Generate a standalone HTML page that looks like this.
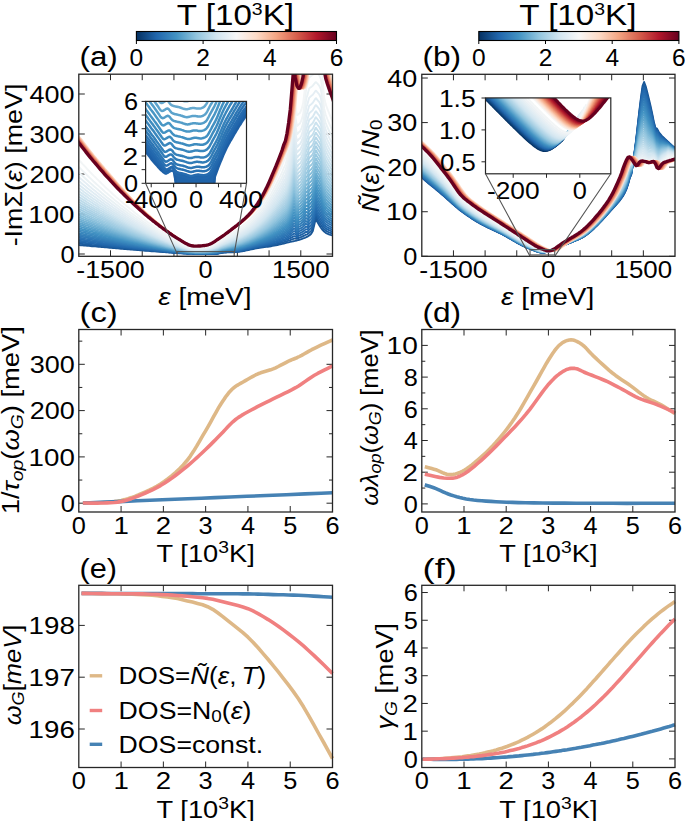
<!DOCTYPE html><html><head><meta charset="utf-8"><style>html,body{margin:0;padding:0;background:#fff;overflow:hidden;width:685px;height:821px;}svg{display:block;}</style></head><body><svg width="685" height="821" viewBox="0 0 685 821" font-family='"Liberation Sans", sans-serif'>
<rect width="685" height="821" fill="#fff"/>
<defs>
<linearGradient id="cb"><stop offset="0.00" stop-color="#053061"/><stop offset="0.05" stop-color="#134b86"/><stop offset="0.10" stop-color="#2166ac"/><stop offset="0.15" stop-color="#327cb8"/><stop offset="0.20" stop-color="#4393c3"/><stop offset="0.25" stop-color="#6aacd0"/><stop offset="0.30" stop-color="#92c5de"/><stop offset="0.35" stop-color="#b2d5e7"/><stop offset="0.40" stop-color="#d1e5f0"/><stop offset="0.45" stop-color="#e4eef4"/><stop offset="0.50" stop-color="#f7f7f7"/><stop offset="0.55" stop-color="#fae9df"/><stop offset="0.60" stop-color="#fddbc7"/><stop offset="0.65" stop-color="#f8c0a4"/><stop offset="0.70" stop-color="#f4a582"/><stop offset="0.75" stop-color="#e58268"/><stop offset="0.80" stop-color="#d6604d"/><stop offset="0.85" stop-color="#c43c3c"/><stop offset="0.90" stop-color="#b2182b"/><stop offset="0.95" stop-color="#8c0c25"/><stop offset="1.00" stop-color="#67001f"/></linearGradient>
<clipPath id="clipA"><rect x="78.8" y="74.2" width="253.7" height="182.1"/></clipPath>
<clipPath id="clipAi"><rect x="145.6" y="101.4" width="100.9" height="81.9"/></clipPath>
<clipPath id="clipB"><rect x="421.8" y="74.3" width="253.2" height="182"/></clipPath>
<clipPath id="clipBi"><rect x="485.5" y="97.9" width="125.3" height="75.9"/></clipPath>
</defs>
<rect x="136.40" y="31.5" width="200.10" height="9" fill="url(#cb)" stroke="#000" stroke-width="1.1"/>
<path d="M136.40,44.00v-3.20M203.10,44.00v-3.20M269.80,44.00v-3.20M336.50,44.00v-3.20" stroke="#000" stroke-width="1.00" fill="none"/>
<text id="t1" transform="translate(136.40,65.60)" font-size="24.50" text-anchor="middle" >0</text>
<text id="t2" transform="translate(203.10,65.60)" font-size="24.50" text-anchor="middle" >2</text>
<text id="t3" transform="translate(269.80,65.60)" font-size="24.50" text-anchor="middle" >4</text>
<text id="t4" transform="translate(336.50,65.60)" font-size="24.50" text-anchor="middle" >6</text>
<text id="t5" transform="translate(235.45,25.00) scale(1.1444,1)" font-size="29.00" text-anchor="middle" >T [10<tspan font-size="17" dy="-10">3</tspan><tspan dy="10">K]</tspan></text>
<rect x="478.80" y="31.5" width="200.10" height="9" fill="url(#cb)" stroke="#000" stroke-width="1.1"/>
<path d="M478.80,44.00v-3.20M545.50,44.00v-3.20M612.20,44.00v-3.20M678.90,44.00v-3.20" stroke="#000" stroke-width="1.00" fill="none"/>
<text id="t6" transform="translate(478.80,65.60)" font-size="24.50" text-anchor="middle" >0</text>
<text id="t7" transform="translate(545.50,65.60)" font-size="24.50" text-anchor="middle" >2</text>
<text id="t8" transform="translate(612.20,65.60)" font-size="24.50" text-anchor="middle" >4</text>
<text id="t9" transform="translate(678.90,65.60)" font-size="24.50" text-anchor="middle" >6</text>
<text id="t10" transform="translate(577.85,25.00) scale(1.1444,1)" font-size="29.00" text-anchor="middle" >T [10<tspan font-size="17" dy="-10">3</tspan><tspan dy="10">K]</tspan></text>
<text id="t11" transform="translate(79.50,66.30) scale(1.1194,1)" font-size="28.00" text-anchor="start" >(a)</text>
<text id="t12" transform="translate(422.50,66.30) scale(1.1290,1)" font-size="28.00" text-anchor="start" >(b)</text>
<text id="t13" transform="translate(79.50,321.70) scale(1.1724,1)" font-size="28.00" text-anchor="start" >(c)</text>
<text id="t14" transform="translate(422.50,321.70) scale(1.1290,1)" font-size="28.00" text-anchor="start" >(d)</text>
<text id="t15" transform="translate(79.50,577.50) scale(1.0968,1)" font-size="28.00" text-anchor="start" >(e)</text>
<text id="t16" transform="translate(422.50,577.50) scale(1.3043,1)" font-size="28.00" text-anchor="start" >(f)</text>
<path d="M110.51,256.30v-6.00M110.51,74.20v6.00M142.23,256.30v-6.00M142.23,74.20v6.00M173.94,256.30v-6.00M173.94,74.20v6.00M205.65,256.30v-6.00M205.65,74.20v6.00M237.36,256.30v-6.00M237.36,74.20v6.00M269.07,256.30v-6.00M269.07,74.20v6.00M300.79,256.30v-6.00M300.79,74.20v6.00" stroke="#262626" stroke-width="1.00" fill="none"/>
<path d="M78.80,254.00h6.00M332.50,254.00h-6.00M78.80,214.00h6.00M332.50,214.00h-6.00M78.80,174.00h6.00M332.50,174.00h-6.00M78.80,134.00h6.00M332.50,134.00h-6.00M78.80,94.00h6.00M332.50,94.00h-6.00" stroke="#262626" stroke-width="1.00" fill="none"/>
<text id="t17" transform="translate(110.51,277.65) scale(1.0918,1)" font-size="24.50" text-anchor="middle" >-1500</text>
<text id="t18" transform="translate(205.65,277.65) scale(1.0333,1)" font-size="24.50" text-anchor="middle" >0</text>
<text id="t19" transform="translate(300.79,277.65) scale(1.0577,1)" font-size="24.50" text-anchor="middle" >1500</text>
<text id="t20" transform="translate(74.50,262.70) scale(1.0333,1)" font-size="24.50" text-anchor="end" >0</text>
<text id="t21" transform="translate(74.50,222.70) scale(1.1316,1)" font-size="24.50" text-anchor="end" >100</text>
<text id="t22" transform="translate(74.50,182.70) scale(1.1026,1)" font-size="24.50" text-anchor="end" >200</text>
<text id="t23" transform="translate(74.50,142.70) scale(1.1026,1)" font-size="24.50" text-anchor="end" >300</text>
<text id="t24" transform="translate(74.50,102.70) scale(1.1026,1)" font-size="24.50" text-anchor="end" >400</text>
<text id="t25" transform="translate(21.90,165.00) rotate(-90) scale(1.1196,1)" font-size="24.00" text-anchor="middle" >-Im&#931;(<tspan font-style="italic">&#949;</tspan>) [meV]</text>
<text id="t26" transform="translate(204.90,304.70) scale(1.1667,1)" font-size="24.00" text-anchor="middle" ><tspan font-style="italic">&#949;</tspan> [meV]</text>
<path d="M453.45,256.30v-6.00M453.45,74.30v6.00M485.10,256.30v-6.00M485.10,74.30v6.00M516.75,256.30v-6.00M516.75,74.30v6.00M548.40,256.30v-6.00M548.40,74.30v6.00M580.05,256.30v-6.00M580.05,74.30v6.00M611.70,256.30v-6.00M611.70,74.30v6.00M643.35,256.30v-6.00M643.35,74.30v6.00" stroke="#262626" stroke-width="1.00" fill="none"/>
<path d="M421.80,256.30h6.00M675.00,256.30h-6.00M421.80,211.73h6.00M675.00,211.73h-6.00M421.80,167.16h6.00M675.00,167.16h-6.00M421.80,122.59h6.00M675.00,122.59h-6.00M421.80,78.02h6.00M675.00,78.02h-6.00" stroke="#262626" stroke-width="1.00" fill="none"/>
<text id="t27" transform="translate(453.45,277.65) scale(1.0918,1)" font-size="24.50" text-anchor="middle" >-1500</text>
<text id="t28" transform="translate(548.40,277.65) scale(1.0333,1)" font-size="24.50" text-anchor="middle" >0</text>
<text id="t29" transform="translate(643.35,277.65) scale(1.0577,1)" font-size="24.50" text-anchor="middle" >1500</text>
<text id="t30" transform="translate(417.30,265.00) scale(1.0333,1)" font-size="24.50" text-anchor="end" >0</text>
<text id="t31" transform="translate(417.30,220.43) scale(1.1458,1)" font-size="24.50" text-anchor="end" >10</text>
<text id="t32" transform="translate(417.30,175.86) scale(1.1000,1)" font-size="24.50" text-anchor="end" >20</text>
<text id="t33" transform="translate(417.30,131.29) scale(1.1000,1)" font-size="24.50" text-anchor="end" >30</text>
<text id="t34" transform="translate(417.30,86.72) scale(1.1000,1)" font-size="24.50" text-anchor="end" >40</text>
<text id="t35" transform="translate(378.80,166.00) rotate(-90) scale(1.1037,1)" font-size="24.00" text-anchor="middle" ><tspan font-style="italic">&#209;</tspan>(<tspan font-style="italic">&#949;</tspan>) /<tspan font-style="italic">N</tspan><tspan font-size="17" dy="3.5">0</tspan></text>
<text id="t36" transform="translate(547.70,304.70) scale(1.1667,1)" font-size="24.00" text-anchor="middle" ><tspan font-style="italic">&#949;</tspan> [meV]</text>
<path d="M121.08,512.00v-6.00M121.08,329.50v6.00M163.37,512.00v-6.00M163.37,329.50v6.00M205.65,512.00v-6.00M205.65,329.50v6.00M247.93,512.00v-6.00M247.93,329.50v6.00M290.22,512.00v-6.00M290.22,329.50v6.00" stroke="#262626" stroke-width="1.00" fill="none"/>
<text id="t37" transform="translate(78.80,533.95) scale(1.0333,1)" font-size="24.50" text-anchor="middle" >0</text>
<text id="t38" transform="translate(121.08,533.95) scale(1.1273,1)" font-size="24.50" text-anchor="middle" >1</text>
<text id="t39" transform="translate(163.37,533.95) scale(1.1273,1)" font-size="24.50" text-anchor="middle" >2</text>
<text id="t40" transform="translate(205.65,533.95) scale(1.0333,1)" font-size="24.50" text-anchor="middle" >3</text>
<text id="t41" transform="translate(247.93,533.95) scale(1.0333,1)" font-size="24.50" text-anchor="middle" >4</text>
<text id="t42" transform="translate(290.22,533.95) scale(1.0333,1)" font-size="24.50" text-anchor="middle" >5</text>
<text id="t43" transform="translate(332.50,533.95) scale(1.0333,1)" font-size="24.50" text-anchor="middle" >6</text>
<text id="t44" transform="translate(205.65,562.30) scale(1.1357,1)" font-size="24.00" text-anchor="middle" >T [10<tspan font-size="17" dy="-9">3</tspan><tspan dy="9">K]</tspan></text>
<path d="M464.00,512.00v-6.00M464.00,329.50v6.00M506.20,512.00v-6.00M506.20,329.50v6.00M548.40,512.00v-6.00M548.40,329.50v6.00M590.60,512.00v-6.00M590.60,329.50v6.00M632.80,512.00v-6.00M632.80,329.50v6.00" stroke="#262626" stroke-width="1.00" fill="none"/>
<text id="t45" transform="translate(421.80,533.95) scale(1.0333,1)" font-size="24.50" text-anchor="middle" >0</text>
<text id="t46" transform="translate(464.00,533.95) scale(1.1273,1)" font-size="24.50" text-anchor="middle" >1</text>
<text id="t47" transform="translate(506.20,533.95) scale(1.1273,1)" font-size="24.50" text-anchor="middle" >2</text>
<text id="t48" transform="translate(548.40,533.95) scale(1.0333,1)" font-size="24.50" text-anchor="middle" >3</text>
<text id="t49" transform="translate(590.60,533.95) scale(1.0333,1)" font-size="24.50" text-anchor="middle" >4</text>
<text id="t50" transform="translate(632.80,533.95) scale(1.0333,1)" font-size="24.50" text-anchor="middle" >5</text>
<text id="t51" transform="translate(675.00,533.95) scale(1.0333,1)" font-size="24.50" text-anchor="middle" >6</text>
<text id="t52" transform="translate(548.40,562.30) scale(1.1357,1)" font-size="24.00" text-anchor="middle" >T [10<tspan font-size="17" dy="-9">3</tspan><tspan dy="9">K]</tspan></text>
<path d="M121.08,767.50v-6.00M121.08,585.30v6.00M163.37,767.50v-6.00M163.37,585.30v6.00M205.65,767.50v-6.00M205.65,585.30v6.00M247.93,767.50v-6.00M247.93,585.30v6.00M290.22,767.50v-6.00M290.22,585.30v6.00" stroke="#262626" stroke-width="1.00" fill="none"/>
<text id="t53" transform="translate(78.80,789.45) scale(1.0333,1)" font-size="24.50" text-anchor="middle" >0</text>
<text id="t54" transform="translate(121.08,789.45) scale(1.1273,1)" font-size="24.50" text-anchor="middle" >1</text>
<text id="t55" transform="translate(163.37,789.45) scale(1.1273,1)" font-size="24.50" text-anchor="middle" >2</text>
<text id="t56" transform="translate(205.65,789.45) scale(1.0333,1)" font-size="24.50" text-anchor="middle" >3</text>
<text id="t57" transform="translate(247.93,789.45) scale(1.0333,1)" font-size="24.50" text-anchor="middle" >4</text>
<text id="t58" transform="translate(290.22,789.45) scale(1.0333,1)" font-size="24.50" text-anchor="middle" >5</text>
<text id="t59" transform="translate(332.50,789.45) scale(1.0333,1)" font-size="24.50" text-anchor="middle" >6</text>
<text id="t60" transform="translate(205.65,817.80) scale(1.1357,1)" font-size="24.00" text-anchor="middle" >T [10<tspan font-size="17" dy="-9">3</tspan><tspan dy="9">K]</tspan></text>
<path d="M464.00,767.50v-6.00M464.00,585.30v6.00M506.20,767.50v-6.00M506.20,585.30v6.00M548.40,767.50v-6.00M548.40,585.30v6.00M590.60,767.50v-6.00M590.60,585.30v6.00M632.80,767.50v-6.00M632.80,585.30v6.00" stroke="#262626" stroke-width="1.00" fill="none"/>
<text id="t61" transform="translate(421.80,789.45) scale(1.0333,1)" font-size="24.50" text-anchor="middle" >0</text>
<text id="t62" transform="translate(464.00,789.45) scale(1.1273,1)" font-size="24.50" text-anchor="middle" >1</text>
<text id="t63" transform="translate(506.20,789.45) scale(1.1273,1)" font-size="24.50" text-anchor="middle" >2</text>
<text id="t64" transform="translate(548.40,789.45) scale(1.0333,1)" font-size="24.50" text-anchor="middle" >3</text>
<text id="t65" transform="translate(590.60,789.45) scale(1.0333,1)" font-size="24.50" text-anchor="middle" >4</text>
<text id="t66" transform="translate(632.80,789.45) scale(1.0333,1)" font-size="24.50" text-anchor="middle" >5</text>
<text id="t67" transform="translate(675.00,789.45) scale(1.0333,1)" font-size="24.50" text-anchor="middle" >6</text>
<text id="t68" transform="translate(548.40,817.80) scale(1.1357,1)" font-size="24.00" text-anchor="middle" >T [10<tspan font-size="17" dy="-9">3</tspan><tspan dy="9">K]</tspan></text>
<path d="M78.80,503.20h6.00M332.50,503.20h-6.00M78.80,456.90h6.00M332.50,456.90h-6.00M78.80,410.60h6.00M332.50,410.60h-6.00M78.80,364.30h6.00M332.50,364.30h-6.00" stroke="#262626" stroke-width="1.00" fill="none"/>
<path d="M78.80,480.05h3.50M332.50,480.05h-3.50M78.80,433.75h3.50M332.50,433.75h-3.50M78.80,387.45h3.50M332.50,387.45h-3.50M78.80,341.15h3.50M332.50,341.15h-3.50" stroke="#262626" stroke-width="1.00" fill="none"/>
<text id="t69" transform="translate(74.80,511.90) scale(1.0333,1)" font-size="24.50" text-anchor="end" >0</text>
<text id="t70" transform="translate(74.80,465.60) scale(1.1316,1)" font-size="24.50" text-anchor="end" >100</text>
<text id="t71" transform="translate(74.80,419.30) scale(1.1026,1)" font-size="24.50" text-anchor="end" >200</text>
<text id="t72" transform="translate(74.80,373.00) scale(1.1026,1)" font-size="24.50" text-anchor="end" >300</text>
<text id="t73" transform="translate(19.00,420.20) rotate(-90) scale(1.1401,1)" font-size="24.00" text-anchor="middle" >1/<tspan font-style="italic">&#964;</tspan><tspan font-size="17" dy="3.5" font-style="italic">op</tspan><tspan dy="-3.5">(</tspan><tspan font-style="italic">&#969;</tspan><tspan font-size="17" dy="3.5" font-style="italic">G</tspan><tspan dy="-3.5">) [meV]</tspan></text>
<path d="M421.80,503.90h6.00M675.00,503.90h-6.00M421.80,472.20h6.00M675.00,472.20h-6.00M421.80,440.50h6.00M675.00,440.50h-6.00M421.80,408.80h6.00M675.00,408.80h-6.00M421.80,377.10h6.00M675.00,377.10h-6.00M421.80,345.40h6.00M675.00,345.40h-6.00" stroke="#262626" stroke-width="1.00" fill="none"/>
<path d="M421.80,488.05h3.50M675.00,488.05h-3.50M421.80,456.35h3.50M675.00,456.35h-3.50M421.80,424.65h3.50M675.00,424.65h-3.50M421.80,392.95h3.50M675.00,392.95h-3.50M421.80,361.25h3.50M675.00,361.25h-3.50M421.80,329.55h3.50M675.00,329.55h-3.50" stroke="#262626" stroke-width="1.00" fill="none"/>
<text id="t74" transform="translate(417.80,512.60) scale(1.0333,1)" font-size="24.50" text-anchor="end" >0</text>
<text id="t75" transform="translate(417.80,480.90) scale(1.1273,1)" font-size="24.50" text-anchor="end" >2</text>
<text id="t76" transform="translate(417.80,449.20) scale(1.0333,1)" font-size="24.50" text-anchor="end" >4</text>
<text id="t77" transform="translate(417.80,417.50) scale(1.0333,1)" font-size="24.50" text-anchor="end" >6</text>
<text id="t78" transform="translate(417.80,385.80) scale(1.0333,1)" font-size="24.50" text-anchor="end" >8</text>
<text id="t79" transform="translate(417.80,354.10) scale(1.1458,1)" font-size="24.50" text-anchor="end" >10</text>
<text id="t80" transform="translate(377.60,417.60) rotate(-90) scale(1.0585,1)" font-size="24.00" text-anchor="middle" ><tspan font-style="italic">&#969;&#955;</tspan><tspan font-size="17" dy="3.5" font-style="italic">op</tspan><tspan dy="-3.5">(</tspan><tspan font-style="italic">&#969;</tspan><tspan font-size="17" dy="3.5" font-style="italic">G</tspan><tspan dy="-3.5">) [meV]</tspan></text>
<path d="M78.80,729.00h6.00M332.50,729.00h-6.00M78.80,677.20h6.00M332.50,677.20h-6.00M78.80,625.40h6.00M332.50,625.40h-6.00" stroke="#262626" stroke-width="1.00" fill="none"/>
<text id="t81" transform="translate(74.80,737.70) scale(1.1316,1)" font-size="24.50" text-anchor="end" >196</text>
<text id="t82" transform="translate(74.80,685.90) scale(1.1316,1)" font-size="24.50" text-anchor="end" >197</text>
<text id="t83" transform="translate(74.80,634.10) scale(1.1316,1)" font-size="24.50" text-anchor="end" >198</text>
<text id="t84" transform="translate(20.60,675.00) rotate(-90) scale(1.0630,1)" font-size="24.00" text-anchor="middle" ><tspan font-style="italic">&#969;</tspan><tspan font-size="17" dy="3.5" font-style="italic">G</tspan><tspan dy="-3.5">[</tspan><tspan font-style="italic">meV</tspan>]</text>
<path d="M421.80,758.90h6.00M675.00,758.90h-6.00M421.80,731.17h6.00M675.00,731.17h-6.00M421.80,703.44h6.00M675.00,703.44h-6.00M421.80,675.71h6.00M675.00,675.71h-6.00M421.80,647.98h6.00M675.00,647.98h-6.00M421.80,620.25h6.00M675.00,620.25h-6.00M421.80,592.52h6.00M675.00,592.52h-6.00" stroke="#262626" stroke-width="1.00" fill="none"/>
<text id="t85" transform="translate(417.80,767.60) scale(1.0333,1)" font-size="24.50" text-anchor="end" >0</text>
<text id="t86" transform="translate(417.80,739.87) scale(1.1273,1)" font-size="24.50" text-anchor="end" >1</text>
<text id="t87" transform="translate(417.80,712.14) scale(1.1273,1)" font-size="24.50" text-anchor="end" >2</text>
<text id="t88" transform="translate(417.80,684.41) scale(1.0333,1)" font-size="24.50" text-anchor="end" >3</text>
<text id="t89" transform="translate(417.80,656.68) scale(1.0333,1)" font-size="24.50" text-anchor="end" >4</text>
<text id="t90" transform="translate(417.80,628.95) scale(1.0333,1)" font-size="24.50" text-anchor="end" >5</text>
<text id="t91" transform="translate(417.80,601.22) scale(1.0333,1)" font-size="24.50" text-anchor="end" >6</text>
<text id="t92" transform="translate(393.20,676.30) rotate(-90) scale(1.1272,1)" font-size="24.00" text-anchor="middle" ><tspan font-style="italic">&#947;</tspan><tspan font-size="17" dy="3.5" font-style="italic">G</tspan><tspan dy="-3.5"> [meV]</tspan></text>
<path d="M82.90,503.00 L84.78,502.99 L87.35,503.00 L90.41,503.01 L93.75,502.98 L97.18,502.90 L100.50,502.74 L103.77,502.53 L107.17,502.30 L110.66,502.02 L114.19,501.64 L117.72,501.13 L121.20,500.45 L124.62,499.62 L128.00,498.66 L131.39,497.57 L134.80,496.34 L138.26,494.98 L141.80,493.47 L145.44,491.86 L149.16,490.17 L152.93,488.34 L156.73,486.32 L160.53,484.06 L164.30,481.50 L168.09,478.66 L171.94,475.59 L175.78,472.28 L179.57,468.71 L183.26,464.89 L186.80,460.80 L190.19,456.30 L193.48,451.35 L196.67,446.15 L199.75,440.87 L202.73,435.69 L205.60,430.80 L208.36,426.07 L211.02,421.34 L213.57,416.71 L216.02,412.29 L218.36,408.19 L220.60,404.50 L222.69,401.26 L224.61,398.39 L226.43,395.82 L228.20,393.53 L229.97,391.44 L231.80,389.50 L233.63,387.82 L235.42,386.47 L237.21,385.32 L239.06,384.27 L241.00,383.20 L243.10,382.00 L245.39,380.64 L247.83,379.20 L250.37,377.74 L252.96,376.31 L255.56,374.98 L258.10,373.80 L260.60,372.82 L263.10,372.02 L265.60,371.31 L268.10,370.60 L270.60,369.83 L273.10,368.90 L275.64,367.77 L278.24,366.50 L280.83,365.15 L283.37,363.80 L285.81,362.53 L288.10,361.40 L290.15,360.47 L292.00,359.70 L293.75,358.99 L295.50,358.28 L297.35,357.48 L299.40,356.50 L301.65,355.33 L304.01,354.01 L306.47,352.61 L309.03,351.16 L311.68,349.71 L314.40,348.30 L317.45,346.83 L320.87,345.23 L324.39,343.64 L327.69,342.16 L330.49,340.90 L332.50,340.00" fill="none" stroke="#deb887" stroke-width="3.60" stroke-linejoin="round" stroke-linecap="butt"/>
<path d="M82.90,503.00 L90.05,502.71 L99.82,502.32 L111.45,501.86 L124.19,501.34 L137.29,500.82 L150.00,500.30 L162.33,499.80 L174.88,499.28 L187.79,498.74 L201.19,498.19 L215.22,497.61 L230.00,497.00 L246.97,496.30 L266.30,495.51 L286.25,494.69 L305.09,493.92 L321.09,493.27 L332.50,492.80" fill="none" stroke="#4682b4" stroke-width="3.60" stroke-linejoin="round" stroke-linecap="butt"/>
<path d="M82.90,503.00 L84.78,503.02 L87.35,503.06 L90.41,503.11 L93.75,503.14 L97.18,503.12 L100.50,503.04 L103.77,502.94 L107.17,502.86 L110.66,502.74 L114.19,502.51 L117.72,502.14 L121.20,501.56 L124.62,500.76 L128.00,499.79 L131.39,498.67 L134.80,497.42 L138.26,496.05 L141.80,494.57 L145.44,493.00 L149.16,491.34 L152.93,489.55 L156.73,487.62 L160.53,485.55 L164.30,483.30 L168.09,480.82 L171.94,478.12 L175.78,475.26 L179.57,472.32 L183.26,469.38 L186.80,466.50 L190.19,463.66 L193.48,460.77 L196.67,457.89 L199.75,455.03 L202.73,452.22 L205.60,449.50 L208.32,446.88 L210.88,444.35 L213.34,441.88 L215.74,439.43 L218.14,436.98 L220.60,434.50 L223.06,431.96 L225.46,429.36 L227.86,426.76 L230.32,424.22 L232.88,421.78 L235.60,419.50 L238.51,417.39 L241.59,415.42 L244.77,413.55 L248.00,411.76 L251.23,410.02 L254.40,408.30 L257.48,406.65 L260.50,405.10 L263.52,403.60 L266.59,402.10 L269.76,400.55 L273.10,398.90 L276.67,397.15 L280.46,395.34 L284.34,393.49 L288.23,391.59 L292.02,389.66 L295.60,387.70 L298.96,385.67 L302.17,383.54 L305.27,381.38 L308.32,379.25 L311.35,377.20 L314.40,375.30 L317.67,373.46 L321.16,371.63 L324.62,369.88 L327.83,368.30 L330.54,366.98 L332.50,366.00" fill="none" stroke="#f08080" stroke-width="3.60" stroke-linejoin="round" stroke-linecap="butt"/>
<path d="M424.80,466.80 L426.00,467.11 L427.63,467.51 L429.58,468.00 L431.71,468.56 L433.89,469.16 L436.00,469.80 L438.07,470.59 L440.22,471.56 L442.42,472.58 L444.66,473.51 L446.89,474.22 L449.10,474.57 L451.27,474.58 L453.43,474.35 L455.58,473.90 L457.76,473.23 L459.99,472.35 L462.30,471.27 L464.65,469.98 L467.03,468.48 L469.46,466.77 L471.96,464.86 L474.57,462.74 L477.30,460.42 L480.20,457.89 L483.26,455.14 L486.41,452.19 L489.62,449.05 L492.83,445.74 L496.00,442.28 L499.13,438.68 L502.26,434.92 L505.39,431.00 L508.53,426.89 L511.67,422.56 L514.80,418.00 L517.98,413.06 L521.21,407.72 L524.44,402.18 L527.61,396.60 L530.69,391.18 L533.60,386.10 L536.36,381.26 L539.02,376.50 L541.58,371.89 L544.02,367.52 L546.36,363.46 L548.60,359.80 L550.69,356.53 L552.61,353.59 L554.43,350.96 L556.20,348.63 L557.97,346.58 L559.80,344.80 L561.68,343.29 L563.56,342.06 L565.44,341.11 L567.33,340.43 L569.22,340.03 L571.10,339.90 L572.98,340.08 L574.87,340.57 L576.76,341.34 L578.64,342.33 L580.52,343.50 L582.40,344.80 L584.18,346.25 L585.86,347.89 L587.53,349.70 L589.31,351.68 L591.29,353.82 L593.60,356.10 L596.29,358.64 L599.31,361.46 L602.53,364.44 L605.86,367.44 L609.18,370.34 L612.40,373.00 L615.57,375.43 L618.78,377.72 L621.99,379.91 L625.14,382.01 L628.20,384.07 L631.10,386.10 L633.81,388.12 L636.37,390.11 L638.83,392.05 L641.24,393.91 L643.64,395.67 L646.10,397.30 L648.61,398.75 L651.14,400.03 L653.67,401.20 L656.18,402.34 L658.66,403.52 L661.10,404.80 L663.64,406.29 L666.33,407.96 L668.99,409.67 L671.44,411.27 L673.50,412.63 L675.00,413.60" fill="none" stroke="#deb887" stroke-width="3.60" stroke-linejoin="round" stroke-linecap="butt"/>
<path d="M424.80,484.80 L425.97,485.18 L427.56,485.69 L429.46,486.30 L431.57,487.00 L433.78,487.77 L436.00,488.60 L438.24,489.54 L440.58,490.61 L443.02,491.76 L445.58,492.91 L448.24,494.01 L451.00,495.00 L453.83,495.89 L456.71,496.73 L459.70,497.51 L462.84,498.24 L466.19,498.91 L469.80,499.50 L473.61,500.01 L477.56,500.44 L481.73,500.81 L486.15,501.13 L490.89,501.42 L496.00,501.70 L501.27,501.97 L506.62,502.20 L512.29,502.41 L518.51,502.60 L525.53,502.76 L533.60,502.90 L542.90,503.02 L553.28,503.11 L564.46,503.17 L576.16,503.23 L588.10,503.27 L600.00,503.30 L612.87,503.32 L627.14,503.33 L641.65,503.32 L655.24,503.31 L666.74,503.30 L675.00,503.30" fill="none" stroke="#4682b4" stroke-width="3.60" stroke-linejoin="round" stroke-linecap="butt"/>
<path d="M424.80,474.30 L427.33,474.82 L430.91,475.61 L435.11,476.52 L439.52,477.38 L443.72,478.03 L447.30,478.32 L450.19,478.32 L452.72,478.16 L455.04,477.80 L457.30,477.18 L459.67,476.25 L462.30,474.97 L465.16,473.29 L468.12,471.25 L471.18,468.91 L474.35,466.31 L477.62,463.50 L481.00,460.53 L484.53,457.34 L488.22,453.87 L492.01,450.19 L495.86,446.37 L499.71,442.48 L503.50,438.60 L507.25,434.74 L511.00,430.86 L514.74,426.90 L518.49,422.84 L522.24,418.62 L526.00,414.20 L529.85,409.33 L533.81,403.99 L537.77,398.49 L541.63,393.16 L545.27,388.29 L548.60,384.20 L551.58,380.92 L554.30,378.20 L556.81,375.94 L559.16,374.07 L561.41,372.49 L563.60,371.10 L565.69,369.96 L567.61,369.16 L569.43,368.64 L571.20,368.37 L572.97,368.31 L574.80,368.40 L576.59,368.71 L578.28,369.29 L579.97,370.06 L581.77,370.98 L583.78,371.98 L586.10,373.00 L588.84,374.08 L591.95,375.29 L595.27,376.57 L598.64,377.89 L601.90,379.22 L604.90,380.50 L607.58,381.72 L610.04,382.90 L612.41,384.09 L614.77,385.31 L617.23,386.60 L619.90,388.00 L622.80,389.57 L625.86,391.30 L629.01,393.10 L632.22,394.89 L635.43,396.58 L638.60,398.10 L641.74,399.40 L644.90,400.54 L648.07,401.58 L651.22,402.60 L654.33,403.65 L657.40,404.80 L660.61,406.15 L664.01,407.67 L667.38,409.22 L670.48,410.68 L673.10,411.91 L675.00,412.80" fill="none" stroke="#f08080" stroke-width="3.60" stroke-linejoin="round" stroke-linecap="butt"/>
<path d="M81.5 593.4l5 .1 5.1 0 5 .1 5.1 0 5 .1 5.1 0 5 .1 5.1 .1 5 .2 5.1 .2 5 .2 5 .2 5.1 .3 5 .3 5.1 .5 5 .6 5.1 .6 5 .7 5.1 .9 5 1.1 5 1.2 5.1 1.2 5 1.3 5.1 1.4 5 1.9 5.1 2.6 5 3.5 5.1 3.8 5 4 5.1 4 5 4 5 4.1 5.1 4.5 5 5 5.1 5.6 5 5.8 5.1 5.9 5 6.1 5.1 6.3 5 6.4 5.1 6.6 5 6.7 5 7.2 5.1 8 5 8.6 5.1 9 5 9.1 5.1 9 5 9.2 3.8 6.8" fill="none" stroke="#deb887" stroke-width="3.60" stroke-linejoin="round"/>
<path d="M81.5 593.4l5 0 5.1 0 5 0 5.1 0 5 .1 5.1 0 5 0 5.1 0 5 0 5.1 0 5 0 5 0 5.1 0 5 .1 5.1 0 5 0 5.1 0 5 0 5.1 0 5 0 5 0 5.1 0 5 .1 5.1 0 5 0 5.1 0 5 0 5.1 .1 5 0 5.1 0 5 0 5 .1 5.1 0 5 .1 5.1 .1 5 .2 5.1 .1 5 .2 5.1 .1 5 .1 5.1 .2 5 .1 5 .2 5.1 .2 5 .3 5.1 .3 5 .3 5.1 .3 5 .3 3.8 .2" fill="none" stroke="#4682b4" stroke-width="3.60" stroke-linejoin="round"/>
<path d="M81.5 593.4l5 0 5.1 .1 5 0 5.1 .1 5 0 5.1 .1 5 0 5.1 .1 5 0 5.1 0 5 .1 5 0 5.1 .1 5 .2 5.1 .2 5 .2 5.1 .2 5 .3 5.1 .4 5 .4 5 .4 5.1 .5 5 .5 5.1 .5 5 .6 5.1 .9 5 1.1 5.1 1.3 5 1.3 5.1 1.3 5 1.3 5 1.4 5.1 1.7 5 2.2 5.1 2.7 5 2.9 5.1 3.1 5 3.2 5.1 3.4 5 3.7 5.1 3.8 5 3.9 5 4 5.1 4.3 5 4.6 5.1 4.6 5 4.8 5.1 4.9 5 5 3.8 3.7" fill="none" stroke="#f08080" stroke-width="3.60" stroke-linejoin="round"/>
<path d="M422.5 759.2l2.8 0 2.9-.1 2.8-.1 2.8-.1 2.9-.1 2.8-.1 2.9-.2 2.8-.2 2.8-.2 2.9-.2 2.8-.3 2.8-.3 2.9-.3 2.8-.3 2.9-.4 2.8-.4 2.8-.4 2.9-.5 2.8-.5 2.8-.5 2.9-.6 2.8-.6 2.9-.7 2.8-.7 2.8-.7 2.9-.8 2.8-.9 2.8-.8 2.9-1 2.8-1 2.8-1.1 2.9-1.1 2.8-1.2 2.9-1.2 2.8-1.4 2.8-1.4 2.9-1.4 2.8-1.6 2.8-1.6 2.9-1.7 2.8-1.8 2.9-1.8 2.8-1.9 2.8-2.1 2.9-2.1 2.8-2.2 2.8-2.2 2.9-2.4 2.8-2.4 2.9-2.5 2.8-2.6 2.8-2.7 2.9-2.7 2.8-2.8 2.8-2.9 2.9-3 2.8-3 2.9-3 2.8-3.1 2.8-3.2 2.9-3.1 2.8-3.2 2.8-3.2 2.9-3.3 2.8-3.2 2.8-3.3 2.9-3.2 2.8-3.2 2.9-3.2 2.8-3.2 2.8-3.1 2.9-3.1 2.8-3 2.8-3 2.9-3 2.8-2.8 2.9-2.8 2.8-2.8 2.8-2.6 2.9-2.6 2.8-2.5 2.8-2.4 2.9-2.4 2.8-2.2 2.9-2.2 2.8-2.1 2.8-2 2.9-1.9 2.8-1.9" fill="none" stroke="#deb887" stroke-width="3.60" stroke-linejoin="round"/>
<path d="M422.5 759.1l2.8 .1 2.9 .1 2.8 0 2.8 .1 2.9 0 2.8 0 2.9 0 2.8 .1 2.8-.1 2.9 0 2.8 0 2.8 0 2.9-.1 2.8 0 2.9-.1 2.8-.1 2.8-.1 2.9-.1 2.8-.1 2.8-.1 2.9-.1 2.8-.2 2.9-.1 2.8-.2 2.8-.2 2.9-.2 2.8-.2 2.8-.2 2.9-.2 2.8-.2 2.8-.3 2.9-.2 2.8-.3 2.9-.2 2.8-.3 2.8-.3 2.9-.3 2.8-.3 2.8-.3 2.9-.4 2.8-.3 2.9-.4 2.8-.3 2.8-.4 2.9-.4 2.8-.4 2.8-.4 2.9-.4 2.8-.4 2.9-.5 2.8-.4 2.8-.5 2.9-.5 2.8-.4 2.8-.5 2.9-.5 2.8-.6 2.9-.5 2.8-.5 2.8-.6 2.9-.5 2.8-.6 2.8-.5 2.9-.6 2.8-.6 2.8-.6 2.9-.7 2.8-.6 2.9-.6 2.8-.7 2.8-.6 2.9-.7 2.8-.7 2.8-.7 2.9-.7 2.8-.7 2.9-.7 2.8-.8 2.8-.7 2.9-.8 2.8-.7 2.8-.8 2.9-.8 2.8-.8 2.9-.8 2.8-.8 2.8-.8 2.9-.9 2.8-.8" fill="none" stroke="#4682b4" stroke-width="3.60" stroke-linejoin="round"/>
<path d="M422.5 759.2l2.8 0 2.9-.1 2.8 0 2.8-.1 2.9-.1 2.8-.1 2.9-.1 2.8-.1 2.8-.1 2.9-.2 2.8-.2 2.8-.1 2.9-.2 2.8-.2 2.9-.3 2.8-.2 2.8-.3 2.9-.2 2.8-.3 2.8-.4 2.9-.3 2.8-.4 2.9-.4 2.8-.4 2.8-.4 2.9-.5 2.8-.5 2.8-.6 2.9-.5 2.8-.6 2.8-.7 2.9-.7 2.8-.7 2.9-.7 2.8-.9 2.8-.8 2.9-.9 2.8-1 2.8-1 2.9-1 2.8-1.2 2.9-1.1 2.8-1.3 2.8-1.3 2.9-1.4 2.8-1.4 2.8-1.5 2.9-1.6 2.8-1.7 2.9-1.7 2.8-1.8 2.8-1.9 2.9-1.9 2.8-2.1 2.8-2.1 2.9-2.2 2.8-2.3 2.9-2.4 2.8-2.4 2.8-2.5 2.9-2.6 2.8-2.7 2.8-2.7 2.9-2.8 2.8-2.9 2.8-2.9 2.9-3 2.8-3.1 2.9-3.1 2.8-3.1 2.8-3.2 2.9-3.2 2.8-3.2 2.8-3.2 2.9-3.3 2.8-3.2 2.9-3.3 2.8-3.2 2.8-3.3 2.9-3.2 2.8-3.2 2.8-3.1 2.9-3.1 2.8-3.1 2.9-3 2.8-2.9 2.8-2.9 2.9-2.9 2.8-2.7" fill="none" stroke="#f08080" stroke-width="3.60" stroke-linejoin="round"/>
<path d="M89.7,675.80H102.2" stroke="#deb887" stroke-width="3.4"/>
<path d="M89.7,710.50H102.2" stroke="#f08080" stroke-width="3.4"/>
<path d="M89.7,744.30H102.2" stroke="#4682b4" stroke-width="3.4"/>
<text id="t93" transform="translate(118.60,684.10) scale(1.0850,1)" font-size="24.00" text-anchor="start" >DOS=<tspan font-style="italic">&#209;</tspan>(<tspan font-style="italic">&#949;</tspan>,&#8201;<tspan font-style="italic">T</tspan>)</text>
<text id="t94" transform="translate(118.60,718.80) scale(1.1121,1)" font-size="24.00" text-anchor="start" >DOS=N<tspan font-size="17" dy="3.5">0</tspan><tspan dy="-3.5">(</tspan><tspan font-style="italic">&#949;</tspan>)</text>
<text id="t95" transform="translate(118.60,752.60) scale(1.1119,1)" font-size="24.00" text-anchor="start" >DOS=const.</text>
<g clip-path="url(#clipA)" fill="none" stroke-width="1.90" stroke-linejoin="round"><path d="M77.5 245l1.6 .1 1.7 .1 1.6 .2 1.6 .1 1.6 .1 1.6 .2 1.6 .1 1.6 .1 1.6 .2 1.6 .1 1.7 .1 1.6 .2 1.6 .1 1.6 .2 1.6 .1 1.6 .1 1.6 .2 1.6 .1 1.7 .1 1.6 .2 1.6 .1 1.6 .2 1.6 .1 1.6 .2 1.6 .1 1.6 .1 1.6 .2 1.7 .1 1.6 .2 1.6 .1 1.6 .1 1.6 .2 1.6 .1 1.6 .1 1.6 .2 1.6 .1 1.7 .1 1.6 .1 1.6 .2 1.6 .1 1.6 .1 1.6 .2 1.6 .1 1.6 .1 1.7 .1 1.6 .2 1.6 .1 1.6 .1 1.6 .1 1.6 .1 1.6 .2 1.6 .1 1.6 .1 1.7 .1 1.6 .1 1.6 .2 1.6 .1 1.6 .1 1.6 .1 1.6 .1 1.6 .1 1.6 .2 1.7 .1 1.6 .1 1.6 .1 1.6 .1 1.6 .1 1.6 .1 1.6 0 1.6-.1 1.7 0 1.6 .2 1.6 .2 1.6 0 1.6 0 1.6 0 1.6 0 1.6 0 1.6 0 1.7 0 1.6 0 1.6 0 1.6 0 1.6 0 1.6 0 1.6 0 1.6-.2 1.6-.4 1.7-.4 1.6-.2 1.6-.2 1.6-.1 1.6-.1 1.6-.1 1.6-.1 1.6 0 1.7-.1 1.6-.1 1.6-.1 1.6-.1 1.6-.3 1.6-.2 1.6-.3 1.6-.3 1.6-.4 1.7-.3 1.6-.4 1.6-.3 1.6-.3 1.6-.4 1.6-.3 1.6-.2 1.6-.3 1.6-.2 1.7-.3 1.6-.2 1.6-.2 1.6-.2 1.6-.2 1.6-.3 1.6-.3 1.6-.3 1.7-.3 1.6-.3 1.6-.4 1.6-.4 1.6-.3 1.6-.4 1.6-.4 1.6-.4 1.6-.4 1.7-.4 1.6-.3 1.6-.4 .6-.1 1-.2 .1-.1 1.5-.3 .3-.1 1.3-.3 .5-.1 .1-.1 1-.3 1.6-.5 1.6-.7 1.7-.6 .9-.4 .7-.3 1-.5 .6-.3 1.2-.8 .4-.2 1.6-1.5 1.6-2.7 1.6-6.8 1.2-5.5 .4-.3 1.7 4.1 1.6 2.6 1.6 2.5 1.6 2.2 1.6 1.7 1.6 1.2 1.6 .8 1.6 .7 1.6 .6 1.7 .5 1.6 .4" stroke="#195696"/><path d="M77.5 243.5l1.6 .2 1.7 .1 1.6 .2 1.6 .2 1.6 .1 1.6 .2 1.6 .1 1.6 .2 1.6 .2 1.6 .1 1.7 .2 1.6 .1 1.6 .2 1.6 .2 1.6 .1 1.6 .2 1.6 .1 1.6 .2 1.7 .2 1.6 .1 1.6 .2 1.6 .2 1.6 .1 1.6 .2 1.6 .2 1.6 .1 1.6 .2 1.7 .1 1.6 .2 1.6 .2 1.6 .1 1.6 .2 1.6 .1 1.6 .2 1.6 .1 1.6 .2 1.7 .1 1.6 .2 1.6 .1 1.6 .2 1.6 .1 1.6 .1 1.6 .2 1.6 .1 1.7 .2 1.6 .1 1.6 .2 1.6 .1 1.6 .1 1.6 .2 1.6 .1 1.6 .1 1.6 .2 1.7 .1 1.6 .1 1.6 .2 1.6 .1 1.6 .1 1.6 .2 1.6 .1 1.6 .1 1.6 .2 1.7 .1 1.6 .1 1.6 .1 1.6 .1 1.6 .1 1.6 .1 1.6 .1 1.6-.1 1.7 0 1.6 .2 1.6 .2 1.6 0 1.6 0 1.6 0 1.6 0 1.6 0 1.6 0 1.7 0 1.6 0 1.6 0 1.6 0 1.6 0 1.6-.1 1.6 0 1.6-.2 1.6-.4 1.7-.4 1.6-.2 1.6-.2 1.6-.1 1.6-.2 1.6-.1 1.6-.1 1.6-.1 1.7-.1 1.6-.1 1.6-.1 1.6-.1 1.6-.3 1.6-.2 1.6-.4 1.6-.3 1.6-.4 1.7-.3 1.6-.4 1.6-.3 1.6-.4 1.6-.3 1.6-.4 1.6-.3 1.6-.3 1.6-.2 1.7-.3 1.6-.2 1.6-.3 1.6-.3 1.6-.2 1.6-.3 1.6-.4 1.6-.3 1.7-.4 1.6-.4 1.6-.4 1.6-.4 1.6-.4 1.6-.5 1.6-.4 1.6-.5 1.6-.5 1.7-.6 1.6-.7 1.6-.6 .6-.2 1 0 .1-.1 1.5 .3 .3 .1 1.3-.8 .5-.2 .1-.1 1-.3 1.6-.6 1.6-.8 1.7-.8 .9-.6 .7-.1 1-.3 .6-.5 1.2-1.2 .4-.2 1.6-1.5 1.6-2.6 1.6-6.8 1.2-5.4 .4-.3 1.7 4.1 1.6 2.6 1.6 2.5 1.6 2.3 1.6 2 1.6 1.3 1.6 .9 1.6 .8 1.6 .6 1.7 .6 1.6 .5" stroke="#1c5c9e"/><path d="M77.5 242.1l1.6 .1 1.7 .2 1.6 .2 1.6 .2 1.6 .2 1.6 .2 1.6 .2 1.6 .1 1.6 .2 1.6 .2 1.7 .2 1.6 .2 1.6 .2 1.6 .2 1.6 .1 1.6 .2 1.6 .2 1.6 .2 1.7 .2 1.6 .2 1.6 .2 1.6 .1 1.6 .2 1.6 .2 1.6 .2 1.6 .2 1.6 .2 1.7 .2 1.6 .1 1.6 .2 1.6 .2 1.6 .2 1.6 .1 1.6 .2 1.6 .2 1.6 .1 1.7 .2 1.6 .2 1.6 .1 1.6 .2 1.6 .2 1.6 .1 1.6 .2 1.6 .2 1.7 .1 1.6 .2 1.6 .1 1.6 .2 1.6 .1 1.6 .2 1.6 .1 1.6 .2 1.6 .1 1.7 .2 1.6 .1 1.6 .2 1.6 .1 1.6 .2 1.6 .1 1.6 .2 1.6 .1 1.6 .1 1.7 .2 1.6 .1 1.6 .1 1.6 .2 1.6 .1 1.6 .1 1.6 0 1.6 0 1.7 0 1.6 .2 1.6 .2 1.6 0 1.6 0 1.6 0 1.6 0 1.6 0 1.6 0 1.7 0 1.6 0 1.6 0 1.6-.1 1.6 0 1.6 0 1.6-.1 1.6-.2 1.6-.4 1.7-.4 1.6-.3 1.6-.2 1.6-.1 1.6-.1 1.6-.2 1.6-.1 1.6-.1 1.7-.1 1.6-.2 1.6-.1 1.6-.1 1.6-.3 1.6-.3 1.6-.3 1.6-.4 1.6-.3 1.7-.4 1.6-.4 1.6-.4 1.6-.3 1.6-.4 1.6-.4 1.6-.3 1.6-.3 1.6-.3 1.7-.3 1.6-.3 1.6-.3 1.6-.3 1.6-.4 1.6-.3 1.6-.4 1.6-.4 1.7-.4 1.6-.5 1.6-.4 1.6-.5 1.6-.5 1.6-.5 1.6-.5 1.6-.6 1.6-.6 1.7-.8 1.6-.9 1.6-.9 .6-.2 1 0 .1 0 1.5 .9 .3 .2 1.3-1.2 .5-.4 .1 0 1-.4 1.6-.6 1.6-.9 1.7-1.1 .9-.7 .7 0 1 0 .6-.7 1.2-1.6 .4-.3 1.6-1.4 1.6-2.6 1.6-6.7 1.2-5.3 .4-.3 1.7 4 1.6 2.6 1.6 2.5 1.6 2.5 1.6 2.3 1.6 1.4 1.6 1 1.6 .8 1.6 .7 1.7 .7 1.6 .5" stroke="#1f63a7"/><path d="M77.5 240.6l1.6 .2 1.7 .2 1.6 .2 1.6 .2 1.6 .2 1.6 .2 1.6 .3 1.6 .2 1.6 .2 1.6 .2 1.7 .2 1.6 .2 1.6 .2 1.6 .2 1.6 .3 1.6 .2 1.6 .2 1.6 .2 1.7 .2 1.6 .2 1.6 .2 1.6 .2 1.6 .2 1.6 .2 1.6 .2 1.6 .2 1.6 .3 1.7 .2 1.6 .2 1.6 .2 1.6 .2 1.6 .2 1.6 .1 1.6 .2 1.6 .2 1.6 .2 1.7 .2 1.6 .2 1.6 .2 1.6 .2 1.6 .1 1.6 .2 1.6 .2 1.6 .2 1.7 .1 1.6 .2 1.6 .2 1.6 .2 1.6 .1 1.6 .2 1.6 .2 1.6 .1 1.6 .2 1.7 .2 1.6 .1 1.6 .2 1.6 .1 1.6 .2 1.6 .2 1.6 .1 1.6 .2 1.6 .1 1.7 .2 1.6 .1 1.6 .2 1.6 .1 1.6 .1 1.6 .2 1.6 0 1.6 0 1.7 0 1.6 .2 1.6 .2 1.6 0 1.6 0 1.6 0 1.6 0 1.6 0 1.6 0 1.7 0 1.6-.1 1.6 0 1.6 0 1.6-.1 1.6 0 1.6-.1 1.6-.2 1.6-.5 1.7-.3 1.6-.3 1.6-.2 1.6-.2 1.6-.1 1.6-.2 1.6-.1 1.6-.1 1.7-.2 1.6-.1 1.6-.1 1.6-.2 1.6-.3 1.6-.3 1.6-.4 1.6-.3 1.6-.4 1.7-.4 1.6-.4 1.6-.4 1.6-.4 1.6-.4 1.6-.4 1.6-.4 1.6-.3 1.6-.4 1.7-.3 1.6-.3 1.6-.4 1.6-.3 1.6-.4 1.6-.4 1.6-.4 1.6-.5 1.7-.5 1.6-.5 1.6-.5 1.6-.5 1.6-.5 1.6-.6 1.6-.5 1.6-.7 1.6-.9 1.7-.9 1.6-1.2 1.6-1.2 .6-.2 1 .2 .1 0 1.5 1.5 .3 .3 1.3-1.6 .5-.6 .1 0 1-.3 1.6-.8 1.6-.9 1.7-1.3 .9-.9 .7 .1 1 .3 .6-.9 1.2-2.1 .4-.2 1.6-1.5 1.6-2.6 1.6-6.5 1.2-5.3 .4-.3 1.7 4 1.6 2.6 1.6 2.5 1.6 2.7 1.6 2.6 1.6 1.5 1.6 1.1 1.6 .8 1.6 .8 1.7 .7 1.6 .5" stroke="#2369ad"/><path d="M77.5 239l1.6 .3 1.7 .2 1.6 .3 1.6 .2 1.6 .3 1.6 .2 1.6 .2 1.6 .3 1.6 .2 1.6 .3 1.7 .2 1.6 .2 1.6 .3 1.6 .2 1.6 .2 1.6 .3 1.6 .2 1.6 .2 1.7 .3 1.6 .2 1.6 .2 1.6 .3 1.6 .2 1.6 .2 1.6 .3 1.6 .2 1.6 .2 1.7 .2 1.6 .3 1.6 .2 1.6 .2 1.6 .2 1.6 .2 1.6 .3 1.6 .2 1.6 .2 1.7 .2 1.6 .2 1.6 .2 1.6 .2 1.6 .2 1.6 .2 1.6 .2 1.6 .2 1.7 .2 1.6 .2 1.6 .1 1.6 .2 1.6 .2 1.6 .2 1.6 .2 1.6 .2 1.6 .2 1.7 .1 1.6 .2 1.6 .2 1.6 .2 1.6 .1 1.6 .2 1.6 .2 1.6 .2 1.6 .1 1.7 .2 1.6 .1 1.6 .2 1.6 .1 1.6 .2 1.6 .1 1.6 .1 1.6 0 1.7 0 1.6 .2 1.6 .1 1.6 .1 1.6 0 1.6 0 1.6 0 1.6 0 1.6-.1 1.7 0 1.6 0 1.6 0 1.6-.1 1.6 0 1.6-.1 1.6-.1 1.6-.2 1.6-.5 1.7-.4 1.6-.3 1.6-.2 1.6-.2 1.6-.1 1.6-.2 1.6-.1 1.6-.2 1.7-.1 1.6-.2 1.6-.1 1.6-.2 1.6-.3 1.6-.3 1.6-.4 1.6-.4 1.6-.4 1.7-.4 1.6-.4 1.6-.5 1.6-.4 1.6-.4 1.6-.4 1.6-.4 1.6-.4 1.6-.4 1.7-.4 1.6-.3 1.6-.4 1.6-.4 1.6-.4 1.6-.5 1.6-.5 1.6-.5 1.7-.5 1.6-.6 1.6-.5 1.6-.6 1.6-.6 1.6-.7 1.6-.5 1.6-.8 1.6-1 1.7-1.2 1.6-1.4 1.6-1.5 .6-.3 1 .4 .1 0 1.5 2.1 .3 .4 1.3-2 .5-.7 .1 0 1-.4 1.6-.7 1.6-1.1 1.7-1.5 .9-1 .7 .1 1 .6 .6-1.1 1.2-2.5 .4-.3 1.6-1.4 1.6-2.6 1.6-6.4 1.2-5.2 .4-.3 1.7 4 1.6 2.5 1.6 2.6 1.6 2.8 1.6 3 1.6 1.5 1.6 1.2 1.6 .9 1.6 .8 1.7 .8 1.6 .6" stroke="#276eb0"/><path d="M77.5 237.5l1.6 .3 1.7 .2 1.6 .3 1.6 .3 1.6 .3 1.6 .2 1.6 .3 1.6 .3 1.6 .2 1.6 .3 1.7 .3 1.6 .2 1.6 .3 1.6 .2 1.6 .3 1.6 .3 1.6 .2 1.6 .3 1.7 .2 1.6 .3 1.6 .3 1.6 .2 1.6 .3 1.6 .2 1.6 .3 1.6 .2 1.6 .3 1.7 .2 1.6 .3 1.6 .2 1.6 .3 1.6 .2 1.6 .2 1.6 .3 1.6 .2 1.6 .2 1.7 .2 1.6 .3 1.6 .2 1.6 .2 1.6 .2 1.6 .2 1.6 .3 1.6 .2 1.7 .2 1.6 .2 1.6 .2 1.6 .2 1.6 .2 1.6 .2 1.6 .2 1.6 .2 1.6 .2 1.7 .2 1.6 .2 1.6 .2 1.6 .2 1.6 .2 1.6 .2 1.6 .1 1.6 .2 1.6 .2 1.7 .2 1.6 .2 1.6 .1 1.6 .2 1.6 .1 1.6 .2 1.6 .1 1.6-.1 1.7 .1 1.6 .1 1.6 .2 1.6 0 1.6 0 1.6 0 1.6 0 1.6 0 1.6 0 1.7 0 1.6 0 1.6-.1 1.6 0 1.6-.1 1.6-.1 1.6-.1 1.6-.2 1.6-.5 1.7-.4 1.6-.3 1.6-.2 1.6-.2 1.6-.2 1.6-.2 1.6-.1 1.6-.2 1.7-.2 1.6-.2 1.6-.1 1.6-.2 1.6-.3 1.6-.4 1.6-.4 1.6-.4 1.6-.4 1.7-.4 1.6-.5 1.6-.4 1.6-.5 1.6-.4 1.6-.5 1.6-.4 1.6-.4 1.6-.4 1.7-.4 1.6-.5 1.6-.4 1.6-.4 1.6-.5 1.6-.5 1.6-.5 1.6-.6 1.7-.6 1.6-.6 1.6-.6 1.6-.6 1.6-.7 1.6-.7 1.6-.7 1.6-.9 1.6-1.1 1.7-1.3 1.6-1.8 1.6-1.8 .6-.3 1 .5 .1 0 1.5 2.8 .3 .5 1.3-2.4 .5-.8 .1-.1 1-.3 1.6-.8 1.6-1.2 1.7-1.8 .9-1.2 .7 .3 1 .9 .6-1.3 1.2-3 .4-.2 1.6-1.5 1.6-2.5 1.6-6.3 1.2-5.1 .4-.4 1.7 4 1.6 2.5 1.6 2.6 1.6 3 1.6 3.3 1.6 1.6 1.6 1.2 1.6 1 1.6 .9 1.7 .8 1.6 .7" stroke="#2b73b3"/><path d="M77.5 235.9l1.6 .3 1.7 .3 1.6 .3 1.6 .3 1.6 .3 1.6 .3 1.6 .3 1.6 .3 1.6 .3 1.6 .3 1.7 .3 1.6 .3 1.6 .3 1.6 .3 1.6 .3 1.6 .2 1.6 .3 1.6 .3 1.7 .3 1.6 .3 1.6 .3 1.6 .2 1.6 .3 1.6 .3 1.6 .3 1.6 .2 1.6 .3 1.7 .3 1.6 .3 1.6 .2 1.6 .3 1.6 .2 1.6 .3 1.6 .3 1.6 .2 1.6 .3 1.7 .2 1.6 .2 1.6 .3 1.6 .2 1.6 .3 1.6 .2 1.6 .2 1.6 .3 1.7 .2 1.6 .2 1.6 .2 1.6 .3 1.6 .2 1.6 .2 1.6 .2 1.6 .2 1.6 .3 1.7 .2 1.6 .2 1.6 .2 1.6 .2 1.6 .2 1.6 .2 1.6 .2 1.6 .2 1.6 .2 1.7 .2 1.6 .2 1.6 .1 1.6 .2 1.6 .2 1.6 .1 1.6 .1 1.6 0 1.7 .1 1.6 .1 1.6 .2 1.6 0 1.6 0 1.6 0 1.6 0 1.6 0 1.6 0 1.7 0 1.6-.1 1.6 0 1.6-.1 1.6-.1 1.6-.1 1.6-.1 1.6-.2 1.6-.5 1.7-.5 1.6-.3 1.6-.2 1.6-.2 1.6-.2 1.6-.2 1.6-.2 1.6-.2 1.7-.2 1.6-.2 1.6-.1 1.6-.3 1.6-.3 1.6-.3 1.6-.4 1.6-.5 1.6-.4 1.7-.5 1.6-.4 1.6-.5 1.6-.5 1.6-.4 1.6-.5 1.6-.5 1.6-.4 1.6-.5 1.7-.4 1.6-.5 1.6-.5 1.6-.5 1.6-.5 1.6-.5 1.6-.6 1.6-.6 1.7-.7 1.6-.6 1.6-.7 1.6-.7 1.6-.7 1.6-.8 1.6-.7 1.6-1 1.6-1.3 1.7-1.5 1.6-2.1 1.6-2.1 .6-.3 1 .6 .1 .1 1.5 3.4 .3 .6 1.3-2.8 .5-1 .1-.1 1-.3 1.6-.9 1.6-1.2 1.7-2.1 .9-1.3 .7 .4 1 1.1 .6-1.5 1.2-3.4 .4-.2 1.6-1.5 1.6-2.5 1.6-6.2 1.2-5 .4-.3 1.7 3.8 1.6 2.5 1.6 2.6 1.6 3.2 1.6 3.6 1.6 1.8 1.6 1.3 1.6 1 1.6 1 1.7 .8 1.6 .8" stroke="#2f79b6"/><path d="M77.5 234.3l1.6 .4 1.7 .3 1.6 .3 1.6 .4 1.6 .3 1.6 .3 1.6 .3 1.6 .4 1.6 .3 1.6 .3 1.7 .3 1.6 .4 1.6 .3 1.6 .3 1.6 .3 1.6 .3 1.6 .3 1.6 .3 1.7 .3 1.6 .3 1.6 .3 1.6 .4 1.6 .3 1.6 .3 1.6 .3 1.6 .3 1.6 .2 1.7 .3 1.6 .3 1.6 .3 1.6 .3 1.6 .3 1.6 .3 1.6 .2 1.6 .3 1.6 .3 1.7 .2 1.6 .3 1.6 .3 1.6 .2 1.6 .3 1.6 .2 1.6 .3 1.6 .2 1.7 .3 1.6 .2 1.6 .3 1.6 .2 1.6 .3 1.6 .2 1.6 .2 1.6 .3 1.6 .2 1.7 .2 1.6 .2 1.6 .3 1.6 .2 1.6 .2 1.6 .2 1.6 .2 1.6 .2 1.6 .3 1.7 .2 1.6 .2 1.6 .2 1.6 .1 1.6 .2 1.6 .2 1.6 .1 1.6 0 1.7 0 1.6 .2 1.6 .2 1.6 0 1.6 0 1.6 0 1.6 0 1.6 0 1.6 0 1.7-.1 1.6 0 1.6-.1 1.6 0 1.6-.1 1.6-.2 1.6-.1 1.6-.3 1.6-.5 1.7-.4 1.6-.3 1.6-.3 1.6-.2 1.6-.2 1.6-.2 1.6-.2 1.6-.2 1.7-.2 1.6-.3 1.6-.1 1.6-.3 1.6-.3 1.6-.4 1.6-.4 1.6-.5 1.6-.4 1.7-.5 1.6-.5 1.6-.5 1.6-.5 1.6-.5 1.6-.5 1.6-.5 1.6-.5 1.6-.4 1.7-.5 1.6-.5 1.6-.6 1.6-.5 1.6-.6 1.6-.6 1.6-.6 1.6-.7 1.7-.7 1.6-.7 1.6-.7 1.6-.8 1.6-.8 1.6-.8 1.6-.8 1.6-1.1 1.6-1.4 1.7-1.8 1.6-2.3 1.6-2.4 .6-.4 1 .8 .1 .1 1.5 3.5 .3 .6 1.3-2.8 .5-1 .1 0 1-.3 1.6-1 1.6-1.3 1.7-2.3 .9-1.5 .7 .2 1 1.1 .6-1.5 1.2-3.5 .4-.2 1.6-1.4 1.6-2.5 1.6-6.2 1.2-4.9 .4-.3 1.7 3.8 1.6 2.5 1.6 2.7 1.6 3.3 1.6 4 1.6 1.8 1.6 1.4 1.6 1.1 1.6 1 1.7 .9 1.6 .8" stroke="#337eb8"/><path d="M77.5 232.7l1.6 .4 1.7 .3 1.6 .4 1.6 .4 1.6 .3 1.6 .4 1.6 .3 1.6 .4 1.6 .3 1.6 .4 1.7 .3 1.6 .4 1.6 .3 1.6 .4 1.6 .3 1.6 .3 1.6 .4 1.6 .3 1.7 .3 1.6 .4 1.6 .3 1.6 .3 1.6 .4 1.6 .3 1.6 .3 1.6 .3 1.6 .4 1.7 .3 1.6 .3 1.6 .3 1.6 .3 1.6 .3 1.6 .3 1.6 .3 1.6 .3 1.6 .3 1.7 .3 1.6 .3 1.6 .2 1.6 .3 1.6 .3 1.6 .3 1.6 .2 1.6 .3 1.7 .3 1.6 .2 1.6 .3 1.6 .3 1.6 .2 1.6 .3 1.6 .2 1.6 .3 1.6 .2 1.7 .3 1.6 .2 1.6 .2 1.6 .3 1.6 .2 1.6 .2 1.6 .3 1.6 .2 1.6 .2 1.7 .2 1.6 .3 1.6 .2 1.6 .2 1.6 .2 1.6 .1 1.6 .1 1.6 .1 1.7 0 1.6 .2 1.6 .2 1.6 0 1.6 0 1.6 0 1.6 0 1.6 0 1.6-.1 1.7 0 1.6-.1 1.6 0 1.6-.1 1.6-.1 1.6-.2 1.6-.1 1.6-.3 1.6-.5 1.7-.4 1.6-.4 1.6-.3 1.6-.2 1.6-.2 1.6-.2 1.6-.3 1.6-.2 1.7-.2 1.6-.3 1.6-.2 1.6-.2 1.6-.4 1.6-.4 1.6-.4 1.6-.5 1.6-.4 1.7-.5 1.6-.5 1.6-.6 1.6-.5 1.6-.5 1.6-.5 1.6-.6 1.6-.5 1.6-.5 1.7-.6 1.6-.5 1.6-.6 1.6-.6 1.6-.6 1.6-.6 1.6-.7 1.6-.8 1.7-.7 1.6-.8 1.6-.8 1.6-.8 1.6-.8 1.6-1 1.6-.8 1.6-1.2 1.6-1.6 1.7-1.9 1.6-2.7 1.6-2.7 .6-.4 1 1 .1 0 1.5 3.7 .3 .6 1.3-2.7 .5-1 .1-.1 1-.3 1.6-1 1.6-1.4 1.7-2.6 .9-1.7 .7 .2 1 .9 .6-1.5 1.2-3.5 .4-.2 1.6-1.5 1.6-2.4 1.6-6 1.2-4.9 .4-.3 1.7 3.8 1.6 2.5 1.6 2.6 1.6 3.6 1.6 4.2 1.6 2 1.6 1.4 1.6 1.2 1.6 1.1 1.7 1 1.6 .8" stroke="#3784bb"/><path d="M77.5 231.1l1.6 .4 1.7 .4 1.6 .4 1.6 .3 1.6 .4 1.6 .4 1.6 .4 1.6 .4 1.6 .4 1.6 .3 1.7 .4 1.6 .4 1.6 .4 1.6 .3 1.6 .4 1.6 .4 1.6 .3 1.6 .4 1.7 .3 1.6 .4 1.6 .4 1.6 .3 1.6 .4 1.6 .3 1.6 .4 1.6 .3 1.6 .4 1.7 .3 1.6 .3 1.6 .4 1.6 .3 1.6 .3 1.6 .3 1.6 .4 1.6 .3 1.6 .3 1.7 .3 1.6 .3 1.6 .3 1.6 .3 1.6 .3 1.6 .3 1.6 .3 1.6 .3 1.7 .3 1.6 .2 1.6 .3 1.6 .3 1.6 .3 1.6 .3 1.6 .2 1.6 .3 1.6 .3 1.7 .2 1.6 .3 1.6 .2 1.6 .3 1.6 .2 1.6 .3 1.6 .2 1.6 .3 1.6 .2 1.7 .2 1.6 .3 1.6 .2 1.6 .2 1.6 .2 1.6 .2 1.6 .1 1.6 0 1.7 .1 1.6 .2 1.6 .1 1.6 0 1.6 0 1.6 0 1.6 0 1.6 0 1.6 0 1.7 0 1.6-.1 1.6-.1 1.6-.1 1.6-.1 1.6-.2 1.6-.1 1.6-.3 1.6-.5 1.7-.5 1.6-.4 1.6-.2 1.6-.3 1.6-.2 1.6-.3 1.6-.2 1.6-.3 1.7-.2 1.6-.3 1.6-.2 1.6-.3 1.6-.3 1.6-.4 1.6-.5 1.6-.5 1.6-.5 1.7-.5 1.6-.5 1.6-.6 1.6-.5 1.6-.6 1.6-.5 1.6-.6 1.6-.6 1.6-.5 1.7-.6 1.6-.6 1.6-.6 1.6-.6 1.6-.7 1.6-.7 1.6-.8 1.6-.8 1.7-.8 1.6-.8 1.6-.8 1.6-.9 1.6-.9 1.6-1.1 1.6-.8 1.6-1.3 1.6-1.8 1.7-2.1 1.6-3 1.6-3 .6-.5 1 1.1 .1 .1 1.5 3.8 .3 .6 1.3-2.6 .5-1 .1-.1 1-.3 1.6-1.1 1.6-1.5 1.7-2.8 .9-1.9 .7 0 1 .9 .6-1.6 1.2-3.5 .4-.2 1.6-1.5 1.6-2.4 1.6-5.9 1.2-4.7 .4-.3 1.7 3.7 1.6 2.5 1.6 2.6 1.6 3.8 1.6 4.6 1.6 2.1 1.6 1.4 1.6 1.3 1.6 1.1 1.7 1.1 1.6 .9" stroke="#3b89be"/><path d="M77.5 229.4l1.6 .4 1.7 .4 1.6 .5 1.6 .4 1.6 .4 1.6 .4 1.6 .4 1.6 .5 1.6 .4 1.6 .4 1.7 .4 1.6 .4 1.6 .4 1.6 .4 1.6 .4 1.6 .4 1.6 .3 1.6 .4 1.7 .4 1.6 .4 1.6 .4 1.6 .4 1.6 .4 1.6 .3 1.6 .4 1.6 .4 1.6 .3 1.7 .4 1.6 .4 1.6 .3 1.6 .4 1.6 .3 1.6 .4 1.6 .3 1.6 .3 1.6 .4 1.7 .3 1.6 .3 1.6 .4 1.6 .3 1.6 .3 1.6 .3 1.6 .3 1.6 .3 1.7 .3 1.6 .3 1.6 .3 1.6 .3 1.6 .3 1.6 .3 1.6 .3 1.6 .3 1.6 .3 1.7 .2 1.6 .3 1.6 .3 1.6 .3 1.6 .2 1.6 .3 1.6 .2 1.6 .3 1.6 .3 1.7 .2 1.6 .3 1.6 .2 1.6 .2 1.6 .2 1.6 .2 1.6 .2 1.6 0 1.7 .1 1.6 .1 1.6 .2 1.6 0 1.6 0 1.6 0 1.6 0 1.6 0 1.6 0 1.7-.1 1.6 0 1.6-.1 1.6-.1 1.6-.2 1.6-.2 1.6-.1 1.6-.3 1.6-.6 1.7-.5 1.6-.3 1.6-.3 1.6-.3 1.6-.3 1.6-.2 1.6-.3 1.6-.2 1.7-.3 1.6-.3 1.6-.2 1.6-.3 1.6-.4 1.6-.4 1.6-.5 1.6-.5 1.6-.5 1.7-.5 1.6-.6 1.6-.6 1.6-.5 1.6-.6 1.6-.6 1.6-.6 1.6-.6 1.6-.6 1.7-.6 1.6-.7 1.6-.6 1.6-.7 1.6-.8 1.6-.7 1.6-.8 1.6-.9 1.7-.8 1.6-.9 1.6-.9 1.6-1 1.6-1 1.6-1.1 1.6-.9 1.6-1.4 1.6-1.9 1.7-2.4 1.6-3.3 1.6-3.3 .6-.5 1 1.3 .1 .1 1.5 3.9 .3 .6 1.3-2.6 .5-1 .1 0 1-.4 1.6-1.1 1.6-1.6 1.7-3.1 .9-2.1 .7-.1 1 .8 .6-1.6 1.2-3.5 .4-.3 1.6-1.4 1.6-2.4 1.6-5.8 1.2-4.6 .4-.3 1.7 3.6 1.6 2.5 1.6 2.7 1.6 3.9 1.6 5 1.6 2.2 1.6 1.5 1.6 1.3 1.6 1.2 1.7 1.1 1.6 1.1" stroke="#3f8ec1"/><path d="M77.5 227.7l1.6 .4 1.7 .5 1.6 .5 1.6 .4 1.6 .5 1.6 .4 1.6 .5 1.6 .4 1.6 .4 1.6 .5 1.7 .4 1.6 .4 1.6 .5 1.6 .4 1.6 .4 1.6 .4 1.6 .4 1.6 .5 1.7 .4 1.6 .4 1.6 .4 1.6 .4 1.6 .4 1.6 .4 1.6 .4 1.6 .4 1.6 .4 1.7 .4 1.6 .4 1.6 .3 1.6 .4 1.6 .4 1.6 .4 1.6 .3 1.6 .4 1.6 .3 1.7 .4 1.6 .3 1.6 .4 1.6 .3 1.6 .4 1.6 .3 1.6 .3 1.6 .4 1.7 .3 1.6 .3 1.6 .3 1.6 .4 1.6 .3 1.6 .3 1.6 .3 1.6 .3 1.6 .3 1.7 .3 1.6 .3 1.6 .3 1.6 .2 1.6 .3 1.6 .3 1.6 .3 1.6 .2 1.6 .3 1.7 .3 1.6 .2 1.6 .3 1.6 .2 1.6 .3 1.6 .2 1.6 .1 1.6 .1 1.7 0 1.6 .2 1.6 .2 1.6 0 1.6 0 1.6 0 1.6 0 1.6 0 1.6-.1 1.7 0 1.6-.1 1.6-.1 1.6-.1 1.6-.2 1.6-.2 1.6-.2 1.6-.3 1.6-.5 1.7-.5 1.6-.4 1.6-.3 1.6-.3 1.6-.3 1.6-.3 1.6-.2 1.6-.3 1.7-.3 1.6-.3 1.6-.3 1.6-.3 1.6-.4 1.6-.4 1.6-.5 1.6-.5 1.6-.6 1.7-.5 1.6-.6 1.6-.6 1.6-.6 1.6-.6 1.6-.6 1.6-.7 1.6-.6 1.6-.7 1.7-.6 1.6-.7 1.6-.7 1.6-.8 1.6-.7 1.6-.9 1.6-.8 1.6-.9 1.7-.9 1.6-1 1.6-1 1.6-1 1.6-1 1.6-1.2 1.6-.9 1.6-1.6 1.6-2.1 1.7-2.6 1.6-3.6 1.6-3.6 .6-.6 1 1.5 .1 .1 1.5 4 .3 .7 1.3-2.6 .5-1 .1 0 1-.4 1.6-1.2 1.6-1.7 1.7-3.4 .9-2.2 .7-.2 1 .6 .6-1.6 1.2-3.5 .4-.3 1.6-1.4 1.6-2.3 1.6-5.8 1.2-4.5 .4-.3 1.7 3.6 1.6 2.4 1.6 2.8 1.6 4.1 1.6 5.3 1.6 2.3 1.6 1.6 1.6 1.4 1.6 1.3 1.7 1.2 1.6 1.1" stroke="#4494c3"/><path d="M77.5 225.9l1.6 .5 1.7 .5 1.6 .5 1.6 .5 1.6 .5 1.6 .5 1.6 .4 1.6 .5 1.6 .5 1.6 .4 1.7 .5 1.6 .5 1.6 .4 1.6 .5 1.6 .4 1.6 .5 1.6 .4 1.6 .5 1.7 .4 1.6 .4 1.6 .5 1.6 .4 1.6 .5 1.6 .4 1.6 .4 1.6 .4 1.6 .4 1.7 .5 1.6 .4 1.6 .4 1.6 .4 1.6 .4 1.6 .4 1.6 .3 1.6 .4 1.6 .4 1.7 .4 1.6 .4 1.6 .3 1.6 .4 1.6 .3 1.6 .4 1.6 .4 1.6 .3 1.7 .3 1.6 .4 1.6 .3 1.6 .4 1.6 .3 1.6 .3 1.6 .3 1.6 .4 1.6 .3 1.7 .3 1.6 .3 1.6 .3 1.6 .3 1.6 .3 1.6 .3 1.6 .3 1.6 .3 1.6 .3 1.7 .3 1.6 .2 1.6 .3 1.6 .2 1.6 .3 1.6 .2 1.6 .2 1.6 0 1.7 .1 1.6 .2 1.6 .1 1.6 .1 1.6 0 1.6-.1 1.6 0 1.6 0 1.6 0 1.7-.1 1.6-.1 1.6-.1 1.6-.1 1.6-.2 1.6-.2 1.6-.2 1.6-.3 1.6-.6 1.7-.5 1.6-.4 1.6-.3 1.6-.3 1.6-.3 1.6-.3 1.6-.3 1.6-.3 1.7-.3 1.6-.3 1.6-.3 1.6-.4 1.6-.4 1.6-.4 1.6-.5 1.6-.6 1.6-.5 1.7-.6 1.6-.6 1.6-.6 1.6-.7 1.6-.6 1.6-.7 1.6-.6 1.6-.7 1.6-.7 1.7-.7 1.6-.7 1.6-.8 1.6-.8 1.6-.8 1.6-.9 1.6-.9 1.6-1 1.7-1 1.6-1 1.6-1 1.6-1.1 1.6-1.1 1.6-1.2 1.6-1.1 1.6-1.7 1.6-2.2 1.7-2.8 1.6-3.9 1.6-4 .6-.6 1 1.6 .1 .1 1.5 4.2 .3 .7 1.3-2.6 .5-.9 .1-.1 1-.3 1.6-1.3 1.6-1.8 1.7-3.7 .9-2.4 .7-.4 1 .6 .6-1.7 1.2-3.5 .4-.3 1.6-1.4 1.6-2.3 1.6-5.6 1.2-4.5 .4-.2 1.7 3.5 1.6 2.4 1.6 2.8 1.6 4.3 1.6 5.7 1.6 2.4 1.6 1.7 1.6 1.5 1.6 1.3 1.7 1.2 1.6 1.2" stroke="#4e9ac7"/><path d="M77.5 224.2l1.6 .5 1.7 .5 1.6 .5 1.6 .5 1.6 .6 1.6 .5 1.6 .5 1.6 .5 1.6 .5 1.6 .5 1.7 .5 1.6 .5 1.6 .5 1.6 .4 1.6 .5 1.6 .5 1.6 .5 1.6 .4 1.7 .5 1.6 .5 1.6 .4 1.6 .5 1.6 .5 1.6 .4 1.6 .5 1.6 .4 1.6 .5 1.7 .4 1.6 .4 1.6 .5 1.6 .4 1.6 .4 1.6 .4 1.6 .4 1.6 .4 1.6 .4 1.7 .4 1.6 .4 1.6 .4 1.6 .4 1.6 .4 1.6 .4 1.6 .4 1.6 .3 1.7 .4 1.6 .4 1.6 .3 1.6 .4 1.6 .3 1.6 .4 1.6 .3 1.6 .3 1.6 .4 1.7 .3 1.6 .3 1.6 .4 1.6 .3 1.6 .3 1.6 .3 1.6 .3 1.6 .3 1.6 .3 1.7 .3 1.6 .3 1.6 .3 1.6 .2 1.6 .3 1.6 .3 1.6 .1 1.6 .1 1.7 .1 1.6 .1 1.6 .2 1.6 0 1.6 0 1.6 0 1.6 0 1.6 0 1.6-.1 1.7 0 1.6-.1 1.6-.1 1.6-.2 1.6-.2 1.6-.2 1.6-.2 1.6-.4 1.6-.5 1.7-.6 1.6-.4 1.6-.3 1.6-.3 1.6-.4 1.6-.3 1.6-.3 1.6-.3 1.7-.3 1.6-.4 1.6-.3 1.6-.3 1.6-.5 1.6-.5 1.6-.5 1.6-.5 1.6-.6 1.7-.6 1.6-.6 1.6-.7 1.6-.6 1.6-.7 1.6-.7 1.6-.7 1.6-.7 1.6-.8 1.7-.7 1.6-.8 1.6-.8 1.6-.8 1.6-.9 1.6-1 1.6-1 1.6-1 1.7-1 1.6-1.1 1.6-1.1 1.6-1.1 1.6-1.2 1.6-1.3 1.6-1.1 1.6-1.8 1.6-2.4 1.7-3.1 1.6-4.2 1.6-4.4 .6-.6 1 1.8 .1 .1 1.5 4.3 .3 .7 1.3-2.5 .5-1 .1 0 1-.3 1.6-1.4 1.6-1.9 1.7-3.9 .9-2.6 .7-.6 1 .5 .6-1.7 1.2-3.6 .4-.2 1.6-1.4 1.6-2.3 1.6-5.5 1.2-4.4 .4-.2 1.7 3.5 1.6 2.4 1.6 2.8 1.6 4.5 1.6 6 1.6 2.6 1.6 1.7 1.6 1.5 1.6 1.4 1.7 1.4 1.6 1.2" stroke="#57a0ca"/><path d="M77.5 222.3l1.6 .6 1.7 .5 1.6 .6 1.6 .6 1.6 .5 1.6 .5 1.6 .6 1.6 .5 1.6 .6 1.6 .5 1.7 .5 1.6 .5 1.6 .6 1.6 .5 1.6 .5 1.6 .5 1.6 .5 1.6 .5 1.7 .5 1.6 .5 1.6 .5 1.6 .5 1.6 .5 1.6 .4 1.6 .5 1.6 .5 1.6 .5 1.7 .4 1.6 .5 1.6 .4 1.6 .5 1.6 .4 1.6 .5 1.6 .4 1.6 .4 1.6 .5 1.7 .4 1.6 .4 1.6 .4 1.6 .4 1.6 .4 1.6 .4 1.6 .4 1.6 .4 1.7 .4 1.6 .4 1.6 .4 1.6 .4 1.6 .3 1.6 .4 1.6 .4 1.6 .3 1.6 .4 1.7 .3 1.6 .4 1.6 .3 1.6 .3 1.6 .4 1.6 .3 1.6 .3 1.6 .3 1.6 .4 1.7 .3 1.6 .3 1.6 .3 1.6 .3 1.6 .2 1.6 .3 1.6 .2 1.6 0 1.7 .1 1.6 .2 1.6 .2 1.6 0 1.6 0 1.6 0 1.6-.1 1.6 0 1.6 0 1.7-.1 1.6-.1 1.6-.1 1.6-.2 1.6-.2 1.6-.2 1.6-.3 1.6-.3 1.6-.6 1.7-.5 1.6-.5 1.6-.3 1.6-.4 1.6-.3 1.6-.3 1.6-.4 1.6-.3 1.7-.4 1.6-.3 1.6-.3 1.6-.4 1.6-.5 1.6-.5 1.6-.5 1.6-.6 1.6-.6 1.7-.6 1.6-.7 1.6-.6 1.6-.7 1.6-.7 1.6-.8 1.6-.7 1.6-.8 1.6-.7 1.7-.8 1.6-.9 1.6-.8 1.6-.9 1.6-1 1.6-1 1.6-1 1.6-1.1 1.7-1.1 1.6-1.2 1.6-1.1 1.6-1.2 1.6-1.3 1.6-1.4 1.6-1.1 1.6-2 1.6-2.5 1.7-3.3 1.6-4.6 1.6-4.7 .6-.7 1 2 .1 .1 1.5 4.5 .3 .7 1.3-2.4 .5-1 .1 0 1-.4 1.6-1.4 1.6-2.1 1.7-4.2 .9-2.8 .7-.6 1 .3 .6-1.7 1.2-3.6 .4-.3 1.6-1.4 1.6-2.2 1.6-5.4 1.2-4.2 .4-.3 1.7 3.5 1.6 2.3 1.6 2.8 1.6 4.8 1.6 6.4 1.6 2.7 1.6 1.8 1.6 1.6 1.6 1.4 1.7 1.4 1.6 1.4" stroke="#60a6cd"/><path d="M77.5 220.5l1.6 .6 1.7 .6 1.6 .5 1.6 .6 1.6 .6 1.6 .6 1.6 .6 1.6 .5 1.6 .6 1.6 .6 1.7 .5 1.6 .6 1.6 .5 1.6 .6 1.6 .5 1.6 .6 1.6 .5 1.6 .5 1.7 .6 1.6 .5 1.6 .5 1.6 .5 1.6 .5 1.6 .5 1.6 .5 1.6 .5 1.6 .5 1.7 .5 1.6 .5 1.6 .5 1.6 .5 1.6 .4 1.6 .5 1.6 .5 1.6 .4 1.6 .5 1.7 .4 1.6 .5 1.6 .4 1.6 .4 1.6 .5 1.6 .4 1.6 .4 1.6 .4 1.7 .4 1.6 .4 1.6 .4 1.6 .4 1.6 .4 1.6 .4 1.6 .4 1.6 .4 1.6 .3 1.7 .4 1.6 .4 1.6 .3 1.6 .4 1.6 .3 1.6 .4 1.6 .3 1.6 .4 1.6 .3 1.7 .3 1.6 .3 1.6 .4 1.6 .3 1.6 .2 1.6 .3 1.6 .2 1.6 .1 1.7 .1 1.6 .2 1.6 .1 1.6 0 1.6 0 1.6 0 1.6 0 1.6 0 1.6-.1 1.7 0 1.6-.1 1.6-.2 1.6-.2 1.6-.2 1.6-.2 1.6-.3 1.6-.4 1.6-.6 1.7-.5 1.6-.5 1.6-.3 1.6-.4 1.6-.4 1.6-.3 1.6-.4 1.6-.3 1.7-.4 1.6-.4 1.6-.3 1.6-.4 1.6-.5 1.6-.5 1.6-.6 1.6-.6 1.6-.6 1.7-.6 1.6-.7 1.6-.7 1.6-.7 1.6-.8 1.6-.7 1.6-.8 1.6-.8 1.6-.8 1.7-.9 1.6-.9 1.6-.9 1.6-.9 1.6-1 1.6-1.1 1.6-1.1 1.6-1.2 1.7-1.1 1.6-1.2 1.6-1.3 1.6-1.2 1.6-1.4 1.6-1.5 1.6-1.2 1.6-2 1.6-2.8 1.7-3.5 1.6-4.9 1.6-5.1 .6-.7 1 2.1 .1 .2 1.5 4.6 .3 .7 1.3-2.4 .5-.9 .1-.1 1-.3 1.6-1.5 1.6-2.2 1.7-4.5 .9-3 .7-.8 1 .2 .6-1.7 1.2-3.6 .4-.3 1.6-1.4 1.6-2.2 1.6-5.2 1.2-4.2 .4-.2 1.7 3.4 1.6 2.3 1.6 2.9 1.6 4.9 1.6 6.8 1.6 2.8 1.6 1.9 1.6 1.7 1.6 1.5 1.7 1.5 1.6 1.3" stroke="#6aacd0"/><path d="M77.5 218.6l1.6 .6 1.7 .6 1.6 .6 1.6 .7 1.6 .6 1.6 .6 1.6 .6 1.6 .6 1.6 .6 1.6 .6 1.7 .6 1.6 .6 1.6 .6 1.6 .5 1.6 .6 1.6 .6 1.6 .6 1.6 .5 1.7 .6 1.6 .5 1.6 .6 1.6 .5 1.6 .6 1.6 .5 1.6 .5 1.6 .6 1.6 .5 1.7 .5 1.6 .5 1.6 .5 1.6 .5 1.6 .5 1.6 .5 1.6 .5 1.6 .5 1.6 .5 1.7 .4 1.6 .5 1.6 .5 1.6 .4 1.6 .5 1.6 .4 1.6 .5 1.6 .4 1.7 .4 1.6 .5 1.6 .4 1.6 .4 1.6 .4 1.6 .4 1.6 .4 1.6 .4 1.6 .4 1.7 .4 1.6 .4 1.6 .4 1.6 .3 1.6 .4 1.6 .4 1.6 .3 1.6 .4 1.6 .3 1.7 .4 1.6 .3 1.6 .3 1.6 .3 1.6 .4 1.6 .2 1.6 .2 1.6 .1 1.7 .1 1.6 .2 1.6 .2 1.6 0 1.6 0 1.6 0 1.6 0 1.6-.1 1.6 0 1.7-.1 1.6-.1 1.6-.2 1.6-.1 1.6-.3 1.6-.3 1.6-.3 1.6-.4 1.6-.6 1.7-.5 1.6-.5 1.6-.4 1.6-.3 1.6-.4 1.6-.4 1.6-.4 1.6-.4 1.7-.4 1.6-.3 1.6-.4 1.6-.4 1.6-.5 1.6-.6 1.6-.6 1.6-.6 1.6-.6 1.7-.7 1.6-.7 1.6-.7 1.6-.8 1.6-.7 1.6-.8 1.6-.8 1.6-.9 1.6-.8 1.7-.9 1.6-1 1.6-.9 1.6-1.1 1.6-1 1.6-1.2 1.6-1.1 1.6-1.2 1.7-1.3 1.6-1.3 1.6-1.3 1.6-1.3 1.6-1.4 1.6-1.6 1.6-1.2 1.6-2.2 1.6-3 1.7-3.8 1.6-5.2 1.6-5.5 .6-.7 1 2.3 .1 .2 1.5 4.7 .3 .8 1.3-2.4 .5-.9 .1-.1 1-.3 1.6-1.5 1.6-2.4 1.7-4.8 .9-3.2 .7-.9 1 .1 .6-1.8 1.2-3.6 .4-.3 1.6-1.4 1.6-2.1 1.6-5.2 1.2-4 .4-.2 1.7 3.3 1.6 2.3 1.6 2.9 1.6 5.1 1.6 7.2 1.6 3 1.6 1.9 1.6 1.8 1.6 1.6 1.7 1.5 1.6 1.5" stroke="#73b2d4"/><path d="M77.5 216.6l1.6 .7 1.7 .6 1.6 .7 1.6 .7 1.6 .6 1.6 .7 1.6 .6 1.6 .6 1.6 .7 1.6 .6 1.7 .6 1.6 .6 1.6 .7 1.6 .6 1.6 .6 1.6 .6 1.6 .6 1.6 .6 1.7 .6 1.6 .5 1.6 .6 1.6 .6 1.6 .6 1.6 .5 1.6 .6 1.6 .6 1.6 .5 1.7 .6 1.6 .5 1.6 .5 1.6 .6 1.6 .5 1.6 .5 1.6 .5 1.6 .5 1.6 .5 1.7 .5 1.6 .5 1.6 .5 1.6 .5 1.6 .5 1.6 .4 1.6 .5 1.6 .5 1.7 .4 1.6 .5 1.6 .4 1.6 .4 1.6 .5 1.6 .4 1.6 .4 1.6 .5 1.6 .4 1.7 .4 1.6 .4 1.6 .4 1.6 .4 1.6 .4 1.6 .3 1.6 .4 1.6 .4 1.6 .4 1.7 .3 1.6 .4 1.6 .3 1.6 .3 1.6 .4 1.6 .3 1.6 .2 1.6 .1 1.7 .1 1.6 .2 1.6 .1 1.6 0 1.6 0 1.6 0 1.6 0 1.6 0 1.6-.1 1.7-.1 1.6-.1 1.6-.1 1.6-.2 1.6-.3 1.6-.3 1.6-.3 1.6-.4 1.6-.6 1.7-.6 1.6-.5 1.6-.4 1.6-.4 1.6-.4 1.6-.4 1.6-.4 1.6-.4 1.7-.4 1.6-.4 1.6-.4 1.6-.5 1.6-.5 1.6-.5 1.6-.6 1.6-.7 1.6-.6 1.7-.7 1.6-.8 1.6-.7 1.6-.8 1.6-.8 1.6-.8 1.6-.9 1.6-.9 1.6-.9 1.7-.9 1.6-1 1.6-1 1.6-1.1 1.6-1.2 1.6-1.1 1.6-1.3 1.6-1.3 1.7-1.3 1.6-1.3 1.6-1.4 1.6-1.4 1.6-1.5 1.6-1.6 1.6-1.4 1.6-2.3 1.6-3.2 1.7-4 1.6-5.6 1.6-5.8 .6-.8 1 2.5 .1 .2 1.5 4.9 .3 .8 1.3-2.3 .5-1 .1 0 1-.4 1.6-1.6 1.6-2.4 1.7-5.1 .9-3.4 .7-1.2 1 0 .6-1.7 1.2-3.7 .4-.3 1.6-1.4 1.6-2.1 1.6-5 1.2-3.9 .4-.3 1.7 3.3 1.6 2.3 1.6 2.9 1.6 5.4 1.6 7.6 1.6 3 1.6 2.1 1.6 1.8 1.6 1.7 1.7 1.6 1.6 1.6" stroke="#7db8d7"/><path d="M77.5 214.6l1.6 .7 1.7 .7 1.6 .7 1.6 .7 1.6 .7 1.6 .7 1.6 .6 1.6 .7 1.6 .7 1.6 .7 1.7 .6 1.6 .7 1.6 .6 1.6 .7 1.6 .6 1.6 .6 1.6 .7 1.6 .6 1.7 .6 1.6 .6 1.6 .6 1.6 .7 1.6 .6 1.6 .6 1.6 .6 1.6 .5 1.6 .6 1.7 .6 1.6 .6 1.6 .5 1.6 .6 1.6 .5 1.6 .6 1.6 .5 1.6 .6 1.6 .5 1.7 .5 1.6 .5 1.6 .5 1.6 .5 1.6 .5 1.6 .5 1.6 .5 1.6 .5 1.7 .5 1.6 .5 1.6 .4 1.6 .5 1.6 .4 1.6 .5 1.6 .4 1.6 .5 1.6 .4 1.7 .4 1.6 .5 1.6 .4 1.6 .4 1.6 .4 1.6 .4 1.6 .4 1.6 .4 1.6 .4 1.7 .3 1.6 .4 1.6 .4 1.6 .3 1.6 .4 1.6 .3 1.6 .2 1.6 .1 1.7 .1 1.6 .2 1.6 .2 1.6 0 1.6 0 1.6 0 1.6-.1 1.6 0 1.6-.1 1.7 0 1.6-.2 1.6-.1 1.6-.2 1.6-.3 1.6-.3 1.6-.4 1.6-.4 1.6-.6 1.7-.6 1.6-.5 1.6-.4 1.6-.5 1.6-.4 1.6-.4 1.6-.4 1.6-.4 1.7-.5 1.6-.4 1.6-.4 1.6-.5 1.6-.5 1.6-.6 1.6-.6 1.6-.7 1.6-.7 1.7-.7 1.6-.8 1.6-.7 1.6-.9 1.6-.8 1.6-.9 1.6-.9 1.6-.9 1.6-1 1.7-1 1.6-1 1.6-1.1 1.6-1.1 1.6-1.2 1.6-1.3 1.6-1.3 1.6-1.3 1.7-1.4 1.6-1.4 1.6-1.5 1.6-1.4 1.6-1.6 1.6-1.8 1.6-1.4 1.6-2.4 1.6-3.4 1.7-4.2 1.6-6 1.6-6.2 .6-.9 1 2.7 .1 .2 1.5 5.1 .3 .8 1.3-2.3 .5-.9 .1 0 1-.4 1.6-1.7 1.6-2.6 1.7-5.4 .9-3.6 .7-1.3 1-.1 .6-1.8 1.2-3.7 .4-.3 1.6-1.4 1.6-2.1 1.6-4.8 1.2-3.9 .4-.2 1.7 3.2 1.6 2.3 1.6 2.9 1.6 5.6 1.6 8.1 1.6 3.1 1.6 2.2 1.6 1.9 1.6 1.7 1.7 1.8 1.6 1.6" stroke="#86beda"/><path d="M77.5 212.5l1.6 .8 1.7 .7 1.6 .7 1.6 .8 1.6 .7 1.6 .7 1.6 .7 1.6 .8 1.6 .7 1.6 .7 1.7 .7 1.6 .7 1.6 .6 1.6 .7 1.6 .7 1.6 .7 1.6 .6 1.6 .7 1.7 .6 1.6 .7 1.6 .6 1.6 .7 1.6 .6 1.6 .6 1.6 .7 1.6 .6 1.6 .6 1.7 .6 1.6 .6 1.6 .6 1.6 .6 1.6 .6 1.6 .5 1.6 .6 1.6 .6 1.6 .5 1.7 .6 1.6 .5 1.6 .5 1.6 .6 1.6 .5 1.6 .5 1.6 .5 1.6 .5 1.7 .5 1.6 .5 1.6 .5 1.6 .5 1.6 .5 1.6 .5 1.6 .4 1.6 .5 1.6 .4 1.7 .5 1.6 .4 1.6 .5 1.6 .4 1.6 .4 1.6 .5 1.6 .4 1.6 .4 1.6 .4 1.7 .4 1.6 .4 1.6 .3 1.6 .4 1.6 .4 1.6 .3 1.6 .2 1.6 .2 1.7 .1 1.6 .2 1.6 .1 1.6 0 1.6 0 1.6 0 1.6 0 1.6-.1 1.6 0 1.7-.1 1.6-.2 1.6-.1 1.6-.3 1.6-.2 1.6-.4 1.6-.3 1.6-.5 1.6-.6 1.7-.6 1.6-.5 1.6-.5 1.6-.4 1.6-.5 1.6-.4 1.6-.5 1.6-.4 1.7-.5 1.6-.4 1.6-.5 1.6-.5 1.6-.5 1.6-.6 1.6-.7 1.6-.6 1.6-.8 1.7-.7 1.6-.8 1.6-.8 1.6-.8 1.6-.9 1.6-.9 1.6-1 1.6-.9 1.6-1.1 1.7-1 1.6-1.1 1.6-1.1 1.6-1.2 1.6-1.3 1.6-1.3 1.6-1.4 1.6-1.4 1.7-1.5 1.6-1.5 1.6-1.5 1.6-1.5 1.6-1.7 1.6-1.8 1.6-1.5 1.6-2.6 1.6-3.5 1.7-4.6 1.6-6.4 1.6-6.6 .6-.8 1 2.8 .1 .3 1.5 5.2 .3 .8 1.3-2.2 .5-.9 .1-.1 1-.3 1.6-1.8 1.6-2.7 1.7-5.7 .9-3.9 .7-1.4 1-.3 .6-1.8 1.2-3.7 .4-.3 1.6-1.4 1.6-2 1.6-4.8 1.2-3.7 .4-.2 1.7 3.1 1.6 2.3 1.6 3 1.6 5.8 1.6 8.5 1.6 3.3 1.6 2.2 1.6 2 1.6 1.8 1.7 1.8 1.6 1.7" stroke="#90c3dd"/><path d="M77.5 210.4l1.6 .8 1.7 .8 1.6 .7 1.6 .8 1.6 .8 1.6 .7 1.6 .8 1.6 .7 1.6 .8 1.6 .7 1.7 .8 1.6 .7 1.6 .7 1.6 .7 1.6 .7 1.6 .7 1.6 .7 1.6 .7 1.7 .7 1.6 .7 1.6 .7 1.6 .6 1.6 .7 1.6 .7 1.6 .6 1.6 .7 1.6 .6 1.7 .7 1.6 .6 1.6 .6 1.6 .6 1.6 .6 1.6 .6 1.6 .6 1.6 .6 1.6 .6 1.7 .6 1.6 .5 1.6 .6 1.6 .6 1.6 .5 1.6 .6 1.6 .5 1.6 .5 1.7 .6 1.6 .5 1.6 .5 1.6 .5 1.6 .5 1.6 .5 1.6 .5 1.6 .5 1.6 .5 1.7 .4 1.6 .5 1.6 .5 1.6 .4 1.6 .5 1.6 .4 1.6 .4 1.6 .5 1.6 .4 1.7 .4 1.6 .4 1.6 .4 1.6 .4 1.6 .3 1.6 .4 1.6 .2 1.6 .2 1.7 .1 1.6 .2 1.6 .2 1.6 0 1.6 0 1.6-.1 1.6 0 1.6 0 1.6-.1 1.7-.1 1.6-.1 1.6-.2 1.6-.3 1.6-.3 1.6-.3 1.6-.4 1.6-.5 1.6-.7 1.7-.6 1.6-.5 1.6-.5 1.6-.4 1.6-.5 1.6-.4 1.6-.5 1.6-.5 1.7-.5 1.6-.5 1.6-.4 1.6-.5 1.6-.6 1.6-.6 1.6-.7 1.6-.7 1.6-.7 1.7-.8 1.6-.8 1.6-.9 1.6-.8 1.6-1 1.6-.9 1.6-1 1.6-1 1.6-1.1 1.7-1.1 1.6-1.1 1.6-1.2 1.6-1.3 1.6-1.3 1.6-1.4 1.6-1.5 1.6-1.5 1.7-1.5 1.6-1.6 1.6-1.6 1.6-1.6 1.6-1.7 1.6-2 1.6-1.5 1.6-2.8 1.6-3.7 1.7-4.8 1.6-6.8 1.6-7 .6-.9 1 3.1 .1 .2 1.5 5.4 .3 .9 1.3-2.2 .5-1 .1 0 1-.4 1.6-1.8 1.6-2.8 1.7-6.1 .9-4.1 .7-1.6 1-.3 .6-1.9 1.2-3.8 .4-.3 1.6-1.3 1.6-2 1.6-4.6 1.2-3.6 .4-.2 1.7 3 1.6 2.3 1.6 3 1.6 6.1 1.6 8.8 1.6 3.5 1.6 2.3 1.6 2.1 1.6 1.9 1.7 1.9 1.6 1.8" stroke="#98c8e0"/><path d="M77.5 208.2l1.6 .8 1.7 .8 1.6 .9 1.6 .8 1.6 .8 1.6 .8 1.6 .8 1.6 .8 1.6 .8 1.6 .7 1.7 .8 1.6 .8 1.6 .7 1.6 .8 1.6 .7 1.6 .8 1.6 .7 1.6 .7 1.7 .7 1.6 .8 1.6 .7 1.6 .7 1.6 .7 1.6 .7 1.6 .7 1.6 .6 1.6 .7 1.7 .7 1.6 .6 1.6 .7 1.6 .6 1.6 .7 1.6 .6 1.6 .6 1.6 .7 1.6 .6 1.7 .6 1.6 .6 1.6 .6 1.6 .6 1.6 .5 1.6 .6 1.6 .6 1.6 .5 1.7 .6 1.6 .5 1.6 .6 1.6 .5 1.6 .5 1.6 .5 1.6 .6 1.6 .5 1.6 .5 1.7 .5 1.6 .4 1.6 .5 1.6 .5 1.6 .5 1.6 .4 1.6 .5 1.6 .4 1.6 .5 1.7 .4 1.6 .4 1.6 .4 1.6 .4 1.6 .4 1.6 .4 1.6 .3 1.6 .1 1.7 .2 1.6 .1 1.6 .2 1.6 0 1.6 0 1.6 0 1.6-.1 1.6 0 1.6-.1 1.7-.1 1.6-.1 1.6-.2 1.6-.3 1.6-.3 1.6-.4 1.6-.4 1.6-.5 1.6-.7 1.7-.6 1.6-.5 1.6-.5 1.6-.5 1.6-.5 1.6-.5 1.6-.5 1.6-.5 1.7-.5 1.6-.5 1.6-.5 1.6-.5 1.6-.6 1.6-.7 1.6-.7 1.6-.7 1.6-.8 1.7-.8 1.6-.8 1.6-.9 1.6-.9 1.6-.9 1.6-1 1.6-1.1 1.6-1 1.6-1.1 1.7-1.2 1.6-1.2 1.6-1.3 1.6-1.3 1.6-1.4 1.6-1.5 1.6-1.5 1.6-1.6 1.7-1.6 1.6-1.6 1.6-1.7 1.6-1.7 1.6-1.8 1.6-2.1 1.6-1.6 1.6-2.9 1.6-3.9 1.7-5.1 1.6-7.2 1.6-7.4 .6-1 1 3.3 .1 .2 1.5 5.6 .3 .9 1.3-2.1 .5-1 .1 0 1-.4 1.6-1.9 1.6-3 1.7-6.4 .9-4.3 .7-1.8 1-.5 .6-1.9 1.2-3.8 .4-.3 1.6-1.3 1.6-2 1.6-4.4 1.2-3.5 .4-.2 1.7 3 1.6 2.2 1.6 3.1 1.6 6.3 1.6 9.3 1.6 3.6 1.6 2.5 1.6 2.1 1.6 2 1.7 2 1.6 1.8" stroke="#9fcce2"/><path d="M77.5 205.9l1.6 .9 1.7 .9 1.6 .8 1.6 .9 1.6 .8 1.6 .9 1.6 .8 1.6 .8 1.6 .9 1.6 .8 1.7 .8 1.6 .8 1.6 .8 1.6 .8 1.6 .8 1.6 .7 1.6 .8 1.6 .8 1.7 .7 1.6 .8 1.6 .7 1.6 .8 1.6 .7 1.6 .7 1.6 .7 1.6 .8 1.6 .7 1.7 .7 1.6 .7 1.6 .6 1.6 .7 1.6 .7 1.6 .7 1.6 .6 1.6 .7 1.6 .6 1.7 .6 1.6 .7 1.6 .6 1.6 .6 1.6 .6 1.6 .6 1.6 .6 1.6 .6 1.7 .6 1.6 .5 1.6 .6 1.6 .6 1.6 .5 1.6 .6 1.6 .5 1.6 .5 1.6 .5 1.7 .6 1.6 .5 1.6 .5 1.6 .5 1.6 .5 1.6 .4 1.6 .5 1.6 .5 1.6 .4 1.7 .5 1.6 .4 1.6 .5 1.6 .4 1.6 .4 1.6 .4 1.6 .3 1.6 .1 1.7 .2 1.6 .2 1.6 .1 1.6 0 1.6 0 1.6 0 1.6 0 1.6-.1 1.6-.1 1.7-.1 1.6-.1 1.6-.3 1.6-.2 1.6-.4 1.6-.4 1.6-.4 1.6-.5 1.6-.7 1.7-.6 1.6-.6 1.6-.5 1.6-.5 1.6-.5 1.6-.5 1.6-.6 1.6-.5 1.7-.5 1.6-.6 1.6-.5 1.6-.5 1.6-.7 1.6-.6 1.6-.7 1.6-.8 1.6-.8 1.7-.8 1.6-.9 1.6-.9 1.6-.9 1.6-1 1.6-1.1 1.6-1 1.6-1.2 1.6-1.1 1.7-1.2 1.6-1.3 1.6-1.4 1.6-1.4 1.6-1.4 1.6-1.6 1.6-1.6 1.6-1.6 1.7-1.7 1.6-1.7 1.6-1.8 1.6-1.8 1.6-1.9 1.6-2.1 1.6-1.7 1.6-3.1 1.6-4.1 1.7-5.4 1.6-7.6 1.6-7.9 .6-1 1 3.5 .1 .3 1.5 5.7 .3 .9 1.3-2 .5-1 .1 0 1-.4 1.6-2 1.6-3.1 1.7-6.8 .9-4.5 .7-2 1-.6 .6-2 1.2-3.8 .4-.3 1.6-1.3 1.6-1.9 1.6-4.3 1.2-3.4 .4-.2 1.7 2.9 1.6 2.2 1.6 3.1 1.6 6.6 1.6 9.8 1.6 3.8 1.6 2.5 1.6 2.2 1.6 2.1 1.7 2 1.6 2" stroke="#a7cfe4"/><path d="M77.5 203.6l1.6 .9 1.7 .9 1.6 .9 1.6 .9 1.6 .9 1.6 .9 1.6 .9 1.6 .8 1.6 .9 1.6 .8 1.7 .9 1.6 .8 1.6 .9 1.6 .8 1.6 .8 1.6 .8 1.6 .9 1.6 .8 1.7 .8 1.6 .7 1.6 .8 1.6 .8 1.6 .8 1.6 .7 1.6 .8 1.6 .7 1.6 .8 1.7 .7 1.6 .7 1.6 .8 1.6 .7 1.6 .7 1.6 .7 1.6 .7 1.6 .6 1.6 .7 1.7 .7 1.6 .6 1.6 .7 1.6 .6 1.6 .7 1.6 .6 1.6 .6 1.6 .6 1.7 .6 1.6 .6 1.6 .6 1.6 .6 1.6 .6 1.6 .5 1.6 .6 1.6 .6 1.6 .5 1.7 .6 1.6 .5 1.6 .5 1.6 .5 1.6 .5 1.6 .5 1.6 .5 1.6 .5 1.6 .5 1.7 .5 1.6 .5 1.6 .4 1.6 .4 1.6 .5 1.6 .4 1.6 .3 1.6 .2 1.7 .1 1.6 .2 1.6 .1 1.6 0 1.6 0 1.6 0 1.6 0 1.6-.1 1.6-.1 1.7-.1 1.6-.1 1.6-.3 1.6-.3 1.6-.3 1.6-.4 1.6-.5 1.6-.5 1.6-.7 1.7-.7 1.6-.6 1.6-.5 1.6-.5 1.6-.6 1.6-.5 1.6-.6 1.6-.5 1.7-.6 1.6-.5 1.6-.6 1.6-.6 1.6-.6 1.6-.7 1.6-.8 1.6-.7 1.6-.8 1.7-.9 1.6-.9 1.6-.9 1.6-1 1.6-1.1 1.6-1 1.6-1.2 1.6-1.1 1.6-1.3 1.7-1.2 1.6-1.4 1.6-1.4 1.6-1.4 1.6-1.6 1.6-1.6 1.6-1.7 1.6-1.7 1.7-1.8 1.6-1.8 1.6-1.8 1.6-1.9 1.6-2 1.6-2.3 1.6-1.7 1.6-3.3 1.6-4.4 1.7-5.6 1.6-8.1 1.6-8.3 .6-1.1 1 3.8 .1 .2 1.5 6 .3 .9 1.3-2 .5-.9 .1 0 1-.4 1.6-2.1 1.6-3.3 1.7-7.1 .9-4.8 .7-2.2 1-.7 .6-2 1.2-3.9 .4-.3 1.6-1.3 1.6-1.9 1.6-4.1 1.2-3.3 .4-.1 1.7 2.8 1.6 2.2 1.6 3.1 1.6 6.8 1.6 10.4 1.6 3.9 1.6 2.6 1.6 2.3 1.6 2.2 1.7 2.1 1.6 2.1" stroke="#aed3e6"/><path d="M77.5 201.1l1.6 1 1.7 .9 1.6 1 1.6 .9 1.6 1 1.6 .9 1.6 .9 1.6 .9 1.6 .9 1.6 .9 1.7 .9 1.6 .9 1.6 .9 1.6 .9 1.6 .8 1.6 .9 1.6 .8 1.6 .9 1.7 .8 1.6 .8 1.6 .9 1.6 .8 1.6 .8 1.6 .8 1.6 .8 1.6 .8 1.6 .7 1.7 .8 1.6 .8 1.6 .7 1.6 .8 1.6 .7 1.6 .7 1.6 .8 1.6 .7 1.6 .7 1.7 .7 1.6 .7 1.6 .6 1.6 .7 1.6 .7 1.6 .6 1.6 .7 1.6 .6 1.7 .7 1.6 .6 1.6 .6 1.6 .6 1.6 .6 1.6 .6 1.6 .6 1.6 .6 1.6 .6 1.7 .5 1.6 .6 1.6 .5 1.6 .6 1.6 .5 1.6 .5 1.6 .6 1.6 .5 1.6 .5 1.7 .5 1.6 .5 1.6 .4 1.6 .5 1.6 .4 1.6 .4 1.6 .4 1.6 .2 1.7 .1 1.6 .2 1.6 .1 1.6 .1 1.6-.1 1.6 0 1.6 0 1.6-.1 1.6-.1 1.7-.1 1.6-.2 1.6-.2 1.6-.3 1.6-.4 1.6-.4 1.6-.5 1.6-.6 1.6-.7 1.7-.7 1.6-.6 1.6-.5 1.6-.6 1.6-.5 1.6-.6 1.6-.6 1.6-.6 1.7-.5 1.6-.6 1.6-.6 1.6-.6 1.6-.7 1.6-.7 1.6-.8 1.6-.8 1.6-.8 1.7-.9 1.6-1 1.6-.9 1.6-1.1 1.6-1 1.6-1.2 1.6-1.1 1.6-1.3 1.6-1.2 1.7-1.4 1.6-1.4 1.6-1.5 1.6-1.5 1.6-1.6 1.6-1.7 1.6-1.8 1.6-1.8 1.7-1.8 1.6-1.9 1.6-2 1.6-1.9 1.6-2.1 1.6-2.4 1.6-1.8 1.6-3.4 1.6-4.7 1.7-6 1.6-8.5 1.6-8.7 .6-1.2 1 4 .1 .3 1.5 6.1 .3 1 1.3-2 .5-.9 .1 0 1-.4 1.6-2.2 1.6-3.4 1.7-7.5 .9-5.1 .7-2.3 1-.9 .6-2 1.2-4 .4-.3 1.6-1.3 1.6-1.8 1.6-4 1.2-3.1 .4-.1 1.7 2.7 1.6 2.2 1.6 3.1 1.6 7.1 1.6 10.9 1.6 4 1.6 2.8 1.6 2.4 1.6 2.2 1.7 2.3 1.6 2.1" stroke="#b6d7e8"/><path d="M77.5 198.6l1.6 1 1.7 1 1.6 1 1.6 1 1.6 1 1.6 .9 1.6 1 1.6 1 1.6 .9 1.6 1 1.7 .9 1.6 .9 1.6 .9 1.6 1 1.6 .9 1.6 .9 1.6 .9 1.6 .8 1.7 .9 1.6 .9 1.6 .8 1.6 .9 1.6 .8 1.6 .9 1.6 .8 1.6 .8 1.6 .8 1.7 .8 1.6 .8 1.6 .8 1.6 .8 1.6 .8 1.6 .7 1.6 .8 1.6 .7 1.6 .8 1.7 .7 1.6 .7 1.6 .7 1.6 .8 1.6 .6 1.6 .7 1.6 .7 1.6 .7 1.7 .7 1.6 .6 1.6 .7 1.6 .6 1.6 .6 1.6 .7 1.6 .6 1.6 .6 1.6 .6 1.7 .6 1.6 .6 1.6 .5 1.6 .6 1.6 .6 1.6 .5 1.6 .5 1.6 .6 1.6 .5 1.7 .5 1.6 .5 1.6 .5 1.6 .5 1.6 .5 1.6 .4 1.6 .3 1.6 .3 1.7 .1 1.6 .2 1.6 .1 1.6 .1 1.6-.1 1.6 0 1.6 0 1.6-.1 1.6-.1 1.7-.1 1.6-.2 1.6-.2 1.6-.4 1.6-.4 1.6-.4 1.6-.6 1.6-.5 1.6-.8 1.7-.7 1.6-.6 1.6-.6 1.6-.5 1.6-.6 1.6-.6 1.6-.6 1.6-.6 1.7-.6 1.6-.7 1.6-.6 1.6-.6 1.6-.7 1.6-.8 1.6-.8 1.6-.8 1.6-.9 1.7-.9 1.6-.9 1.6-1.1 1.6-1 1.6-1.2 1.6-1.1 1.6-1.3 1.6-1.2 1.6-1.4 1.7-1.4 1.6-1.4 1.6-1.6 1.6-1.6 1.6-1.7 1.6-1.8 1.6-1.8 1.6-1.9 1.7-2 1.6-2 1.6-2 1.6-2 1.6-2.2 1.6-2.5 1.6-2 1.6-3.5 1.6-4.9 1.7-6.3 1.6-9 1.6-9.3 .6-1.2 1 4.3 .1 .3 1.5 6.3 .3 1 1.3-1.9 .5-.9 .1 0 1-.4 1.6-2.3 1.6-3.6 1.7-7.9 .9-5.3 .7-2.6 1-1.1 .6-2 1.2-3.9 .4-.3 1.6-1.4 1.6-1.7 1.6-3.8 1.2-3 .4-.1 1.7 2.6 1.6 2.1 1.6 3.2 1.6 7.4 1.6 11.4 1.6 4.2 1.6 2.9 1.6 2.5 1.6 2.3 1.7 2.4 1.6 2.2" stroke="#bddbea"/><path d="M77.5 195.9l1.6 1.1 1.7 1 1.6 1.1 1.6 1 1.6 1 1.6 1.1 1.6 1 1.6 1 1.6 1 1.6 1 1.7 1 1.6 .9 1.6 1 1.6 1 1.6 .9 1.6 .9 1.6 1 1.6 .9 1.7 .9 1.6 .9 1.6 .9 1.6 .9 1.6 .9 1.6 .9 1.6 .9 1.6 .8 1.6 .9 1.7 .8 1.6 .9 1.6 .8 1.6 .8 1.6 .8 1.6 .8 1.6 .8 1.6 .8 1.6 .8 1.7 .7 1.6 .8 1.6 .7 1.6 .8 1.6 .7 1.6 .7 1.6 .7 1.6 .7 1.7 .7 1.6 .7 1.6 .7 1.6 .7 1.6 .6 1.6 .7 1.6 .6 1.6 .6 1.6 .7 1.7 .6 1.6 .6 1.6 .6 1.6 .6 1.6 .6 1.6 .6 1.6 .5 1.6 .6 1.6 .5 1.7 .6 1.6 .5 1.6 .5 1.6 .5 1.6 .5 1.6 .5 1.6 .3 1.6 .2 1.7 .2 1.6 .2 1.6 .1 1.6 .1 1.6-.1 1.6 0 1.6 0 1.6-.1 1.6-.1 1.7-.1 1.6-.2 1.6-.3 1.6-.3 1.6-.5 1.6-.5 1.6-.5 1.6-.6 1.6-.8 1.7-.7 1.6-.6 1.6-.6 1.6-.6 1.6-.6 1.6-.7 1.6-.6 1.6-.6 1.7-.7 1.6-.6 1.6-.6 1.6-.7 1.6-.8 1.6-.7 1.6-.9 1.6-.8 1.6-.9 1.7-1 1.6-1 1.6-1 1.6-1.1 1.6-1.2 1.6-1.2 1.6-1.3 1.6-1.4 1.6-1.4 1.7-1.4 1.6-1.6 1.6-1.6 1.6-1.7 1.6-1.8 1.6-1.8 1.6-2 1.6-2 1.7-2 1.6-2.1 1.6-2.1 1.6-2.2 1.6-2.2 1.6-2.7 1.6-2 1.6-3.7 1.6-5.2 1.7-6.6 1.6-9.5 1.6-9.8 .6-1.3 1 4.5 .1 .4 1.5 6.5 .3 1 1.3-1.8 .5-.9 .1 0 1-.5 1.6-2.3 1.6-3.8 1.7-8.3 .9-5.6 .7-2.8 1-1.2 .6-2.1 1.2-4 .4-.3 1.6-1.3 1.6-1.7 1.6-3.6 1.2-2.9 .4-.1 1.7 2.6 1.6 2.1 1.6 3.2 1.6 7.7 1.6 11.9 1.6 4.5 1.6 2.9 1.6 2.6 1.6 2.5 1.7 2.4 1.6 2.4" stroke="#c5dfec"/><path d="M77.5 193.1l1.6 1.1 1.7 1.1 1.6 1.1 1.6 1.1 1.6 1.1 1.6 1.1 1.6 1 1.6 1.1 1.6 1 1.6 1.1 1.7 1 1.6 1 1.6 1 1.6 1.1 1.6 .9 1.6 1 1.6 1 1.6 1 1.7 .9 1.6 1 1.6 .9 1.6 1 1.6 .9 1.6 .9 1.6 .9 1.6 .9 1.6 .9 1.7 .9 1.6 .9 1.6 .9 1.6 .8 1.6 .9 1.6 .8 1.6 .8 1.6 .9 1.6 .8 1.7 .8 1.6 .8 1.6 .7 1.6 .8 1.6 .8 1.6 .7 1.6 .8 1.6 .7 1.7 .7 1.6 .8 1.6 .7 1.6 .7 1.6 .7 1.6 .6 1.6 .7 1.6 .7 1.6 .6 1.7 .7 1.6 .6 1.6 .7 1.6 .6 1.6 .6 1.6 .6 1.6 .6 1.6 .6 1.6 .5 1.7 .6 1.6 .6 1.6 .5 1.6 .5 1.6 .5 1.6 .5 1.6 .4 1.6 .2 1.7 .2 1.6 .2 1.6 .1 1.6 0 1.6 0 1.6 0 1.6 0 1.6-.1 1.6-.1 1.7-.2 1.6-.2 1.6-.3 1.6-.3 1.6-.5 1.6-.5 1.6-.6 1.6-.6 1.6-.8 1.7-.7 1.6-.7 1.6-.6 1.6-.6 1.6-.7 1.6-.6 1.6-.7 1.6-.7 1.7-.6 1.6-.7 1.6-.7 1.6-.7 1.6-.7 1.6-.8 1.6-.9 1.6-.9 1.6-.9 1.7-1 1.6-1.1 1.6-1.1 1.6-1.1 1.6-1.2 1.6-1.3 1.6-1.3 1.6-1.4 1.6-1.5 1.7-1.5 1.6-1.7 1.6-1.7 1.6-1.8 1.6-1.8 1.6-2 1.6-2 1.6-2.1 1.7-2.2 1.6-2.1 1.6-2.2 1.6-2.3 1.6-2.4 1.6-2.7 1.6-2.2 1.6-3.9 1.6-5.4 1.7-7 1.6-10 1.6-10.3 .6-1.4 1 4.8 .1 .3 1.5 6.8 .3 1 1.3-1.7 .5-.9 .1 0 1-.5 1.6-2.4 1.6-3.9 1.7-8.8 .9-5.9 .7-3 1-1.4 .6-2.1 1.2-4 .4-.4 1.6-1.3 1.6-1.6 1.6-3.5 1.2-2.6 .4-.2 1.7 2.5 1.6 2.1 1.6 3.3 1.6 8 1.6 12.5 1.6 4.6 1.6 3 1.6 2.8 1.6 2.5 1.7 2.6 1.6 2.5" stroke="#cce3ef"/><path d="M77.5 190.1l1.6 1.2 1.7 1.2 1.6 1.1 1.6 1.2 1.6 1.1 1.6 1.1 1.6 1.2 1.6 1.1 1.6 1.1 1.6 1.1 1.7 1 1.6 1.1 1.6 1.1 1.6 1 1.6 1.1 1.6 1 1.6 1 1.6 1.1 1.7 1 1.6 1 1.6 1 1.6 .9 1.6 1 1.6 1 1.6 .9 1.6 1 1.6 .9 1.7 .9 1.6 1 1.6 .9 1.6 .9 1.6 .8 1.6 .9 1.6 .9 1.6 .9 1.6 .8 1.7 .8 1.6 .9 1.6 .8 1.6 .8 1.6 .8 1.6 .8 1.6 .8 1.6 .7 1.7 .8 1.6 .8 1.6 .7 1.6 .7 1.6 .8 1.6 .7 1.6 .7 1.6 .7 1.6 .7 1.7 .6 1.6 .7 1.6 .7 1.6 .6 1.6 .7 1.6 .6 1.6 .6 1.6 .6 1.6 .6 1.7 .6 1.6 .6 1.6 .6 1.6 .5 1.6 .5 1.6 .5 1.6 .4 1.6 .3 1.7 .2 1.6 .2 1.6 .1 1.6 0 1.6 0 1.6 0 1.6-.1 1.6-.1 1.6-.1 1.7-.1 1.6-.2 1.6-.3 1.6-.4 1.6-.5 1.6-.5 1.6-.6 1.6-.7 1.6-.8 1.7-.8 1.6-.7 1.6-.6 1.6-.7 1.6-.6 1.6-.7 1.6-.7 1.6-.7 1.7-.7 1.6-.7 1.6-.7 1.6-.8 1.6-.8 1.6-.8 1.6-.9 1.6-.9 1.6-1 1.7-1 1.6-1.1 1.6-1.1 1.6-1.2 1.6-1.3 1.6-1.3 1.6-1.4 1.6-1.5 1.6-1.5 1.7-1.7 1.6-1.6 1.6-1.8 1.6-1.9 1.6-2 1.6-2 1.6-2.2 1.6-2.2 1.7-2.2 1.6-2.3 1.6-2.3 1.6-2.4 1.6-2.5 1.6-2.9 1.6-2.2 1.6-4.1 1.6-5.7 1.7-7.4 1.6-10.6 1.6-10.8 .6-1.4 1 5 .1 .3 1.5 7 .3 1.1 1.3-1.6 .5-1 .1 0 1-.4 1.6-2.5 1.6-4.2 1.7-9.2 .9-6.2 .7-3.3 1-1.5 .6-2.2 1.2-4.1 .4-.3 1.6-1.3 1.6-1.6 1.6-3.2 1.2-2.5 .4-.1 1.7 2.3 1.6 2.1 1.6 3.3 1.6 8.4 1.6 13.1 1.6 4.8 1.6 3.2 1.6 2.8 1.6 2.7 1.7 2.6 1.6 2.7" stroke="#d3e6f0"/><path d="M77.5 187l1.6 1.2 1.7 1.2 1.6 1.2 1.6 1.3 1.6 1.2 1.6 1.1 1.6 1.2 1.6 1.2 1.6 1.1 1.6 1.2 1.7 1.1 1.6 1.1 1.6 1.2 1.6 1.1 1.6 1.1 1.6 1 1.6 1.1 1.6 1.1 1.7 1.1 1.6 1 1.6 1 1.6 1.1 1.6 1 1.6 1 1.6 1 1.6 1 1.6 1 1.7 1 1.6 .9 1.6 1 1.6 .9 1.6 .9 1.6 1 1.6 .9 1.6 .9 1.6 .9 1.7 .8 1.6 .9 1.6 .9 1.6 .8 1.6 .9 1.6 .8 1.6 .8 1.6 .8 1.7 .8 1.6 .8 1.6 .8 1.6 .7 1.6 .8 1.6 .8 1.6 .7 1.6 .7 1.6 .7 1.7 .8 1.6 .7 1.6 .6 1.6 .7 1.6 .7 1.6 .7 1.6 .6 1.6 .6 1.6 .7 1.7 .6 1.6 .6 1.6 .6 1.6 .6 1.6 .5 1.6 .5 1.6 .5 1.6 .2 1.7 .3 1.6 .1 1.6 .2 1.6 0 1.6 0 1.6-.1 1.6 0 1.6-.1 1.6-.1 1.7-.2 1.6-.2 1.6-.3 1.6-.4 1.6-.5 1.6-.6 1.6-.7 1.6-.7 1.6-.8 1.7-.7 1.6-.8 1.6-.7 1.6-.6 1.6-.7 1.6-.8 1.6-.7 1.6-.7 1.7-.8 1.6-.7 1.6-.7 1.6-.8 1.6-.8 1.6-.9 1.6-.9 1.6-1 1.6-1 1.7-1.1 1.6-1.1 1.6-1.2 1.6-1.2 1.6-1.4 1.6-1.3 1.6-1.5 1.6-1.5 1.6-1.7 1.7-1.7 1.6-1.7 1.6-1.9 1.6-2 1.6-2.1 1.6-2.1 1.6-2.3 1.6-2.3 1.7-2.3 1.6-2.4 1.6-2.4 1.6-2.5 1.6-2.7 1.6-3 1.6-2.3 1.6-4.4 1.6-6 1.7-7.8 1.6-11.1 1.6-11.5 .6-1.5 1 5.4 .1 .4 1.5 7.2 .3 1.1 1.3-1.6 .5-.9 .1 0 1-.4 1.6-2.7 1.6-4.3 1.7-9.7 .9-6.6 .7-3.5 1-1.7 .6-2.2 1.2-4.2 .4-.3 1.6-1.3 1.6-1.5 1.6-3.1 1.2-2.3 .4-.1 1.7 2.3 1.6 2 1.6 3.4 1.6 8.7 1.6 13.8 1.6 5 1.6 3.3 1.6 2.9 1.6 2.8 1.7 2.8 1.6 2.8" stroke="#d7e8f1"/><path d="M77.5 183.6l1.6 1.3 1.7 1.3 1.6 1.2 1.6 1.3 1.6 1.3 1.6 1.2 1.6 1.3 1.6 1.2 1.6 1.2 1.6 1.2 1.7 1.2 1.6 1.2 1.6 1.2 1.6 1.1 1.6 1.2 1.6 1.1 1.6 1.1 1.6 1.2 1.7 1.1 1.6 1.1 1.6 1.1 1.6 1.1 1.6 1 1.6 1.1 1.6 1 1.6 1.1 1.6 1 1.7 1 1.6 1.1 1.6 1 1.6 .9 1.6 1 1.6 1 1.6 .9 1.6 1 1.6 .9 1.7 .9 1.6 1 1.6 .9 1.6 .8 1.6 .9 1.6 .9 1.6 .9 1.6 .8 1.7 .8 1.6 .9 1.6 .8 1.6 .8 1.6 .8 1.6 .8 1.6 .8 1.6 .7 1.6 .8 1.7 .7 1.6 .8 1.6 .7 1.6 .7 1.6 .7 1.6 .7 1.6 .7 1.6 .6 1.6 .7 1.7 .6 1.6 .7 1.6 .6 1.6 .6 1.6 .6 1.6 .5 1.6 .5 1.6 .3 1.7 .2 1.6 .2 1.6 .1 1.6 0 1.6 0 1.6 0 1.6-.1 1.6-.1 1.6-.1 1.7-.2 1.6-.2 1.6-.4 1.6-.4 1.6-.5 1.6-.6 1.6-.7 1.6-.7 1.6-.9 1.7-.8 1.6-.7 1.6-.7 1.6-.8 1.6-.7 1.6-.7 1.6-.8 1.6-.8 1.7-.8 1.6-.7 1.6-.8 1.6-.8 1.6-.9 1.6-.9 1.6-1 1.6-.9 1.6-1.1 1.7-1.1 1.6-1.2 1.6-1.2 1.6-1.3 1.6-1.4 1.6-1.5 1.6-1.5 1.6-1.6 1.6-1.7 1.7-1.8 1.6-1.8 1.6-2 1.6-2.1 1.6-2.2 1.6-2.2 1.6-2.4 1.6-2.4 1.7-2.5 1.6-2.5 1.6-2.5 1.6-2.7 1.6-2.7 1.6-3.2 1.6-2.4 1.6-4.6 1.6-6.4 1.7-8.2 1.6-11.8 1.6-12.1 .6-1.6 1 5.7 .1 .4 1.5 7.5 .3 1.1 1.3-1.4 .5-.9 .1 0 1-.5 1.6-2.8 1.6-4.5 1.7-10.3 .9-6.9 .7-3.7 1-2 .6-2.3 1.2-4.1 .4-.3 1.6-1.3 1.6-1.5 1.6-2.8 1.2-2.2 .4 0 1.7 2.1 1.6 2 1.6 3.4 1.6 9.1 1.6 14.5 1.6 5.2 1.6 3.5 1.6 3.1 1.6 2.9 1.7 2.9 1.6 2.9" stroke="#dceaf2"/><path d="M77.5 179.9l1.6 1.4 1.7 1.3 1.6 1.4 1.6 1.3 1.6 1.3 1.6 1.3 1.6 1.3 1.6 1.3 1.6 1.3 1.6 1.3 1.7 1.2 1.6 1.3 1.6 1.2 1.6 1.2 1.6 1.3 1.6 1.2 1.6 1.2 1.6 1.1 1.7 1.2 1.6 1.2 1.6 1.1 1.6 1.2 1.6 1.1 1.6 1.1 1.6 1.1 1.6 1.1 1.6 1.1 1.7 1.1 1.6 1 1.6 1.1 1.6 1 1.6 1.1 1.6 1 1.6 1 1.6 1 1.6 1 1.7 .9 1.6 1 1.6 .9 1.6 1 1.6 .9 1.6 .9 1.6 .9 1.6 .9 1.7 .9 1.6 .9 1.6 .8 1.6 .9 1.6 .8 1.6 .8 1.6 .8 1.6 .8 1.6 .8 1.7 .8 1.6 .8 1.6 .8 1.6 .7 1.6 .7 1.6 .8 1.6 .7 1.6 .7 1.6 .7 1.7 .7 1.6 .6 1.6 .7 1.6 .6 1.6 .6 1.6 .6 1.6 .5 1.6 .3 1.7 .2 1.6 .2 1.6 .1 1.6 0 1.6 0 1.6 0 1.6-.1 1.6-.1 1.6-.1 1.7-.2 1.6-.3 1.6-.3 1.6-.5 1.6-.5 1.6-.7 1.6-.7 1.6-.7 1.6-.9 1.7-.8 1.6-.8 1.6-.8 1.6-.7 1.6-.8 1.6-.8 1.6-.8 1.6-.8 1.7-.8 1.6-.9 1.6-.8 1.6-.8 1.6-.9 1.6-1 1.6-1 1.6-1 1.6-1.1 1.7-1.1 1.6-1.3 1.6-1.3 1.6-1.3 1.6-1.5 1.6-1.5 1.6-1.6 1.6-1.7 1.6-1.8 1.7-1.8 1.6-2 1.6-2.1 1.6-2.2 1.6-2.3 1.6-2.4 1.6-2.5 1.6-2.5 1.7-2.6 1.6-2.6 1.6-2.7 1.6-2.8 1.6-2.9 1.6-3.3 1.6-2.6 1.6-4.8 1.6-6.7 1.7-8.7 1.6-12.5 1.6-12.8 .6-1.7 1 6.1 .1 .4 1.5 7.8 .3 1.2 1.3-1.4 .5-.9 .1 0 1-.5 1.6-2.9 1.6-4.8 1.7-10.8 .9-7.3 .7-4.1 1-2.1 .6-2.4 1.2-4.2 .4-.3 1.6-1.3 1.6-1.4 1.6-2.6 1.2-1.9 .4-.1 1.7 2.1 1.6 1.9 1.6 3.5 1.6 9.5 1.6 15.3 1.6 5.4 1.6 3.7 1.6 3.2 1.6 3 1.7 3.1 1.6 3.1" stroke="#e0ecf3"/><path d="M77.5 175.8l1.6 1.5 1.7 1.4 1.6 1.4 1.6 1.4 1.6 1.4 1.6 1.4 1.6 1.4 1.6 1.4 1.6 1.3 1.6 1.3 1.7 1.4 1.6 1.3 1.6 1.3 1.6 1.3 1.6 1.3 1.6 1.2 1.6 1.3 1.6 1.2 1.7 1.3 1.6 1.2 1.6 1.2 1.6 1.2 1.6 1.2 1.6 1.2 1.6 1.2 1.6 1.1 1.6 1.2 1.7 1.1 1.6 1.1 1.6 1.1 1.6 1.1 1.6 1.1 1.6 1.1 1.6 1 1.6 1.1 1.6 1 1.7 1 1.6 1.1 1.6 1 1.6 .9 1.6 1 1.6 1 1.6 .9 1.6 1 1.7 .9 1.6 .9 1.6 .9 1.6 .9 1.6 .9 1.6 .9 1.6 .8 1.6 .9 1.6 .8 1.7 .8 1.6 .8 1.6 .8 1.6 .8 1.6 .8 1.6 .8 1.6 .7 1.6 .8 1.6 .7 1.7 .7 1.6 .7 1.6 .7 1.6 .7 1.6 .6 1.6 .6 1.6 .5 1.6 .4 1.7 .2 1.6 .2 1.6 .1 1.6 0 1.6 0 1.6 0 1.6-.1 1.6-.1 1.6-.1 1.7-.2 1.6-.3 1.6-.4 1.6-.5 1.6-.6 1.6-.7 1.6-.7 1.6-.8 1.6-.9 1.7-.8 1.6-.9 1.6-.8 1.6-.8 1.6-.8 1.6-.8 1.6-.9 1.6-.8 1.7-.9 1.6-.9 1.6-.8 1.6-.9 1.6-1 1.6-1 1.6-1 1.6-1.1 1.6-1.1 1.7-1.2 1.6-1.3 1.6-1.3 1.6-1.5 1.6-1.5 1.6-1.6 1.6-1.7 1.6-1.8 1.6-1.8 1.7-2 1.6-2.1 1.6-2.2 1.6-2.3 1.6-2.4 1.6-2.6 1.6-2.6 1.6-2.7 1.7-2.7 1.6-2.8 1.6-2.8 1.6-2.9 1.6-3.1 1.6-3.5 1.6-2.7 1.6-5.1 1.6-7.1 1.7-9.3 1.6-13.1 1.6-13.7 .6-1.7 1 6.4 .1 .5 1.5 8 .3 1.3 1.3-1.3 .5-.9 .1 0 1-.4 1.6-3.1 1.6-5.1 1.7-11.4 .9-7.8 .7-4.4 1-2.4 .6-2.3 1.2-4.3 .4-.3 1.6-1.3 1.6-1.3 1.6-2.3 1.2-1.8 .4 0 1.7 1.9 1.6 1.9 1.6 3.6 1.6 10 1.6 16 1.6 5.8 1.6 3.8 1.6 3.3 1.6 3.3 1.7 3.2 1.6 3.2" stroke="#e5eef4"/><path d="M77.5 171.2l1.6 1.5 1.7 1.5 1.6 1.5 1.6 1.5 1.6 1.5 1.6 1.5 1.6 1.5 1.6 1.4 1.6 1.4 1.6 1.5 1.7 1.4 1.6 1.4 1.6 1.3 1.6 1.4 1.6 1.4 1.6 1.3 1.6 1.4 1.6 1.3 1.7 1.3 1.6 1.3 1.6 1.3 1.6 1.2 1.6 1.3 1.6 1.3 1.6 1.2 1.6 1.2 1.6 1.2 1.7 1.2 1.6 1.2 1.6 1.2 1.6 1.1 1.6 1.2 1.6 1.1 1.6 1.1 1.6 1.2 1.6 1 1.7 1.1 1.6 1.1 1.6 1.1 1.6 1 1.6 1 1.6 1.1 1.6 1 1.6 1 1.7 .9 1.6 1 1.6 1 1.6 .9 1.6 1 1.6 .9 1.6 .9 1.6 .9 1.6 .9 1.7 .8 1.6 .9 1.6 .8 1.6 .9 1.6 .8 1.6 .8 1.6 .8 1.6 .8 1.6 .7 1.7 .8 1.6 .7 1.6 .8 1.6 .7 1.6 .7 1.6 .6 1.6 .5 1.6 .4 1.7 .3 1.6 .1 1.6 .2 1.6 0 1.6-.1 1.6 0 1.6-.1 1.6-.1 1.6-.1 1.7-.2 1.6-.3 1.6-.4 1.6-.5 1.6-.7 1.6-.7 1.6-.8 1.6-.9 1.6-.9 1.7-.9 1.6-.8 1.6-.8 1.6-.9 1.6-.9 1.6-.8 1.6-.9 1.6-1 1.7-.9 1.6-.9 1.6-.9 1.6-1 1.6-1 1.6-1 1.6-1.1 1.6-1.1 1.6-1.2 1.7-1.3 1.6-1.3 1.6-1.4 1.6-1.5 1.6-1.6 1.6-1.7 1.6-1.8 1.6-1.9 1.6-2 1.7-2.1 1.6-2.2 1.6-2.3 1.6-2.5 1.6-2.5 1.6-2.7 1.6-2.8 1.6-2.8 1.7-2.9 1.6-3 1.6-3 1.6-3 1.6-3.3 1.6-3.7 1.6-2.9 1.6-5.4 1.6-7.6 1.7-9.8 1.6-14 1.6-14.5 .6-1.9 1 6.9 .1 .5 1.5 8.4 .3 1.3 1.3-1.2 .5-.8 .1-.1 1-.4 1.6-3.3 1.6-5.3 1.7-12.2 .9-8.3 .7-4.7 1-2.7 .6-2.4 1.2-4.3 .4-.4 1.6-1.2 1.6-1.2 1.6-2.1 1.2-1.4 .4 0 1.7 1.7 1.6 1.9 1.6 3.6 1.6 10.5 1.6 17 1.6 6.1 1.6 4 1.6 3.5 1.6 3.4 1.7 3.4 1.6 3.4" stroke="#e9f1f4"/><path d="M77.5 165.7l1.6 1.6 1.7 1.6 1.6 1.7 1.6 1.6 1.6 1.5 1.6 1.6 1.6 1.6 1.6 1.5 1.6 1.5 1.6 1.6 1.7 1.5 1.6 1.5 1.6 1.4 1.6 1.5 1.6 1.4 1.6 1.5 1.6 1.4 1.6 1.4 1.7 1.4 1.6 1.4 1.6 1.4 1.6 1.3 1.6 1.4 1.6 1.3 1.6 1.3 1.6 1.3 1.6 1.3 1.7 1.3 1.6 1.3 1.6 1.2 1.6 1.2 1.6 1.3 1.6 1.2 1.6 1.2 1.6 1.1 1.6 1.2 1.7 1.2 1.6 1.1 1.6 1.1 1.6 1.2 1.6 1.1 1.6 1 1.6 1.1 1.6 1.1 1.7 1 1.6 1.1 1.6 1 1.6 1 1.6 1 1.6 1 1.6 .9 1.6 1 1.6 .9 1.7 .9 1.6 1 1.6 .9 1.6 .8 1.6 .9 1.6 .9 1.6 .8 1.6 .8 1.6 .9 1.7 .8 1.6 .8 1.6 .7 1.6 .8 1.6 .7 1.6 .7 1.6 .5 1.6 .5 1.7 .2 1.6 .2 1.6 .1 1.6 0 1.6 0 1.6 0 1.6-.1 1.6-.1 1.6-.2 1.7-.2 1.6-.3 1.6-.5 1.6-.5 1.6-.7 1.6-.8 1.6-.8 1.6-.9 1.6-1 1.7-.9 1.6-.9 1.6-.9 1.6-.9 1.6-.9 1.6-.9 1.6-1 1.6-1 1.7-1 1.6-1 1.6-.9 1.6-1 1.6-1.1 1.6-1.1 1.6-1.1 1.6-1.2 1.6-1.3 1.7-1.3 1.6-1.4 1.6-1.5 1.6-1.6 1.6-1.7 1.6-1.8 1.6-1.9 1.6-2 1.6-2.1 1.7-2.2 1.6-2.4 1.6-2.5 1.6-2.6 1.6-2.8 1.6-2.8 1.6-3 1.6-3 1.7-3.1 1.6-3.2 1.6-3.1 1.6-3.3 1.6-3.5 1.6-4 1.6-3 1.6-5.8 1.6-8.1 1.7-10.5 1.6-15.1 1.6-15.5 .6-2 1 7.3 .1 .6 1.5 8.8 .3 1.4 1.3-1 .5-.9 .1 0 1-.5 1.6-3.4 1.6-5.7 1.7-13 .9-8.9 .7-5.1 1-3.1 .6-2.5 1.2-4.4 .4-.3 1.6-1.3 1.6-1.1 1.6-1.6 1.2-1.2 .4 0 1.7 1.6 1.6 1.8 1.6 3.7 1.6 11.1 1.6 18.2 1.6 6.4 1.6 4.2 1.6 3.8 1.6 3.6 1.7 3.6 1.6 3.6" stroke="#eef3f5"/><path d="M77.5 158.5l1.6 1.8 1.7 1.7 1.6 1.8 1.6 1.7 1.6 1.7 1.6 1.8 1.6 1.6 1.6 1.7 1.6 1.7 1.6 1.6 1.7 1.6 1.6 1.6 1.6 1.6 1.6 1.6 1.6 1.6 1.6 1.5 1.6 1.6 1.6 1.5 1.7 1.5 1.6 1.5 1.6 1.5 1.6 1.5 1.6 1.4 1.6 1.5 1.6 1.4 1.6 1.4 1.6 1.4 1.7 1.4 1.6 1.3 1.6 1.4 1.6 1.3 1.6 1.3 1.6 1.3 1.6 1.3 1.6 1.3 1.6 1.3 1.7 1.2 1.6 1.3 1.6 1.2 1.6 1.2 1.6 1.2 1.6 1.1 1.6 1.2 1.6 1.1 1.7 1.2 1.6 1.1 1.6 1.1 1.6 1.1 1.6 1 1.6 1.1 1.6 1.1 1.6 1 1.6 1 1.7 1 1.6 1 1.6 .9 1.6 1 1.6 .9 1.6 1 1.6 .9 1.6 .9 1.6 .9 1.7 .8 1.6 .9 1.6 .8 1.6 .8 1.6 .8 1.6 .7 1.6 .6 1.6 .5 1.7 .3 1.6 .2 1.6 .1 1.6 0 1.6 0 1.6-.1 1.6-.1 1.6-.1 1.6-.2 1.7-.2 1.6-.4 1.6-.4 1.6-.6 1.6-.8 1.6-.8 1.6-1 1.6-.9 1.6-1 1.7-1 1.6-.9 1.6-1 1.6-1 1.6-1 1.6-1 1.6-1 1.6-1.1 1.7-1.1 1.6-1 1.6-1.1 1.6-1.1 1.6-1.1 1.6-1.2 1.6-1.2 1.6-1.2 1.6-1.4 1.7-1.4 1.6-1.5 1.6-1.6 1.6-1.7 1.6-1.8 1.6-2 1.6-2 1.6-2.2 1.6-2.3 1.7-2.4 1.6-2.5 1.6-2.7 1.6-2.9 1.6-2.9 1.6-3.1 1.6-3.2 1.6-3.3 1.7-3.4 1.6-3.4 1.6-3.4 1.6-3.5 1.6-3.8 1.6-4.3 1.6-3.3 1.6-6.3 1.6-8.7 1.7-11.5 1.6-16.4 1.6-16.9 .6-2.2 1 8.1 .1 .6 1.5 9.4 .3 1.4 1.3-.8 .5-.8 .1 0 1-.5 1.6-3.7 1.6-6.2 1.7-14.2 .9-9.6 .7-5.7 1-3.4 .6-2.6 1.2-4.6 .4-.3 1.6-1.2 1.6-1 1.6-1.2 1.2-.8 .4 .1 1.7 1.3 1.6 1.8 1.6 3.8 1.6 11.9 1.6 19.7 1.6 6.8 1.6 4.6 1.6 4 1.6 3.9 1.7 3.9 1.6 3.9" stroke="#f2f5f6"/><path d="M77.5 141.2l1.6 2.1 1.7 2.1 1.6 2.1 1.6 2 1.6 2.1 1.6 2 1.6 2 1.6 2 1.6 1.9 1.6 2 1.7 1.9 1.6 1.9 1.6 1.9 1.6 1.9 1.6 1.8 1.6 1.8 1.6 1.9 1.6 1.8 1.7 1.8 1.6 1.7 1.6 1.8 1.6 1.7 1.6 1.7 1.6 1.7 1.6 1.7 1.6 1.7 1.6 1.6 1.7 1.6 1.6 1.6 1.6 1.6 1.6 1.6 1.6 1.6 1.6 1.5 1.6 1.5 1.6 1.5 1.6 1.5 1.7 1.5 1.6 1.5 1.6 1.4 1.6 1.4 1.6 1.4 1.6 1.4 1.6 1.4 1.6 1.3 1.7 1.3 1.6 1.4 1.6 1.3 1.6 1.2 1.6 1.3 1.6 1.2 1.6 1.3 1.6 1.2 1.6 1.2 1.7 1.1 1.6 1.2 1.6 1.1 1.6 1.2 1.6 1.1 1.6 1.1 1.6 1 1.6 1.1 1.6 1 1.7 1 1.6 1 1.6 1 1.6 1 1.6 .9 1.6 .8 1.6 .8 1.6 .5 1.7 .4 1.6 .2 1.6 .1 1.6 0 1.6-.1 1.6 0 1.6-.1 1.6-.2 1.6-.2 1.7-.3 1.6-.4 1.6-.6 1.6-.7 1.6-.9 1.6-1 1.6-1.1 1.6-1.1 1.6-1.1 1.7-1.1 1.6-1.1 1.6-1.1 1.6-1.2 1.6-1.2 1.6-1.2 1.6-1.2 1.6-1.3 1.7-1.2 1.6-1.3 1.6-1.2 1.6-1.3 1.6-1.3 1.6-1.4 1.6-1.4 1.6-1.4 1.6-1.6 1.7-1.6 1.6-1.7 1.6-1.9 1.6-2 1.6-2.1 1.6-2.2 1.6-2.4 1.6-2.6 1.6-2.7 1.7-2.8 1.6-3.1 1.6-3.1 1.6-3.4 1.6-3.5 1.6-3.7 1.6-3.8 1.6-3.9 1.7-3.9 1.6-4 1.6-4.1 1.6-4.1 1.6-4.5 1.6-5.1 1.6-3.8 1.6-7.5 1.6-10.5 1.7-13.6 1.6-19.6 1.6-20.3 .6-2.5 1 9.7 .1 .7 1.5 10.8 .3 1.6 1.3-.4 .5-.8 .1 0 1-.5 1.6-4.3 1.6-7.3 1.7-16.9 .9-11.4 .7-7.1 1-4.5 .6-2.8 1.2-4.8 .4-.4 1.6-1.2 1.6-.6 1.6-.1 1.2 .2 .4 .1 1.7 .8 1.6 1.6 1.6 4.1 1.6 13.9 1.6 23.2 1.6 8 1.6 5.3 1.6 4.7 1.6 4.5 1.7 4.6 1.6 4.6" stroke="#f7f7f7"/><path d="M77.5 134.7l1.6 1.9 1.7 2 1.6 2.1 1.6 2.1 1.6 2.1 1.6 2 1.6 2.1 1.6 2 1.6 2 1.6 2 1.7 2 1.6 2 1.6 1.9 1.6 2 1.6 1.9 1.6 1.9 1.6 1.9 1.6 1.8 1.7 1.9 1.6 1.8 1.6 1.9 1.6 1.9 1.6 1.9 1.6 1.8 1.6 1.9 1.6 1.8 1.6 1.8 1.7 1.8 1.6 1.8 1.6 1.7 1.6 1.8 1.6 1.7 1.6 1.7 1.6 1.7 1.6 1.6 1.6 1.6 1.7 1.7 1.6 1.5 1.6 1.6 1.6 1.6 1.6 1.5 1.6 1.5 1.6 1.5 1.6 1.5 1.7 1.4 1.6 1.5 1.6 1.4 1.6 1.4 1.6 1.4 1.6 1.3 1.6 1.3 1.6 1.4 1.6 1.3 1.7 1.2 1.6 1.3 1.6 1.2 1.6 1.2 1.6 1.2 1.6 1.2 1.6 1.2 1.6 1.1 1.6 1.1 1.7 1.1 1.6 1.1 1.6 1 1.6 1.1 1.6 .9 1.6 .9 1.6 .8 1.6 .5 1.7 .4 1.6 .2 1.6 .1 1.6 0 1.6-.1 1.6 0 1.6-.1 1.6-.2 1.6-.2 1.7-.3 1.6-.4 1.6-.6 1.6-.7 1.6-.9 1.6-1 1.6-1.1 1.6-1.1 1.6-1.1 1.7-1.1 1.6-1.1 1.6-1.1 1.6-1.1 1.6-1.1 1.6-1.1 1.6-1.2 1.6-1.2 1.7-1.1 1.6-1.2 1.6-1.2 1.6-1.1 1.6-1.2 1.6-1.3 1.6-1.2 1.6-1.3 1.6-1.4 1.7-1.4 1.6-1.5 1.6-1.6 1.6-1.8 1.6-1.8 1.6-1.9 1.6-2 1.6-2.2 1.6-2.3 1.7-2.4 1.6-2.6 1.6-2.7 1.6-2.8 1.6-3 1.6-3.1 1.6-3.3 1.6-3.4 1.7-3.5 1.6-3.6 1.6-3.7 1.6-3.7 1.6-3.7 1.6-3.8 1.6-3.8 1.6-3.7 1.6-4.1 1.7-5.3 1.6-7.3 1.6-10 .6-4.8 1-7.9 .1-1 1.5-16.8 .3-3.8 1.3-16.3 .5-3.5 .1-.6 1 6.1 1.6 9.3 1.6 4.9 1.7 .4 .9-1.3 .7-2 1-3.9 .6-2.4 1.2-9.6 .4-5 1.6-19.8 1.6-11.9 1.6-3.5 1.2-1.2 .4-.2 1.7-.7 1.6-.3 1.6 .2 1.6 .7 1.6 1.2 1.6 3 1.6 10 1.6 20.7 1.6 14.5 1.7 5.5 1.6 4.8" stroke="#fce1d2"/><path d="M77.5 134.9l1.6 2.1 1.7 2.1 1.6 2.1 1.6 2.1 1.6 2.1 1.6 2.1 1.6 2 1.6 2.1 1.6 2 1.6 2 1.7 2 1.6 1.9 1.6 2 1.6 1.9 1.6 1.9 1.6 1.9 1.6 1.9 1.6 1.8 1.7 1.9 1.6 1.8 1.6 1.9 1.6 1.8 1.6 1.9 1.6 1.9 1.6 1.8 1.6 1.8 1.6 1.8 1.7 1.8 1.6 1.8 1.6 1.7 1.6 1.7 1.6 1.7 1.6 1.7 1.6 1.7 1.6 1.6 1.6 1.6 1.7 1.6 1.6 1.6 1.6 1.6 1.6 1.5 1.6 1.5 1.6 1.5 1.6 1.5 1.6 1.5 1.7 1.4 1.6 1.4 1.6 1.4 1.6 1.4 1.6 1.4 1.6 1.3 1.6 1.4 1.6 1.3 1.6 1.3 1.7 1.2 1.6 1.3 1.6 1.2 1.6 1.2 1.6 1.2 1.6 1.2 1.6 1.1 1.6 1.1 1.6 1.1 1.7 1.1 1.6 1.1 1.6 1.1 1.6 1 1.6 .9 1.6 .9 1.6 .8 1.6 .5 1.7 .4 1.6 .2 1.6 .1 1.6 0 1.6-.1 1.6 0 1.6-.1 1.6-.2 1.6-.2 1.7-.3 1.6-.4 1.6-.6 1.6-.7 1.6-.9 1.6-1 1.6-1.1 1.6-1.1 1.6-1.1 1.7-1.1 1.6-1.1 1.6-1.1 1.6-1.1 1.6-1.1 1.6-1.2 1.6-1.1 1.6-1.2 1.7-1.2 1.6-1.1 1.6-1.2 1.6-1.2 1.6-1.2 1.6-1.2 1.6-1.3 1.6-1.3 1.6-1.4 1.7-1.5 1.6-1.5 1.6-1.6 1.6-1.8 1.6-1.8 1.6-1.9 1.6-2.1 1.6-2.2 1.6-2.3 1.7-2.5 1.6-2.6 1.6-2.7 1.6-2.9 1.6-3 1.6-3.2 1.6-3.3 1.6-3.5 1.7-3.5 1.6-3.7 1.6-3.6 1.6-3.8 1.6-3.8 1.6-3.8 1.6-3.8 1.6-3.7 1.6-4.3 1.7-5.9 1.6-7.9 1.6-10.8 .6-5.1 1-8.5 .1-1.1 1.5-18.8 .3-3.9 1.3-13.6 .5-1.4 .1 .1 1 10 1.6 8.1 1.6 3.3 1.7-.4 .9-2.1 .7-2.3 1-4.3 .6-2.9 1.2-13 .4-3.9 1.6-20 1.6-8.4 1.6-2.6 1.2-.9 .4-.3 1.7-.6 1.6-.1 1.6 .3 1.6 .8 1.6 1.6 1.6 4.1 1.6 13.9 1.6 23.2 1.6 8 1.7 5.3 1.6 4.7" stroke="#fdd9c4"/><path d="M77.5 135.5l1.6 2.1 1.7 2.1 1.6 2.1 1.6 2.1 1.6 2.1 1.6 2.1 1.6 2 1.6 2 1.6 2 1.6 2 1.7 2 1.6 2 1.6 1.9 1.6 1.9 1.6 1.9 1.6 1.9 1.6 1.9 1.6 1.8 1.7 1.9 1.6 1.8 1.6 1.9 1.6 1.8 1.6 1.9 1.6 1.8 1.6 1.8 1.6 1.8 1.6 1.8 1.7 1.8 1.6 1.7 1.6 1.7 1.6 1.8 1.6 1.6 1.6 1.7 1.6 1.7 1.6 1.6 1.6 1.6 1.7 1.6 1.6 1.6 1.6 1.5 1.6 1.5 1.6 1.5 1.6 1.5 1.6 1.5 1.6 1.5 1.7 1.4 1.6 1.4 1.6 1.4 1.6 1.4 1.6 1.3 1.6 1.4 1.6 1.3 1.6 1.3 1.6 1.3 1.7 1.2 1.6 1.3 1.6 1.2 1.6 1.2 1.6 1.2 1.6 1.1 1.6 1.2 1.6 1.1 1.6 1.1 1.7 1.1 1.6 1 1.6 1.1 1.6 1 1.6 .9 1.6 .9 1.6 .8 1.6 .5 1.7 .4 1.6 .2 1.6 .1 1.6 0 1.6-.1 1.6 0 1.6-.1 1.6-.2 1.6-.2 1.7-.3 1.6-.4 1.6-.6 1.6-.7 1.6-.9 1.6-1 1.6-1.1 1.6-1.1 1.6-1.1 1.7-1.1 1.6-1.1 1.6-1.1 1.6-1.1 1.6-1.1 1.6-1.2 1.6-1.1 1.6-1.2 1.7-1.2 1.6-1.2 1.6-1.2 1.6-1.2 1.6-1.2 1.6-1.2 1.6-1.3 1.6-1.3 1.6-1.4 1.7-1.5 1.6-1.5 1.6-1.7 1.6-1.7 1.6-1.9 1.6-2 1.6-2.1 1.6-2.2 1.6-2.4 1.7-2.4 1.6-2.7 1.6-2.8 1.6-2.9 1.6-3 1.6-3.3 1.6-3.3 1.6-3.5 1.7-3.6 1.6-3.7 1.6-3.7 1.6-3.8 1.6-3.8 1.6-3.9 1.6-3.7 1.6-3.9 1.6-4.6 1.7-6.3 1.6-8.7 1.6-11.6 .6-5.5 1-9.4 .1-1.3 1.5-20.1 .3-3.4 1.3-9.4 .5 3.6 .1 2 1 7 1.6 7.1 1.6 1.9 1.7-1.3 .9-2.7 .7-2.5 1-5 .6-3.8 1.2-14.4 .4-4 1.6-18.7 1.6-6 1.6-2 1.2-.8 .4-.2 1.7-.4 1.6 0 1.6 .4 1.6 .9 1.6 1.9 1.6 5.8 1.6 18.1 1.6 19.8 1.6 6.4 1.7 5.1 1.6 4.6" stroke="#facab2"/><path d="M77.5 136.1l1.6 2.1 1.7 2.1 1.6 2.1 1.6 2.1 1.6 2 1.6 2.1 1.6 2.1 1.6 2 1.6 2 1.6 2 1.7 1.9 1.6 2 1.6 1.9 1.6 1.9 1.6 1.9 1.6 1.9 1.6 1.9 1.6 1.8 1.7 1.9 1.6 1.8 1.6 1.8 1.6 1.9 1.6 1.8 1.6 1.8 1.6 1.8 1.6 1.8 1.6 1.8 1.7 1.8 1.6 1.7 1.6 1.7 1.6 1.7 1.6 1.7 1.6 1.6 1.6 1.7 1.6 1.6 1.6 1.6 1.7 1.5 1.6 1.6 1.6 1.5 1.6 1.6 1.6 1.5 1.6 1.4 1.6 1.5 1.6 1.4 1.7 1.5 1.6 1.4 1.6 1.4 1.6 1.3 1.6 1.4 1.6 1.3 1.6 1.3 1.6 1.3 1.6 1.3 1.7 1.2 1.6 1.2 1.6 1.2 1.6 1.2 1.6 1.2 1.6 1.2 1.6 1.1 1.6 1.1 1.6 1.1 1.7 1.1 1.6 1.1 1.6 1 1.6 1 1.6 1 1.6 .8 1.6 .8 1.6 .5 1.7 .4 1.6 .2 1.6 .1 1.6 0 1.6-.1 1.6 0 1.6-.1 1.6-.2 1.6-.2 1.7-.3 1.6-.4 1.6-.6 1.6-.7 1.6-.9 1.6-1 1.6-1.1 1.6-1.1 1.6-1.1 1.7-1.1 1.6-1.1 1.6-1.1 1.6-1.1 1.6-1.1 1.6-1.2 1.6-1.2 1.6-1.2 1.7-1.1 1.6-1.2 1.6-1.2 1.6-1.2 1.6-1.3 1.6-1.2 1.6-1.3 1.6-1.3 1.6-1.5 1.7-1.4 1.6-1.6 1.6-1.7 1.6-1.7 1.6-1.9 1.6-2 1.6-2.1 1.6-2.3 1.6-2.4 1.7-2.5 1.6-2.7 1.6-2.8 1.6-3 1.6-3.1 1.6-3.3 1.6-3.4 1.6-3.5 1.7-3.6 1.6-3.7 1.6-3.8 1.6-3.8 1.6-3.9 1.6-3.9 1.6-3.7 1.6-4 1.6-4.9 1.7-6.9 1.6-9.5 1.6-12.4 .6-5.8 1-10.8 .1-1.5 1.5-19.9 .3-2.8 1.3-1.1 .5 4.8 .1 .8 1 5.7 1.6 5.7 1.6 .9 1.7-2.5 .9-3 .7-2.8 1-6.2 .6-5.9 1.2-14.2 .4-5.4 1.6-14.8 1.6-4.3 1.6-1.6 1.2-.7 .4-.1 1.7-.4 1.6 .1 1.6 .6 1.6 1.1 1.6 2.5 1.6 8 1.6 19.9 1.6 16.9 1.6 5.8 1.7 4.9 1.6 4.6" stroke="#f8bc9f"/><path d="M77.5 136.6l1.6 2.1 1.7 2.2 1.6 2 1.6 2.1 1.6 2.1 1.6 2.1 1.6 2 1.6 2 1.6 2 1.6 2 1.7 2 1.6 1.9 1.6 1.9 1.6 2 1.6 1.8 1.6 1.9 1.6 1.9 1.6 1.8 1.7 1.9 1.6 1.8 1.6 1.8 1.6 1.8 1.6 1.9 1.6 1.8 1.6 1.8 1.6 1.7 1.6 1.8 1.7 1.7 1.6 1.8 1.6 1.7 1.6 1.6 1.6 1.7 1.6 1.6 1.6 1.7 1.6 1.6 1.6 1.5 1.7 1.6 1.6 1.6 1.6 1.5 1.6 1.5 1.6 1.5 1.6 1.5 1.6 1.4 1.6 1.4 1.7 1.4 1.6 1.4 1.6 1.4 1.6 1.4 1.6 1.3 1.6 1.3 1.6 1.3 1.6 1.3 1.6 1.3 1.7 1.2 1.6 1.2 1.6 1.2 1.6 1.2 1.6 1.2 1.6 1.1 1.6 1.1 1.6 1.2 1.6 1 1.7 1.1 1.6 1.1 1.6 1 1.6 1 1.6 1 1.6 .8 1.6 .8 1.6 .5 1.7 .4 1.6 .2 1.6 .1 1.6 0 1.6-.1 1.6 0 1.6-.1 1.6-.2 1.6-.2 1.7-.3 1.6-.4 1.6-.6 1.6-.7 1.6-.9 1.6-1 1.6-1.1 1.6-1.1 1.6-1.1 1.7-1.1 1.6-1.1 1.6-1.1 1.6-1.1 1.6-1.2 1.6-1.1 1.6-1.2 1.6-1.2 1.7-1.2 1.6-1.2 1.6-1.2 1.6-1.2 1.6-1.2 1.6-1.3 1.6-1.3 1.6-1.4 1.6-1.4 1.7-1.5 1.6-1.6 1.6-1.6 1.6-1.8 1.6-2 1.6-2 1.6-2.1 1.6-2.3 1.6-2.4 1.7-2.6 1.6-2.7 1.6-2.9 1.6-3 1.6-3.1 1.6-3.4 1.6-3.4 1.6-3.6 1.7-3.6 1.6-3.8 1.6-3.8 1.6-3.8 1.6-3.9 1.6-4 1.6-3.7 1.6-4.1 1.6-5.4 1.7-7.5 1.6-10.3 1.6-13.1 .6-6.5 1-12.3 .1-1.6 1.5-18.2 .3-2 1.3 7.2 .5 2.6 .1 .7 1 5.2 1.6 4.2 1.6 .1 1.7-3.6 .9-3.4 .7-3.3 1-8.6 .6-6.9 1.2-15 .4-4.9 1.6-10.7 1.6-3.1 1.6-1.3 1.2-.5 .4-.2 1.7-.2 1.6 .2 1.6 .7 1.6 1.4 1.6 3.3 1.6 11.1 1.6 22.4 1.6 11.8 1.6 5.4 1.7 4.7 1.6 4.6" stroke="#f5ad8d"/><path d="M77.5 137.2l1.6 2.1 1.7 2.1 1.6 2.1 1.6 2.1 1.6 2.1 1.6 2 1.6 2.1 1.6 2 1.6 2 1.6 1.9 1.7 2 1.6 1.9 1.6 2 1.6 1.9 1.6 1.9 1.6 1.8 1.6 1.9 1.6 1.8 1.7 1.8 1.6 1.9 1.6 1.8 1.6 1.8 1.6 1.8 1.6 1.8 1.6 1.8 1.6 1.7 1.6 1.8 1.7 1.7 1.6 1.7 1.6 1.7 1.6 1.7 1.6 1.6 1.6 1.6 1.6 1.7 1.6 1.5 1.6 1.6 1.7 1.6 1.6 1.5 1.6 1.5 1.6 1.5 1.6 1.5 1.6 1.5 1.6 1.4 1.6 1.4 1.7 1.4 1.6 1.4 1.6 1.4 1.6 1.3 1.6 1.3 1.6 1.4 1.6 1.2 1.6 1.3 1.6 1.3 1.7 1.2 1.6 1.2 1.6 1.2 1.6 1.2 1.6 1.1 1.6 1.2 1.6 1.1 1.6 1.1 1.6 1.1 1.7 1 1.6 1.1 1.6 1 1.6 1 1.6 1 1.6 .8 1.6 .8 1.6 .5 1.7 .4 1.6 .2 1.6 .1 1.6 0 1.6-.1 1.6 0 1.6-.1 1.6-.2 1.6-.2 1.7-.3 1.6-.4 1.6-.6 1.6-.7 1.6-.9 1.6-1 1.6-1.1 1.6-1.1 1.6-1.1 1.7-1.1 1.6-1.1 1.6-1.1 1.6-1.1 1.6-1.2 1.6-1.1 1.6-1.2 1.6-1.2 1.7-1.2 1.6-1.2 1.6-1.2 1.6-1.3 1.6-1.2 1.6-1.3 1.6-1.3 1.6-1.4 1.6-1.4 1.7-1.5 1.6-1.6 1.6-1.7 1.6-1.9 1.6-1.9 1.6-2 1.6-2.2 1.6-2.3 1.6-2.5 1.7-2.6 1.6-2.7 1.6-2.9 1.6-3.1 1.6-3.2 1.6-3.3 1.6-3.5 1.6-3.7 1.7-3.7 1.6-3.7 1.6-3.9 1.6-3.8 1.6-4 1.6-4 1.6-3.7 1.6-4.3 1.6-5.9 1.7-8.2 1.6-11.1 1.6-14 .6-7.5 1-13.3 .1-1.7 1.5-14.9 .3-.6 1.3 11.2 .5 2.4 .1 .7 1 4.6 1.6 2.6 1.6-.7 1.7-4.6 .9-3.8 .7-3.8 1-11.8 .6-5.6 1.2-16.2 .4-3.6 1.6-7.5 1.6-2.4 1.6-1.2 1.2-.4 .4-.1 1.7-.1 1.6 .4 1.6 .8 1.6 1.7 1.6 4.5 1.6 15.5 1.6 22.3 1.6 7.2 1.6 5.2 1.7 4.7 1.6 4.6" stroke="#f19d7c"/><path d="M77.5 137.8l1.6 2.1 1.7 2.1 1.6 2.1 1.6 2.1 1.6 2 1.6 2.1 1.6 2 1.6 2 1.6 2 1.6 2 1.7 1.9 1.6 2 1.6 1.9 1.6 1.9 1.6 1.9 1.6 1.8 1.6 1.9 1.6 1.8 1.7 1.8 1.6 1.8 1.6 1.9 1.6 1.8 1.6 1.8 1.6 1.7 1.6 1.8 1.6 1.8 1.6 1.7 1.7 1.7 1.6 1.7 1.6 1.7 1.6 1.6 1.6 1.6 1.6 1.7 1.6 1.6 1.6 1.5 1.6 1.6 1.7 1.5 1.6 1.6 1.6 1.5 1.6 1.4 1.6 1.5 1.6 1.5 1.6 1.4 1.6 1.4 1.7 1.4 1.6 1.4 1.6 1.3 1.6 1.4 1.6 1.3 1.6 1.3 1.6 1.3 1.6 1.2 1.6 1.3 1.7 1.2 1.6 1.2 1.6 1.2 1.6 1.1 1.6 1.2 1.6 1.1 1.6 1.1 1.6 1.1 1.6 1.1 1.7 1.1 1.6 1 1.6 1 1.6 1 1.6 1 1.6 .8 1.6 .8 1.6 .5 1.7 .4 1.6 .2 1.6 .1 1.6 0 1.6-.1 1.6 0 1.6-.1 1.6-.2 1.6-.2 1.7-.3 1.6-.4 1.6-.6 1.6-.7 1.6-.9 1.6-1 1.6-1.1 1.6-1.1 1.6-1.1 1.7-1.1 1.6-1.1 1.6-1.1 1.6-1.1 1.6-1.2 1.6-1.2 1.6-1.2 1.6-1.2 1.7-1.2 1.6-1.2 1.6-1.2 1.6-1.2 1.6-1.3 1.6-1.3 1.6-1.3 1.6-1.4 1.6-1.4 1.7-1.5 1.6-1.7 1.6-1.7 1.6-1.9 1.6-1.9 1.6-2.1 1.6-2.2 1.6-2.3 1.6-2.5 1.7-2.7 1.6-2.8 1.6-2.9 1.6-3.1 1.6-3.2 1.6-3.4 1.6-3.6 1.6-3.6 1.7-3.8 1.6-3.8 1.6-3.8 1.6-3.9 1.6-4 1.6-4.2 1.6-3.6 1.6-4.6 1.6-6.4 1.7-8.9 1.6-11.9 1.6-15.4 .6-8.5 1-13.5 .1-1.5 1.5-9.7 .3 3.3 1.3 10.1 .5 2.3 .1 .6 1 3.7 1.6 1.4 1.6-1.7 1.7-5.4 .9-4.3 .7-5.4 1-12.7 .6-6.1 1.2-15.1 .4-2.5 1.6-5.5 1.6-1.8 1.6-.9 1.2-.4 .4 0 1.7 0 1.6 .4 1.6 1.1 1.6 2 1.6 6.3 1.6 19.2 1.6 18.6 1.6 6.2 1.6 5 1.7 4.7 1.6 4.5" stroke="#e88a6e"/><path d="M77.5 138.4l1.6 2.1 1.7 2.1 1.6 2.1 1.6 2 1.6 2.1 1.6 2 1.6 2.1 1.6 2 1.6 1.9 1.6 2 1.7 2 1.6 1.9 1.6 1.9 1.6 1.9 1.6 1.9 1.6 1.8 1.6 1.9 1.6 1.8 1.7 1.8 1.6 1.8 1.6 1.8 1.6 1.8 1.6 1.8 1.6 1.8 1.6 1.7 1.6 1.8 1.6 1.7 1.7 1.7 1.6 1.6 1.6 1.7 1.6 1.6 1.6 1.7 1.6 1.6 1.6 1.6 1.6 1.5 1.6 1.6 1.7 1.5 1.6 1.5 1.6 1.5 1.6 1.5 1.6 1.4 1.6 1.5 1.6 1.4 1.6 1.4 1.7 1.4 1.6 1.3 1.6 1.4 1.6 1.3 1.6 1.3 1.6 1.3 1.6 1.3 1.6 1.2 1.6 1.3 1.7 1.2 1.6 1.2 1.6 1.2 1.6 1.1 1.6 1.2 1.6 1.1 1.6 1.1 1.6 1.1 1.6 1 1.7 1.1 1.6 1 1.6 1.1 1.6 .9 1.6 1 1.6 .8 1.6 .8 1.6 .5 1.7 .4 1.6 .2 1.6 .1 1.6 0 1.6-.1 1.6 0 1.6-.1 1.6-.2 1.6-.2 1.7-.3 1.6-.4 1.6-.6 1.6-.7 1.6-.9 1.6-1 1.6-1.1 1.6-1.1 1.6-1.1 1.7-1.1 1.6-1.1 1.6-1.1 1.6-1.1 1.6-1.2 1.6-1.2 1.6-1.2 1.6-1.2 1.7-1.2 1.6-1.2 1.6-1.2 1.6-1.3 1.6-1.3 1.6-1.2 1.6-1.4 1.6-1.4 1.6-1.4 1.7-1.6 1.6-1.6 1.6-1.8 1.6-1.9 1.6-1.9 1.6-2.1 1.6-2.3 1.6-2.4 1.6-2.5 1.7-2.7 1.6-2.8 1.6-2.9 1.6-3.2 1.6-3.3 1.6-3.4 1.6-3.6 1.6-3.7 1.7-3.8 1.6-3.8 1.6-3.9 1.6-4 1.6-4 1.6-4.2 1.6-3.6 1.6-5 1.6-6.9 1.7-9.7 1.6-12.7 1.6-17.3 .6-9.1 1-12.5 .1-1.1 1.5 .4 .3 2.6 1.3 7.4 .5 2 .1 .5 1 2.7 1.6 .5 1.6-2.8 1.7-6.1 .9-5.3 .7-8 1-12 .6-7.9 1.2-11.4 .4-1.8 1.6-3.9 1.6-1.5 1.6-.8 1.2-.2 .4-.1 1.7 .1 1.6 .7 1.6 1.2 1.6 2.7 1.6 8.8 1.6 20.2 1.6 16 1.6 5.7 1.6 4.8 1.7 4.6 1.6 4.5" stroke="#e0785f"/><path d="M77.5 138.9l1.6 2.1 1.7 2.1 1.6 2.1 1.6 2.1 1.6 2.1 1.6 2 1.6 2 1.6 2 1.6 2 1.6 1.9 1.7 2 1.6 1.9 1.6 1.9 1.6 1.9 1.6 1.9 1.6 1.8 1.6 1.9 1.6 1.8 1.7 1.8 1.6 1.8 1.6 1.8 1.6 1.8 1.6 1.8 1.6 1.7 1.6 1.7 1.6 1.8 1.6 1.7 1.7 1.6 1.6 1.7 1.6 1.7 1.6 1.6 1.6 1.6 1.6 1.6 1.6 1.6 1.6 1.5 1.6 1.5 1.7 1.6 1.6 1.5 1.6 1.4 1.6 1.5 1.6 1.4 1.6 1.5 1.6 1.4 1.6 1.4 1.7 1.3 1.6 1.4 1.6 1.3 1.6 1.4 1.6 1.3 1.6 1.2 1.6 1.3 1.6 1.2 1.6 1.3 1.7 1.2 1.6 1.2 1.6 1.1 1.6 1.2 1.6 1.1 1.6 1.1 1.6 1.1 1.6 1.1 1.6 1.1 1.7 1 1.6 1.1 1.6 1 1.6 .9 1.6 1 1.6 .8 1.6 .8 1.6 .5 1.7 .4 1.6 .2 1.6 .1 1.6 0 1.6-.1 1.6 0 1.6-.1 1.6-.2 1.6-.2 1.7-.3 1.6-.4 1.6-.6 1.6-.7 1.6-.9 1.6-1 1.6-1.1 1.6-1.1 1.6-1.1 1.7-1.1 1.6-1.1 1.6-1.1 1.6-1.2 1.6-1.1 1.6-1.2 1.6-1.2 1.6-1.2 1.7-1.2 1.6-1.3 1.6-1.2 1.6-1.3 1.6-1.2 1.6-1.3 1.6-1.4 1.6-1.4 1.6-1.5 1.7-1.5 1.6-1.7 1.6-1.8 1.6-1.9 1.6-2 1.6-2.1 1.6-2.3 1.6-2.4 1.6-2.5 1.7-2.7 1.6-2.9 1.6-3 1.6-3.2 1.6-3.3 1.6-3.5 1.6-3.7 1.6-3.7 1.7-3.8 1.6-3.9 1.6-3.9 1.6-4 1.6-4.1 1.6-4.4 1.6-3.5 1.6-5.4 1.6-7.5 1.7-10.5 1.6-13.5 1.6-19.3 .6-9.4 1-10.4 .1-.9 1.5 7.6 .3 1.7 1.3 6.7 .5 1.6 .1 .4 1 1.6 1.6-.2 1.6-3.9 1.7-7 .9-7.5 .7-8.7 1-13.2 .6-6.8 1.2-8.2 .4-1.3 1.6-2.8 1.6-1.3 1.6-.6 1.2-.2 .4 0 1.7 .3 1.6 .7 1.6 1.5 1.6 3.7 1.6 12.4 1.6 23.6 1.6 9.2 1.6 5.3 1.6 4.8 1.7 4.5 1.6 4.6" stroke="#d86551"/><path d="M77.5 139.5l1.6 2.1 1.7 2.1 1.6 2.1 1.6 2.1 1.6 2 1.6 2 1.6 2.1 1.6 1.9 1.6 2 1.6 2 1.7 1.9 1.6 1.9 1.6 1.9 1.6 1.9 1.6 1.9 1.6 1.8 1.6 1.9 1.6 1.8 1.7 1.8 1.6 1.8 1.6 1.8 1.6 1.7 1.6 1.8 1.6 1.7 1.6 1.8 1.6 1.7 1.6 1.6 1.7 1.7 1.6 1.7 1.6 1.6 1.6 1.6 1.6 1.6 1.6 1.6 1.6 1.5 1.6 1.6 1.6 1.5 1.7 1.5 1.6 1.5 1.6 1.5 1.6 1.4 1.6 1.5 1.6 1.4 1.6 1.4 1.6 1.4 1.7 1.3 1.6 1.4 1.6 1.3 1.6 1.3 1.6 1.3 1.6 1.3 1.6 1.2 1.6 1.2 1.6 1.3 1.7 1.2 1.6 1.1 1.6 1.2 1.6 1.2 1.6 1.1 1.6 1.1 1.6 1.1 1.6 1.1 1.6 1 1.7 1.1 1.6 1 1.6 1 1.6 1 1.6 .9 1.6 .8 1.6 .8 1.6 .5 1.7 .4 1.6 .2 1.6 .1 1.6 0 1.6-.1 1.6 0 1.6-.1 1.6-.2 1.6-.2 1.7-.3 1.6-.4 1.6-.6 1.6-.7 1.6-.9 1.6-1 1.6-1.1 1.6-1.1 1.6-1.1 1.7-1.1 1.6-1.1 1.6-1.1 1.6-1.2 1.6-1.1 1.6-1.2 1.6-1.2 1.6-1.3 1.7-1.2 1.6-1.2 1.6-1.3 1.6-1.2 1.6-1.3 1.6-1.3 1.6-1.4 1.6-1.4 1.6-1.5 1.7-1.6 1.6-1.7 1.6-1.8 1.6-1.9 1.6-2 1.6-2.2 1.6-2.3 1.6-2.4 1.6-2.6 1.7-2.7 1.6-2.9 1.6-3.1 1.6-3.2 1.6-3.4 1.6-3.5 1.6-3.7 1.6-3.8 1.7-3.8 1.6-3.9 1.6-4 1.6-4 1.6-4.2 1.6-4.5 1.6-3.5 1.6-5.9 1.6-8.2 1.7-11.3 1.6-14.3 1.6-21.5 .6-8.5 1-7.7 .1-.2 1.5 11.8 .3 1.5 1.3 6 .5 1.1 .1 .2 1 .9 1.6-1 1.6-4.9 1.7-8.2 .9-10.5 .7-7.3 1-14.5 .6-5 1.2-5.8 .4-.9 1.6-2.2 1.6-1 1.6-.5 1.2-.1 .4 .1 1.7 .3 1.6 .9 1.6 1.8 1.6 5.1 1.6 16.9 1.6 21 1.6 6.9 1.6 5 1.6 4.7 1.7 4.6 1.6 4.6" stroke="#cf5246"/><path d="M77.5 140.1l1.6 2.1 1.7 2.1 1.6 2.1 1.6 2 1.6 2.1 1.6 2 1.6 2 1.6 2 1.6 2 1.6 1.9 1.7 1.9 1.6 2 1.6 1.9 1.6 1.8 1.6 1.9 1.6 1.8 1.6 1.9 1.6 1.8 1.7 1.8 1.6 1.8 1.6 1.7 1.6 1.8 1.6 1.7 1.6 1.8 1.6 1.7 1.6 1.7 1.6 1.6 1.7 1.7 1.6 1.6 1.6 1.6 1.6 1.6 1.6 1.6 1.6 1.6 1.6 1.5 1.6 1.6 1.6 1.5 1.7 1.5 1.6 1.5 1.6 1.4 1.6 1.5 1.6 1.4 1.6 1.4 1.6 1.4 1.6 1.3 1.7 1.4 1.6 1.3 1.6 1.3 1.6 1.3 1.6 1.3 1.6 1.3 1.6 1.2 1.6 1.3 1.6 1.2 1.7 1.2 1.6 1.1 1.6 1.2 1.6 1.1 1.6 1.1 1.6 1.1 1.6 1.1 1.6 1.1 1.6 1.1 1.7 1 1.6 1 1.6 1 1.6 1 1.6 .9 1.6 .8 1.6 .8 1.6 .5 1.7 .4 1.6 .2 1.6 .1 1.6 0 1.6-.1 1.6 0 1.6-.1 1.6-.2 1.6-.2 1.7-.3 1.6-.4 1.6-.6 1.6-.7 1.6-.9 1.6-1 1.6-1.1 1.6-1.1 1.6-1.1 1.7-1.1 1.6-1.1 1.6-1.1 1.6-1.2 1.6-1.1 1.6-1.2 1.6-1.3 1.6-1.2 1.7-1.2 1.6-1.3 1.6-1.2 1.6-1.3 1.6-1.3 1.6-1.3 1.6-1.4 1.6-1.4 1.6-1.5 1.7-1.6 1.6-1.7 1.6-1.8 1.6-2 1.6-2 1.6-2.2 1.6-2.3 1.6-2.5 1.6-2.7 1.7-2.7 1.6-3 1.6-3.1 1.6-3.3 1.6-3.4 1.6-3.6 1.6-3.7 1.6-3.8 1.7-3.9 1.6-3.9 1.6-4 1.6-4 1.6-4.3 1.6-4.7 1.6-3.6 1.6-6.3 1.6-9 1.7-12 1.6-15.8 1.6-22.5 .6-7 1-3.4 .1 1.4 1.5 12.3 .3 1.4 1.3 4.9 .5 .7 .1 .1 1 .3 1.6-2 1.6-5.7 1.7-10.7 .9-10.9 .7-8.5 1-12.8 .6-3.5 1.2-4.2 .4-.6 1.6-1.8 1.6-.8 1.6-.3 1.2 0 .4 0 1.7 .5 1.6 1.1 1.6 2.3 1.6 7 1.6 19.6 1.6 17.8 1.6 6 1.6 4.9 1.6 4.7 1.7 4.5 1.6 4.6" stroke="#c53f3d"/><path d="M77.5 140.7l1.6 2.1 1.7 2 1.6 2.1 1.6 2.1 1.6 2 1.6 2 1.6 2 1.6 2 1.6 2 1.6 1.9 1.7 2 1.6 1.9 1.6 1.9 1.6 1.8 1.6 1.9 1.6 1.8 1.6 1.9 1.6 1.8 1.7 1.8 1.6 1.7 1.6 1.8 1.6 1.7 1.6 1.8 1.6 1.7 1.6 1.7 1.6 1.7 1.6 1.6 1.7 1.7 1.6 1.6 1.6 1.6 1.6 1.6 1.6 1.6 1.6 1.5 1.6 1.5 1.6 1.6 1.6 1.5 1.7 1.4 1.6 1.5 1.6 1.5 1.6 1.4 1.6 1.4 1.6 1.4 1.6 1.4 1.6 1.3 1.7 1.4 1.6 1.3 1.6 1.3 1.6 1.3 1.6 1.3 1.6 1.2 1.6 1.2 1.6 1.3 1.6 1.2 1.7 1.2 1.6 1.1 1.6 1.2 1.6 1.1 1.6 1.1 1.6 1.1 1.6 1.1 1.6 1 1.6 1.1 1.7 1 1.6 1 1.6 1 1.6 1 1.6 .9 1.6 .8 1.6 .8 1.6 .5 1.7 .4 1.6 .2 1.6 .1 1.6 0 1.6-.1 1.6 0 1.6-.1 1.6-.2 1.6-.2 1.7-.3 1.6-.4 1.6-.6 1.6-.7 1.6-.9 1.6-1 1.6-1.1 1.6-1.1 1.6-1.1 1.7-1.1 1.6-1.1 1.6-1.1 1.6-1.2 1.6-1.2 1.6-1.2 1.6-1.2 1.6-1.2 1.7-1.3 1.6-1.2 1.6-1.3 1.6-1.2 1.6-1.3 1.6-1.4 1.6-1.4 1.6-1.4 1.6-1.5 1.7-1.7 1.6-1.7 1.6-1.8 1.6-2 1.6-2.1 1.6-2.2 1.6-2.3 1.6-2.6 1.6-2.6 1.7-2.8 1.6-3 1.6-3.2 1.6-3.3 1.6-3.5 1.6-3.6 1.6-3.7 1.6-3.9 1.7-3.9 1.6-4 1.6-4 1.6-4.1 1.6-4.3 1.6-4.9 1.6-3.7 1.6-6.9 1.6-9.7 1.7-12.9 1.6-17.5 1.6-22 .6-5.4 1 5.7 .1 1.1 1.5 8.6 .3 1.3 1.3 3.6 .5 .3 .1 0 1 0 1.6-3.3 1.6-6.3 1.7-14.5 .9-9.8 .7-10.1 1-9.4 .6-2.5 1.2-3 .4-.5 1.6-1.4 1.6-.7 1.6-.3 1.2 .1 .4 .1 1.7 .6 1.6 1.3 1.6 3 1.6 10 1.6 20.6 1.6 14.6 1.6 5.5 1.6 4.8 1.6 4.6 1.7 4.6 1.6 4.6" stroke="#bc2b34"/></g>
<path clip-path="url(#clipA)" d="M77.5 141.2l1.6 2.1 1.7 2.1 1.6 2.1 1.6 2 1.6 2.1 1.6 2 1.6 2 1.6 2 1.6 1.9 1.6 2 1.7 1.9 1.6 1.9 1.6 1.9 1.6 1.9 1.6 1.8 1.6 1.8 1.6 1.9 1.6 1.8 1.7 1.8 1.6 1.7 1.6 1.8 1.6 1.7 1.6 1.7 1.6 1.7 1.6 1.7 1.6 1.7 1.6 1.6 1.7 1.6 1.6 1.6 1.6 1.6 1.6 1.6 1.6 1.6 1.6 1.5 1.6 1.5 1.6 1.5 1.6 1.5 1.7 1.5 1.6 1.5 1.6 1.4 1.6 1.4 1.6 1.4 1.6 1.4 1.6 1.4 1.6 1.3 1.7 1.3 1.6 1.4 1.6 1.3 1.6 1.2 1.6 1.3 1.6 1.2 1.6 1.3 1.6 1.2 1.6 1.2 1.7 1.1 1.6 1.2 1.6 1.1 1.6 1.2 1.6 1.1 1.6 1.1 1.6 1 1.6 1.1 1.6 1 1.7 1 1.6 1 1.6 1 1.6 1 1.6 .9 1.6 .8 1.6 .8 1.6 .5 1.7 .4 1.6 .2 1.6 .1 1.6 0 1.6-.1 1.6 0 1.6-.1 1.6-.2 1.6-.2 1.7-.3 1.6-.4 1.6-.6 1.6-.7 1.6-.9 1.6-1 1.6-1.1 1.6-1.1 1.6-1.1 1.7-1.1 1.6-1.1 1.6-1.1 1.6-1.2 1.6-1.2 1.6-1.2 1.6-1.2 1.6-1.3 1.7-1.2 1.6-1.3 1.6-1.2 1.6-1.3 1.6-1.3 1.6-1.4 1.6-1.4 1.6-1.4 1.6-1.6 1.7-1.6 1.6-1.7 1.6-1.9 1.6-2 1.6-2.1 1.6-2.2 1.6-2.4 1.6-2.6 1.6-2.7 1.7-2.8 1.6-3.1 1.6-3.1 1.6-3.4 1.6-3.5 1.6-3.7 1.6-3.8 1.6-3.9 1.7-3.9 1.6-4 1.6-4.1 1.6-4.1 1.6-4.5 1.6-5.1 1.6-3.8 1.6-7.5 1.6-10.5 1.7-13.6 1.6-19.6 1.6-20.3 .6-2.5 1 9.7 .1 .7 1.5 7.8 .3 1 1.3 2.3 .5 .1 .1 0 1-.5 1.6-4.3 1.6-7.3 1.7-16.9 .9-11.4 .7-8.6 1-6.6 .6-1.8 1.2-2.2 .4-.4 1.6-1.2 1.6-.6 1.6-.1 1.2 .2 .4 .1 1.7 .8 1.6 1.6 1.6 4.1 1.6 13.9 1.6 23.2 1.6 8 1.6 5.3 1.6 4.7 1.6 4.5 1.7 4.6 1.6 4.6" fill="none" stroke="#67001f" stroke-width="3.30" stroke-linejoin="round"/>
<rect x="145.6" y="101.4" width="100.9" height="81.9" fill="#fff"/>
<g clip-path="url(#clipAi)" stroke-width="2.5" stroke-linejoin="round"><path d="M143.4,149.4 L144.1,150.2 L144.8,150.9 L145.5,151.7 L146.2,152.5 L146.9,153.3 L147.6,154.1 L148.3,155.0 L149.0,155.9 L149.7,156.8 L150.4,157.8 L151.1,158.8 L151.8,159.8 L152.6,160.7 L153.3,161.5 L154.0,162.4 L154.7,163.1 L155.4,163.9 L156.1,164.7 L156.8,165.5 L157.5,166.3 L158.2,167.1 L158.9,167.8 L159.6,168.6 L160.3,169.3 L161.0,170.0 L161.8,170.7 L162.5,171.4 L163.2,172.0 L163.9,172.6 L164.6,173.1 L165.3,173.4 L166.0,173.5 L166.7,173.2 L167.4,172.2 L168.1,170.9 L168.8,170.1 L169.5,169.3 L170.2,168.4 L170.9,167.6 L171.7,166.9 L172.4,166.6 L173.1,167.5 L173.8,170.2 L174.5,175.2 L175.2,178.6 L175.9,185.7 L176.6,192.9 L177.3,197.0 L178.0,197.0 L178.7,197.0 L179.4,197.0 L180.1,197.0 L180.8,197.0 L181.6,197.0 L182.3,197.0 L183.0,197.0 L183.7,197.0 L184.4,197.0 L185.1,197.0 L185.8,197.0 L186.5,197.0 L187.2,197.0 L187.9,197.0 L188.6,197.0 L189.3,197.0 L190.0,197.0 L190.7,197.0 L191.5,197.0 L192.2,197.0 L192.9,197.0 L193.6,197.0 L194.3,197.0 L195.0,197.0 L195.7,197.0 L196.4,197.0 L197.1,197.0 L197.8,197.0 L198.5,197.0 L199.2,197.0 L199.9,197.0 L200.6,197.0 L201.4,197.0 L202.1,197.0 L202.8,197.0 L203.5,197.0 L204.2,197.0 L204.9,197.0 L205.6,197.0 L206.3,197.0 L207.0,197.0 L207.7,197.0 L208.4,197.0 L209.1,197.0 L209.8,197.0 L210.5,197.0 L211.3,197.0 L212.0,194.1 L212.7,184.9 L213.4,187.5 L214.1,187.7 L214.8,176.9 L215.5,174.9 L216.2,173.0 L216.9,171.1 L217.6,169.3 L218.3,167.4 L219.0,165.6 L219.7,163.8 L220.4,162.0 L221.2,160.2 L221.9,158.5 L222.6,156.8 L223.3,155.1 L224.0,153.5 L224.7,151.9 L225.4,150.4 L226.1,148.9 L226.8,147.5 L227.5,146.1 L228.2,144.8 L228.9,143.5 L229.6,142.3 L230.3,141.0 L231.1,139.8 L231.8,138.6 L232.5,137.4 L233.2,136.1 L233.9,134.9 L234.6,133.7 L235.3,132.5 L236.0,131.3 L236.7,130.1 L237.4,129.0 L238.1,127.8 L238.8,126.7 L239.5,125.6 L240.3,124.5 L241.0,123.3 L241.7,122.2 L242.4,121.1 L243.1,120.1 L243.8,119.0 L244.5,118.0 L245.2,117.1 L245.9,116.2 L246.6,115.3 L247.3,114.5 L248.0,113.6 L248.7,112.9 L248.7,105.4 L248.0,105.8 L247.3,106.5 L246.6,107.2 L245.9,108.0 L245.2,108.9 L244.5,109.8 L243.8,110.7 L243.1,111.7 L242.4,112.8 L241.7,113.9 L241.0,115.0 L240.3,116.2 L239.5,117.3 L238.8,118.5 L238.1,119.7 L237.4,120.8 L236.7,122.0 L236.0,123.2 L235.3,124.3 L234.6,125.5 L233.9,126.8 L233.2,128.0 L232.5,129.2 L231.8,130.4 L231.1,131.6 L230.3,132.9 L229.6,134.1 L228.9,135.4 L228.2,136.7 L227.5,138.0 L226.8,139.4 L226.1,140.9 L225.4,142.4 L224.7,143.9 L224.0,145.6 L223.3,147.2 L222.6,148.9 L221.9,150.6 L221.2,152.3 L220.4,154.0 L219.7,155.5 L219.0,157.0 L218.3,158.4 L217.6,159.8 L216.9,161.1 L216.2,162.3 L215.5,163.6 L214.8,164.9 L214.1,166.3 L213.4,167.6 L212.7,168.9 L212.0,170.2 L211.3,171.2 L210.5,172.1 L209.8,172.9 L209.1,173.4 L208.4,173.9 L207.7,174.3 L207.0,174.5 L206.3,174.8 L205.6,174.9 L204.9,175.0 L204.2,175.1 L203.5,175.0 L202.8,175.0 L202.1,174.9 L201.4,174.8 L200.6,174.7 L199.9,174.6 L199.2,174.5 L198.5,174.5 L197.8,174.6 L197.1,174.7 L196.4,174.8 L195.7,175.0 L195.0,175.2 L194.3,175.3 L193.6,175.5 L192.9,175.6 L192.2,175.7 L191.5,175.7 L190.7,175.6 L190.0,175.5 L189.3,175.3 L188.6,175.1 L187.9,174.8 L187.2,174.6 L186.5,174.3 L185.8,174.1 L185.1,173.9 L184.4,173.7 L183.7,173.5 L183.0,173.3 L182.3,173.2 L181.6,173.0 L180.8,172.9 L180.1,172.7 L179.4,172.5 L178.7,172.3 L178.0,172.0 L177.3,171.6 L176.6,171.1 L175.9,170.4 L175.2,169.6 L174.5,168.8 L173.8,168.1 L173.1,167.6 L172.4,167.4 L171.7,167.4 L170.9,167.6 L170.2,168.0 L169.5,168.4 L168.8,168.8 L168.1,169.1 L167.4,169.2 L166.7,169.2 L166.0,168.8 L165.3,168.2 L164.6,167.3 L163.9,166.4 L163.2,165.3 L162.5,164.3 L161.8,163.3 L161.0,162.3 L160.3,161.3 L159.6,160.3 L158.9,159.4 L158.2,158.4 L157.5,157.4 L156.8,156.5 L156.1,155.5 L155.4,154.5 L154.7,153.6 L154.0,152.6 L153.3,151.6 L152.6,150.7 L151.8,149.7 L151.1,148.8 L150.4,147.8 L149.7,146.9 L149.0,146.0 L148.3,145.0 L147.6,144.2 L146.9,143.3 L146.2,142.4 L145.5,141.6 L144.8,140.8 L144.1,140.1 L143.4,139.6 Z" fill="#2064aa" stroke="#2064aa" stroke-width="1"/><path d="M143.4 149.4l.7 .8 .7 .7 .7 .8 .7 .8 .7 .8 .7 .8 .7 .9 .7 .9 .7 .9 .7 1 .7 1 .7 1 .8 .9 .7 .8 .7 .9 .7 .7 .7 .8 .7 .8 .7 .8 .7 .8 .7 .8 .7 .7 .7 .8 .7 .7 .7 .7 .8 .7 .7 .7 .7 .6 .7 .6 .7 .5 .7 .3 .7 .1 .7-.3 .7-1 .7-1.3 .7-.8 .7-.8 .7-.9 .7-.8 .8-.7 .7-.3 .7 .9 .7 2.7 .7 5 .7 3.4 .7 7.1 .7 7.2 .7 4.1 .7 .2 .7 .2 .7 .2 .7 .1 .7 .1 .8 .1 .7 .1 .7 .1 .7 .1 .7 0 .7 .1 .7 .1 .7 0 .7 .1 .7 0 .7 0 .7 0 .7 .1 .7 0 .8 0 .7 0 .7 0 .7 0 .7 .1 .7-.1 .7 0 .7 0 .7 0 .7 0 .7 0 .7 0 .7-.1 .7 0 .8 0 .7-.1 .7 0 .7-.1 .7 0 .7-.1 .7-.1 .7-.1 .7 0 .7-.1 .7-.2 .7-.1 .7-.1 .7-.2 .8-.2 .7-3 .7-9.2 .7 2.6 .7 .2 .7-10.8 .7-2 .7-1.9 .7-1.9 .7-1.8 .7-1.9 .7-1.8 .7-1.8 .7-1.8 .8-1.8 .7-1.7 .7-1.7 .7-1.7 .7-1.6 .7-1.6 .7-1.5 .7-1.5 .7-1.4 .7-1.4 .7-1.3 .7-1.3 .7-1.2 .7-1.3 .8-1.2 .7-1.2 .7-1.2 .7-1.3 .7-1.2 .7-1.2 .7-1.2 .7-1.2 .7-1.2 .7-1.1 .7-1.2 .7-1.1 .7-1.1 .8-1.1 .7-1.2 .7-1.1 .7-1.1 .7-1 .7-1.1 .7-1 .7-.9 .7-.9 .7-.9 .7-.8 .7-.9 .7-.7" stroke="#1d5fa5" fill="none"/><path d="M143.4 143.2l.7 .6 .7 .7 .7 .9 .7 .8 .7 .9 .7 .9 .7 .9 .7 .9 .7 .9 .7 1 .7 .9 .7 1 .8 1 .7 .9 .7 1 .7 1 .7 .9 .7 1 .7 .9 .7 1 .7 1 .7 1 .7 .9 .7 1 .7 1 .8 1 .7 1 .7 1.1 .7 1 .7 1.1 .7 .8 .7 .5 .7 .2 .7-.1 .7-.3 .7-.5 .7-.4 .7-.4 .7-.4 .8-.3 .7 .1 .7 .3 .7 .8 .7 .9 .7 .9 .7 .8 .7 .6 .7 .5 .7 .3 .7 .2 .7 .2 .7 .1 .7 .2 .8 .1 .7 .2 .7 .1 .7 .2 .7 .2 .7 .2 .7 .2 .7 .3 .7 .2 .7 .3 .7 .2 .7 .2 .7 .2 .7 .1 .8 0 .7 0 .7-.1 .7-.1 .7-.2 .7-.2 .7-.2 .7-.2 .7-.1 .7-.1 .7 0 .7 0 .7 .1 .7 .1 .8 .2 .7 .1 .7 .1 .7 0 .7 0 .7-.1 .7-.1 .7-.2 .7-.2 .7-.3 .7-.4 .7-.5 .7-.6 .7-.8 .8-1 .7-1.2 .7-1.3 .7-1.4 .7-1.4 .7-1.4 .7-1.3 .7-1.2 .7-1.2 .7-1.3 .7-1.4 .7-1.4 .7-1.6 .7-1.6 .8-1.7 .7-1.7 .7-1.7 .7-1.7 .7-1.7 .7-1.6 .7-1.5 .7-1.5 .7-1.4 .7-1.4 .7-1.3 .7-1.3 .7-1.2 .7-1.2 .8-1.3 .7-1.2 .7-1.2 .7-1.2 .7-1.3 .7-1.2 .7-1.2 .7-1.1 .7-1.2 .7-1.2 .7-1.1 .7-1.2 .7-1.1 .8-1.2 .7-1.2 .7-1.1 .7-1.1 .7-1 .7-1 .7-.9 .7-.9 .7-.8 .7-.8 .7-.8 .7-.7 .7-.5" stroke="#2166ac" fill="none"/><path d="M143.4 140.2l.7 .6 .7 .8 .7 .8 .7 .9 .7 .8 .7 .9 .7 .9 .7 .9 .7 1 .7 .9 .7 1 .7 1 .8 .9 .7 1 .7 .9 .7 1 .7 1 .7 .9 .7 1 .7 1 .7 .9 .7 1 .7 1 .7 1 .7 1 .8 1 .7 1 .7 1.1 .7 1 .7 1 .7 .7 .7 .5 .7 0 .7-.2 .7-.4 .7-.4 .7-.4 .7-.5 .7-.3 .8-.2 .7 .2 .7 .5 .7 .8 .7 1 .7 .9 .7 .7 .7 .5 .7 .4 .7 .3 .7 .2 .7 .2 .7 .1 .7 .2 .8 .1 .7 .1 .7 .2 .7 .2 .7 .1 .7 .3 .7 .2 .7 .3 .7 .2 .7 .3 .7 .2 .7 .2 .7 .2 .7 .1 .8 0 .7-.1 .7-.1 .7-.2 .7-.2 .7-.2 .7-.1 .7-.2 .7-.1 .7-.1 .7 0 .7 .1 .7 .1 .7 .1 .8 .1 .7 .1 .7 .1 .7 0 .7 0 .7-.1 .7-.1 .7-.2 .7-.3 .7-.3 .7-.4 .7-.6 .7-.6 .7-.9 .8-1.1 .7-1.2 .7-1.4 .7-1.4 .7-1.4 .7-1.3 .7-1.3 .7-1.2 .7-1.2 .7-1.3 .7-1.4 .7-1.5 .7-1.6 .7-1.6 .8-1.7 .7-1.8 .7-1.7 .7-1.7 .7-1.6 .7-1.6 .7-1.5 .7-1.5 .7-1.4 .7-1.3 .7-1.3 .7-1.3 .7-1.2 .7-1.2 .8-1.3 .7-1.2 .7-1.2 .7-1.2 .7-1.2 .7-1.2 .7-1.2 .7-1.2 .7-1.2 .7-1.1 .7-1.2 .7-1.1 .7-1.2 .8-1.2 .7-1.2 .7-1.1 .7-1 .7-1 .7-1 .7-.9 .7-.8 .7-.9 .7-.8 .7-.8 .7-.7 .7-.5" stroke="#256baf" fill="none"/><path d="M143.4 136.6l.7 .6 .7 .7 .7 .9 .7 .9 .7 .8 .7 .9 .7 1 .7 .9 .7 .9 .7 1 .7 .9 .7 1 .8 1 .7 .9 .7 1 .7 .9 .7 1 .7 1 .7 .9 .7 1 .7 1 .7 1 .7 .9 .7 1 .7 1 .8 1 .7 1.1 .7 1.1 .7 1 .7 .9 .7 .6 .7 .3 .7-.1 .7-.3 .7-.4 .7-.4 .7-.5 .7-.4 .7-.3 .8 0 .7 .3 .7 .6 .7 .9 .7 1 .7 .8 .7 .7 .7 .4 .7 .4 .7 .2 .7 .2 .7 .2 .7 .1 .7 .2 .8 .1 .7 .1 .7 .2 .7 .2 .7 .2 .7 .2 .7 .3 .7 .2 .7 .3 .7 .2 .7 .2 .7 .2 .7 .2 .7 0 .8 0 .7-.1 .7-.1 .7-.2 .7-.2 .7-.2 .7-.2 .7-.1 .7-.1 .7 0 .7 0 .7 .1 .7 .1 .7 .1 .8 .1 .7 .1 .7 .1 .7 0 .7-.1 .7-.1 .7-.2 .7-.2 .7-.3 .7-.3 .7-.5 .7-.6 .7-.7 .7-1 .8-1.1 .7-1.3 .7-1.4 .7-1.4 .7-1.4 .7-1.3 .7-1.2 .7-1.3 .7-1.2 .7-1.4 .7-1.4 .7-1.5 .7-1.6 .7-1.7 .8-1.7 .7-1.7 .7-1.7 .7-1.7 .7-1.6 .7-1.6 .7-1.5 .7-1.4 .7-1.4 .7-1.3 .7-1.3 .7-1.2 .7-1.3 .7-1.2 .8-1.2 .7-1.2 .7-1.3 .7-1.2 .7-1.2 .7-1.2 .7-1.2 .7-1.2 .7-1.1 .7-1.2 .7-1.1 .7-1.2 .7-1.1 .8-1.2 .7-1.2 .7-1.1 .7-1 .7-1 .7-.9 .7-.9 .7-.8 .7-.9 .7-.8 .7-.7 .7-.8 .7-.5" stroke="#2971b2" fill="none"/><path d="M143.4 133l.7 .6 .7 .7 .7 .9 .7 .9 .7 .9 .7 .9 .7 .9 .7 .9 .7 .9 .7 1 .7 1 .7 .9 .8 1 .7 1 .7 .9 .7 1 .7 .9 .7 1 .7 1 .7 1 .7 .9 .7 1 .7 1 .7 1 .7 1 .8 1 .7 1.1 .7 1 .7 1 .7 .8 .7 .5 .7 .1 .7-.1 .7-.4 .7-.4 .7-.5 .7-.4 .7-.4 .7-.2 .8 .1 .7 .4 .7 .8 .7 1 .7 .9 .7 .8 .7 .5 .7 .4 .7 .3 .7 .2 .7 .2 .7 .2 .7 .1 .7 .2 .8 .1 .7 .1 .7 .2 .7 .2 .7 .2 .7 .2 .7 .3 .7 .3 .7 .2 .7 .3 .7 .2 .7 .1 .7 .1 .7 .1 .8-.1 .7-.1 .7-.2 .7-.1 .7-.2 .7-.2 .7-.2 .7-.1 .7-.1 .7 0 .7 .1 .7 0 .7 .2 .7 .1 .8 .1 .7 .1 .7 0 .7 0 .7-.1 .7-.1 .7-.2 .7-.2 .7-.4 .7-.4 .7-.5 .7-.6 .7-.9 .7-1 .8-1.2 .7-1.3 .7-1.5 .7-1.4 .7-1.3 .7-1.3 .7-1.2 .7-1.2 .7-1.3 .7-1.4 .7-1.5 .7-1.5 .7-1.7 .7-1.7 .8-1.7 .7-1.7 .7-1.7 .7-1.7 .7-1.6 .7-1.5 .7-1.5 .7-1.4 .7-1.3 .7-1.3 .7-1.3 .7-1.2 .7-1.2 .7-1.3 .8-1.2 .7-1.2 .7-1.2 .7-1.2 .7-1.3 .7-1.1 .7-1.2 .7-1.2 .7-1.2 .7-1.1 .7-1.1 .7-1.2 .7-1.2 .8-1.2 .7-1.1 .7-1.1 .7-1 .7-.9 .7-.9 .7-.9 .7-.8 .7-.9 .7-.8 .7-.7 .7-.7 .7-.5" stroke="#2d76b4" fill="none"/><path d="M143.4 128.5l.7 .6 .7 .8 .7 .8 .7 .9 .7 .9 .7 .9 .7 .9 .7 1 .7 .9 .7 1 .7 1 .7 .9 .8 1 .7 .9 .7 1 .7 1 .7 .9 .7 1 .7 1 .7 .9 .7 1 .7 1 .7 1 .7 1 .7 1 .8 1 .7 1.1 .7 1 .7 1 .7 .6 .7 .3 .7 0 .7-.3 .7-.4 .7-.5 .7-.4 .7-.4 .7-.3 .7-.1 .8 .3 .7 .6 .7 .9 .7 1 .7 .8 .7 .7 .7 .4 .7 .4 .7 .2 .7 .2 .7 .2 .7 .1 .7 .2 .7 .1 .8 .2 .7 .1 .7 .2 .7 .2 .7 .2 .7 .3 .7 .2 .7 .3 .7 .2 .7 .3 .7 .1 .7 .2 .7 0 .7 0 .8-.1 .7-.1 .7-.2 .7-.2 .7-.2 .7-.1 .7-.2 .7-.1 .7 0 .7 0 .7 .1 .7 .1 .7 .1 .7 .1 .8 .1 .7 .1 .7 0 .7 0 .7-.2 .7-.1 .7-.2 .7-.3 .7-.4 .7-.4 .7-.6 .7-.7 .7-1 .7-1.1 .8-1.3 .7-1.4 .7-1.4 .7-1.4 .7-1.3 .7-1.2 .7-1.2 .7-1.3 .7-1.3 .7-1.4 .7-1.6 .7-1.6 .7-1.6 .7-1.7 .8-1.8 .7-1.7 .7-1.7 .7-1.6 .7-1.6 .7-1.5 .7-1.4 .7-1.4 .7-1.3 .7-1.3 .7-1.2 .7-1.3 .7-1.2 .7-1.2 .8-1.2 .7-1.3 .7-1.2 .7-1.2 .7-1.2 .7-1.2 .7-1.1 .7-1.2 .7-1.2 .7-1.1 .7-1.2 .7-1.1 .7-1.2 .8-1.2 .7-1.1 .7-1 .7-1 .7-.9 .7-.9 .7-.8 .7-.9 .7-.8 .7-.8 .7-.8 .7-.6 .7-.6" stroke="#317cb7" fill="none"/><path d="M143.4 124.1l.7 .5 .7 .8 .7 .9 .7 .9 .7 .9 .7 .9 .7 .9 .7 .9 .7 1 .7 1 .7 .9 .7 1 .8 1 .7 .9 .7 1 .7 .9 .7 1 .7 1 .7 1 .7 .9 .7 1 .7 1 .7 1 .7 1 .7 1 .8 1.1 .7 1 .7 1 .7 .8 .7 .5 .7 .1 .7-.2 .7-.3 .7-.5 .7-.4 .7-.4 .7-.4 .7-.2 .7 .1 .8 .4 .7 .8 .7 1 .7 .9 .7 .8 .7 .5 .7 .4 .7 .3 .7 .2 .7 .2 .7 .1 .7 .2 .7 .1 .7 .2 .8 .1 .7 .2 .7 .2 .7 .2 .7 .2 .7 .3 .7 .2 .7 .3 .7 .2 .7 .2 .7 .2 .7 .1 .7 0 .7 0 .8-.1 .7-.2 .7-.2 .7-.2 .7-.2 .7-.1 .7-.2 .7 0 .7 0 .7 0 .7 .1 .7 .1 .7 .2 .7 .1 .8 .1 .7 0 .7 0 .7-.1 .7-.1 .7-.2 .7-.3 .7-.3 .7-.4 .7-.5 .7-.7 .7-.8 .7-1 .7-1.3 .8-1.3 .7-1.4 .7-1.4 .7-1.4 .7-1.2 .7-1.3 .7-1.2 .7-1.3 .7-1.4 .7-1.4 .7-1.6 .7-1.6 .7-1.7 .7-1.7 .8-1.8 .7-1.7 .7-1.6 .7-1.6 .7-1.6 .7-1.4 .7-1.4 .7-1.4 .7-1.3 .7-1.2 .7-1.3 .7-1.2 .7-1.2 .7-1.3 .8-1.2 .7-1.2 .7-1.2 .7-1.2 .7-1.2 .7-1.2 .7-1.2 .7-1.1 .7-1.2 .7-1.1 .7-1.2 .7-1.2 .7-1.1 .8-1.2 .7-1 .7-1 .7-1 .7-.9 .7-.8 .7-.9 .7-.8 .7-.8 .7-.8 .7-.8 .7-.7 .7-.5" stroke="#3581ba" fill="none"/><path d="M143.4 118.2l.7 .6 .7 .8 .7 .8 .7 .9 .7 1 .7 .9 .7 .9 .7 1 .7 .9 .7 1 .7 1 .7 .9 .8 1 .7 .9 .7 1 .7 1 .7 .9 .7 1 .7 1 .7 1 .7 .9 .7 1 .7 1 .7 1 .7 1.1 .8 1.1 .7 1 .7 .9 .7 .6 .7 .2 .7-.1 .7-.3 .7-.4 .7-.5 .7-.4 .7-.4 .7-.3 .7 0 .7 .3 .8 .7 .7 .9 .7 1 .7 .8 .7 .6 .7 .5 .7 .3 .7 .2 .7 .2 .7 .2 .7 .1 .7 .2 .7 .1 .7 .2 .8 .1 .7 .2 .7 .2 .7 .2 .7 .3 .7 .2 .7 .3 .7 .3 .7 .2 .7 .1 .7 .2 .7 0 .7 0 .7-.1 .8-.1 .7-.2 .7-.2 .7-.2 .7-.2 .7-.1 .7-.1 .7 0 .7 0 .7 .1 .7 .1 .7 .1 .7 .1 .7 .1 .8 .1 .7 0 .7-.1 .7-.1 .7-.2 .7-.2 .7-.3 .7-.4 .7-.4 .7-.7 .7-.7 .7-1 .7-1.2 .7-1.3 .8-1.4 .7-1.4 .7-1.3 .7-1.3 .7-1.3 .7-1.2 .7-1.3 .7-1.3 .7-1.4 .7-1.6 .7-1.6 .7-1.7 .7-1.7 .7-1.7 .8-1.7 .7-1.7 .7-1.6 .7-1.6 .7-1.5 .7-1.4 .7-1.3 .7-1.4 .7-1.2 .7-1.3 .7-1.2 .7-1.2 .7-1.3 .7-1.2 .8-1.2 .7-1.2 .7-1.2 .7-1.2 .7-1.2 .7-1.2 .7-1.1 .7-1.2 .7-1.1 .7-1.2 .7-1.2 .7-1.2 .7-1.1 .8-1.1 .7-1 .7-1 .7-.9 .7-.9 .7-.8 .7-.9 .7-.8 .7-.8 .7-.7 .7-.8 .7-.7 .7-.5" stroke="#3986bd" fill="none"/><path d="M143.4 112.5l.7 .6 .7 .8 .7 .9 .7 .9 .7 .9 .7 .9 .7 1 .7 .9 .7 1 .7 1 .7 .9 .7 1 .8 .9 .7 1 .7 1 .7 .9 .7 1 .7 1 .7 1 .7 .9 .7 1 .7 1 .7 1 .7 1 .7 1.1 .8 1.1 .7 .9 .7 .7 .7 .4 .7 0 .7-.3 .7-.4 .7-.4 .7-.4 .7-.5 .7-.3 .7-.1 .7 .2 .7 .6 .8 .8 .7 1 .7 .9 .7 .7 .7 .5 .7 .3 .7 .3 .7 .2 .7 .2 .7 .1 .7 .1 .7 .2 .7 .1 .7 .2 .8 .2 .7 .1 .7 .3 .7 .2 .7 .3 .7 .2 .7 .3 .7 .2 .7 .2 .7 .1 .7 .1 .7 0 .7 0 .7-.2 .8-.1 .7-.2 .7-.2 .7-.2 .7-.2 .7-.1 .7 0 .7 0 .7 .1 .7 .1 .7 .1 .7 .1 .7 .1 .7 .1 .8 0 .7 0 .7-.1 .7-.2 .7-.2 .7-.3 .7-.3 .7-.5 .7-.5 .7-.7 .7-.9 .7-1.1 .7-1.3 .7-1.4 .8-1.4 .7-1.4 .7-1.3 .7-1.2 .7-1.3 .7-1.2 .7-1.3 .7-1.4 .7-1.5 .7-1.6 .7-1.7 .7-1.7 .7-1.7 .7-1.7 .8-1.7 .7-1.7 .7-1.5 .7-1.5 .7-1.5 .7-1.4 .7-1.3 .7-1.3 .7-1.2 .7-1.3 .7-1.2 .7-1.2 .7-1.2 .7-1.3 .8-1.2 .7-1.2 .7-1.2 .7-1.2 .7-1.2 .7-1.1 .7-1.2 .7-1.1 .7-1.2 .7-1.2 .7-1.1 .7-1.2 .7-1.1 .8-1.1 .7-.9 .7-1 .7-.9 .7-.8 .7-.8 .7-.9 .7-.8 .7-.8 .7-.7 .7-.8 .7-.7 .7-.5" stroke="#3e8cbf" fill="none"/><path d="M143.4 106.7l.7 .6 .7 .8 .7 .8 .7 1 .7 .9 .7 .9 .7 1 .7 1 .7 .9 .7 1 .7 1 .7 .9 .8 1 .7 .9 .7 1 .7 1 .7 .9 .7 1 .7 1 .7 1 .7 1 .7 .9 .7 1.1 .7 1 .7 1.1 .8 1 .7 .8 .7 .5 .7 .1 .7-.2 .7-.3 .7-.5 .7-.4 .7-.4 .7-.4 .7-.2 .7 .1 .7 .4 .7 .8 .8 1 .7 .9 .7 .7 .7 .6 .7 .4 .7 .3 .7 .2 .7 .2 .7 .1 .7 .2 .7 .1 .7 .2 .7 .1 .7 .2 .8 .2 .7 .2 .7 .2 .7 .3 .7 .2 .7 .3 .7 .2 .7 .2 .7 .2 .7 .1 .7 0 .7 0 .7-.1 .7-.2 .8-.2 .7-.2 .7-.2 .7-.1 .7-.2 .7 0 .7 0 .7 0 .7 .1 .7 .1 .7 .2 .7 .1 .7 .1 .7 0 .8 0 .7-.1 .7-.2 .7-.1 .7-.3 .7-.3 .7-.4 .7-.5 .7-.7 .7-.8 .7-1 .7-1.3 .7-1.3 .7-1.4 .8-1.4 .7-1.4 .7-1.2 .7-1.3 .7-1.2 .7-1.3 .7-1.4 .7-1.4 .7-1.6 .7-1.6 .7-1.7 .7-1.8 .7-1.7 .7-1.7 .8-1.6 .7-1.6 .7-1.6 .7-1.4 .7-1.4 .7-1.4 .7-1.3 .7-1.2 .7-1.3 .7-1.2 .7-1.2 .7-1.3 .7-1.2 .7-1.2 .8-1.2 .7-1.2 .7-1.2 .7-1.2 .7-1.2 .7-1.1 .7-1.2 .7-1.1 .7-1.2 .7-1.2 .7-1.1 .7-1.2 .7-1 .8-1 .7-1 .7-.9 .7-.8 .7-.9 .7-.8 .7-.8 .7-.8 .7-.8 .7-.8 .7-.7 .7-.7 .7-.5" stroke="#4291c2" fill="none"/><path d="M143.4 100l.7 .6 .7 .8 .7 .9 .7 .9 .7 .9 .7 1 .7 1 .7 .9 .7 1 .7 1 .7 .9 .7 1 .8 .9 .7 1 .7 1 .7 .9 .7 1 .7 1 .7 1 .7 1 .7 .9 .7 1.1 .7 1 .7 1.1 .7 1 .8 .9 .7 .5 .7 .2 .7-.1 .7-.3 .7-.5 .7-.4 .7-.4 .7-.4 .7-.3 .7 0 .7 .4 .7 .7 .7 1 .8 .9 .7 .8 .7 .6 .7 .4 .7 .3 .7 .3 .7 .2 .7 .1 .7 .2 .7 .1 .7 .2 .7 .1 .7 .2 .7 .1 .8 .3 .7 .2 .7 .2 .7 .3 .7 .3 .7 .2 .7 .2 .7 .2 .7 .1 .7 0 .7 0 .7-.1 .7-.1 .7-.2 .8-.2 .7-.2 .7-.2 .7-.1 .7-.1 .7 0 .7 0 .7 .1 .7 .1 .7 .2 .7 .1 .7 .1 .7 0 .7 0 .8-.1 .7-.1 .7-.2 .7-.2 .7-.3 .7-.4 .7-.5 .7-.6 .7-.8 .7-1 .7-1.1 .7-1.4 .7-1.4 .7-1.4 .8-1.3 .7-1.3 .7-1.3 .7-1.2 .7-1.3 .7-1.3 .7-1.5 .7-1.5 .7-1.6 .7-1.7 .7-1.7 .7-1.7 .7-1.8 .7-1.6 .8-1.6 .7-1.6 .7-1.5 .7-1.4 .7-1.3 .7-1.3 .7-1.3 .7-1.3 .7-1.2 .7-1.2 .7-1.2 .7-1.3 .7-1.2 .7-1.2 .8-1.2 .7-1.2 .7-1.2 .7-1.2 .7-1.1 .7-1.2 .7-1.1 .7-1.2 .7-1.2 .7-1.1 .7-1.2 .7-1.1 .7-1 .8-.9 .7-1 .7-.8 .7-.9 .7-.8 .7-.8 .7-.8 .7-.8 .7-.8 .7-.7 .7-.8 .7-.7 .7-.5" stroke="#4997c5" fill="none"/><path d="M143.4 93.4l.7 .6 .7 .8 .7 .9 .7 1 .7 .9 .7 1 .7 1 .7 .9 .7 1 .7 .9 .7 1 .7 1 .8 .9 .7 1 .7 1 .7 .9 .7 1 .7 1 .7 1 .7 1 .7 1 .7 1 .7 1.1 .7 1.1 .7 .9 .8 .6 .7 .3 .7-.1 .7-.3 .7-.4 .7-.4 .7-.5 .7-.4 .7-.3 .7 0 .7 .3 .7 .6 .7 .9 .7 1 .8 .8 .7 .7 .7 .4 .7 .3 .7 .3 .7 .2 .7 .2 .7 .1 .7 .2 .7 .1 .7 .1 .7 .2 .7 .2 .7 .2 .8 .2 .7 .2 .7 .3 .7 .3 .7 .2 .7 .2 .7 .2 .7 .1 .7 .1 .7 0 .7-.1 .7-.1 .7-.2 .7-.2 .8-.2 .7-.2 .7-.1 .7-.1 .7 0 .7 0 .7 .1 .7 .1 .7 .1 .7 .1 .7 .1 .7 .1 .7 0 .7-.1 .8-.1 .7-.2 .7-.2 .7-.3 .7-.3 .7-.5 .7-.6 .7-.7 .7-.9 .7-1.2 .7-1.3 .7-1.4 .7-1.4 .7-1.3 .8-1.3 .7-1.3 .7-1.2 .7-1.3 .7-1.3 .7-1.4 .7-1.5 .7-1.7 .7-1.6 .7-1.7 .7-1.8 .7-1.7 .7-1.7 .7-1.6 .8-1.6 .7-1.5 .7-1.4 .7-1.3 .7-1.4 .7-1.2 .7-1.3 .7-1.2 .7-1.3 .7-1.2 .7-1.2 .7-1.2 .7-1.2 .7-1.3 .8-1.2 .7-1.1 .7-1.2 .7-1.2 .7-1.1 .7-1.2 .7-1.1 .7-1.2 .7-1.2 .7-1.1 .7-1.1 .7-1.1 .7-.9 .8-1 .7-.8 .7-.9 .7-.8 .7-.8 .7-.8 .7-.8 .7-.8 .7-.8 .7-.8 .7-.7 .7-.7 .7-.5" stroke="#539dc8" fill="none"/><path d="M143.4 86.9l.7 .6 .7 .8 .7 .9 .7 1 .7 .9 .7 1 .7 1 .7 .9 .7 1 .7 .9 .7 1 .7 1 .8 .9 .7 1 .7 1 .7 1 .7 .9 .7 1 .7 1 .7 1 .7 1 .7 1.1 .7 1.1 .7 .9 .7 .7 .8 .4 .7 0 .7-.2 .7-.4 .7-.4 .7-.5 .7-.4 .7-.3 .7-.2 .7 .2 .7 .6 .7 .8 .7 1 .7 .9 .8 .7 .7 .5 .7 .3 .7 .3 .7 .2 .7 .2 .7 .1 .7 .2 .7 .1 .7 .2 .7 .1 .7 .2 .7 .2 .7 .2 .8 .2 .7 .3 .7 .3 .7 .2 .7 .3 .7 .1 .7 .2 .7 .1 .7 0 .7-.1 .7-.1 .7-.2 .7-.2 .7-.2 .8-.2 .7-.1 .7-.1 .7-.1 .7 0 .7 .1 .7 .1 .7 .1 .7 .1 .7 .2 .7 0 .7 .1 .7-.1 .7-.1 .8-.1 .7-.2 .7-.3 .7-.4 .7-.4 .7-.5 .7-.7 .7-.9 .7-1.1 .7-1.3 .7-1.4 .7-1.4 .7-1.4 .7-1.3 .8-1.2 .7-1.2 .7-1.3 .7-1.3 .7-1.4 .7-1.5 .7-1.6 .7-1.7 .7-1.7 .7-1.7 .7-1.7 .7-1.7 .7-1.6 .7-1.6 .8-1.5 .7-1.5 .7-1.4 .7-1.3 .7-1.3 .7-1.2 .7-1.3 .7-1.2 .7-1.2 .7-1.2 .7-1.3 .7-1.2 .7-1.2 .7-1.2 .8-1.2 .7-1.2 .7-1.1 .7-1.2 .7-1.1 .7-1.2 .7-1.2 .7-1.1 .7-1.2 .7-1.1 .7-1.1 .7-.9 .7-1 .8-.9 .7-.8 .7-.9 .7-.8 .7-.8 .7-.8 .7-.8 .7-.7 .7-.8 .7-.8 .7-.7 .7-.7 .7-.5" stroke="#5ca3cc" fill="none"/><path d="M143.4 79.7l.7 .6 .7 .9 .7 .9 .7 .9 .7 1 .7 1 .7 .9 .7 1 .7 1 .7 .9 .7 1 .7 .9 .8 1 .7 1 .7 1 .7 .9 .7 1 .7 1 .7 1 .7 1 .7 1.1 .7 1.1 .7 1 .7 .7 .7 .4 .8 .1 .7-.2 .7-.4 .7-.4 .7-.4 .7-.5 .7-.3 .7-.2 .7 .1 .7 .5 .7 .9 .7 .9 .7 .9 .7 .8 .8 .5 .7 .4 .7 .2 .7 .3 .7 .1 .7 .2 .7 .1 .7 .2 .7 .1 .7 .2 .7 .1 .7 .2 .7 .2 .7 .3 .8 .2 .7 .3 .7 .3 .7 .2 .7 .2 .7 .1 .7 .1 .7 .1 .7-.1 .7-.1 .7-.2 .7-.2 .7-.2 .7-.2 .8-.1 .7-.1 .7-.1 .7 0 .7 .1 .7 .1 .7 .1 .7 .1 .7 .1 .7 .1 .7 0 .7 0 .7-.1 .7-.1 .8-.2 .7-.3 .7-.3 .7-.4 .7-.5 .7-.7 .7-.9 .7-1 .7-1.3 .7-1.3 .7-1.4 .7-1.4 .7-1.4 .7-1.2 .8-1.3 .7-1.2 .7-1.3 .7-1.4 .7-1.5 .7-1.5 .7-1.7 .7-1.7 .7-1.7 .7-1.7 .7-1.7 .7-1.7 .7-1.6 .7-1.5 .8-1.4 .7-1.4 .7-1.4 .7-1.3 .7-1.2 .7-1.3 .7-1.2 .7-1.2 .7-1.3 .7-1.2 .7-1.2 .7-1.2 .7-1.2 .7-1.2 .8-1.2 .7-1.1 .7-1.2 .7-1.1 .7-1.2 .7-1.2 .7-1.1 .7-1.2 .7-1.1 .7-1.1 .7-1 .7-.9 .7-.9 .8-.9 .7-.8 .7-.9 .7-.8 .7-.8 .7-.7 .7-.8 .7-.8 .7-.8 .7-.7 .7-.8 .7-.6 .7-.5" stroke="#66a9cf" fill="none"/><path d="M143.4 72.6l.7 .6 .7 .8 .7 1 .7 .9 .7 1 .7 1 .7 .9 .7 1 .7 .9 .7 1 .7 1 .7 .9 .8 1 .7 1 .7 1 .7 .9 .7 1 .7 1 .7 1 .7 1.1 .7 1.1 .7 1 .7 .8 .7 .5 .7 .1 .8-.1 .7-.4 .7-.4 .7-.5 .7-.4 .7-.4 .7-.2 .7 .1 .7 .4 .7 .8 .7 .9 .7 1 .7 .7 .7 .6 .8 .4 .7 .3 .7 .2 .7 .2 .7 .2 .7 .1 .7 .1 .7 .2 .7 .1 .7 .2 .7 .2 .7 .2 .7 .2 .7 .3 .8 .2 .7 .3 .7 .2 .7 .3 .7 .1 .7 .1 .7 0 .7 0 .7-.1 .7-.2 .7-.1 .7-.2 .7-.2 .7-.2 .8-.1 .7-.1 .7 0 .7 0 .7 .1 .7 .1 .7 .2 .7 .1 .7 .1 .7 0 .7 0 .7-.1 .7-.1 .7-.2 .8-.2 .7-.4 .7-.4 .7-.5 .7-.6 .7-.8 .7-1.1 .7-1.2 .7-1.3 .7-1.4 .7-1.4 .7-1.4 .7-1.2 .7-1.3 .8-1.2 .7-1.3 .7-1.3 .7-1.5 .7-1.6 .7-1.6 .7-1.7 .7-1.7 .7-1.7 .7-1.7 .7-1.7 .7-1.6 .7-1.6 .7-1.4 .8-1.4 .7-1.4 .7-1.3 .7-1.2 .7-1.3 .7-1.2 .7-1.2 .7-1.3 .7-1.2 .7-1.2 .7-1.2 .7-1.2 .7-1.2 .7-1.2 .8-1.2 .7-1.1 .7-1.2 .7-1.1 .7-1.2 .7-1.2 .7-1.1 .7-1.2 .7-1 .7-1 .7-1 .7-.9 .7-.9 .8-.8 .7-.8 .7-.8 .7-.8 .7-.8 .7-.8 .7-.8 .7-.7 .7-.8 .7-.8 .7-.7 .7-.7 .7-.5" stroke="#6fafd2" fill="none"/><path d="M143.4 65.8l.7 .6 .7 .9 .7 .9 .7 1 .7 .9 .7 1 .7 1 .7 .9 .7 1 .7 .9 .7 1 .7 1 .8 1 .7 .9 .7 1 .7 1 .7 1 .7 1 .7 1.1 .7 1 .7 1.1 .7 .8 .7 .6 .7 .2 .7-.1 .8-.3 .7-.4 .7-.5 .7-.4 .7-.4 .7-.3 .7 0 .7 .4 .7 .7 .7 .9 .7 1 .7 .8 .7 .6 .7 .4 .8 .3 .7 .3 .7 .1 .7 .2 .7 .2 .7 .1 .7 .1 .7 .2 .7 .1 .7 .2 .7 .2 .7 .3 .7 .2 .7 .3 .8 .2 .7 .3 .7 .2 .7 .2 .7 .1 .7 0 .7 0 .7-.1 .7-.1 .7-.2 .7-.2 .7-.2 .7-.2 .7-.1 .8-.1 .7 0 .7 0 .7 .1 .7 .1 .7 .1 .7 .2 .7 .1 .7 0 .7 0 .7-.1 .7-.1 .7-.2 .7-.2 .8-.3 .7-.4 .7-.5 .7-.6 .7-.7 .7-1 .7-1.2 .7-1.3 .7-1.4 .7-1.4 .7-1.4 .7-1.3 .7-1.2 .7-1.2 .8-1.3 .7-1.4 .7-1.4 .7-1.5 .7-1.7 .7-1.6 .7-1.8 .7-1.7 .7-1.7 .7-1.7 .7-1.6 .7-1.5 .7-1.5 .7-1.4 .8-1.4 .7-1.3 .7-1.3 .7-1.2 .7-1.3 .7-1.2 .7-1.2 .7-1.2 .7-1.2 .7-1.3 .7-1.2 .7-1.2 .7-1.1 .7-1.2 .8-1.2 .7-1.1 .7-1.2 .7-1.1 .7-1.2 .7-1.2 .7-1.1 .7-1.1 .7-1 .7-1 .7-.9 .7-.9 .7-.8 .8-.9 .7-.8 .7-.8 .7-.8 .7-.7 .7-.8 .7-.8 .7-.7 .7-.8 .7-.8 .7-.7 .7-.7 .7-.5" stroke="#79b5d5" fill="none"/></g>
<rect x="145.60" y="101.40" width="100.90" height="81.90" fill="none" stroke="#262626" stroke-width="1.20"/>
<path d="M151.21,183.30v4.00M173.63,183.30v4.00M196.05,183.30v4.00M218.47,183.30v4.00M240.89,183.30v4.00" stroke="#262626" stroke-width="1.00" fill="none"/>
<path d="M145.60,183.30h-4.00M145.60,169.65h-4.00M145.60,156.00h-4.00M145.60,142.35h-4.00M145.60,128.70h-4.00M145.60,115.05h-4.00M145.60,101.40h-4.00" stroke="#262626" stroke-width="1.00" fill="none"/>
<text id="t96" transform="translate(151.21,208.35) scale(1.0745,1)" font-size="24.50" text-anchor="middle" >-400</text>
<text id="t97" transform="translate(196.05,208.35) scale(1.0333,1)" font-size="24.50" text-anchor="middle" >0</text>
<text id="t98" transform="translate(240.89,208.35) scale(1.0769,1)" font-size="24.50" text-anchor="middle" >400</text>
<text id="t99" transform="translate(138.00,192.00) scale(1.0333,1)" font-size="24.50" text-anchor="end" >0</text>
<text id="t100" transform="translate(138.00,164.70) scale(1.1273,1)" font-size="24.50" text-anchor="end" >2</text>
<text id="t101" transform="translate(138.00,137.40) scale(1.0333,1)" font-size="24.50" text-anchor="end" >4</text>
<text id="t102" transform="translate(138.00,110.10) scale(1.0333,1)" font-size="24.50" text-anchor="end" >6</text>
<path d="M145.6,183.3L177.11,253.6M246.5,183.3L234.19,253.6" stroke="#555" stroke-width="1.1" fill="none"/>
<rect x="177.11" y="251.60" width="57.08" height="4.80" fill="none" stroke="#555" stroke-width="1.1"/>
<g clip-path="url(#clipB)" fill="none" stroke-width="1.90" stroke-linejoin="round"><path d="M420.5 176.4l1.6 1.5 1.7 1.5 1.6 1.4 1.6 1.3 1.6 1.3 1.6 1.3 1.6 1.3 1.6 1.3 1.6 1.3 1.6 1.4 1.6 1.3 1.6 1.3 1.6 1.4 1.7 1.4 1.6 1.4 1.6 1.4 1.6 1.5 1.6 1.4 1.6 1.5 1.6 1.4 1.6 1.4 1.6 1.4 1.6 1.3 1.6 1.3 1.6 1.3 1.7 1.2 1.6 1.2 1.6 1.1 1.6 1.2 1.6 1.1 1.6 1 1.6 1.1 1.6 1 1.6 1 1.6 1 1.6 .9 1.6 .9 1.7 .9 1.6 .9 1.6 .8 1.6 .8 1.6 .8 1.6 .8 1.6 .7 1.6 .7 1.6 .8 1.6 .7 1.6 .8 1.6 .8 1.7 .8 1.6 .8 1.6 .9 1.6 .8 1.6 .9 1.6 1 1.6 .9 1.6 .9 1.6 .9 1.6 1 1.6 .9 1.6 .9 1.7 .9 1.6 .8 1.6 .8 1.6 .8 1.6 .7 1.6 .6 1.6 .6 1.6 .7 1.6 .6 1.6 .6 1.6 .6 1.6 .5 1.7 .5 1.6 .3 1.6 0 1.6-.2 1.6-.3 1.6-.5 1.6-.6 1.6-.6 1.6-.7 1.6-.7 1.6-.6 1.6-.6 1.7-.6 1.6-.7 1.6-.6 1.6-.6 1.6-.6 1.6-.7 1.6-.6 1.6-.6 1.6-.7 1.6-.6 1.6-.7 1.6-.6 1.7-.7 1.6-.8 1.6-.8 1.6-.8 1.6-1 1.6-1.1 1.6-1.2 1.6-1.2 1.6-1.4 1.6-1.5 1.6-1.5 1.6-1.6 1.7-1.6 1.6-1.7 1.6-1.6 1.6-1.7 1.6-1.8 1.6-1.7 1.6-1.9 1.6-1.8 1.6-1.8 1.6-1.7 1.6-1.8 1.6-1.7 1.7-1.8 1.6-1.9 1.6-2 1.6-2.1 1.6-2.4 1.6-2.9 1.6-3.6 1.6-4.6 1.6-6 1.6-3.8 1.6-9.8 1.6-11.4 1.7-13.4 1.6-14.4 1.6-14.4 1.6-13.2 1.6-12 1.6-4.1 1.6 4.3 1.6 6.3 1.6 6.5 1.6 6.7 1.6 7.4 1.6 8.1 1.7 6.6 1.6 .7 1.6 3.1 1.6 2.3 1.6 1.8 1.6 1.6 1.6 1.6 1.6 1.5 1.6 1.5 1.6 1.5 1.6 1.4 1.6 1.5 1.7 1.4 1.6 1.3" stroke="#195696"/><path d="M420.5 176l1.6 1.5 1.7 1.4 1.6 1.4 1.6 1.4 1.6 1.3 1.6 1.3 1.6 1.3 1.6 1.3 1.6 1.3 1.6 1.4 1.6 1.3 1.6 1.4 1.6 1.4 1.7 1.4 1.6 1.4 1.6 1.4 1.6 1.5 1.6 1.4 1.6 1.5 1.6 1.4 1.6 1.4 1.6 1.4 1.6 1.4 1.6 1.3 1.6 1.2 1.7 1.3 1.6 1.2 1.6 1.1 1.6 1.2 1.6 1.1 1.6 1 1.6 1.1 1.6 1 1.6 1 1.6 1 1.6 .9 1.6 1 1.7 .9 1.6 .8 1.6 .9 1.6 .8 1.6 .7 1.6 .8 1.6 .7 1.6 .8 1.6 .7 1.6 .8 1.6 .7 1.6 .8 1.7 .8 1.6 .9 1.6 .8 1.6 .9 1.6 .9 1.6 .9 1.6 .9 1.6 1 1.6 .9 1.6 .9 1.6 1 1.6 .9 1.7 .8 1.6 .9 1.6 .8 1.6 .7 1.6 .8 1.6 .6 1.6 .6 1.6 .7 1.6 .6 1.6 .6 1.6 .6 1.6 .6 1.7 .4 1.6 .3 1.6 .1 1.6-.2 1.6-.3 1.6-.5 1.6-.6 1.6-.6 1.6-.7 1.6-.7 1.6-.6 1.6-.6 1.7-.7 1.6-.6 1.6-.6 1.6-.6 1.6-.7 1.6-.6 1.6-.7 1.6-.6 1.6-.6 1.6-.7 1.6-.6 1.6-.7 1.7-.7 1.6-.7 1.6-.9 1.6-.8 1.6-1 1.6-1.1 1.6-1.2 1.6-1.3 1.6-1.3 1.6-1.5 1.6-1.6 1.6-1.5 1.7-1.7 1.6-1.6 1.6-1.7 1.6-1.7 1.6-1.7 1.6-1.8 1.6-1.8 1.6-1.8 1.6-1.8 1.6-1.8 1.6-1.8 1.6-1.8 1.7-1.8 1.6-1.9 1.6-2 1.6-2.2 1.6-2.4 1.6-2.9 1.6-3.6 1.6-4.7 1.6-5.9 1.6-3.7 1.6-9.6 1.6-11 1.7-12.9 1.6-14 1.6-14 1.6-12.7 1.6-11.5 1.6-3.9 1.6 4.3 1.6 6.2 1.6 6.2 1.6 6.4 1.6 7 1.6 7.7 1.7 6.4 1.6 .8 1.6 2.9 1.6 2.1 1.6 1.7 1.6 1.5 1.6 1.5 1.6 1.4 1.6 1.4 1.6 1.4 1.6 1.5 1.6 1.4 1.7 1.3 1.6 1.4" stroke="#1c5c9e"/><path d="M420.5 175.5l1.6 1.5 1.7 1.5 1.6 1.4 1.6 1.4 1.6 1.3 1.6 1.3 1.6 1.3 1.6 1.3 1.6 1.3 1.6 1.4 1.6 1.3 1.6 1.4 1.6 1.4 1.7 1.4 1.6 1.4 1.6 1.5 1.6 1.4 1.6 1.5 1.6 1.5 1.6 1.4 1.6 1.4 1.6 1.4 1.6 1.4 1.6 1.3 1.6 1.3 1.7 1.3 1.6 1.2 1.6 1.1 1.6 1.1 1.6 1.1 1.6 1.1 1.6 1.1 1.6 1 1.6 1 1.6 1 1.6 .9 1.6 1 1.7 .9 1.6 .8 1.6 .9 1.6 .8 1.6 .8 1.6 .7 1.6 .8 1.6 .7 1.6 .8 1.6 .7 1.6 .8 1.6 .8 1.7 .8 1.6 .8 1.6 .9 1.6 .9 1.6 .9 1.6 .9 1.6 .9 1.6 .9 1.6 1 1.6 .9 1.6 .9 1.6 .9 1.7 .9 1.6 .9 1.6 .8 1.6 .7 1.6 .7 1.6 .7 1.6 .7 1.6 .6 1.6 .6 1.6 .6 1.6 .6 1.6 .6 1.7 .5 1.6 .2 1.6 .1 1.6-.1 1.6-.4 1.6-.4 1.6-.6 1.6-.6 1.6-.7 1.6-.6 1.6-.7 1.6-.6 1.7-.7 1.6-.6 1.6-.6 1.6-.7 1.6-.6 1.6-.7 1.6-.6 1.6-.7 1.6-.6 1.6-.7 1.6-.6 1.6-.7 1.7-.7 1.6-.7 1.6-.8 1.6-.9 1.6-1 1.6-1.1 1.6-1.2 1.6-1.3 1.6-1.4 1.6-1.4 1.6-1.6 1.6-1.6 1.7-1.6 1.6-1.6 1.6-1.7 1.6-1.7 1.6-1.8 1.6-1.8 1.6-1.8 1.6-1.8 1.6-1.8 1.6-1.8 1.6-1.8 1.6-1.8 1.7-1.9 1.6-1.9 1.6-2 1.6-2.2 1.6-2.5 1.6-2.9 1.6-3.6 1.6-4.8 1.6-5.9 1.6-3.6 1.6-9.3 1.6-10.6 1.7-12.5 1.6-13.5 1.6-13.6 1.6-12.2 1.6-11 1.6-3.6 1.6 4.2 1.6 6 1.6 5.9 1.6 6.1 1.6 6.6 1.6 7.5 1.7 6.2 1.6 .7 1.6 2.9 1.6 1.9 1.6 1.5 1.6 1.4 1.6 1.3 1.6 1.4 1.6 1.2 1.6 1.5 1.6 1.4 1.6 1.3 1.7 1.4 1.6 1.3" stroke="#1f63a7"/><path d="M420.5 175.1l1.6 1.5 1.7 1.4 1.6 1.4 1.6 1.4 1.6 1.3 1.6 1.4 1.6 1.3 1.6 1.3 1.6 1.3 1.6 1.4 1.6 1.3 1.6 1.4 1.6 1.4 1.7 1.4 1.6 1.5 1.6 1.4 1.6 1.5 1.6 1.5 1.6 1.5 1.6 1.4 1.6 1.5 1.6 1.4 1.6 1.4 1.6 1.3 1.6 1.3 1.7 1.2 1.6 1.2 1.6 1.2 1.6 1.1 1.6 1.1 1.6 1.1 1.6 1.1 1.6 1 1.6 1 1.6 1 1.6 .9 1.6 1 1.7 .9 1.6 .8 1.6 .9 1.6 .8 1.6 .8 1.6 .8 1.6 .7 1.6 .8 1.6 .7 1.6 .8 1.6 .7 1.6 .8 1.7 .8 1.6 .9 1.6 .8 1.6 .9 1.6 .9 1.6 1 1.6 .9 1.6 .9 1.6 1 1.6 .9 1.6 .9 1.6 .9 1.7 .9 1.6 .9 1.6 .8 1.6 .7 1.6 .7 1.6 .7 1.6 .7 1.6 .6 1.6 .6 1.6 .7 1.6 .6 1.6 .5 1.7 .5 1.6 .3 1.6 .1 1.6-.2 1.6-.3 1.6-.5 1.6-.5 1.6-.6 1.6-.7 1.6-.6 1.6-.7 1.6-.7 1.7-.6 1.6-.6 1.6-.7 1.6-.6 1.6-.7 1.6-.6 1.6-.7 1.6-.6 1.6-.7 1.6-.6 1.6-.7 1.6-.7 1.7-.7 1.6-.7 1.6-.8 1.6-.9 1.6-1 1.6-1.1 1.6-1.2 1.6-1.3 1.6-1.4 1.6-1.5 1.6-1.5 1.6-1.6 1.7-1.6 1.6-1.7 1.6-1.7 1.6-1.7 1.6-1.7 1.6-1.8 1.6-1.9 1.6-1.8 1.6-1.8 1.6-1.8 1.6-1.8 1.6-1.9 1.7-1.8 1.6-2 1.6-2 1.6-2.3 1.6-2.5 1.6-2.9 1.6-3.7 1.6-4.8 1.6-5.8 1.6-3.6 1.6-9 1.6-10.3 1.7-12 1.6-13 1.6-13.1 1.6-11.9 1.6-10.5 1.6-3.3 1.6 4.2 1.6 5.8 1.6 5.6 1.6 5.8 1.6 6.3 1.6 7.1 1.7 6 1.6 .8 1.6 2.7 1.6 1.8 1.6 1.3 1.6 1.3 1.6 1.2 1.6 1.2 1.6 1.2 1.6 1.4 1.6 1.4 1.6 1.3 1.7 1.4 1.6 1.3" stroke="#2369ad"/><path d="M420.5 174.6l1.6 1.5 1.7 1.5 1.6 1.4 1.6 1.4 1.6 1.3 1.6 1.3 1.6 1.4 1.6 1.3 1.6 1.3 1.6 1.4 1.6 1.4 1.6 1.3 1.6 1.5 1.7 1.4 1.6 1.4 1.6 1.5 1.6 1.5 1.6 1.5 1.6 1.4 1.6 1.5 1.6 1.5 1.6 1.4 1.6 1.4 1.6 1.4 1.6 1.3 1.7 1.2 1.6 1.2 1.6 1.2 1.6 1.1 1.6 1.1 1.6 1.1 1.6 1.1 1.6 1 1.6 1 1.6 1 1.6 .9 1.6 1 1.7 .9 1.6 .9 1.6 .8 1.6 .8 1.6 .8 1.6 .8 1.6 .7 1.6 .8 1.6 .7 1.6 .8 1.6 .8 1.6 .8 1.7 .8 1.6 .8 1.6 .9 1.6 .9 1.6 .9 1.6 .9 1.6 .9 1.6 1 1.6 .9 1.6 1 1.6 .9 1.6 .9 1.7 .9 1.6 .8 1.6 .8 1.6 .8 1.6 .7 1.6 .7 1.6 .7 1.6 .6 1.6 .6 1.6 .7 1.6 .6 1.6 .6 1.7 .4 1.6 .3 1.6 .1 1.6-.1 1.6-.3 1.6-.5 1.6-.5 1.6-.6 1.6-.7 1.6-.6 1.6-.7 1.6-.7 1.7-.6 1.6-.7 1.6-.6 1.6-.7 1.6-.6 1.6-.7 1.6-.6 1.6-.7 1.6-.6 1.6-.7 1.6-.7 1.6-.6 1.7-.8 1.6-.7 1.6-.8 1.6-.9 1.6-1 1.6-1.1 1.6-1.2 1.6-1.3 1.6-1.4 1.6-1.5 1.6-1.6 1.6-1.6 1.7-1.6 1.6-1.6 1.6-1.7 1.6-1.7 1.6-1.8 1.6-1.8 1.6-1.9 1.6-1.8 1.6-1.8 1.6-1.9 1.6-1.8 1.6-1.8 1.7-1.9 1.6-2 1.6-2.1 1.6-2.2 1.6-2.6 1.6-3 1.6-3.6 1.6-4.9 1.6-5.8 1.6-3.4 1.6-8.8 1.6-9.9 1.7-11.6 1.6-12.6 1.6-12.6 1.6-11.4 1.6-10 1.6-3.1 1.6 4.1 1.6 5.7 1.6 5.3 1.6 5.4 1.6 6 1.6 6.8 1.7 5.8 1.6 .8 1.6 2.7 1.6 1.5 1.6 1.2 1.6 1.2 1.6 1.1 1.6 1.1 1.6 1.1 1.6 1.4 1.6 1.3 1.6 1.3 1.7 1.3 1.6 1.3" stroke="#276eb0"/><path d="M420.5 174.2l1.6 1.5 1.7 1.4 1.6 1.4 1.6 1.4 1.6 1.4 1.6 1.3 1.6 1.3 1.6 1.4 1.6 1.3 1.6 1.4 1.6 1.4 1.6 1.4 1.6 1.4 1.7 1.4 1.6 1.5 1.6 1.5 1.6 1.4 1.6 1.5 1.6 1.5 1.6 1.5 1.6 1.5 1.6 1.4 1.6 1.4 1.6 1.4 1.6 1.3 1.7 1.3 1.6 1.2 1.6 1.2 1.6 1.1 1.6 1.1 1.6 1.1 1.6 1 1.6 1.1 1.6 1 1.6 1 1.6 .9 1.6 1 1.7 .9 1.6 .9 1.6 .8 1.6 .8 1.6 .8 1.6 .8 1.6 .8 1.6 .7 1.6 .8 1.6 .7 1.6 .8 1.6 .8 1.7 .8 1.6 .9 1.6 .9 1.6 .8 1.6 1 1.6 .9 1.6 .9 1.6 .9 1.6 1 1.6 .9 1.6 1 1.6 .9 1.7 .9 1.6 .8 1.6 .8 1.6 .8 1.6 .7 1.6 .7 1.6 .7 1.6 .6 1.6 .7 1.6 .6 1.6 .6 1.6 .6 1.7 .5 1.6 .3 1.6 .1 1.6-.1 1.6-.3 1.6-.5 1.6-.5 1.6-.6 1.6-.7 1.6-.6 1.6-.7 1.6-.7 1.7-.6 1.6-.7 1.6-.6 1.6-.7 1.6-.7 1.6-.6 1.6-.7 1.6-.7 1.6-.6 1.6-.7 1.6-.6 1.6-.7 1.7-.7 1.6-.8 1.6-.8 1.6-.9 1.6-1 1.6-1.1 1.6-1.2 1.6-1.4 1.6-1.4 1.6-1.4 1.6-1.6 1.6-1.6 1.7-1.6 1.6-1.7 1.6-1.7 1.6-1.7 1.6-1.8 1.6-1.8 1.6-1.8 1.6-1.9 1.6-1.8 1.6-1.9 1.6-1.8 1.6-1.9 1.7-1.9 1.6-2 1.6-2.1 1.6-2.3 1.6-2.6 1.6-3 1.6-3.7 1.6-4.9 1.6-5.8 1.6-3.3 1.6-8.5 1.6-9.5 1.7-11.1 1.6-12.2 1.6-12.3 1.6-10.9 1.6-9.5 1.6-2.9 1.6 4.1 1.6 5.6 1.6 5 1.6 5.1 1.6 5.6 1.6 6.5 1.7 5.6 1.6 .9 1.6 2.5 1.6 1.4 1.6 1 1.6 1.1 1.6 1 1.6 1 1.6 1 1.6 1.3 1.6 1.3 1.6 1.3 1.7 1.3 1.6 1.2" stroke="#2b73b3"/><path d="M420.5 173.7l1.6 1.5 1.7 1.5 1.6 1.4 1.6 1.3 1.6 1.4 1.6 1.3 1.6 1.4 1.6 1.3 1.6 1.4 1.6 1.4 1.6 1.3 1.6 1.5 1.6 1.4 1.7 1.4 1.6 1.5 1.6 1.5 1.6 1.5 1.6 1.5 1.6 1.5 1.6 1.5 1.6 1.5 1.6 1.5 1.6 1.4 1.6 1.4 1.6 1.3 1.7 1.3 1.6 1.2 1.6 1.2 1.6 1.1 1.6 1.1 1.6 1.1 1.6 1 1.6 1.1 1.6 1 1.6 1 1.6 .9 1.6 1 1.7 .9 1.6 .9 1.6 .8 1.6 .8 1.6 .8 1.6 .8 1.6 .8 1.6 .7 1.6 .8 1.6 .8 1.6 .8 1.6 .8 1.7 .8 1.6 .8 1.6 .9 1.6 .9 1.6 .9 1.6 .9 1.6 1 1.6 .9 1.6 1 1.6 .9 1.6 .9 1.6 .9 1.7 .9 1.6 .9 1.6 .8 1.6 .8 1.6 .7 1.6 .7 1.6 .7 1.6 .6 1.6 .7 1.6 .6 1.6 .6 1.6 .6 1.7 .5 1.6 .3 1.6 .1 1.6-.1 1.6-.3 1.6-.4 1.6-.5 1.6-.6 1.6-.7 1.6-.6 1.6-.7 1.6-.7 1.7-.7 1.6-.6 1.6-.7 1.6-.7 1.6-.6 1.6-.7 1.6-.7 1.6-.6 1.6-.7 1.6-.6 1.6-.7 1.6-.7 1.7-.7 1.6-.8 1.6-.8 1.6-1 1.6-1 1.6-1.1 1.6-1.2 1.6-1.3 1.6-1.4 1.6-1.5 1.6-1.5 1.6-1.6 1.7-1.7 1.6-1.6 1.6-1.7 1.6-1.8 1.6-1.7 1.6-1.9 1.6-1.8 1.6-1.9 1.6-1.8 1.6-1.9 1.6-1.9 1.6-1.9 1.7-1.9 1.6-2 1.6-2.2 1.6-2.3 1.6-2.6 1.6-3 1.6-3.7 1.6-5.1 1.6-5.6 1.6-3.3 1.6-8.2 1.6-9.2 1.7-10.6 1.6-11.7 1.6-11.9 1.6-10.4 1.6-9.1 1.6-2.6 1.6 4 1.6 5.4 1.6 4.7 1.6 4.8 1.6 5.3 1.6 6.2 1.7 5.4 1.6 .9 1.6 2.4 1.6 1.3 1.6 .8 1.6 .9 1.6 1 1.6 .9 1.6 .9 1.6 1.3 1.6 1.3 1.6 1.2 1.7 1.3 1.6 1.2" stroke="#2f79b6"/><path d="M420.5 173.2l1.6 1.5 1.7 1.5 1.6 1.4 1.6 1.4 1.6 1.3 1.6 1.4 1.6 1.3 1.6 1.4 1.6 1.4 1.6 1.3 1.6 1.4 1.6 1.5 1.6 1.4 1.7 1.5 1.6 1.4 1.6 1.5 1.6 1.6 1.6 1.5 1.6 1.5 1.6 1.5 1.6 1.5 1.6 1.5 1.6 1.4 1.6 1.4 1.6 1.3 1.7 1.3 1.6 1.2 1.6 1.2 1.6 1.2 1.6 1.1 1.6 1.1 1.6 1 1.6 1.1 1.6 1 1.6 1 1.6 .9 1.6 1 1.7 .9 1.6 .9 1.6 .8 1.6 .8 1.6 .9 1.6 .7 1.6 .8 1.6 .8 1.6 .7 1.6 .8 1.6 .8 1.6 .8 1.7 .8 1.6 .9 1.6 .9 1.6 .9 1.6 .9 1.6 .9 1.6 .9 1.6 1 1.6 .9 1.6 1 1.6 .9 1.6 .9 1.7 .9 1.6 .9 1.6 .8 1.6 .8 1.6 .7 1.6 .7 1.6 .7 1.6 .6 1.6 .7 1.6 .6 1.6 .7 1.6 .5 1.7 .5 1.6 .4 1.6 .1 1.6-.1 1.6-.3 1.6-.4 1.6-.5 1.6-.6 1.6-.7 1.6-.6 1.6-.7 1.6-.7 1.7-.7 1.6-.7 1.6-.6 1.6-.7 1.6-.7 1.6-.6 1.6-.7 1.6-.7 1.6-.6 1.6-.7 1.6-.7 1.6-.7 1.7-.7 1.6-.8 1.6-.8 1.6-1 1.6-1 1.6-1.1 1.6-1.2 1.6-1.3 1.6-1.4 1.6-1.5 1.6-1.6 1.6-1.6 1.7-1.6 1.6-1.7 1.6-1.7 1.6-1.7 1.6-1.8 1.6-1.8 1.6-1.9 1.6-1.9 1.6-1.8 1.6-1.9 1.6-1.9 1.6-1.9 1.7-2 1.6-2.1 1.6-2.1 1.6-2.4 1.6-2.6 1.6-3.1 1.6-3.7 1.6-5.1 1.6-5.6 1.6-3.2 1.6-7.9 1.6-8.8 1.7-10.2 1.6-11.3 1.6-11.4 1.6-10 1.6-8.6 1.6-2.4 1.6 3.9 1.6 5.3 1.6 4.5 1.6 4.4 1.6 5 1.6 5.8 1.7 5.3 1.6 1 1.6 2.3 1.6 1 1.6 .8 1.6 .7 1.6 .9 1.6 .8 1.6 .8 1.6 1.2 1.6 1.3 1.6 1.2 1.7 1.2 1.6 1.2" stroke="#337eb8"/><path d="M420.5 172.7l1.6 1.5 1.7 1.5 1.6 1.4 1.6 1.4 1.6 1.4 1.6 1.3 1.6 1.4 1.6 1.3 1.6 1.4 1.6 1.4 1.6 1.4 1.6 1.4 1.6 1.5 1.7 1.5 1.6 1.5 1.6 1.5 1.6 1.5 1.6 1.5 1.6 1.6 1.6 1.5 1.6 1.5 1.6 1.5 1.6 1.4 1.6 1.5 1.6 1.3 1.7 1.3 1.6 1.2 1.6 1.2 1.6 1.1 1.6 1.2 1.6 1 1.6 1.1 1.6 1 1.6 1.1 1.6 .9 1.6 1 1.6 1 1.7 .9 1.6 .9 1.6 .8 1.6 .9 1.6 .8 1.6 .7 1.6 .8 1.6 .8 1.6 .8 1.6 .7 1.6 .8 1.6 .8 1.7 .9 1.6 .8 1.6 .9 1.6 .9 1.6 .9 1.6 .9 1.6 1 1.6 .9 1.6 1 1.6 .9 1.6 .9 1.6 1 1.7 .9 1.6 .8 1.6 .9 1.6 .7 1.6 .8 1.6 .7 1.6 .7 1.6 .6 1.6 .7 1.6 .7 1.6 .6 1.6 .6 1.7 .5 1.6 .3 1.6 .1 1.6 0 1.6-.3 1.6-.4 1.6-.5 1.6-.6 1.6-.7 1.6-.6 1.6-.7 1.6-.7 1.7-.7 1.6-.7 1.6-.7 1.6-.6 1.6-.7 1.6-.7 1.6-.7 1.6-.6 1.6-.7 1.6-.7 1.6-.7 1.6-.7 1.7-.7 1.6-.8 1.6-.8 1.6-1 1.6-1 1.6-1.1 1.6-1.2 1.6-1.3 1.6-1.5 1.6-1.5 1.6-1.5 1.6-1.6 1.7-1.7 1.6-1.7 1.6-1.7 1.6-1.7 1.6-1.8 1.6-1.8 1.6-1.9 1.6-1.9 1.6-1.9 1.6-1.8 1.6-2 1.6-1.9 1.7-2 1.6-2.1 1.6-2.2 1.6-2.4 1.6-2.7 1.6-3 1.6-3.8 1.6-5.1 1.6-5.6 1.6-3.1 1.6-7.6 1.6-8.4 1.7-9.8 1.6-10.8 1.6-11 1.6-9.6 1.6-8.2 1.6-2.1 1.6 3.9 1.6 5.1 1.6 4.2 1.6 4.1 1.6 4.7 1.6 5.5 1.7 5.1 1.6 1 1.6 2.2 1.6 .9 1.6 .6 1.6 .6 1.6 .8 1.6 .7 1.6 .7 1.6 1.2 1.6 1.2 1.6 1.2 1.7 1.2 1.6 1.2" stroke="#3784bb"/><path d="M420.5 172.2l1.6 1.5 1.7 1.5 1.6 1.4 1.6 1.4 1.6 1.4 1.6 1.3 1.6 1.4 1.6 1.4 1.6 1.4 1.6 1.4 1.6 1.4 1.6 1.4 1.6 1.5 1.7 1.5 1.6 1.5 1.6 1.5 1.6 1.5 1.6 1.6 1.6 1.5 1.6 1.6 1.6 1.5 1.6 1.5 1.6 1.5 1.6 1.4 1.6 1.3 1.7 1.3 1.6 1.3 1.6 1.2 1.6 1.1 1.6 1.1 1.6 1.1 1.6 1.1 1.6 1 1.6 1 1.6 1 1.6 1 1.6 .9 1.7 1 1.6 .9 1.6 .8 1.6 .9 1.6 .8 1.6 .8 1.6 .7 1.6 .8 1.6 .8 1.6 .8 1.6 .8 1.6 .8 1.7 .8 1.6 .9 1.6 .8 1.6 1 1.6 .9 1.6 .9 1.6 .9 1.6 1 1.6 .9 1.6 1 1.6 .9 1.6 .9 1.7 .9 1.6 .9 1.6 .8 1.6 .8 1.6 .8 1.6 .7 1.6 .7 1.6 .6 1.6 .7 1.6 .7 1.6 .6 1.6 .6 1.7 .5 1.6 .3 1.6 .2 1.6-.1 1.6-.2 1.6-.4 1.6-.5 1.6-.6 1.6-.7 1.6-.6 1.6-.7 1.6-.7 1.7-.7 1.6-.7 1.6-.7 1.6-.7 1.6-.7 1.6-.7 1.6-.6 1.6-.7 1.6-.7 1.6-.7 1.6-.7 1.6-.7 1.7-.7 1.6-.8 1.6-.9 1.6-.9 1.6-1 1.6-1.1 1.6-1.3 1.6-1.3 1.6-1.4 1.6-1.5 1.6-1.6 1.6-1.6 1.7-1.6 1.6-1.7 1.6-1.7 1.6-1.8 1.6-1.8 1.6-1.8 1.6-1.9 1.6-1.9 1.6-1.9 1.6-1.9 1.6-1.9 1.6-2 1.7-2 1.6-2.1 1.6-2.2 1.6-2.4 1.6-2.8 1.6-3.1 1.6-3.8 1.6-5.2 1.6-5.5 1.6-3 1.6-7.3 1.6-8 1.7-9.3 1.6-10.4 1.6-10.7 1.6-9.1 1.6-7.7 1.6-2 1.6 3.8 1.6 5 1.6 3.9 1.6 3.9 1.6 4.4 1.6 5.2 1.7 4.9 1.6 1.1 1.6 2.1 1.6 .7 1.6 .4 1.6 .5 1.6 .7 1.6 .6 1.6 .6 1.6 1.2 1.6 1.2 1.6 1.1 1.7 1.2 1.6 1.2" stroke="#3b89be"/><path d="M420.5 171.7l1.6 1.5 1.7 1.5 1.6 1.4 1.6 1.4 1.6 1.4 1.6 1.4 1.6 1.3 1.6 1.4 1.6 1.4 1.6 1.4 1.6 1.5 1.6 1.4 1.6 1.5 1.7 1.5 1.6 1.5 1.6 1.5 1.6 1.6 1.6 1.5 1.6 1.6 1.6 1.5 1.6 1.6 1.6 1.5 1.6 1.5 1.6 1.4 1.6 1.4 1.7 1.3 1.6 1.2 1.6 1.2 1.6 1.2 1.6 1.1 1.6 1.1 1.6 1 1.6 1.1 1.6 1 1.6 1 1.6 1 1.6 .9 1.7 .9 1.6 .9 1.6 .9 1.6 .8 1.6 .9 1.6 .8 1.6 .7 1.6 .8 1.6 .8 1.6 .8 1.6 .8 1.6 .8 1.7 .8 1.6 .9 1.6 .9 1.6 .9 1.6 .9 1.6 .9 1.6 1 1.6 .9 1.6 1 1.6 .9 1.6 1 1.6 .9 1.7 .9 1.6 .9 1.6 .8 1.6 .8 1.6 .8 1.6 .7 1.6 .7 1.6 .6 1.6 .7 1.6 .7 1.6 .6 1.6 .6 1.7 .5 1.6 .4 1.6 .1 1.6 0 1.6-.3 1.6-.3 1.6-.5 1.6-.6 1.6-.7 1.6-.6 1.6-.7 1.6-.7 1.7-.7 1.6-.7 1.6-.7 1.6-.7 1.6-.7 1.6-.7 1.6-.7 1.6-.7 1.6-.7 1.6-.6 1.6-.7 1.6-.8 1.7-.7 1.6-.8 1.6-.9 1.6-.9 1.6-1 1.6-1.2 1.6-1.2 1.6-1.3 1.6-1.4 1.6-1.6 1.6-1.5 1.6-1.7 1.7-1.6 1.6-1.7 1.6-1.7 1.6-1.8 1.6-1.8 1.6-1.8 1.6-1.9 1.6-1.9 1.6-1.9 1.6-1.9 1.6-2 1.6-2 1.7-2 1.6-2.2 1.6-2.2 1.6-2.5 1.6-2.8 1.6-3 1.6-3.9 1.6-5.2 1.6-5.4 1.6-3 1.6-7 1.6-7.7 1.7-8.8 1.6-10 1.6-10.2 1.6-8.7 1.6-7.3 1.6-1.8 1.6 3.8 1.6 4.8 1.6 3.7 1.6 3.6 1.6 4 1.6 4.9 1.7 4.7 1.6 1.2 1.6 2 1.6 .5 1.6 .3 1.6 .5 1.6 .5 1.6 .6 1.6 .4 1.6 1.1 1.6 1.2 1.6 1.2 1.7 1.1 1.6 1.1" stroke="#3f8ec1"/><path d="M420.5 171.2l1.6 1.5 1.7 1.5 1.6 1.4 1.6 1.4 1.6 1.4 1.6 1.4 1.6 1.3 1.6 1.4 1.6 1.4 1.6 1.5 1.6 1.4 1.6 1.5 1.6 1.5 1.7 1.5 1.6 1.5 1.6 1.5 1.6 1.6 1.6 1.6 1.6 1.5 1.6 1.6 1.6 1.6 1.6 1.5 1.6 1.5 1.6 1.5 1.6 1.3 1.7 1.3 1.6 1.3 1.6 1.2 1.6 1.1 1.6 1.2 1.6 1 1.6 1.1 1.6 1.1 1.6 1 1.6 1 1.6 1 1.6 .9 1.7 .9 1.6 .9 1.6 .9 1.6 .8 1.6 .9 1.6 .8 1.6 .7 1.6 .8 1.6 .8 1.6 .8 1.6 .8 1.6 .8 1.7 .9 1.6 .8 1.6 .9 1.6 .9 1.6 1 1.6 .9 1.6 .9 1.6 1 1.6 .9 1.6 1 1.6 .9 1.6 .9 1.7 1 1.6 .8 1.6 .9 1.6 .8 1.6 .7 1.6 .8 1.6 .7 1.6 .6 1.6 .7 1.6 .7 1.6 .6 1.6 .6 1.7 .5 1.6 .4 1.6 .2 1.6-.1 1.6-.2 1.6-.3 1.6-.5 1.6-.6 1.6-.7 1.6-.6 1.6-.7 1.6-.8 1.7-.7 1.6-.7 1.6-.7 1.6-.7 1.6-.7 1.6-.7 1.6-.7 1.6-.6 1.6-.7 1.6-.7 1.6-.7 1.6-.7 1.7-.8 1.6-.8 1.6-.9 1.6-.9 1.6-1 1.6-1.2 1.6-1.2 1.6-1.4 1.6-1.4 1.6-1.5 1.6-1.6 1.6-1.6 1.7-1.7 1.6-1.7 1.6-1.7 1.6-1.7 1.6-1.8 1.6-1.9 1.6-1.9 1.6-1.9 1.6-1.9 1.6-2 1.6-1.9 1.6-2.1 1.7-2.1 1.6-2.1 1.6-2.3 1.6-2.5 1.6-2.8 1.6-3.1 1.6-3.9 1.6-5.3 1.6-5.3 1.6-2.8 1.6-6.9 1.6-7.2 1.7-8.4 1.6-9.5 1.6-9.9 1.6-8.3 1.6-6.8 1.6-1.6 1.6 3.7 1.6 4.7 1.6 3.4 1.6 3.3 1.6 3.7 1.6 4.7 1.7 4.5 1.6 1.2 1.6 1.9 1.6 .4 1.6 .1 1.6 .4 1.6 .4 1.6 .5 1.6 .3 1.6 1.1 1.6 1.2 1.6 1.1 1.7 1.1 1.6 1.1" stroke="#4494c3"/><path d="M420.5 170.7l1.6 1.5 1.7 1.5 1.6 1.4 1.6 1.4 1.6 1.4 1.6 1.4 1.6 1.3 1.6 1.5 1.6 1.4 1.6 1.4 1.6 1.5 1.6 1.4 1.6 1.5 1.7 1.6 1.6 1.5 1.6 1.5 1.6 1.6 1.6 1.6 1.6 1.6 1.6 1.6 1.6 1.5 1.6 1.6 1.6 1.5 1.6 1.5 1.6 1.4 1.7 1.3 1.6 1.2 1.6 1.2 1.6 1.2 1.6 1.1 1.6 1.1 1.6 1.1 1.6 1 1.6 1 1.6 1 1.6 1 1.6 1 1.7 .9 1.6 .9 1.6 .9 1.6 .8 1.6 .8 1.6 .9 1.6 .7 1.6 .8 1.6 .8 1.6 .8 1.6 .8 1.6 .9 1.7 .8 1.6 .9 1.6 .9 1.6 .9 1.6 .9 1.6 .9 1.6 1 1.6 .9 1.6 1 1.6 .9 1.6 1 1.6 .9 1.7 .9 1.6 .9 1.6 .8 1.6 .8 1.6 .8 1.6 .7 1.6 .7 1.6 .7 1.6 .7 1.6 .7 1.6 .7 1.6 .6 1.7 .5 1.6 .3 1.6 .2 1.6 0 1.6-.2 1.6-.4 1.6-.4 1.6-.6 1.6-.6 1.6-.7 1.6-.8 1.6-.7 1.7-.7 1.6-.7 1.6-.7 1.6-.7 1.6-.7 1.6-.7 1.6-.7 1.6-.7 1.6-.7 1.6-.7 1.6-.7 1.6-.7 1.7-.8 1.6-.8 1.6-.9 1.6-.9 1.6-1.1 1.6-1.1 1.6-1.3 1.6-1.3 1.6-1.4 1.6-1.6 1.6-1.5 1.6-1.7 1.7-1.6 1.6-1.7 1.6-1.8 1.6-1.7 1.6-1.8 1.6-1.9 1.6-1.9 1.6-1.9 1.6-1.9 1.6-2 1.6-2 1.6-2.1 1.7-2.1 1.6-2.2 1.6-2.3 1.6-2.5 1.6-2.9 1.6-3.1 1.6-3.9 1.6-5.3 1.6-5.3 1.6-2.7 1.6-6.6 1.6-6.8 1.7-8 1.6-9.1 1.6-9.4 1.6-7.9 1.6-6.4 1.6-1.4 1.6 3.6 1.6 4.5 1.6 3.2 1.6 3 1.6 3.5 1.6 4.3 1.7 4.4 1.6 1.3 1.6 1.8 1.6 .2 1.6 0 1.6 .2 1.6 .3 1.6 .4 1.6 .2 1.6 1.1 1.6 1.1 1.6 1.1 1.7 1.1 1.6 1" stroke="#4e9ac7"/><path d="M420.5 170.2l1.6 1.5 1.7 1.4 1.6 1.5 1.6 1.4 1.6 1.3 1.6 1.4 1.6 1.4 1.6 1.5 1.6 1.4 1.6 1.4 1.6 1.5 1.6 1.5 1.6 1.5 1.7 1.5 1.6 1.6 1.6 1.5 1.6 1.6 1.6 1.6 1.6 1.6 1.6 1.6 1.6 1.6 1.6 1.6 1.6 1.5 1.6 1.5 1.6 1.4 1.7 1.3 1.6 1.3 1.6 1.2 1.6 1.1 1.6 1.2 1.6 1.1 1.6 1 1.6 1.1 1.6 1 1.6 1 1.6 1 1.6 .9 1.7 1 1.6 .9 1.6 .9 1.6 .8 1.6 .8 1.6 .8 1.6 .8 1.6 .8 1.6 .8 1.6 .8 1.6 .8 1.6 .9 1.7 .8 1.6 .9 1.6 .9 1.6 .9 1.6 .9 1.6 1 1.6 .9 1.6 1 1.6 .9 1.6 1 1.6 .9 1.6 1 1.7 .9 1.6 .9 1.6 .8 1.6 .8 1.6 .8 1.6 .7 1.6 .7 1.6 .7 1.6 .7 1.6 .7 1.6 .7 1.6 .6 1.7 .5 1.6 .4 1.6 .2 1.6 0 1.6-.2 1.6-.4 1.6-.4 1.6-.6 1.6-.6 1.6-.7 1.6-.8 1.6-.7 1.7-.7 1.6-.7 1.6-.8 1.6-.7 1.6-.7 1.6-.7 1.6-.7 1.6-.7 1.6-.7 1.6-.7 1.6-.7 1.6-.7 1.7-.8 1.6-.8 1.6-.9 1.6-1 1.6-1 1.6-1.1 1.6-1.3 1.6-1.4 1.6-1.4 1.6-1.5 1.6-1.6 1.6-1.6 1.7-1.7 1.6-1.7 1.6-1.7 1.6-1.8 1.6-1.8 1.6-1.9 1.6-1.9 1.6-1.9 1.6-2 1.6-2 1.6-2 1.6-2.1 1.7-2.1 1.6-2.2 1.6-2.4 1.6-2.5 1.6-2.9 1.6-3.2 1.6-3.9 1.6-5.4 1.6-5.2 1.6-2.6 1.6-6.3 1.6-6.5 1.7-7.5 1.6-8.6 1.6-9.1 1.6-7.5 1.6-6 1.6-1.2 1.6 3.5 1.6 4.4 1.6 2.9 1.6 2.8 1.6 3.2 1.6 4 1.7 4.3 1.6 1.3 1.6 1.7 1.6 .1 1.6-.2 1.6 .1 1.6 .3 1.6 .2 1.6 .1 1.6 1.1 1.6 1.1 1.6 1 1.7 1.1 1.6 1" stroke="#57a0ca"/><path d="M420.5 169.6l1.6 1.5 1.7 1.5 1.6 1.4 1.6 1.4 1.6 1.4 1.6 1.4 1.6 1.4 1.6 1.5 1.6 1.4 1.6 1.5 1.6 1.4 1.6 1.5 1.6 1.6 1.7 1.5 1.6 1.5 1.6 1.6 1.6 1.6 1.6 1.6 1.6 1.6 1.6 1.6 1.6 1.7 1.6 1.6 1.6 1.5 1.6 1.5 1.6 1.4 1.7 1.4 1.6 1.2 1.6 1.2 1.6 1.2 1.6 1.1 1.6 1.1 1.6 1.1 1.6 1 1.6 1.1 1.6 1 1.6 1 1.6 .9 1.7 .9 1.6 1 1.6 .8 1.6 .9 1.6 .8 1.6 .8 1.6 .8 1.6 .8 1.6 .8 1.6 .8 1.6 .9 1.6 .8 1.7 .8 1.6 .9 1.6 .9 1.6 .9 1.6 1 1.6 .9 1.6 1 1.6 .9 1.6 1 1.6 .9 1.6 1 1.6 .9 1.7 .9 1.6 .9 1.6 .9 1.6 .8 1.6 .8 1.6 .7 1.6 .7 1.6 .7 1.6 .7 1.6 .7 1.6 .7 1.6 .6 1.7 .5 1.6 .4 1.6 .2 1.6 0 1.6-.2 1.6-.3 1.6-.4 1.6-.6 1.6-.6 1.6-.7 1.6-.8 1.6-.7 1.7-.7 1.6-.8 1.6-.7 1.6-.7 1.6-.7 1.6-.8 1.6-.7 1.6-.7 1.6-.7 1.6-.7 1.6-.7 1.6-.7 1.7-.8 1.6-.8 1.6-.9 1.6-1 1.6-1 1.6-1.2 1.6-1.2 1.6-1.4 1.6-1.5 1.6-1.5 1.6-1.6 1.6-1.6 1.7-1.7 1.6-1.7 1.6-1.7 1.6-1.8 1.6-1.8 1.6-1.9 1.6-1.9 1.6-1.9 1.6-2 1.6-2 1.6-2.1 1.6-2.1 1.7-2.2 1.6-2.2 1.6-2.4 1.6-2.6 1.6-2.9 1.6-3.2 1.6-3.9 1.6-5.5 1.6-5.1 1.6-2.5 1.6-6 1.6-6.1 1.7-7 1.6-8.3 1.6-8.7 1.6-7.1 1.6-5.6 1.6-1 1.6 3.4 1.6 4.2 1.6 2.7 1.6 2.6 1.6 2.9 1.6 3.7 1.7 4.1 1.6 1.4 1.6 1.6 1.6-.1 1.6-.3 1.6 0 1.6 .2 1.6 .2 1.6 0 1.6 1 1.6 1 1.6 1.1 1.7 1 1.6 1" stroke="#60a6cd"/><path d="M420.5 169.1l1.6 1.5 1.7 1.4 1.6 1.5 1.6 1.4 1.6 1.4 1.6 1.4 1.6 1.4 1.6 1.4 1.6 1.5 1.6 1.5 1.6 1.5 1.6 1.5 1.6 1.5 1.7 1.5 1.6 1.6 1.6 1.6 1.6 1.6 1.6 1.6 1.6 1.6 1.6 1.7 1.6 1.6 1.6 1.6 1.6 1.6 1.6 1.5 1.6 1.4 1.7 1.4 1.6 1.3 1.6 1.2 1.6 1.1 1.6 1.1 1.6 1.1 1.6 1.1 1.6 1.1 1.6 1 1.6 1 1.6 1 1.6 1 1.7 .9 1.6 .9 1.6 .9 1.6 .9 1.6 .8 1.6 .8 1.6 .8 1.6 .8 1.6 .8 1.6 .8 1.6 .9 1.6 .8 1.7 .9 1.6 .8 1.6 .9 1.6 1 1.6 .9 1.6 .9 1.6 1 1.6 1 1.6 .9 1.6 1 1.6 .9 1.6 .9 1.7 1 1.6 .9 1.6 .8 1.6 .8 1.6 .8 1.6 .8 1.6 .7 1.6 .7 1.6 .7 1.6 .7 1.6 .7 1.6 .6 1.7 .5 1.6 .4 1.6 .2 1.6 .1 1.6-.2 1.6-.3 1.6-.4 1.6-.6 1.6-.6 1.6-.7 1.6-.8 1.6-.7 1.7-.8 1.6-.7 1.6-.7 1.6-.8 1.6-.7 1.6-.7 1.6-.7 1.6-.7 1.6-.7 1.6-.8 1.6-.7 1.6-.7 1.7-.8 1.6-.8 1.6-.9 1.6-1 1.6-1.1 1.6-1.1 1.6-1.3 1.6-1.4 1.6-1.4 1.6-1.5 1.6-1.6 1.6-1.7 1.7-1.7 1.6-1.7 1.6-1.7 1.6-1.8 1.6-1.8 1.6-1.9 1.6-1.9 1.6-2 1.6-2 1.6-2 1.6-2 1.6-2.2 1.7-2.2 1.6-2.3 1.6-2.4 1.6-2.6 1.6-3 1.6-3.2 1.6-4 1.6-5.5 1.6-5 1.6-2.4 1.6-5.7 1.6-5.7 1.7-6.6 1.6-7.9 1.6-8.3 1.6-6.7 1.6-5.2 1.6-.8 1.6 3.3 1.6 4 1.6 2.5 1.6 2.3 1.6 2.6 1.6 3.5 1.7 4 1.6 1.4 1.6 1.6 1.6-.3 1.6-.4 1.6-.1 1.6 0 1.6 .1 1.6-.1 1.6 1 1.6 1 1.6 1 1.7 1 1.6 .9" stroke="#6aacd0"/><path d="M420.5 168.5l1.6 1.5 1.7 1.5 1.6 1.4 1.6 1.4 1.6 1.4 1.6 1.4 1.6 1.5 1.6 1.4 1.6 1.5 1.6 1.5 1.6 1.5 1.6 1.5 1.6 1.5 1.7 1.6 1.6 1.6 1.6 1.6 1.6 1.6 1.6 1.6 1.6 1.7 1.6 1.6 1.6 1.7 1.6 1.6 1.6 1.6 1.6 1.5 1.6 1.4 1.7 1.4 1.6 1.3 1.6 1.2 1.6 1.2 1.6 1.1 1.6 1.1 1.6 1.1 1.6 1 1.6 1.1 1.6 1 1.6 1 1.6 .9 1.7 1 1.6 .9 1.6 .9 1.6 .8 1.6 .9 1.6 .8 1.6 .8 1.6 .8 1.6 .8 1.6 .8 1.6 .9 1.6 .8 1.7 .9 1.6 .9 1.6 .9 1.6 .9 1.6 .9 1.6 1 1.6 .9 1.6 1 1.6 .9 1.6 1 1.6 1 1.6 .9 1.7 .9 1.6 .9 1.6 .9 1.6 .8 1.6 .8 1.6 .8 1.6 .7 1.6 .7 1.6 .7 1.6 .7 1.6 .7 1.6 .6 1.7 .6 1.6 .4 1.6 .2 1.6 0 1.6-.1 1.6-.3 1.6-.4 1.6-.6 1.6-.6 1.6-.7 1.6-.8 1.6-.7 1.7-.8 1.6-.7 1.6-.8 1.6-.7 1.6-.8 1.6-.7 1.6-.7 1.6-.7 1.6-.7 1.6-.7 1.6-.8 1.6-.7 1.7-.8 1.6-.9 1.6-.9 1.6-.9 1.6-1.1 1.6-1.2 1.6-1.2 1.6-1.4 1.6-1.5 1.6-1.5 1.6-1.6 1.6-1.7 1.7-1.6 1.6-1.8 1.6-1.7 1.6-1.8 1.6-1.8 1.6-1.9 1.6-1.9 1.6-2 1.6-2 1.6-2 1.6-2.1 1.6-2.2 1.7-2.3 1.6-2.3 1.6-2.4 1.6-2.7 1.6-3 1.6-3.2 1.6-4 1.6-5.6 1.6-5 1.6-2.3 1.6-5.3 1.6-5.4 1.7-6.1 1.6-7.4 1.6-8 1.6-6.3 1.6-4.8 1.6-.7 1.6 3.2 1.6 3.9 1.6 2.3 1.6 2 1.6 2.4 1.6 3.2 1.7 3.8 1.6 1.6 1.6 1.4 1.6-.4 1.6-.6 1.6-.2 1.6 0 1.6 0 1.6-.2 1.6 .9 1.6 1 1.6 .9 1.7 1 1.6 .9" stroke="#73b2d4"/><path d="M420.5 167.9l1.6 1.5 1.7 1.5 1.6 1.4 1.6 1.4 1.6 1.4 1.6 1.5 1.6 1.4 1.6 1.5 1.6 1.4 1.6 1.5 1.6 1.6 1.6 1.5 1.6 1.5 1.7 1.6 1.6 1.6 1.6 1.6 1.6 1.7 1.6 1.6 1.6 1.7 1.6 1.6 1.6 1.7 1.6 1.6 1.6 1.6 1.6 1.6 1.6 1.4 1.7 1.4 1.6 1.3 1.6 1.2 1.6 1.2 1.6 1.1 1.6 1.1 1.6 1.1 1.6 1.1 1.6 1 1.6 1 1.6 1 1.6 1 1.7 .9 1.6 .9 1.6 .9 1.6 .9 1.6 .8 1.6 .9 1.6 .8 1.6 .8 1.6 .8 1.6 .8 1.6 .9 1.6 .8 1.7 .9 1.6 .9 1.6 .9 1.6 .9 1.6 .9 1.6 1 1.6 .9 1.6 1 1.6 1 1.6 .9 1.6 1 1.6 .9 1.7 1 1.6 .9 1.6 .8 1.6 .9 1.6 .8 1.6 .7 1.6 .8 1.6 .7 1.6 .7 1.6 .7 1.6 .7 1.6 .6 1.7 .6 1.6 .4 1.6 .2 1.6 .1 1.6-.1 1.6-.3 1.6-.4 1.6-.6 1.6-.6 1.6-.7 1.6-.8 1.6-.8 1.7-.7 1.6-.8 1.6-.7 1.6-.8 1.6-.7 1.6-.8 1.6-.7 1.6-.7 1.6-.7 1.6-.7 1.6-.8 1.6-.7 1.7-.8 1.6-.9 1.6-.9 1.6-1 1.6-1 1.6-1.2 1.6-1.3 1.6-1.4 1.6-1.4 1.6-1.6 1.6-1.6 1.6-1.6 1.7-1.7 1.6-1.8 1.6-1.7 1.6-1.8 1.6-1.8 1.6-1.9 1.6-2 1.6-2 1.6-2 1.6-2 1.6-2.1 1.6-2.2 1.7-2.3 1.6-2.4 1.6-2.4 1.6-2.7 1.6-3.1 1.6-3.3 1.6-4 1.6-5.6 1.6-4.9 1.6-2.2 1.6-5 1.6-5 1.7-5.7 1.6-7 1.6-7.6 1.6-5.9 1.6-4.5 1.6-.5 1.6 3.1 1.6 3.7 1.6 2.1 1.6 1.8 1.6 2.1 1.6 3 1.7 3.6 1.6 1.7 1.6 1.3 1.6-.5 1.6-.7 1.6-.4 1.6-.1 1.6 0 1.6-.4 1.6 .9 1.6 1 1.6 .9 1.7 .9 1.6 .9" stroke="#7db8d7"/><path d="M420.5 167.3l1.6 1.5 1.7 1.5 1.6 1.4 1.6 1.4 1.6 1.4 1.6 1.5 1.6 1.4 1.6 1.5 1.6 1.5 1.6 1.5 1.6 1.5 1.6 1.6 1.6 1.6 1.7 1.5 1.6 1.6 1.6 1.7 1.6 1.6 1.6 1.7 1.6 1.6 1.6 1.7 1.6 1.7 1.6 1.7 1.6 1.6 1.6 1.6 1.6 1.4 1.7 1.4 1.6 1.3 1.6 1.2 1.6 1.2 1.6 1.1 1.6 1.1 1.6 1.1 1.6 1.1 1.6 1 1.6 1.1 1.6 .9 1.6 1 1.7 1 1.6 .9 1.6 .9 1.6 .8 1.6 .9 1.6 .8 1.6 .9 1.6 .8 1.6 .8 1.6 .8 1.6 .9 1.6 .8 1.7 .9 1.6 .9 1.6 .9 1.6 .9 1.6 1 1.6 .9 1.6 1 1.6 .9 1.6 1 1.6 1 1.6 .9 1.6 1 1.7 .9 1.6 .9 1.6 .9 1.6 .8 1.6 .8 1.6 .8 1.6 .7 1.6 .8 1.6 .7 1.6 .7 1.6 .7 1.6 .7 1.7 .5 1.6 .4 1.6 .3 1.6 0 1.6-.1 1.6-.2 1.6-.4 1.6-.6 1.6-.6 1.6-.7 1.6-.8 1.6-.8 1.7-.7 1.6-.8 1.6-.8 1.6-.7 1.6-.8 1.6-.7 1.6-.7 1.6-.8 1.6-.7 1.6-.7 1.6-.8 1.6-.7 1.7-.8 1.6-.9 1.6-.9 1.6-1 1.6-1.1 1.6-1.2 1.6-1.3 1.6-1.3 1.6-1.5 1.6-1.6 1.6-1.6 1.6-1.6 1.7-1.7 1.6-1.8 1.6-1.7 1.6-1.8 1.6-1.9 1.6-1.9 1.6-1.9 1.6-2 1.6-2 1.6-2.1 1.6-2.1 1.6-2.3 1.7-2.3 1.6-2.4 1.6-2.5 1.6-2.7 1.6-3.2 1.6-3.2 1.6-4.1 1.6-5.6 1.6-4.8 1.6-2.1 1.6-4.7 1.6-4.6 1.7-5.3 1.6-6.6 1.6-7.2 1.6-5.6 1.6-4.1 1.6-.4 1.6 3 1.6 3.6 1.6 1.9 1.6 1.6 1.6 1.8 1.6 2.8 1.7 3.5 1.6 1.7 1.6 1.3 1.6-.7 1.6-.9 1.6-.4 1.6-.2 1.6-.2 1.6-.4 1.6 .9 1.6 .9 1.6 .9 1.7 .8 1.6 .9" stroke="#86beda"/><path d="M420.5 166.7l1.6 1.5 1.7 1.4 1.6 1.5 1.6 1.4 1.6 1.4 1.6 1.5 1.6 1.4 1.6 1.5 1.6 1.5 1.6 1.6 1.6 1.5 1.6 1.6 1.6 1.5 1.7 1.6 1.6 1.7 1.6 1.6 1.6 1.7 1.6 1.6 1.6 1.7 1.6 1.7 1.6 1.7 1.6 1.7 1.6 1.7 1.6 1.5 1.6 1.5 1.7 1.4 1.6 1.3 1.6 1.2 1.6 1.2 1.6 1.1 1.6 1.2 1.6 1 1.6 1.1 1.6 1.1 1.6 1 1.6 1 1.6 .9 1.7 1 1.6 .9 1.6 .9 1.6 .9 1.6 .9 1.6 .8 1.6 .8 1.6 .8 1.6 .9 1.6 .8 1.6 .8 1.6 .9 1.7 .9 1.6 .9 1.6 .9 1.6 .9 1.6 1 1.6 .9 1.6 1 1.6 1 1.6 .9 1.6 1 1.6 .9 1.6 1 1.7 .9 1.6 .9 1.6 .9 1.6 .9 1.6 .8 1.6 .7 1.6 .8 1.6 .8 1.6 .7 1.6 .7 1.6 .7 1.6 .7 1.7 .5 1.6 .4 1.6 .3 1.6 .1 1.6-.1 1.6-.3 1.6-.3 1.6-.6 1.6-.6 1.6-.7 1.6-.8 1.6-.8 1.7-.8 1.6-.8 1.6-.7 1.6-.8 1.6-.7 1.6-.8 1.6-.7 1.6-.8 1.6-.7 1.6-.7 1.6-.8 1.6-.7 1.7-.9 1.6-.8 1.6-.9 1.6-1 1.6-1.1 1.6-1.2 1.6-1.3 1.6-1.4 1.6-1.5 1.6-1.5 1.6-1.7 1.6-1.6 1.7-1.7 1.6-1.8 1.6-1.7 1.6-1.8 1.6-1.9 1.6-1.9 1.6-2 1.6-2 1.6-2 1.6-2.1 1.6-2.2 1.6-2.2 1.7-2.4 1.6-2.4 1.6-2.5 1.6-2.8 1.6-3.2 1.6-3.3 1.6-4.1 1.6-5.7 1.6-4.7 1.6-1.9 1.6-4.4 1.6-4.2 1.7-4.9 1.6-6.2 1.6-6.9 1.6-5.2 1.6-3.7 1.6-.3 1.6 2.9 1.6 3.4 1.6 1.7 1.6 1.4 1.6 1.6 1.6 2.5 1.7 3.4 1.6 1.8 1.6 1.2 1.6-.8 1.6-1 1.6-.5 1.6-.3 1.6-.3 1.6-.5 1.6 .8 1.6 .9 1.6 .8 1.7 .9 1.6 .8" stroke="#90c3dd"/><path d="M420.5 166l1.6 1.5 1.7 1.5 1.6 1.5 1.6 1.4 1.6 1.4 1.6 1.5 1.6 1.4 1.6 1.5 1.6 1.6 1.6 1.5 1.6 1.6 1.6 1.5 1.6 1.6 1.7 1.6 1.6 1.7 1.6 1.6 1.6 1.7 1.6 1.7 1.6 1.7 1.6 1.7 1.6 1.7 1.6 1.7 1.6 1.7 1.6 1.6 1.6 1.5 1.7 1.4 1.6 1.3 1.6 1.2 1.6 1.2 1.6 1.1 1.6 1.2 1.6 1.1 1.6 1 1.6 1.1 1.6 1 1.6 1 1.6 1 1.7 .9 1.6 1 1.6 .9 1.6 .8 1.6 .9 1.6 .8 1.6 .9 1.6 .8 1.6 .8 1.6 .9 1.6 .8 1.6 .9 1.7 .9 1.6 .9 1.6 .9 1.6 .9 1.6 1 1.6 .9 1.6 1 1.6 1 1.6 .9 1.6 1 1.6 1 1.6 .9 1.7 .9 1.6 1 1.6 .8 1.6 .9 1.6 .8 1.6 .8 1.6 .8 1.6 .7 1.6 .8 1.6 .7 1.6 .7 1.6 .7 1.7 .5 1.6 .4 1.6 .3 1.6 .1 1.6 0 1.6-.3 1.6-.4 1.6-.5 1.6-.6 1.6-.7 1.6-.8 1.6-.8 1.7-.8 1.6-.8 1.6-.8 1.6-.8 1.6-.7 1.6-.8 1.6-.7 1.6-.7 1.6-.8 1.6-.7 1.6-.8 1.6-.8 1.7-.8 1.6-.8 1.6-1 1.6-1 1.6-1.1 1.6-1.2 1.6-1.3 1.6-1.4 1.6-1.5 1.6-1.5 1.6-1.7 1.6-1.6 1.7-1.7 1.6-1.8 1.6-1.7 1.6-1.9 1.6-1.8 1.6-1.9 1.6-2 1.6-2 1.6-2.1 1.6-2.1 1.6-2.2 1.6-2.3 1.7-2.4 1.6-2.5 1.6-2.5 1.6-2.8 1.6-3.3 1.6-3.3 1.6-4.1 1.6-5.7 1.6-4.6 1.6-1.8 1.6-4.1 1.6-3.9 1.7-4.3 1.6-5.9 1.6-6.5 1.6-4.9 1.6-3.4 1.6-.1 1.6 2.8 1.6 3.2 1.6 1.5 1.6 1.3 1.6 1.3 1.6 2.3 1.7 3.2 1.6 1.9 1.6 1.1 1.6-.9 1.6-1.2 1.6-.6 1.6-.3 1.6-.4 1.6-.7 1.6 .9 1.6 .8 1.6 .8 1.7 .8 1.6 .8" stroke="#98c8e0"/><path d="M420.5 165.4l1.6 1.5 1.7 1.5 1.6 1.4 1.6 1.4 1.6 1.5 1.6 1.4 1.6 1.5 1.6 1.5 1.6 1.6 1.6 1.5 1.6 1.6 1.6 1.6 1.6 1.6 1.7 1.6 1.6 1.7 1.6 1.6 1.6 1.7 1.6 1.7 1.6 1.7 1.6 1.8 1.6 1.7 1.6 1.8 1.6 1.6 1.6 1.7 1.6 1.5 1.7 1.4 1.6 1.3 1.6 1.2 1.6 1.2 1.6 1.1 1.6 1.2 1.6 1.1 1.6 1 1.6 1.1 1.6 1 1.6 1 1.6 1 1.7 .9 1.6 1 1.6 .9 1.6 .9 1.6 .8 1.6 .9 1.6 .8 1.6 .9 1.6 .8 1.6 .8 1.6 .9 1.6 .9 1.7 .9 1.6 .9 1.6 .9 1.6 .9 1.6 1 1.6 .9 1.6 1 1.6 1 1.6 .9 1.6 1 1.6 1 1.6 .9 1.7 1 1.6 .9 1.6 .9 1.6 .8 1.6 .9 1.6 .8 1.6 .7 1.6 .8 1.6 .8 1.6 .7 1.6 .7 1.6 .7 1.7 .5 1.6 .5 1.6 .2 1.6 .2 1.6-.1 1.6-.2 1.6-.4 1.6-.5 1.6-.6 1.6-.7 1.6-.8 1.6-.8 1.7-.8 1.6-.8 1.6-.8 1.6-.8 1.6-.8 1.6-.7 1.6-.8 1.6-.7 1.6-.8 1.6-.7 1.6-.8 1.6-.8 1.7-.8 1.6-.9 1.6-.9 1.6-1 1.6-1.1 1.6-1.3 1.6-1.3 1.6-1.4 1.6-1.5 1.6-1.5 1.6-1.7 1.6-1.6 1.7-1.7 1.6-1.8 1.6-1.8 1.6-1.8 1.6-1.9 1.6-1.9 1.6-2 1.6-2 1.6-2.1 1.6-2.1 1.6-2.2 1.6-2.4 1.7-2.4 1.6-2.5 1.6-2.6 1.6-2.9 1.6-3.3 1.6-3.3 1.6-4.1 1.6-5.8 1.6-4.5 1.6-1.7 1.6-3.7 1.6-3.5 1.7-3.9 1.6-5.4 1.6-6.3 1.6-4.5 1.6-3.1 1.6 0 1.6 2.7 1.6 3.1 1.6 1.3 1.6 1 1.6 1.2 1.6 2 1.7 3.1 1.6 2 1.6 1.1 1.6-1.1 1.6-1.3 1.6-.7 1.6-.5 1.6-.4 1.6-.7 1.6 .7 1.6 .8 1.6 .8 1.7 .7 1.6 .8" stroke="#9fcce2"/><path d="M420.5 164.7l1.6 1.5 1.7 1.5 1.6 1.4 1.6 1.5 1.6 1.4 1.6 1.5 1.6 1.5 1.6 1.5 1.6 1.5 1.6 1.6 1.6 1.6 1.6 1.6 1.6 1.6 1.7 1.7 1.6 1.6 1.6 1.7 1.6 1.7 1.6 1.7 1.6 1.8 1.6 1.7 1.6 1.8 1.6 1.8 1.6 1.7 1.6 1.6 1.6 1.5 1.7 1.4 1.6 1.4 1.6 1.2 1.6 1.2 1.6 1.1 1.6 1.1 1.6 1.1 1.6 1.1 1.6 1.1 1.6 1 1.6 1 1.6 1 1.7 1 1.6 .9 1.6 .9 1.6 .9 1.6 .9 1.6 .8 1.6 .9 1.6 .8 1.6 .9 1.6 .8 1.6 .9 1.6 .8 1.7 .9 1.6 .9 1.6 1 1.6 .9 1.6 1 1.6 .9 1.6 1 1.6 1 1.6 .9 1.6 1 1.6 1 1.6 .9 1.7 1 1.6 .9 1.6 .9 1.6 .9 1.6 .8 1.6 .8 1.6 .8 1.6 .8 1.6 .7 1.6 .8 1.6 .7 1.6 .7 1.7 .5 1.6 .5 1.6 .3 1.6 .1 1.6 0 1.6-.2 1.6-.4 1.6-.5 1.6-.6 1.6-.7 1.6-.8 1.6-.8 1.7-.9 1.6-.8 1.6-.8 1.6-.8 1.6-.8 1.6-.7 1.6-.8 1.6-.7 1.6-.8 1.6-.7 1.6-.8 1.6-.8 1.7-.8 1.6-.9 1.6-1 1.6-1 1.6-1.1 1.6-1.2 1.6-1.3 1.6-1.5 1.6-1.5 1.6-1.5 1.6-1.7 1.6-1.6 1.7-1.8 1.6-1.7 1.6-1.8 1.6-1.8 1.6-1.9 1.6-1.9 1.6-2 1.6-2.1 1.6-2.1 1.6-2.1 1.6-2.3 1.6-2.3 1.7-2.5 1.6-2.6 1.6-2.6 1.6-2.9 1.6-3.4 1.6-3.3 1.6-4.2 1.6-5.7 1.6-4.4 1.6-1.6 1.6-3.5 1.6-3 1.7-3.5 1.6-5.1 1.6-5.8 1.6-4.3 1.6-2.7 1.6 .1 1.6 2.6 1.6 2.9 1.6 1.2 1.6 .8 1.6 .9 1.6 1.8 1.7 3 1.6 2.1 1.6 1 1.6-1.2 1.6-1.4 1.6-.8 1.6-.6 1.6-.5 1.6-.8 1.6 .7 1.6 .7 1.6 .8 1.7 .7 1.6 .7" stroke="#a7cfe4"/><path d="M420.5 164l1.6 1.5 1.7 1.5 1.6 1.4 1.6 1.5 1.6 1.4 1.6 1.5 1.6 1.5 1.6 1.5 1.6 1.6 1.6 1.6 1.6 1.6 1.6 1.6 1.6 1.7 1.7 1.6 1.6 1.7 1.6 1.7 1.6 1.7 1.6 1.7 1.6 1.8 1.6 1.8 1.6 1.8 1.6 1.7 1.6 1.8 1.6 1.6 1.6 1.6 1.7 1.4 1.6 1.3 1.6 1.3 1.6 1.2 1.6 1.1 1.6 1.1 1.6 1.1 1.6 1.1 1.6 1.1 1.6 1 1.6 1 1.6 1 1.7 1 1.6 .9 1.6 .9 1.6 .9 1.6 .9 1.6 .8 1.6 .9 1.6 .9 1.6 .8 1.6 .9 1.6 .8 1.6 .9 1.7 .9 1.6 .9 1.6 .9 1.6 1 1.6 .9 1.6 1 1.6 1 1.6 1 1.6 .9 1.6 1 1.6 1 1.6 .9 1.7 1 1.6 .9 1.6 .9 1.6 .9 1.6 .8 1.6 .9 1.6 .8 1.6 .7 1.6 .8 1.6 .8 1.6 .7 1.6 .7 1.7 .5 1.6 .5 1.6 .3 1.6 .2 1.6 0 1.6-.2 1.6-.4 1.6-.5 1.6-.6 1.6-.7 1.6-.8 1.6-.9 1.7-.8 1.6-.8 1.6-.8 1.6-.8 1.6-.8 1.6-.8 1.6-.8 1.6-.7 1.6-.8 1.6-.7 1.6-.8 1.6-.8 1.7-.9 1.6-.9 1.6-.9 1.6-1.1 1.6-1.1 1.6-1.2 1.6-1.3 1.6-1.4 1.6-1.6 1.6-1.5 1.6-1.7 1.6-1.7 1.7-1.7 1.6-1.7 1.6-1.8 1.6-1.9 1.6-1.9 1.6-1.9 1.6-2 1.6-2.1 1.6-2.1 1.6-2.2 1.6-2.2 1.6-2.4 1.7-2.6 1.6-2.5 1.6-2.7 1.6-3 1.6-3.4 1.6-3.4 1.6-4.1 1.6-5.8 1.6-4.3 1.6-1.4 1.6-3.2 1.6-2.7 1.7-3 1.6-4.7 1.6-5.5 1.6-3.9 1.6-2.5 1.6 .2 1.6 2.5 1.6 2.7 1.6 1 1.6 .7 1.6 .7 1.6 1.6 1.7 2.9 1.6 2.1 1.6 1 1.6-1.3 1.6-1.5 1.6-.9 1.6-.6 1.6-.6 1.6-1 1.6 .7 1.6 .7 1.6 .7 1.7 .6 1.6 .7" stroke="#aed3e6"/><path d="M420.5 163.2l1.6 1.6 1.7 1.4 1.6 1.5 1.6 1.4 1.6 1.5 1.6 1.5 1.6 1.5 1.6 1.6 1.6 1.5 1.6 1.6 1.6 1.7 1.6 1.6 1.6 1.7 1.7 1.6 1.6 1.7 1.6 1.7 1.6 1.8 1.6 1.7 1.6 1.8 1.6 1.8 1.6 1.8 1.6 1.8 1.6 1.8 1.6 1.6 1.6 1.6 1.7 1.4 1.6 1.4 1.6 1.2 1.6 1.2 1.6 1.2 1.6 1.1 1.6 1.1 1.6 1.1 1.6 1 1.6 1.1 1.6 1 1.6 1 1.7 .9 1.6 1 1.6 .9 1.6 .9 1.6 .9 1.6 .9 1.6 .8 1.6 .9 1.6 .8 1.6 .9 1.6 .9 1.6 .9 1.7 .9 1.6 .9 1.6 .9 1.6 1 1.6 .9 1.6 1 1.6 1 1.6 .9 1.6 1 1.6 1 1.6 1 1.6 .9 1.7 1 1.6 .9 1.6 .9 1.6 .9 1.6 .9 1.6 .8 1.6 .8 1.6 .8 1.6 .8 1.6 .7 1.6 .8 1.6 .6 1.7 .6 1.6 .5 1.6 .3 1.6 .2 1.6 0 1.6-.1 1.6-.4 1.6-.5 1.6-.6 1.6-.7 1.6-.8 1.6-.9 1.7-.8 1.6-.9 1.6-.8 1.6-.8 1.6-.8 1.6-.8 1.6-.8 1.6-.7 1.6-.8 1.6-.8 1.6-.7 1.6-.9 1.7-.8 1.6-.9 1.6-1 1.6-1 1.6-1.2 1.6-1.2 1.6-1.3 1.6-1.4 1.6-1.6 1.6-1.5 1.6-1.7 1.6-1.7 1.7-1.7 1.6-1.8 1.6-1.8 1.6-1.8 1.6-1.9 1.6-2 1.6-2 1.6-2.1 1.6-2.1 1.6-2.2 1.6-2.3 1.6-2.5 1.7-2.5 1.6-2.6 1.6-2.8 1.6-3 1.6-3.4 1.6-3.5 1.6-4.1 1.6-5.8 1.6-4.2 1.6-1.3 1.6-2.8 1.6-2.3 1.7-2.6 1.6-4.3 1.6-5.2 1.6-3.6 1.6-2.2 1.6 .3 1.6 2.3 1.6 2.6 1.6 .9 1.6 .5 1.6 .5 1.6 1.4 1.7 2.8 1.6 2.2 1.6 .9 1.6-1.4 1.6-1.6 1.6-1 1.6-.7 1.6-.7 1.6-1.1 1.6 .7 1.6 .6 1.6 .7 1.7 .6 1.6 .7" stroke="#b6d7e8"/><path d="M420.5 162.5l1.6 1.5 1.7 1.5 1.6 1.4 1.6 1.5 1.6 1.5 1.6 1.5 1.6 1.5 1.6 1.6 1.6 1.5 1.6 1.7 1.6 1.6 1.6 1.7 1.6 1.6 1.7 1.7 1.6 1.7 1.6 1.8 1.6 1.7 1.6 1.8 1.6 1.8 1.6 1.8 1.6 1.8 1.6 1.9 1.6 1.7 1.6 1.7 1.6 1.6 1.7 1.5 1.6 1.3 1.6 1.3 1.6 1.2 1.6 1.1 1.6 1.1 1.6 1.1 1.6 1.1 1.6 1.1 1.6 1 1.6 1.1 1.6 .9 1.7 1 1.6 1 1.6 .9 1.6 .9 1.6 .9 1.6 .9 1.6 .8 1.6 .9 1.6 .9 1.6 .8 1.6 .9 1.6 .9 1.7 .9 1.6 .9 1.6 1 1.6 .9 1.6 1 1.6 1 1.6 .9 1.6 1 1.6 1 1.6 1 1.6 1 1.6 .9 1.7 1 1.6 .9 1.6 .9 1.6 .9 1.6 .9 1.6 .8 1.6 .8 1.6 .8 1.6 .8 1.6 .8 1.6 .8 1.6 .6 1.7 .6 1.6 .5 1.6 .3 1.6 .2 1.6 .1 1.6-.1 1.6-.4 1.6-.4 1.6-.7 1.6-.7 1.6-.8 1.6-.9 1.7-.9 1.6-.8 1.6-.9 1.6-.8 1.6-.8 1.6-.8 1.6-.7 1.6-.8 1.6-.8 1.6-.8 1.6-.8 1.6-.8 1.7-.9 1.6-.9 1.6-.9 1.6-1.1 1.6-1.1 1.6-1.3 1.6-1.3 1.6-1.5 1.6-1.5 1.6-1.6 1.6-1.6 1.6-1.7 1.7-1.8 1.6-1.7 1.6-1.8 1.6-1.9 1.6-1.9 1.6-2 1.6-2 1.6-2.1 1.6-2.1 1.6-2.3 1.6-2.3 1.6-2.5 1.7-2.6 1.6-2.7 1.6-2.7 1.6-3.1 1.6-3.5 1.6-3.5 1.6-4.2 1.6-5.8 1.6-4 1.6-1.1 1.6-2.5 1.6-1.9 1.7-2.2 1.6-3.9 1.6-5 1.6-3.3 1.6-1.8 1.6 .3 1.6 2.2 1.6 2.4 1.6 .8 1.6 .4 1.6 .3 1.6 1.2 1.7 2.7 1.6 2.3 1.6 .9 1.6-1.6 1.6-1.7 1.6-1.1 1.6-.8 1.6-.7 1.6-1.2 1.6 .6 1.6 .6 1.6 .6 1.7 .6 1.6 .6" stroke="#bddbea"/><path d="M420.5 161.7l1.6 1.5 1.7 1.5 1.6 1.4 1.6 1.5 1.6 1.5 1.6 1.5 1.6 1.5 1.6 1.6 1.6 1.6 1.6 1.7 1.6 1.6 1.6 1.7 1.6 1.7 1.7 1.7 1.6 1.7 1.6 1.7 1.6 1.8 1.6 1.8 1.6 1.8 1.6 1.9 1.6 1.8 1.6 1.9 1.6 1.8 1.6 1.7 1.6 1.6 1.7 1.5 1.6 1.3 1.6 1.3 1.6 1.2 1.6 1.1 1.6 1.2 1.6 1.1 1.6 1.1 1.6 1 1.6 1.1 1.6 1 1.6 1 1.7 1 1.6 .9 1.6 1 1.6 .9 1.6 .9 1.6 .9 1.6 .8 1.6 .9 1.6 .9 1.6 .9 1.6 .8 1.6 .9 1.7 .9 1.6 1 1.6 .9 1.6 1 1.6 .9 1.6 1 1.6 1 1.6 1 1.6 1 1.6 1 1.6 .9 1.6 1 1.7 1 1.6 .9 1.6 .9 1.6 .9 1.6 .9 1.6 .8 1.6 .9 1.6 .8 1.6 .8 1.6 .8 1.6 .7 1.6 .7 1.7 .6 1.6 .5 1.6 .4 1.6 .2 1.6 0 1.6-.1 1.6-.3 1.6-.4 1.6-.7 1.6-.7 1.6-.8 1.6-.9 1.7-.9 1.6-.9 1.6-.8 1.6-.9 1.6-.8 1.6-.8 1.6-.7 1.6-.8 1.6-.8 1.6-.8 1.6-.8 1.6-.8 1.7-.9 1.6-.9 1.6-1 1.6-1.1 1.6-1.1 1.6-1.3 1.6-1.3 1.6-1.5 1.6-1.5 1.6-1.6 1.6-1.7 1.6-1.7 1.7-1.7 1.6-1.8 1.6-1.8 1.6-1.9 1.6-1.9 1.6-2 1.6-2 1.6-2.1 1.6-2.2 1.6-2.2 1.6-2.4 1.6-2.5 1.7-2.7 1.6-2.7 1.6-2.8 1.6-3.1 1.6-3.6 1.6-3.5 1.6-4.2 1.6-5.8 1.6-3.9 1.6-1 1.6-2.1 1.6-1.5 1.7-1.8 1.6-3.5 1.6-4.7 1.6-3 1.6-1.6 1.6 .4 1.6 2 1.6 2.3 1.6 .7 1.6 .2 1.6 .1 1.6 1 1.7 2.6 1.6 2.4 1.6 .9 1.6-1.7 1.6-1.8 1.6-1.2 1.6-.8 1.6-.8 1.6-1.3 1.6 .5 1.6 .6 1.6 .5 1.7 .6 1.6 .6" stroke="#c5dfec"/><path d="M420.5 160.8l1.6 1.5 1.7 1.5 1.6 1.5 1.6 1.5 1.6 1.5 1.6 1.5 1.6 1.5 1.6 1.6 1.6 1.7 1.6 1.6 1.6 1.7 1.6 1.7 1.6 1.7 1.7 1.7 1.6 1.7 1.6 1.8 1.6 1.8 1.6 1.8 1.6 1.8 1.6 1.9 1.6 1.9 1.6 1.9 1.6 1.8 1.6 1.7 1.6 1.7 1.7 1.5 1.6 1.3 1.6 1.3 1.6 1.2 1.6 1.1 1.6 1.2 1.6 1.1 1.6 1.1 1.6 1.1 1.6 1 1.6 1 1.6 1 1.7 1 1.6 1 1.6 .9 1.6 .9 1.6 .9 1.6 .9 1.6 .9 1.6 .9 1.6 .9 1.6 .9 1.6 .8 1.6 1 1.7 .9 1.6 .9 1.6 1 1.6 .9 1.6 1 1.6 1 1.6 1 1.6 .9 1.6 1 1.6 1 1.6 1 1.6 1 1.7 .9 1.6 1 1.6 .9 1.6 .9 1.6 .9 1.6 .9 1.6 .8 1.6 .8 1.6 .8 1.6 .8 1.6 .8 1.6 .7 1.7 .6 1.6 .5 1.6 .4 1.6 .2 1.6 .1 1.6-.1 1.6-.3 1.6-.4 1.6-.7 1.6-.7 1.6-.8 1.6-.9 1.7-.9 1.6-.9 1.6-.9 1.6-.8 1.6-.9 1.6-.8 1.6-.8 1.6-.7 1.6-.8 1.6-.8 1.6-.8 1.6-.9 1.7-.9 1.6-.9 1.6-1 1.6-1.1 1.6-1.1 1.6-1.3 1.6-1.4 1.6-1.4 1.6-1.5 1.6-1.7 1.6-1.6 1.6-1.7 1.7-1.8 1.6-1.8 1.6-1.8 1.6-1.9 1.6-1.9 1.6-2 1.6-2 1.6-2.1 1.6-2.2 1.6-2.3 1.6-2.5 1.6-2.5 1.7-2.7 1.6-2.8 1.6-2.8 1.6-3.2 1.6-3.7 1.6-3.5 1.6-4.2 1.6-5.8 1.6-3.7 1.6-.8 1.6-1.8 1.6-1.2 1.7-1.3 1.6-3.2 1.6-4.4 1.6-2.7 1.6-1.3 1.6 .4 1.6 1.9 1.6 2 1.6 .7 1.6 0 1.6 0 1.6 .9 1.7 2.4 1.6 2.6 1.6 .8 1.6-1.8 1.6-1.9 1.6-1.3 1.6-.9 1.6-.8 1.6-1.4 1.6 .5 1.6 .5 1.6 .5 1.7 .5 1.6 .5" stroke="#cce3ef"/><path d="M420.5 159.9l1.6 1.6 1.7 1.5 1.6 1.4 1.6 1.5 1.6 1.5 1.6 1.5 1.6 1.6 1.6 1.6 1.6 1.7 1.6 1.6 1.6 1.7 1.6 1.7 1.6 1.8 1.7 1.7 1.6 1.8 1.6 1.7 1.6 1.8 1.6 1.9 1.6 1.8 1.6 1.9 1.6 2 1.6 1.9 1.6 1.8 1.6 1.8 1.6 1.6 1.7 1.5 1.6 1.4 1.6 1.3 1.6 1.2 1.6 1.1 1.6 1.2 1.6 1.1 1.6 1.1 1.6 1.1 1.6 1 1.6 1 1.6 1.1 1.7 .9 1.6 1 1.6 .9 1.6 1 1.6 .9 1.6 .9 1.6 .9 1.6 .9 1.6 .9 1.6 .8 1.6 .9 1.6 1 1.7 .9 1.6 .9 1.6 1 1.6 .9 1.6 1 1.6 1 1.6 1 1.6 1 1.6 1 1.6 1 1.6 .9 1.6 1 1.7 1 1.6 .9 1.6 1 1.6 .9 1.6 .9 1.6 .9 1.6 .8 1.6 .9 1.6 .8 1.6 .8 1.6 .7 1.6 .8 1.7 .6 1.6 .5 1.6 .4 1.6 .2 1.6 .2 1.6-.1 1.6-.3 1.6-.4 1.6-.6 1.6-.8 1.6-.9 1.6-.9 1.7-.9 1.6-.9 1.6-.9 1.6-.8 1.6-.8 1.6-.9 1.6-.8 1.6-.8 1.6-.8 1.6-.8 1.6-.8 1.6-.8 1.7-.9 1.6-1 1.6-1 1.6-1.1 1.6-1.1 1.6-1.3 1.6-1.4 1.6-1.5 1.6-1.5 1.6-1.6 1.6-1.7 1.6-1.7 1.7-1.8 1.6-1.8 1.6-1.8 1.6-1.9 1.6-1.9 1.6-2 1.6-2.1 1.6-2.1 1.6-2.2 1.6-2.3 1.6-2.5 1.6-2.6 1.7-2.8 1.6-2.8 1.6-2.9 1.6-3.2 1.6-3.7 1.6-3.6 1.6-4.3 1.6-5.7 1.6-3.6 1.6-.6 1.6-1.4 1.6-.8 1.7-.9 1.6-2.8 1.6-4.2 1.6-2.5 1.6-1 1.6 .5 1.6 1.7 1.6 1.9 1.6 .5 1.6 0 1.6-.2 1.6 .7 1.7 2.4 1.6 2.6 1.6 .8 1.6-1.9 1.6-2 1.6-1.3 1.6-1 1.6-.9 1.6-1.4 1.6 .4 1.6 .4 1.6 .5 1.7 .4 1.6 .5" stroke="#d3e6f0"/><path d="M420.5 159l1.6 1.5 1.7 1.5 1.6 1.5 1.6 1.5 1.6 1.5 1.6 1.5 1.6 1.6 1.6 1.6 1.6 1.7 1.6 1.7 1.6 1.7 1.6 1.7 1.6 1.8 1.7 1.7 1.6 1.8 1.6 1.8 1.6 1.8 1.6 1.9 1.6 1.9 1.6 1.9 1.6 2 1.6 1.9 1.6 1.9 1.6 1.8 1.6 1.6 1.7 1.5 1.6 1.4 1.6 1.3 1.6 1.2 1.6 1.2 1.6 1.1 1.6 1.2 1.6 1.1 1.6 1.1 1.6 1 1.6 1 1.6 1 1.7 1 1.6 1 1.6 1 1.6 .9 1.6 .9 1.6 .9 1.6 .9 1.6 .9 1.6 .9 1.6 .9 1.6 .9 1.6 .9 1.7 1 1.6 .9 1.6 1 1.6 .9 1.6 1 1.6 1 1.6 1 1.6 1 1.6 1 1.6 1 1.6 1 1.6 1 1.7 .9 1.6 1 1.6 .9 1.6 1 1.6 .9 1.6 .8 1.6 .9 1.6 .9 1.6 .8 1.6 .8 1.6 .8 1.6 .7 1.7 .6 1.6 .6 1.6 .4 1.6 .3 1.6 .1 1.6 0 1.6-.3 1.6-.4 1.6-.6 1.6-.8 1.6-.9 1.6-.9 1.7-.9 1.6-.9 1.6-.9 1.6-.9 1.6-.8 1.6-.9 1.6-.8 1.6-.8 1.6-.8 1.6-.8 1.6-.8 1.6-.9 1.7-.9 1.6-1 1.6-1 1.6-1.1 1.6-1.2 1.6-1.3 1.6-1.3 1.6-1.5 1.6-1.6 1.6-1.6 1.6-1.7 1.6-1.7 1.7-1.8 1.6-1.8 1.6-1.8 1.6-1.9 1.6-2 1.6-2 1.6-2 1.6-2.2 1.6-2.2 1.6-2.4 1.6-2.5 1.6-2.7 1.7-2.8 1.6-2.8 1.6-3 1.6-3.3 1.6-3.8 1.6-3.6 1.6-4.3 1.6-5.7 1.6-3.3 1.6-.5 1.6-1.1 1.6-.3 1.7-.5 1.6-2.5 1.6-3.9 1.6-2.2 1.6-.9 1.6 .6 1.6 1.5 1.6 1.7 1.6 .5 1.6-.2 1.6-.2 1.6 .4 1.7 2.4 1.6 2.8 1.6 .7 1.6-2 1.6-2.1 1.6-1.4 1.6-.9 1.6-1 1.6-1.6 1.6 .4 1.6 .4 1.6 .4 1.7 .4 1.6 .4" stroke="#d7e8f1"/><path d="M420.5 158l1.6 1.5 1.7 1.5 1.6 1.5 1.6 1.5 1.6 1.5 1.6 1.5 1.6 1.6 1.6 1.7 1.6 1.7 1.6 1.7 1.6 1.7 1.6 1.8 1.6 1.7 1.7 1.8 1.6 1.8 1.6 1.9 1.6 1.8 1.6 1.9 1.6 1.9 1.6 1.9 1.6 2 1.6 2 1.6 1.9 1.6 1.8 1.6 1.7 1.7 1.5 1.6 1.4 1.6 1.3 1.6 1.3 1.6 1.1 1.6 1.2 1.6 1.1 1.6 1.1 1.6 1.1 1.6 1.1 1.6 1 1.6 1 1.7 1 1.6 1 1.6 .9 1.6 1 1.6 .9 1.6 .9 1.6 .9 1.6 .9 1.6 .9 1.6 1 1.6 .9 1.6 .9 1.7 .9 1.6 1 1.6 1 1.6 .9 1.6 1 1.6 1 1.6 1 1.6 1 1.6 1 1.6 1 1.6 1 1.6 1 1.7 1 1.6 .9 1.6 1 1.6 .9 1.6 .9 1.6 .9 1.6 .9 1.6 .9 1.6 .8 1.6 .9 1.6 .7 1.6 .8 1.7 .6 1.6 .5 1.6 .5 1.6 .3 1.6 .2 1.6-.1 1.6-.2 1.6-.4 1.6-.6 1.6-.8 1.6-.9 1.6-.9 1.7-1 1.6-.9 1.6-.9 1.6-.9 1.6-.9 1.6-.8 1.6-.8 1.6-.8 1.6-.8 1.6-.9 1.6-.8 1.6-.9 1.7-.9 1.6-1 1.6-1 1.6-1.1 1.6-1.2 1.6-1.3 1.6-1.4 1.6-1.5 1.6-1.6 1.6-1.6 1.6-1.7 1.6-1.7 1.7-1.8 1.6-1.8 1.6-1.9 1.6-1.9 1.6-1.9 1.6-2.1 1.6-2 1.6-2.2 1.6-2.3 1.6-2.4 1.6-2.5 1.6-2.7 1.7-2.9 1.6-2.9 1.6-3.1 1.6-3.3 1.6-3.9 1.6-3.7 1.6-4.2 1.6-5.7 1.6-3.1 1.6-.3 1.6-.7 1.6 .1 1.7-.1 1.6-2.2 1.6-3.6 1.6-2 1.6-.7 1.6 .6 1.6 1.4 1.6 1.5 1.6 .4 1.6-.2 1.6-.4 1.6 .3 1.7 2.3 1.6 2.9 1.6 .8 1.6-2.1 1.6-2.2 1.6-1.5 1.6-1 1.6-1.1 1.6-1.5 1.6 .3 1.6 .3 1.6 .3 1.7 .4 1.6 .3" stroke="#dceaf2"/><path d="M420.5 156.9l1.6 1.5 1.7 1.5 1.6 1.5 1.6 1.5 1.6 1.5 1.6 1.6 1.6 1.6 1.6 1.7 1.6 1.7 1.6 1.7 1.6 1.8 1.6 1.8 1.6 1.7 1.7 1.8 1.6 1.9 1.6 1.8 1.6 1.9 1.6 1.9 1.6 1.9 1.6 2 1.6 2 1.6 2 1.6 2 1.6 1.8 1.6 1.8 1.7 1.5 1.6 1.4 1.6 1.3 1.6 1.2 1.6 1.2 1.6 1.2 1.6 1.1 1.6 1.1 1.6 1.1 1.6 1.1 1.6 1 1.6 1 1.7 1 1.6 1 1.6 1 1.6 .9 1.6 1 1.6 .9 1.6 .9 1.6 .9 1.6 .9 1.6 1 1.6 .9 1.6 .9 1.7 1 1.6 .9 1.6 1 1.6 1 1.6 1 1.6 1 1.6 1 1.6 1 1.6 1 1.6 1 1.6 1 1.6 1 1.7 1 1.6 .9 1.6 1 1.6 .9 1.6 1 1.6 .9 1.6 .9 1.6 .9 1.6 .8 1.6 .9 1.6 .8 1.6 .7 1.7 .6 1.6 .6 1.6 .4 1.6 .4 1.6 .2 1.6 0 1.6-.2 1.6-.4 1.6-.6 1.6-.8 1.6-.9 1.6-.9 1.7-1 1.6-1 1.6-.9 1.6-.9 1.6-.9 1.6-.8 1.6-.8 1.6-.9 1.6-.8 1.6-.8 1.6-.9 1.6-.9 1.7-.9 1.6-1 1.6-1 1.6-1.2 1.6-1.2 1.6-1.3 1.6-1.4 1.6-1.5 1.6-1.6 1.6-1.6 1.6-1.7 1.6-1.8 1.7-1.8 1.6-1.8 1.6-1.9 1.6-1.9 1.6-1.9 1.6-2.1 1.6-2.1 1.6-2.2 1.6-2.3 1.6-2.4 1.6-2.6 1.6-2.8 1.7-2.9 1.6-3 1.6-3.1 1.6-3.4 1.6-3.9 1.6-3.8 1.6-4.2 1.6-5.6 1.6-2.9 1.6-.1 1.6-.3 1.6 .5 1.7 .3 1.6-1.9 1.6-3.4 1.6-1.8 1.6-.5 1.6 .6 1.6 1.2 1.6 1.4 1.6 .3 1.6-.3 1.6-.5 1.6 .2 1.7 2.3 1.6 3 1.6 .8 1.6-2.2 1.6-2.3 1.6-1.4 1.6-1.1 1.6-1.1 1.6-1.7 1.6 .3 1.6 .2 1.6 .3 1.7 .3 1.6 .3" stroke="#e0ecf3"/><path d="M420.5 155.6l1.6 1.6 1.7 1.5 1.6 1.5 1.6 1.5 1.6 1.5 1.6 1.6 1.6 1.6 1.6 1.7 1.6 1.8 1.6 1.7 1.6 1.8 1.6 1.8 1.6 1.8 1.7 1.9 1.6 1.8 1.6 1.9 1.6 1.9 1.6 1.9 1.6 2 1.6 2 1.6 2.1 1.6 2 1.6 2 1.6 1.9 1.6 1.7 1.7 1.6 1.6 1.4 1.6 1.3 1.6 1.3 1.6 1.1 1.6 1.2 1.6 1.1 1.6 1.2 1.6 1.1 1.6 1 1.6 1.1 1.6 1 1.7 1 1.6 1 1.6 1 1.6 .9 1.6 1 1.6 .9 1.6 .9 1.6 1 1.6 .9 1.6 .9 1.6 1 1.6 .9 1.7 1 1.6 .9 1.6 1 1.6 1 1.6 1 1.6 1 1.6 1 1.6 1 1.6 1 1.6 1 1.6 1 1.6 1 1.7 1 1.6 1 1.6 1 1.6 .9 1.6 1 1.6 .9 1.6 .9 1.6 .9 1.6 .9 1.6 .9 1.6 .8 1.6 .7 1.7 .7 1.6 .5 1.6 .5 1.6 .4 1.6 .2 1.6 .1 1.6-.2 1.6-.4 1.6-.6 1.6-.8 1.6-.9 1.6-1 1.7-1 1.6-.9 1.6-1 1.6-.9 1.6-.9 1.6-.9 1.6-.8 1.6-.8 1.6-.9 1.6-.8 1.6-.9 1.6-.9 1.7-.9 1.6-1 1.6-1.1 1.6-1.1 1.6-1.3 1.6-1.3 1.6-1.4 1.6-1.5 1.6-1.6 1.6-1.7 1.6-1.7 1.6-1.7 1.7-1.8 1.6-1.9 1.6-1.9 1.6-1.9 1.6-2 1.6-2 1.6-2.2 1.6-2.2 1.6-2.3 1.6-2.5 1.6-2.6 1.6-2.9 1.7-2.9 1.6-3.1 1.6-3.2 1.6-3.5 1.6-4 1.6-3.8 1.6-4.3 1.6-5.4 1.6-2.7 1.6 .2 1.6 .1 1.6 .9 1.7 .7 1.6-1.6 1.6-3.2 1.6-1.6 1.6-.3 1.6 .5 1.6 1.1 1.6 1.2 1.6 .3 1.6-.4 1.6-.6 1.6 .1 1.7 2.2 1.6 3.2 1.6 .8 1.6-2.2 1.6-2.4 1.6-1.5 1.6-1.1 1.6-1.1 1.6-1.7 1.6 .1 1.6 .2 1.6 .2 1.7 .2 1.6 .3" stroke="#e5eef4"/><path d="M420.5 154.2l1.6 1.6 1.7 1.5 1.6 1.5 1.6 1.5 1.6 1.5 1.6 1.7 1.6 1.6 1.6 1.7 1.6 1.8 1.6 1.8 1.6 1.8 1.6 1.9 1.6 1.8 1.7 1.9 1.6 1.8 1.6 2 1.6 1.9 1.6 1.9 1.6 2.1 1.6 2 1.6 2.1 1.6 2.1 1.6 2 1.6 2 1.6 1.7 1.7 1.6 1.6 1.5 1.6 1.3 1.6 1.2 1.6 1.2 1.6 1.2 1.6 1.1 1.6 1.1 1.6 1.1 1.6 1.1 1.6 1.1 1.6 1 1.7 1 1.6 1 1.6 1 1.6 1 1.6 .9 1.6 1 1.6 .9 1.6 1 1.6 .9 1.6 .9 1.6 1 1.6 1 1.7 .9 1.6 1 1.6 1 1.6 1 1.6 1 1.6 1 1.6 1 1.6 1 1.6 1 1.6 1 1.6 1 1.6 1.1 1.7 1 1.6 .9 1.6 1 1.6 1 1.6 .9 1.6 1 1.6 .9 1.6 .9 1.6 .9 1.6 .9 1.6 .8 1.6 .8 1.7 .7 1.6 .6 1.6 .5 1.6 .4 1.6 .3 1.6 .1 1.6-.2 1.6-.4 1.6-.6 1.6-.8 1.6-.9 1.6-1 1.7-1 1.6-1 1.6-1 1.6-.9 1.6-.9 1.6-.9 1.6-.9 1.6-.8 1.6-.9 1.6-.8 1.6-.9 1.6-.9 1.7-1 1.6-1 1.6-1.1 1.6-1.2 1.6-1.2 1.6-1.4 1.6-1.4 1.6-1.5 1.6-1.6 1.6-1.7 1.6-1.7 1.6-1.8 1.7-1.8 1.6-1.8 1.6-1.9 1.6-2 1.6-2 1.6-2.1 1.6-2.1 1.6-2.2 1.6-2.4 1.6-2.5 1.6-2.7 1.6-2.9 1.7-3.1 1.6-3.2 1.6-3.2 1.6-3.6 1.6-4.2 1.6-3.8 1.6-4.3 1.6-5.2 1.6-2.4 1.6 .4 1.6 .5 1.6 1.3 1.7 1.1 1.6-1.2 1.6-3 1.6-1.5 1.6-.2 1.6 .5 1.6 .9 1.6 1.1 1.6 .3 1.6-.4 1.6-.7 1.6 0 1.7 2.1 1.6 3.4 1.6 .8 1.6-2.3 1.6-2.4 1.6-1.5 1.6-1.1 1.6-1.2 1.6-1.7 1.6 .1 1.6 .1 1.6 .1 1.7 .1 1.6 .2" stroke="#e9f1f4"/><path d="M420.5 152.6l1.6 1.5 1.7 1.5 1.6 1.5 1.6 1.6 1.6 1.5 1.6 1.7 1.6 1.7 1.6 1.7 1.6 1.8 1.6 1.9 1.6 1.8 1.6 1.9 1.6 1.9 1.7 1.9 1.6 1.9 1.6 1.9 1.6 2 1.6 2 1.6 2 1.6 2.1 1.6 2.2 1.6 2.1 1.6 2.1 1.6 2 1.6 1.8 1.7 1.6 1.6 1.5 1.6 1.3 1.6 1.2 1.6 1.2 1.6 1.2 1.6 1.2 1.6 1.1 1.6 1.1 1.6 1.1 1.6 1.1 1.6 1 1.7 1 1.6 1 1.6 1 1.6 1 1.6 1 1.6 .9 1.6 1 1.6 1 1.6 .9 1.6 1 1.6 .9 1.6 1 1.7 1 1.6 1 1.6 1 1.6 1 1.6 1 1.6 1 1.6 1 1.6 1 1.6 1 1.6 1.1 1.6 1 1.6 1 1.7 1 1.6 1 1.6 1 1.6 1 1.6 1 1.6 .9 1.6 1 1.6 .9 1.6 .9 1.6 .9 1.6 .9 1.6 .8 1.7 .6 1.6 .7 1.6 .5 1.6 .5 1.6 .3 1.6 .1 1.6-.1 1.6-.4 1.6-.6 1.6-.8 1.6-.9 1.6-1.1 1.7-1 1.6-1 1.6-1 1.6-1 1.6-.9 1.6-.9 1.6-.9 1.6-.8 1.6-.9 1.6-.9 1.6-.9 1.6-.9 1.7-1 1.6-1 1.6-1.1 1.6-1.2 1.6-1.3 1.6-1.4 1.6-1.4 1.6-1.6 1.6-1.6 1.6-1.7 1.6-1.7 1.6-1.8 1.7-1.8 1.6-1.9 1.6-1.9 1.6-2 1.6-2 1.6-2.1 1.6-2.1 1.6-2.3 1.6-2.4 1.6-2.6 1.6-2.8 1.6-3 1.7-3.1 1.6-3.3 1.6-3.3 1.6-3.7 1.6-4.3 1.6-3.9 1.6-4.3 1.6-4.9 1.6-2.1 1.6 .7 1.6 1 1.6 1.7 1.7 1.5 1.6-1 1.6-2.8 1.6-1.4 1.6-.1 1.6 .5 1.6 .7 1.6 .9 1.6 .3 1.6-.4 1.6-.8 1.6 0 1.7 2.1 1.6 3.5 1.6 .9 1.6-2.3 1.6-2.4 1.6-1.6 1.6-1.1 1.6-1.1 1.6-1.7 1.6 0 1.6 0 1.6 0 1.7 0 1.6 .1" stroke="#eef3f5"/><path d="M420.5 150.4l1.6 1.6 1.7 1.5 1.6 1.5 1.6 1.5 1.6 1.6 1.6 1.7 1.6 1.7 1.6 1.8 1.6 1.9 1.6 1.9 1.6 1.9 1.6 1.9 1.6 1.9 1.7 1.9 1.6 2 1.6 2 1.6 2 1.6 2.1 1.6 2.1 1.6 2.1 1.6 2.2 1.6 2.3 1.6 2.1 1.6 2 1.6 1.9 1.7 1.7 1.6 1.4 1.6 1.4 1.6 1.2 1.6 1.2 1.6 1.2 1.6 1.2 1.6 1.1 1.6 1.2 1.6 1.1 1.6 1 1.6 1.1 1.7 1 1.6 1 1.6 1 1.6 1 1.6 1 1.6 1 1.6 1 1.6 1 1.6 .9 1.6 1 1.6 1 1.6 1 1.7 1 1.6 1 1.6 1 1.6 1 1.6 1 1.6 1 1.6 1.1 1.6 1 1.6 1 1.6 1.1 1.6 1 1.6 1 1.7 1 1.6 1 1.6 1 1.6 1 1.6 1.1 1.6 .9 1.6 1 1.6 1 1.6 1 1.6 .9 1.6 .8 1.6 .8 1.7 .7 1.6 .7 1.6 .6 1.6 .5 1.6 .4 1.6 .2 1.6-.1 1.6-.4 1.6-.6 1.6-.8 1.6-1 1.6-1 1.7-1.1 1.6-1.1 1.6-1 1.6-1 1.6-.9 1.6-1 1.6-.8 1.6-.9 1.6-.9 1.6-.9 1.6-1 1.6-.9 1.7-1 1.6-1.1 1.6-1.1 1.6-1.2 1.6-1.3 1.6-1.4 1.6-1.5 1.6-1.6 1.6-1.6 1.6-1.7 1.6-1.7 1.6-1.9 1.7-1.8 1.6-1.9 1.6-1.9 1.6-2 1.6-2.1 1.6-2.1 1.6-2.2 1.6-2.3 1.6-2.4 1.6-2.7 1.6-2.9 1.6-3.1 1.7-3.3 1.6-3.4 1.6-3.4 1.6-3.8 1.6-4.5 1.6-4 1.6-4.2 1.6-4.5 1.6-1.6 1.6 1.1 1.6 1.5 1.6 2.1 1.7 1.9 1.6-.8 1.6-2.7 1.6-1.3 1.6 0 1.6 .4 1.6 .5 1.6 .8 1.6 .3 1.6-.4 1.6-.8 1.6-.1 1.7 2.2 1.6 3.6 1.6 1 1.6-2.3 1.6-2.4 1.6-1.5 1.6-1.1 1.6-1 1.6-1.5 1.6-.2 1.6-.2 1.6-.1 1.7-.1 1.6 0" stroke="#f2f5f6"/><path d="M420.5 145.2l1.6 1.6 1.7 1.5 1.6 1.6 1.6 1.5 1.6 1.7 1.6 1.7 1.6 1.8 1.6 1.9 1.6 2 1.6 2 1.6 2 1.6 2 1.6 2.1 1.7 2 1.6 2.1 1.6 2.1 1.6 2.1 1.6 2.2 1.6 2.2 1.6 2.3 1.6 2.4 1.6 2.4 1.6 2.3 1.6 2.2 1.6 2 1.7 1.7 1.6 1.6 1.6 1.3 1.6 1.3 1.6 1.2 1.6 1.2 1.6 1.2 1.6 1.2 1.6 1.1 1.6 1.2 1.6 1.1 1.6 1 1.7 1.1 1.6 1.1 1.6 1 1.6 1 1.6 1.1 1.6 1 1.6 1 1.6 1 1.6 1.1 1.6 1 1.6 1 1.6 1 1.7 1.1 1.6 1 1.6 1.1 1.6 1 1.6 1 1.6 1.1 1.6 1 1.6 1.1 1.6 1 1.6 1.1 1.6 1 1.6 1.1 1.7 1 1.6 1.1 1.6 1 1.6 1.1 1.6 1 1.6 1.1 1.6 1.1 1.6 1 1.6 1 1.6 1 1.6 .9 1.6 .8 1.7 .8 1.6 .7 1.6 .7 1.6 .7 1.6 .5 1.6 .3 1.6 .1 1.6-.3 1.6-.6 1.6-.9 1.6-1 1.6-1.2 1.7-1.1 1.6-1.2 1.6-1.1 1.6-1.1 1.6-1 1.6-.9 1.6-1 1.6-.9 1.6-1 1.6-.9 1.6-1 1.6-1 1.7-1.1 1.6-1.1 1.6-1.2 1.6-1.3 1.6-1.4 1.6-1.4 1.6-1.6 1.6-1.6 1.6-1.7 1.6-1.7 1.6-1.8 1.6-1.9 1.7-1.9 1.6-1.9 1.6-2 1.6-2 1.6-2.2 1.6-2.1 1.6-2.3 1.6-2.4 1.6-2.6 1.6-2.8 1.6-3.1 1.6-3.4 1.7-3.6 1.6-3.7 1.6-3.7 1.6-4.2 1.6-4.9 1.6-4.2 1.6-3.8 1.6-2.7 1.6-.4 1.6 1.7 1.6 2.1 1.6 2.6 1.7 2.2 1.6-.6 1.6-2.7 1.6-1.2 1.6-.1 1.6 .3 1.6 .4 1.6 .6 1.6 .4 1.6-.4 1.6-.7 1.6-.1 1.7 2.2 1.6 3.9 1.6 1 1.6-2.2 1.6-2.2 1.6-1.4 1.6-.7 1.6-.5 1.6-.6 1.6-.5 1.6-.4 1.6-.5 1.7-.4 1.6-.3" stroke="#f7f7f7"/><path d="M420.5 140.4l1.6 1.5 1.7 1.4 1.6 1.5 1.6 1.6 1.6 1.5 1.6 1.5 1.6 1.6 1.6 1.6 1.6 1.7 1.6 1.8 1.6 1.9 1.6 2 1.6 1.9 1.7 2 1.6 2.1 1.6 2 1.6 2.1 1.6 2 1.6 2.1 1.6 2.1 1.6 2.2 1.6 2.2 1.6 2.3 1.6 2.4 1.6 2.4 1.7 2.3 1.6 2.2 1.6 2.1 1.6 1.8 1.6 1.6 1.6 1.4 1.6 1.3 1.6 1.2 1.6 1.2 1.6 1.2 1.6 1.2 1.6 1.1 1.7 1.2 1.6 1.1 1.6 1 1.6 1.1 1.6 1.1 1.6 1 1.6 1.1 1.6 1 1.6 1 1.6 1 1.6 1.1 1.6 1 1.7 1 1.6 1 1.6 1.1 1.6 1 1.6 1 1.6 1.1 1.6 1 1.6 1.1 1.6 1 1.6 1 1.6 1.1 1.6 1 1.7 1.1 1.6 1 1.6 1.1 1.6 1 1.6 1.1 1.6 1 1.6 1.1 1.6 1 1.6 1.1 1.6 1.1 1.6 1 1.6 1 1.7 1 1.6 1 1.6 .8 1.6 .8 1.6 .7 1.6 .7 1.6 .7 1.6 .6 1.6 .4 1.6 .1 1.6-.2 1.6-.5 1.7-.8 1.6-1 1.6-1.1 1.6-1.2 1.6-1.2 1.6-1.1 1.6-1.1 1.6-1 1.6-1 1.6-.9 1.6-1 1.6-.9 1.7-1 1.6-.9 1.6-1.1 1.6-1 1.6-1.1 1.6-1.2 1.6-1.2 1.6-1.4 1.6-1.4 1.6-1.5 1.6-1.6 1.6-1.7 1.7-1.7 1.6-1.8 1.6-1.9 1.6-1.8 1.6-2 1.6-2 1.6-2 1.6-2.1 1.6-2.1 1.6-2.3 1.6-2.3 1.6-2.6 1.7-2.7 1.6-2.8 1.6-3.3 1.6-3.7 1.6-3.8 1.6-3.7 1.6-4 1.6-4.7 1.6-4.6 1.6-3.8 1.6-3.1 1.6-1.2 1.7 1.3 1.6 2.2 1.6 2.4 1.6 2.5 1.6 .3 1.6-2.5 1.6-1.8 1.6-.2 1.6 .2 1.6 .4 1.6 .6 1.6 .5 1.7-.2 1.6-.7 1.6-.5 1.6 1.5 1.6 3.4 1.6 2.7 1.6-1.8 1.6-2.4 1.6-1.6 1.6-.8 1.6-.6 1.6-.5 1.7-.5 1.6-.5" stroke="#fce1d2"/><path d="M420.5 140.7l1.6 1.5 1.7 1.5 1.6 1.6 1.6 1.5 1.6 1.5 1.6 1.6 1.6 1.5 1.6 1.7 1.6 1.7 1.6 1.8 1.6 1.9 1.6 2 1.6 2 1.7 2 1.6 2 1.6 2.1 1.6 2 1.6 2.1 1.6 2.1 1.6 2.1 1.6 2.2 1.6 2.2 1.6 2.3 1.6 2.4 1.6 2.4 1.7 2.3 1.6 2.2 1.6 2 1.6 1.7 1.6 1.6 1.6 1.3 1.6 1.3 1.6 1.2 1.6 1.2 1.6 1.2 1.6 1.2 1.6 1.2 1.7 1.1 1.6 1.1 1.6 1 1.6 1.1 1.6 1.1 1.6 1 1.6 1 1.6 1.1 1.6 1 1.6 1 1.6 1 1.6 1.1 1.7 1 1.6 1 1.6 1 1.6 1.1 1.6 1 1.6 1.1 1.6 1 1.6 1 1.6 1.1 1.6 1 1.6 1.1 1.6 1 1.7 1.1 1.6 1 1.6 1.1 1.6 1 1.6 1.1 1.6 1 1.6 1.1 1.6 1 1.6 1.1 1.6 1.1 1.6 1 1.6 1 1.7 1 1.6 .9 1.6 .8 1.6 .8 1.6 .7 1.6 .7 1.6 .7 1.6 .5 1.6 .3 1.6 .1 1.6-.3 1.6-.6 1.7-.9 1.6-1 1.6-1.2 1.6-1.1 1.6-1.2 1.6-1.1 1.6-1.1 1.6-1 1.6-.9 1.6-1 1.6-.9 1.6-1 1.7-.9 1.6-1 1.6-1 1.6-1.1 1.6-1.1 1.6-1.2 1.6-1.3 1.6-1.4 1.6-1.4 1.6-1.6 1.6-1.6 1.6-1.7 1.7-1.7 1.6-1.8 1.6-1.9 1.6-1.9 1.6-1.9 1.6-2 1.6-2.1 1.6-2.1 1.6-2.1 1.6-2.3 1.6-2.4 1.6-2.6 1.7-2.9 1.6-2.8 1.6-3.4 1.6-3.7 1.6-3.8 1.6-3.7 1.6-4.2 1.6-4.9 1.6-4.2 1.6-3.8 1.6-2.7 1.6-.4 1.7 1.7 1.6 2.1 1.6 2.6 1.6 2.2 1.6-.6 1.6-2.7 1.6-1.2 1.6-.1 1.6 .3 1.6 .4 1.6 .6 1.6 .4 1.7-.4 1.6-.7 1.6-.1 1.6 2.2 1.6 3.9 1.6 1 1.6-2.2 1.6-2.3 1.6-1.3 1.6-.7 1.6-.5 1.6-.6 1.7-.5 1.6-.4" stroke="#fdd9c4"/><path d="M420.5 141.1l1.6 1.5 1.7 1.5 1.6 1.6 1.6 1.5 1.6 1.5 1.6 1.6 1.6 1.6 1.6 1.6 1.6 1.8 1.6 1.8 1.6 2 1.6 1.9 1.6 2 1.7 2 1.6 2.1 1.6 2 1.6 2.1 1.6 2.1 1.6 2.1 1.6 2.1 1.6 2.2 1.6 2.3 1.6 2.3 1.6 2.4 1.6 2.4 1.7 2.2 1.6 2.2 1.6 1.9 1.6 1.7 1.6 1.5 1.6 1.3 1.6 1.3 1.6 1.2 1.6 1.2 1.6 1.1 1.6 1.2 1.6 1.2 1.7 1.1 1.6 1.1 1.6 1 1.6 1.1 1.6 1 1.6 1.1 1.6 1 1.6 1 1.6 1.1 1.6 1 1.6 1 1.6 1 1.7 1.1 1.6 1 1.6 1 1.6 1.1 1.6 1 1.6 1 1.6 1.1 1.6 1 1.6 1.1 1.6 1 1.6 1.1 1.6 1 1.7 1.1 1.6 1 1.6 1.1 1.6 1 1.6 1 1.6 1.1 1.6 1.1 1.6 1 1.6 1.1 1.6 1 1.6 1.1 1.6 1 1.7 .9 1.6 .9 1.6 .9 1.6 .7 1.6 .7 1.6 .7 1.6 .6 1.6 .5 1.6 .3 1.6-.1 1.6-.4 1.6-.6 1.7-.9 1.6-1.1 1.6-1.2 1.6-1.2 1.6-1.1 1.6-1.1 1.6-1 1.6-1 1.6-1 1.6-1 1.6-.9 1.6-.9 1.7-1 1.6-1 1.6-1 1.6-1.1 1.6-1.1 1.6-1.3 1.6-1.3 1.6-1.4 1.6-1.4 1.6-1.6 1.6-1.6 1.6-1.7 1.7-1.8 1.6-1.8 1.6-1.9 1.6-1.9 1.6-1.9 1.6-2.1 1.6-2 1.6-2.1 1.6-2.2 1.6-2.3 1.6-2.5 1.6-2.7 1.7-2.9 1.6-2.9 1.6-3.5 1.6-3.7 1.6-3.8 1.6-3.8 1.6-4.4 1.6-4.9 1.6-4 1.6-3.6 1.6-2.2 1.6 .3 1.7 2 1.6 2.1 1.6 2.8 1.6 1.6 1.6-1.5 1.6-2.5 1.6-.8 1.6 .1 1.6 .3 1.6 .5 1.6 .6 1.6 .2 1.7-.6 1.6-.7 1.6 .4 1.6 2.8 1.6 3.9 1.6-.4 1.6-2.3 1.6-2.1 1.6-1.1 1.6-.6 1.6-.6 1.6-.5 1.7-.5 1.6-.5" stroke="#facab2"/><path d="M420.5 141.5l1.6 1.5 1.7 1.6 1.6 1.5 1.6 1.5 1.6 1.6 1.6 1.5 1.6 1.6 1.6 1.7 1.6 1.8 1.6 1.9 1.6 1.9 1.6 2 1.6 2 1.7 2 1.6 2 1.6 2.1 1.6 2 1.6 2.1 1.6 2.1 1.6 2.2 1.6 2.2 1.6 2.3 1.6 2.3 1.6 2.4 1.6 2.4 1.7 2.2 1.6 2.1 1.6 1.8 1.6 1.7 1.6 1.4 1.6 1.3 1.6 1.3 1.6 1.2 1.6 1.2 1.6 1.2 1.6 1.1 1.6 1.2 1.7 1.1 1.6 1.1 1.6 1 1.6 1.1 1.6 1 1.6 1.1 1.6 1 1.6 1 1.6 1.1 1.6 1 1.6 1 1.6 1 1.7 1.1 1.6 1 1.6 1 1.6 1 1.6 1.1 1.6 1 1.6 1.1 1.6 1 1.6 1.1 1.6 1 1.6 1 1.6 1.1 1.7 1 1.6 1.1 1.6 1 1.6 1.1 1.6 1 1.6 1.1 1.6 1 1.6 1.1 1.6 1.1 1.6 1 1.6 1.1 1.6 1 1.7 .9 1.6 .9 1.6 .8 1.6 .7 1.6 .7 1.6 .7 1.6 .6 1.6 .4 1.6 .2 1.6-.2 1.6-.4 1.6-.8 1.7-.9 1.6-1.1 1.6-1.2 1.6-1.2 1.6-1.1 1.6-1.1 1.6-1 1.6-1 1.6-1 1.6-.9 1.6-.9 1.6-1 1.7-1 1.6-1 1.6-1 1.6-1.1 1.6-1.2 1.6-1.2 1.6-1.3 1.6-1.4 1.6-1.6 1.6-1.5 1.6-1.7 1.6-1.7 1.7-1.8 1.6-1.8 1.6-1.9 1.6-1.9 1.6-2 1.6-2 1.6-2.1 1.6-2.1 1.6-2.3 1.6-2.3 1.6-2.5 1.6-2.7 1.7-3 1.6-3 1.6-3.6 1.6-3.8 1.6-3.7 1.6-3.9 1.6-4.6 1.6-4.7 1.6-3.9 1.6-3.4 1.6-1.6 1.6 .9 1.7 2.2 1.6 2.3 1.6 2.6 1.6 .9 1.6-2.2 1.6-2.1 1.6-.4 1.6 .2 1.6 .3 1.6 .6 1.6 .5 1.6 0 1.7-.7 1.6-.6 1.6 1 1.6 3.1 1.6 3.5 1.6-1.3 1.6-2.5 1.6-1.8 1.6-.9 1.6-.6 1.6-.5 1.6-.6 1.7-.4 1.6-.5" stroke="#f8bc9f"/><path d="M420.5 141.9l1.6 1.5 1.7 1.6 1.6 1.5 1.6 1.5 1.6 1.6 1.6 1.5 1.6 1.7 1.6 1.7 1.6 1.8 1.6 1.9 1.6 1.9 1.6 2 1.6 2 1.7 2.1 1.6 2 1.6 2 1.6 2.1 1.6 2.1 1.6 2.1 1.6 2.2 1.6 2.2 1.6 2.3 1.6 2.4 1.6 2.4 1.6 2.3 1.7 2.2 1.6 2 1.6 1.8 1.6 1.6 1.6 1.4 1.6 1.3 1.6 1.2 1.6 1.2 1.6 1.2 1.6 1.2 1.6 1.1 1.6 1.2 1.7 1.1 1.6 1 1.6 1.1 1.6 1.1 1.6 1 1.6 1 1.6 1.1 1.6 1 1.6 1 1.6 1.1 1.6 1 1.6 1 1.7 1 1.6 1.1 1.6 1 1.6 1 1.6 1.1 1.6 1 1.6 1.1 1.6 1 1.6 1 1.6 1.1 1.6 1 1.6 1.1 1.7 1 1.6 1.1 1.6 1 1.6 1.1 1.6 1 1.6 1.1 1.6 1 1.6 1.1 1.6 1.1 1.6 1 1.6 1 1.6 1 1.7 .9 1.6 .9 1.6 .8 1.6 .7 1.6 .7 1.6 .7 1.6 .5 1.6 .4 1.6 .1 1.6-.3 1.6-.5 1.6-.8 1.7-1 1.6-1.1 1.6-1.2 1.6-1.2 1.6-1.1 1.6-1.1 1.6-1 1.6-1 1.6-.9 1.6-1 1.6-.9 1.6-1 1.7-.9 1.6-1 1.6-1.1 1.6-1.1 1.6-1.2 1.6-1.3 1.6-1.3 1.6-1.5 1.6-1.5 1.6-1.6 1.6-1.7 1.6-1.7 1.7-1.8 1.6-1.8 1.6-1.9 1.6-2 1.6-1.9 1.6-2.1 1.6-2.1 1.6-2.1 1.6-2.3 1.6-2.4 1.6-2.5 1.6-2.8 1.7-3.1 1.6-3 1.6-3.7 1.6-3.8 1.6-3.8 1.6-4 1.6-4.8 1.6-4.4 1.6-3.8 1.6-3 1.6-1 1.6 1.5 1.7 2.1 1.6 2.5 1.6 2.5 1.6-.1 1.6-2.5 1.6-1.6 1.6-.2 1.6 .3 1.6 .3 1.6 .6 1.6 .5 1.6-.3 1.7-.7 1.6-.3 1.6 1.7 1.6 3.6 1.6 2.1 1.6-1.9 1.6-2.4 1.6-1.5 1.6-.8 1.6-.5 1.6-.6 1.6-.5 1.7-.5 1.6-.4" stroke="#f5ad8d"/><path d="M420.5 142.3l1.6 1.6 1.7 1.5 1.6 1.5 1.6 1.6 1.6 1.5 1.6 1.6 1.6 1.6 1.6 1.8 1.6 1.8 1.6 1.9 1.6 2 1.6 2 1.6 2 1.7 2 1.6 2 1.6 2.1 1.6 2.1 1.6 2.1 1.6 2.1 1.6 2.2 1.6 2.2 1.6 2.4 1.6 2.3 1.6 2.4 1.6 2.3 1.7 2.2 1.6 1.9 1.6 1.8 1.6 1.5 1.6 1.4 1.6 1.2 1.6 1.2 1.6 1.2 1.6 1.2 1.6 1.2 1.6 1.2 1.6 1.1 1.7 1.1 1.6 1 1.6 1.1 1.6 1 1.6 1.1 1.6 1 1.6 1.1 1.6 1 1.6 1 1.6 1 1.6 1.1 1.6 1 1.7 1 1.6 1 1.6 1.1 1.6 1 1.6 1.1 1.6 1 1.6 1 1.6 1.1 1.6 1 1.6 1.1 1.6 1 1.6 1.1 1.7 1 1.6 1.1 1.6 1 1.6 1.1 1.6 1 1.6 1.1 1.6 1 1.6 1.1 1.6 1 1.6 1.1 1.6 1 1.6 1 1.7 .9 1.6 .8 1.6 .8 1.6 .7 1.6 .7 1.6 .6 1.6 .6 1.6 .3 1.6-.1 1.6-.3 1.6-.6 1.6-.8 1.7-1.1 1.6-1.2 1.6-1.1 1.6-1.2 1.6-1.1 1.6-1.1 1.6-1 1.6-.9 1.6-1 1.6-.9 1.6-1 1.6-.9 1.7-1 1.6-1 1.6-1.1 1.6-1.1 1.6-1.2 1.6-1.3 1.6-1.4 1.6-1.5 1.6-1.5 1.6-1.6 1.6-1.7 1.6-1.8 1.7-1.8 1.6-1.8 1.6-1.9 1.6-2 1.6-2 1.6-2 1.6-2.1 1.6-2.2 1.6-2.3 1.6-2.4 1.6-2.7 1.6-2.8 1.7-3.1 1.6-3.2 1.6-3.7 1.6-3.9 1.6-3.7 1.6-4.2 1.6-4.9 1.6-4.2 1.6-3.7 1.6-2.6 1.6-.2 1.6 1.9 1.7 2.1 1.6 2.7 1.6 2 1.6-.9 1.6-2.7 1.6-1 1.6 0 1.6 .2 1.6 .5 1.6 .6 1.6 .3 1.6-.5 1.7-.7 1.6 0 1.6 2.5 1.6 4 1.6 .5 1.6-2.3 1.6-2.2 1.6-1.2 1.6-.7 1.6-.6 1.6-.5 1.6-.5 1.7-.5 1.6-.4" stroke="#f19d7c"/><path d="M420.5 142.7l1.6 1.6 1.7 1.5 1.6 1.5 1.6 1.6 1.6 1.5 1.6 1.6 1.6 1.7 1.6 1.8 1.6 1.8 1.6 1.9 1.6 2 1.6 2 1.6 2 1.7 2.1 1.6 2 1.6 2.1 1.6 2 1.6 2.1 1.6 2.2 1.6 2.2 1.6 2.3 1.6 2.3 1.6 2.4 1.6 2.4 1.6 2.2 1.7 2.1 1.6 1.9 1.6 1.7 1.6 1.5 1.6 1.3 1.6 1.3 1.6 1.2 1.6 1.2 1.6 1.2 1.6 1.1 1.6 1.2 1.6 1.1 1.7 1.1 1.6 1 1.6 1.1 1.6 1 1.6 1.1 1.6 1 1.6 1 1.6 1.1 1.6 1 1.6 1 1.6 1 1.6 1.1 1.7 1 1.6 1 1.6 1.1 1.6 1 1.6 1 1.6 1.1 1.6 1 1.6 1.1 1.6 1 1.6 1.1 1.6 1 1.6 1.1 1.7 1 1.6 1 1.6 1.1 1.6 1 1.6 1.1 1.6 1.1 1.6 1 1.6 1.1 1.6 1 1.6 1.1 1.6 1 1.6 .9 1.7 .9 1.6 .8 1.6 .8 1.6 .7 1.6 .7 1.6 .6 1.6 .5 1.6 .2 1.6-.1 1.6-.4 1.6-.7 1.6-.9 1.7-1.1 1.6-1.2 1.6-1.2 1.6-1.1 1.6-1.1 1.6-1 1.6-1 1.6-1 1.6-.9 1.6-1 1.6-.9 1.6-1 1.7-1 1.6-1 1.6-1.1 1.6-1.2 1.6-1.2 1.6-1.3 1.6-1.4 1.6-1.5 1.6-1.5 1.6-1.7 1.6-1.7 1.6-1.8 1.7-1.8 1.6-1.8 1.6-2 1.6-1.9 1.6-2 1.6-2.1 1.6-2.1 1.6-2.2 1.6-2.4 1.6-2.4 1.6-2.7 1.6-2.9 1.7-3.2 1.6-3.3 1.6-3.8 1.6-3.8 1.6-3.8 1.6-4.4 1.6-4.9 1.6-3.9 1.6-3.5 1.6-2.1 1.6 .5 1.6 2.1 1.7 2.2 1.6 2.7 1.6 1.4 1.6-1.7 1.6-2.5 1.6-.6 1.6 .1 1.6 .3 1.6 .5 1.6 .6 1.6 .2 1.6-.7 1.7-.6 1.6 .5 1.6 2.9 1.6 3.9 1.6-.7 1.6-2.5 1.6-1.9 1.6-1.1 1.6-.6 1.6-.5 1.6-.6 1.6-.4 1.7-.5 1.6-.4" stroke="#e88a6e"/><path d="M420.5 143.2l1.6 1.5 1.7 1.5 1.6 1.6 1.6 1.5 1.6 1.6 1.6 1.6 1.6 1.7 1.6 1.8 1.6 1.8 1.6 2 1.6 1.9 1.6 2.1 1.6 2 1.7 2 1.6 2.1 1.6 2 1.6 2.1 1.6 2.1 1.6 2.2 1.6 2.2 1.6 2.3 1.6 2.4 1.6 2.3 1.6 2.4 1.6 2.2 1.7 2.1 1.6 1.8 1.6 1.6 1.6 1.5 1.6 1.3 1.6 1.2 1.6 1.2 1.6 1.2 1.6 1.2 1.6 1.1 1.6 1.2 1.6 1.1 1.7 1.1 1.6 1 1.6 1.1 1.6 1 1.6 1.1 1.6 1 1.6 1 1.6 1 1.6 1.1 1.6 1 1.6 1 1.6 1 1.7 1.1 1.6 1 1.6 1 1.6 1.1 1.6 1 1.6 1.1 1.6 1 1.6 1.1 1.6 1 1.6 1 1.6 1.1 1.6 1 1.7 1.1 1.6 1 1.6 1.1 1.6 1 1.6 1.1 1.6 1 1.6 1.1 1.6 1.1 1.6 1 1.6 1 1.6 1 1.6 1 1.7 .9 1.6 .7 1.6 .8 1.6 .7 1.6 .6 1.6 .6 1.6 .5 1.6 .1 1.6-.2 1.6-.5 1.6-.7 1.6-1 1.7-1.1 1.6-1.2 1.6-1.2 1.6-1.1 1.6-1.1 1.6-1 1.6-1 1.6-1 1.6-.9 1.6-.9 1.6-1 1.6-1 1.7-1 1.6-1 1.6-1.1 1.6-1.2 1.6-1.2 1.6-1.4 1.6-1.4 1.6-1.5 1.6-1.6 1.6-1.7 1.6-1.7 1.6-1.8 1.7-1.8 1.6-1.9 1.6-1.9 1.6-2 1.6-2 1.6-2.1 1.6-2.1 1.6-2.3 1.6-2.3 1.6-2.5 1.6-2.8 1.6-3 1.7-3.3 1.6-3.3 1.6-3.8 1.6-3.8 1.6-3.9 1.6-4.7 1.6-4.6 1.6-3.8 1.6-3.3 1.6-1.4 1.6 1.1 1.6 2.2 1.7 2.3 1.6 2.6 1.6 .6 1.6-2.3 1.6-2 1.6-.3 1.6 .2 1.6 .3 1.6 .6 1.6 .5 1.6-.1 1.6-.7 1.7-.5 1.6 1.3 1.6 3.2 1.6 3.1 1.6-1.6 1.6-2.4 1.6-1.7 1.6-.9 1.6-.5 1.6-.6 1.6-.5 1.6-.5 1.7-.4 1.6-.4" stroke="#e0785f"/><path d="M420.5 143.6l1.6 1.5 1.7 1.5 1.6 1.6 1.6 1.5 1.6 1.6 1.6 1.6 1.6 1.8 1.6 1.8 1.6 1.9 1.6 1.9 1.6 2 1.6 2 1.6 2 1.7 2.1 1.6 2 1.6 2.1 1.6 2.1 1.6 2.1 1.6 2.2 1.6 2.2 1.6 2.3 1.6 2.4 1.6 2.4 1.6 2.3 1.6 2.2 1.7 2 1.6 1.8 1.6 1.5 1.6 1.4 1.6 1.3 1.6 1.2 1.6 1.2 1.6 1.2 1.6 1.2 1.6 1.1 1.6 1.2 1.6 1.1 1.7 1 1.6 1.1 1.6 1.1 1.6 1 1.6 1 1.6 1.1 1.6 1 1.6 1 1.6 1 1.6 1.1 1.6 1 1.6 1 1.7 1.1 1.6 1 1.6 1 1.6 1.1 1.6 1 1.6 1 1.6 1.1 1.6 1 1.6 1.1 1.6 1 1.6 1.1 1.6 1 1.7 1.1 1.6 1 1.6 1.1 1.6 1 1.6 1.1 1.6 1 1.6 1.1 1.6 1.1 1.6 1 1.6 1 1.6 1 1.6 .9 1.7 .9 1.6 .7 1.6 .8 1.6 .7 1.6 .6 1.6 .6 1.6 .3 1.6 .1 1.6-.3 1.6-.5 1.6-.9 1.6-1 1.7-1.2 1.6-1.1 1.6-1.2 1.6-1.1 1.6-1.1 1.6-1 1.6-1 1.6-.9 1.6-.9 1.6-1 1.6-.9 1.6-1 1.7-1 1.6-1.1 1.6-1.1 1.6-1.2 1.6-1.3 1.6-1.3 1.6-1.5 1.6-1.5 1.6-1.6 1.6-1.7 1.6-1.8 1.6-1.8 1.7-1.8 1.6-1.9 1.6-1.9 1.6-2 1.6-2.1 1.6-2.1 1.6-2.1 1.6-2.3 1.6-2.4 1.6-2.6 1.6-2.8 1.6-3.1 1.7-3.3 1.6-3.4 1.6-3.9 1.6-3.7 1.6-4.1 1.6-4.8 1.6-4.4 1.6-3.7 1.6-2.9 1.6-.7 1.6 1.6 1.6 2.1 1.7 2.6 1.6 2.3 1.6-.3 1.6-2.6 1.6-1.5 1.6-.1 1.6 .3 1.6 .4 1.6 .6 1.6 .4 1.6-.3 1.6-.8 1.7-.2 1.6 2 1.6 3.7 1.6 1.7 1.6-2.1 1.6-2.4 1.6-1.4 1.6-.7 1.6-.6 1.6-.5 1.6-.5 1.6-.5 1.7-.4 1.6-.4" stroke="#d86551"/><path d="M420.5 144l1.6 1.5 1.7 1.6 1.6 1.5 1.6 1.5 1.6 1.6 1.6 1.7 1.6 1.7 1.6 1.9 1.6 1.9 1.6 1.9 1.6 2 1.6 2.1 1.6 2 1.7 2 1.6 2.1 1.6 2.1 1.6 2.1 1.6 2.1 1.6 2.2 1.6 2.2 1.6 2.4 1.6 2.4 1.6 2.3 1.6 2.3 1.6 2.2 1.7 1.9 1.6 1.7 1.6 1.5 1.6 1.4 1.6 1.2 1.6 1.3 1.6 1.1 1.6 1.2 1.6 1.2 1.6 1.2 1.6 1.1 1.6 1.1 1.7 1 1.6 1.1 1.6 1 1.6 1.1 1.6 1 1.6 1 1.6 1.1 1.6 1 1.6 1 1.6 1 1.6 1.1 1.6 1 1.7 1 1.6 1.1 1.6 1 1.6 1 1.6 1.1 1.6 1 1.6 1.1 1.6 1 1.6 1.1 1.6 1 1.6 1.1 1.6 1 1.7 1.1 1.6 1 1.6 1.1 1.6 1 1.6 1.1 1.6 1 1.6 1.1 1.6 1 1.6 1.1 1.6 1 1.6 1 1.6 .9 1.7 .8 1.6 .7 1.6 .8 1.6 .6 1.6 .7 1.6 .5 1.6 .3 1.6-.1 1.6-.3 1.6-.6 1.6-.9 1.6-1.1 1.7-1.2 1.6-1.1 1.6-1.2 1.6-1.1 1.6-1.1 1.6-1 1.6-.9 1.6-1 1.6-.9 1.6-.9 1.6-1 1.6-1 1.7-1 1.6-1.1 1.6-1.1 1.6-1.2 1.6-1.3 1.6-1.4 1.6-1.5 1.6-1.6 1.6-1.6 1.6-1.7 1.6-1.7 1.6-1.8 1.7-1.9 1.6-1.9 1.6-2 1.6-2 1.6-2 1.6-2.1 1.6-2.2 1.6-2.3 1.6-2.5 1.6-2.6 1.6-2.9 1.6-3.1 1.7-3.5 1.6-3.5 1.6-3.8 1.6-3.7 1.6-4.3 1.6-5 1.6-4 1.6-3.7 1.6-2.4 1.6 .1 1.6 1.9 1.6 2.1 1.7 2.7 1.6 1.9 1.6-1.2 1.6-2.6 1.6-1 1.6 .1 1.6 .3 1.6 .4 1.6 .6 1.6 .3 1.6-.5 1.6-.7 1.7 .2 1.6 2.6 1.6 4 1.6 0 1.6-2.3 1.6-2.2 1.6-1.1 1.6-.7 1.6-.5 1.6-.6 1.6-.5 1.6-.4 1.7-.4 1.6-.4" stroke="#cf5246"/><path d="M420.5 144.4l1.6 1.5 1.7 1.6 1.6 1.5 1.6 1.6 1.6 1.6 1.6 1.7 1.6 1.7 1.6 1.9 1.6 1.9 1.6 2 1.6 2 1.6 2 1.6 2 1.7 2.1 1.6 2.1 1.6 2 1.6 2.1 1.6 2.2 1.6 2.2 1.6 2.3 1.6 2.3 1.6 2.4 1.6 2.4 1.6 2.2 1.6 2.1 1.7 1.9 1.6 1.6 1.6 1.5 1.6 1.3 1.6 1.3 1.6 1.2 1.6 1.2 1.6 1.2 1.6 1.1 1.6 1.2 1.6 1.1 1.6 1.1 1.7 1 1.6 1.1 1.6 1 1.6 1.1 1.6 1 1.6 1 1.6 1.1 1.6 1 1.6 1 1.6 1 1.6 1.1 1.6 1 1.7 1 1.6 1 1.6 1.1 1.6 1 1.6 1.1 1.6 1 1.6 1.1 1.6 1 1.6 1.1 1.6 1 1.6 1 1.6 1.1 1.7 1 1.6 1.1 1.6 1 1.6 1.1 1.6 1.1 1.6 1 1.6 1.1 1.6 1 1.6 1.1 1.6 1 1.6 .9 1.6 .9 1.7 .8 1.6 .7 1.6 .7 1.6 .7 1.6 .6 1.6 .5 1.6 .2 1.6-.1 1.6-.5 1.6-.7 1.6-.9 1.6-1.1 1.7-1.2 1.6-1.2 1.6-1.1 1.6-1.1 1.6-1 1.6-1 1.6-1 1.6-.9 1.6-1 1.6-.9 1.6-1 1.6-1 1.7-1 1.6-1.1 1.6-1.2 1.6-1.2 1.6-1.3 1.6-1.4 1.6-1.5 1.6-1.6 1.6-1.6 1.6-1.8 1.6-1.7 1.6-1.8 1.7-1.9 1.6-1.9 1.6-2 1.6-2 1.6-2.1 1.6-2.1 1.6-2.2 1.6-2.4 1.6-2.5 1.6-2.7 1.6-2.9 1.6-3.2 1.7-3.5 1.6-3.6 1.6-3.8 1.6-3.8 1.6-4.6 1.6-4.8 1.6-3.9 1.6-3.4 1.6-1.8 1.6 .7 1.6 2.1 1.6 2.2 1.7 2.7 1.6 1.2 1.6-2 1.6-2.3 1.6-.5 1.6 .1 1.6 .3 1.6 .6 1.6 .6 1.6 0 1.6-.6 1.6-.6 1.7 .7 1.6 3 1.6 3.7 1.6-1 1.6-2.5 1.6-1.8 1.6-1 1.6-.6 1.6-.6 1.6-.5 1.6-.5 1.6-.4 1.7-.5 1.6-.3" stroke="#c53f3d"/><path d="M420.5 144.8l1.6 1.6 1.7 1.5 1.6 1.5 1.6 1.6 1.6 1.6 1.6 1.7 1.6 1.8 1.6 1.9 1.6 1.9 1.6 2 1.6 2 1.6 2.1 1.6 2 1.7 2.1 1.6 2 1.6 2.1 1.6 2.1 1.6 2.2 1.6 2.2 1.6 2.3 1.6 2.4 1.6 2.4 1.6 2.3 1.6 2.2 1.6 2 1.7 1.9 1.6 1.6 1.6 1.4 1.6 1.3 1.6 1.2 1.6 1.2 1.6 1.2 1.6 1.2 1.6 1.1 1.6 1.2 1.6 1.1 1.6 1 1.7 1.1 1.6 1.1 1.6 1 1.6 1 1.6 1.1 1.6 1 1.6 1 1.6 1.1 1.6 1 1.6 1 1.6 1 1.6 1.1 1.7 1 1.6 1 1.6 1.1 1.6 1 1.6 1.1 1.6 1 1.6 1 1.6 1.1 1.6 1 1.6 1.1 1.6 1 1.6 1.1 1.7 1 1.6 1.1 1.6 1 1.6 1.1 1.6 1 1.6 1.1 1.6 1.1 1.6 1 1.6 1 1.6 1 1.6 1 1.6 .8 1.7 .8 1.6 .7 1.6 .7 1.6 .7 1.6 .6 1.6 .4 1.6 .1 1.6-.2 1.6-.5 1.6-.8 1.6-1 1.6-1.1 1.7-1.2 1.6-1.2 1.6-1.1 1.6-1.1 1.6-1 1.6-1 1.6-.9 1.6-1 1.6-.9 1.6-1 1.6-.9 1.6-1.1 1.7-1 1.6-1.1 1.6-1.2 1.6-1.2 1.6-1.4 1.6-1.4 1.6-1.5 1.6-1.6 1.6-1.7 1.6-1.7 1.6-1.8 1.6-1.9 1.7-1.8 1.6-2 1.6-2 1.6-2 1.6-2.1 1.6-2.1 1.6-2.3 1.6-2.3 1.6-2.6 1.6-2.7 1.6-3.1 1.6-3.3 1.7-3.5 1.6-3.7 1.6-3.7 1.6-4 1.6-4.7 1.6-4.6 1.6-3.8 1.6-3.1 1.6-1.2 1.6 1.3 1.6 2.1 1.6 2.5 1.7 2.5 1.6 .3 1.6-2.5 1.6-1.8 1.6-.2 1.6 .2 1.6 .4 1.6 .6 1.6 .5 1.6-.2 1.6-.7 1.6-.5 1.7 1.5 1.6 3.4 1.6 2.7 1.6-1.8 1.6-2.4 1.6-1.6 1.6-.8 1.6-.6 1.6-.5 1.6-.5 1.6-.5 1.6-.5 1.7-.4 1.6-.3" stroke="#bc2b34"/></g>
<path clip-path="url(#clipB)" d="M420.5 145.2l1.6 1.6 1.7 1.5 1.6 1.6 1.6 1.5 1.6 1.7 1.6 1.7 1.6 1.8 1.6 1.9 1.6 2 1.6 2 1.6 2 1.6 2 1.6 2.1 1.7 2 1.6 2.1 1.6 2.1 1.6 2.1 1.6 2.2 1.6 2.2 1.6 2.3 1.6 2.4 1.6 2.4 1.6 2.3 1.6 2.2 1.6 2 1.7 1.7 1.6 1.6 1.6 1.3 1.6 1.3 1.6 1.2 1.6 1.2 1.6 1.2 1.6 1.2 1.6 1.1 1.6 1.2 1.6 1.1 1.6 1 1.7 1.1 1.6 1.1 1.6 1 1.6 1 1.6 1.1 1.6 1 1.6 1 1.6 1 1.6 1.1 1.6 1 1.6 1 1.6 1 1.7 1.1 1.6 1 1.6 1.1 1.6 1 1.6 1 1.6 1.1 1.6 1 1.6 1.1 1.6 1 1.6 1.1 1.6 1 1.6 1.1 1.7 1 1.6 1.1 1.6 1 1.6 1.1 1.6 1 1.6 1.1 1.6 1.1 1.6 1 1.6 1 1.6 1 1.6 .9 1.6 .8 1.7 .8 1.6 .7 1.6 .7 1.6 .7 1.6 .5 1.6 .3 1.6 .1 1.6-.3 1.6-.6 1.6-.9 1.6-1 1.6-1.2 1.7-1.1 1.6-1.2 1.6-1.1 1.6-1.1 1.6-1 1.6-.9 1.6-1 1.6-.9 1.6-1 1.6-.9 1.6-1 1.6-1 1.7-1.1 1.6-1.1 1.6-1.2 1.6-1.3 1.6-1.4 1.6-1.4 1.6-1.6 1.6-1.6 1.6-1.7 1.6-1.7 1.6-1.8 1.6-1.9 1.7-1.9 1.6-1.9 1.6-2 1.6-2 1.6-2.2 1.6-2.1 1.6-2.3 1.6-2.4 1.6-2.6 1.6-2.8 1.6-3.1 1.6-3.4 1.7-3.6 1.6-3.7 1.6-3.7 1.6-4.2 1.6-4.9 1.6-4.2 1.6-3.8 1.6-2.7 1.6-.4 1.6 1.7 1.6 2.1 1.6 2.6 1.7 2.2 1.6-.6 1.6-2.7 1.6-1.2 1.6-.1 1.6 .3 1.6 .4 1.6 .6 1.6 .4 1.6-.4 1.6-.7 1.6-.1 1.7 2.2 1.6 3.9 1.6 1 1.6-2.2 1.6-2.2 1.6-1.4 1.6-.7 1.6-.5 1.6-.6 1.6-.5 1.6-.4 1.6-.5 1.7-.4 1.6-.3" fill="none" stroke="#67001f" stroke-width="3.40" stroke-linejoin="round"/>
<rect x="485.5" y="97.9" width="125.3" height="75.9" fill="#fff"/>
<g clip-path="url(#clipBi)" fill="none" stroke-width="2.0" stroke-linejoin="round"><path d="M481.6 95l.8 .9 .8 .8 .9 .9 .8 .8 .9 .9 .8 .9 .8 .8 .9 .9 .8 .8 .8 .9 .9 .8 .8 .9 .9 .8 .8 .9 .8 .8 .9 .9 .8 .8 .8 .9 .9 .8 .8 .9 .9 .8 .8 .9 .8 .8 .9 .9 .8 .8 .8 .8 .9 .9 .8 .8 .9 .9 .8 .8 .8 .8 .9 .9 .8 .8 .8 .8 .9 .9 .8 .8 .9 .8 .8 .9 .8 .8 .9 .8 .8 .8 .8 .8 .9 .9 .8 .8 .9 .8 .8 .8 .8 .8 .9 .8 .8 .8 .9 .8 .8 .8 .8 .7 .9 .8 .8 .8 .8 .7 .9 .8 .8 .7 .9 .7 .8 .7 .8 .7 .9 .7 .8 .7 .8 .6 .9 .6 .8 .6 .9 .6 .8 .5 .8 .5 .9 .4 .8 .4 .8 .3 .9 .3 .8 .2 .9 .2 .8 0 .8 0 .9 0 .8-.2 .8-.2 .9-.2 .8-.4 .9-.4 .8-.4 .8-.5 .9-.5 .8-.6 .8-.6 .9-.6 .8-.6 .9-.7 .8-.6 .8-.7 .9-.7 .8-.8 .8-.7 .9-.7 .8-.8" stroke="#053061"/><path d="M481.6 94.3l.8 .9 .8 .8 .9 .9 .8 .8 .9 .9 .8 .8 .8 .9 .9 .8 .8 .9 .8 .8 .9 .9 .8 .9 .9 .8 .8 .9 .8 .8 .9 .9 .8 .8 .8 .9 .9 .8 .8 .9 .9 .8 .8 .9 .8 .8 .9 .8 .8 .9 .8 .8 .9 .9 .8 .8 .9 .9 .8 .8 .8 .8 .9 .9 .8 .8 .8 .8 .9 .9 .8 .8 .9 .8 .8 .9 .8 .8 .9 .8 .8 .8 .8 .9 .9 .8 .8 .8 .9 .8 .8 .8 .8 .8 .9 .8 .8 .8 .9 .8 .8 .8 .8 .8 .9 .7 .8 .8 .8 .8 .9 .7 .8 .8 .9 .7 .8 .7 .8 .7 .9 .7 .8 .7 .8 .6 .9 .6 .8 .6 .9 .6 .8 .5 .8 .6 .9 .4 .8 .4 .8 .4 .9 .3 .8 .2 .9 .2 .8 .1 .8 .1 .9-.1 .8-.1 .8-.2 .9-.2 .8-.3 .9-.4 .8-.4 .8-.5 .9-.5 .8-.6 .8-.6 .9-.6 .8-.6 .9-.7 .8-.7 .8-.7 .9-.7 .8-.8 .8-.7 .9-.8 .8-.7" stroke="#08376a"/><path d="M481.6 93.6l.8 .8 .8 .9 .9 .8 .8 .9 .9 .9 .8 .8 .8 .9 .9 .8 .8 .9 .8 .8 .9 .9 .8 .8 .9 .9 .8 .8 .8 .9 .9 .8 .8 .9 .8 .8 .9 .9 .8 .8 .9 .9 .8 .8 .8 .9 .9 .8 .8 .9 .8 .8 .9 .9 .8 .8 .9 .9 .8 .8 .8 .8 .9 .9 .8 .8 .8 .8 .9 .9 .8 .8 .9 .8 .8 .9 .8 .8 .9 .8 .8 .8 .8 .9 .9 .8 .8 .8 .9 .8 .8 .8 .8 .8 .9 .8 .8 .8 .9 .8 .8 .8 .8 .8 .9 .8 .8 .7 .8 .8 .9 .8 .8 .7 .9 .7 .8 .8 .8 .7 .9 .7 .8 .6 .8 .7 .9 .6 .8 .7 .9 .5 .8 .6 .8 .5 .9 .5 .8 .4 .8 .4 .9 .4 .8 .2 .9 .2 .8 .2 .8 0 .9 0 .8 0 .8-.2 .9-.2 .8-.3 .9-.4 .8-.4 .8-.5 .9-.5 .8-.5 .8-.6 .9-.6 .8-.7 .9-.6 .8-.7 .8-.7 .9-.8 .8-.7 .8-.8 .9-.8 .8-.7 .9-.8" stroke="#0c3e74"/><path d="M481.6 92.8l.8 .9 .8 .8 .9 .9 .8 .9 .9 .8 .8 .9 .8 .8 .9 .9 .8 .8 .8 .9 .9 .8 .8 .9 .9 .9 .8 .8 .8 .9 .9 .8 .8 .9 .8 .8 .9 .9 .8 .8 .9 .9 .8 .8 .8 .9 .9 .8 .8 .9 .8 .8 .9 .8 .8 .9 .9 .8 .8 .9 .8 .8 .9 .9 .8 .8 .8 .8 .9 .9 .8 .8 .9 .8 .8 .9 .8 .8 .9 .8 .8 .8 .8 .9 .9 .8 .8 .8 .9 .8 .8 .8 .8 .8 .9 .8 .8 .8 .9 .8 .8 .8 .8 .8 .9 .8 .8 .8 .8 .7 .9 .8 .8 .7 .9 .8 .8 .7 .8 .7 .9 .7 .8 .7 .8 .7 .9 .6 .8 .7 .9 .6 .8 .5 .8 .6 .9 .5 .8 .4 .8 .4 .9 .4 .8 .3 .9 .2 .8 .2 .8 .1 .9 0 .8 0 .8-.1 .9-.2 .8-.3 .9-.3 .8-.4 .8-.5 .9-.5 .8-.5 .8-.6 .9-.6 .8-.7 .9-.7 .8-.7 .8-.7 .9-.7 .8-.8 .8-.8 .9-.7 .8-.8 .9-.8" stroke="#10447d"/><path d="M481.6 92.1l.8 .8 .8 .9 .9 .9 .8 .8 .9 .9 .8 .8 .8 .9 .9 .8 .8 .9 .8 .9 .9 .8 .8 .9 .9 .8 .8 .9 .8 .8 .9 .9 .8 .8 .8 .9 .9 .8 .8 .9 .9 .8 .8 .9 .8 .8 .9 .9 .8 .8 .8 .9 .9 .8 .8 .9 .9 .8 .8 .8 .8 .9 .9 .8 .8 .9 .8 .8 .9 .8 .8 .9 .9 .8 .8 .8 .8 .9 .9 .8 .8 .8 .8 .9 .9 .8 .8 .8 .9 .8 .8 .8 .8 .8 .9 .8 .8 .8 .9 .8 .8 .8 .8 .8 .9 .8 .8 .8 .8 .8 .9 .7 .8 .8 .9 .7 .8 .8 .8 .7 .9 .7 .8 .7 .8 .7 .9 .6 .8 .7 .9 .6 .8 .6 .8 .5 .9 .5 .8 .5 .8 .4 .9 .4 .8 .4 .9 .2 .8 .2 .8 .2 .9 0 .8 0 .8-.1 .9-.1 .8-.3 .9-.3 .8-.4 .8-.4 .9-.5 .8-.5 .8-.6 .9-.6 .8-.7 .9-.7 .8-.7 .8-.7 .9-.8 .8-.7 .8-.8 .9-.8 .8-.8 .9-.8 .8-.9" stroke="#134b86"/><path d="M481.6 91.3l.8 .9 .8 .8 .9 .9 .8 .9 .9 .8 .8 .9 .8 .8 .9 .9 .8 .8 .8 .9 .9 .9 .8 .8 .9 .9 .8 .8 .8 .9 .9 .8 .8 .9 .8 .8 .9 .9 .8 .8 .9 .9 .8 .8 .8 .9 .9 .8 .8 .9 .8 .8 .9 .9 .8 .8 .9 .9 .8 .8 .8 .9 .9 .8 .8 .8 .8 .9 .9 .8 .8 .9 .9 .8 .8 .8 .8 .9 .9 .8 .8 .8 .8 .8 .9 .9 .8 .8 .9 .8 .8 .8 .8 .8 .9 .8 .8 .8 .9 .8 .8 .8 .8 .8 .9 .8 .8 .8 .8 .8 .9 .7 .8 .8 .9 .7 .8 .8 .8 .7 .9 .7 .8 .7 .8 .7 .9 .7 .8 .6 .9 .7 .8 .6 .8 .5 .9 .6 .8 .5 .8 .4 .9 .4 .8 .4 .9 .3 .8 .2 .8 .2 .9 .1 .8 0 .8 0 .9-.2 .8-.2 .9-.3 .8-.3 .8-.4 .9-.5 .8-.6 .8-.5 .9-.6 .8-.7 .9-.7 .8-.7 .8-.7 .9-.8 .8-.8 .8-.8 .9-.8 .8-.8 .9-.8 .8-.9" stroke="#165290"/><path d="M481.6 90.6l.8 .8 .8 .9 .9 .8 .8 .9 .9 .9 .8 .8 .8 .9 .9 .8 .8 .9 .8 .8 .9 .9 .8 .9 .9 .8 .8 .9 .8 .8 .9 .9 .8 .8 .8 .9 .9 .8 .8 .9 .9 .8 .8 .9 .8 .8 .9 .9 .8 .8 .8 .9 .9 .8 .8 .9 .9 .8 .8 .9 .8 .8 .9 .9 .8 .8 .8 .8 .9 .9 .8 .8 .9 .8 .8 .9 .8 .8 .9 .8 .8 .9 .8 .8 .9 .8 .8 .9 .9 .8 .8 .8 .8 .8 .9 .8 .8 .8 .9 .8 .8 .8 .8 .8 .9 .8 .8 .8 .8 .8 .9 .7 .8 .8 .9 .8 .8 .7 .8 .7 .9 .8 .8 .7 .8 .7 .9 .6 .8 .7 .9 .6 .8 .7 .8 .5 .9 .6 .8 .5 .8 .5 .9 .4 .8 .4 .9 .3 .8 .3 .8 .2 .9 .1 .8 .1 .8 0 .9-.1 .8-.2 .9-.3 .8-.3 .8-.4 .9-.4 .8-.6 .8-.5 .9-.6 .8-.7 .9-.7 .8-.7 .8-.7 .9-.8 .8-.8 .8-.8 .9-.8 .8-.8 .9-.9 .8-.9 .8-.8" stroke="#1a5899"/><path d="M481.6 89.8l.8 .8 .8 .9 .9 .9 .8 .8 .9 .9 .8 .8 .8 .9 .9 .9 .8 .8 .8 .9 .9 .8 .8 .9 .9 .8 .8 .9 .8 .8 .9 .9 .8 .9 .8 .8 .9 .9 .8 .8 .9 .9 .8 .8 .8 .9 .9 .8 .8 .9 .8 .8 .9 .9 .8 .8 .9 .9 .8 .8 .8 .9 .9 .8 .8 .8 .8 .9 .9 .8 .8 .9 .9 .8 .8 .8 .8 .9 .9 .8 .8 .8 .8 .9 .9 .8 .8 .8 .9 .8 .8 .9 .8 .8 .9 .8 .8 .8 .9 .8 .8 .8 .8 .8 .9 .8 .8 .8 .8 .8 .9 .7 .8 .8 .9 .8 .8 .7 .8 .8 .9 .7 .8 .7 .8 .7 .9 .7 .8 .7 .9 .6 .8 .6 .8 .6 .9 .6 .8 .5 .8 .5 .9 .5 .8 .4 .9 .3 .8 .3 .8 .3 .9 .1 .8 .1 .8 .1 .9-.1 .8-.1 .9-.3 .8-.3 .8-.3 .9-.5 .8-.5 .8-.5 .9-.6 .8-.7 .9-.7 .8-.7 .8-.7 .9-.8 .8-.8 .8-.8 .9-.8 .8-.9 .9-.9 .8-.8 .8-.9" stroke="#1e5fa3"/><path d="M481.6 89l.8 .9 .8 .8 .9 .9 .8 .8 .9 .9 .8 .9 .8 .8 .9 .9 .8 .8 .8 .9 .9 .8 .8 .9 .9 .9 .8 .8 .8 .9 .9 .8 .8 .9 .8 .8 .9 .9 .8 .8 .9 .9 .8 .8 .8 .9 .9 .9 .8 .8 .8 .9 .9 .8 .8 .9 .9 .8 .8 .8 .8 .9 .9 .8 .8 .9 .8 .8 .9 .9 .8 .8 .9 .8 .8 .9 .8 .8 .9 .8 .8 .9 .8 .8 .9 .8 .8 .9 .9 .8 .8 .8 .8 .8 .9 .8 .8 .9 .9 .8 .8 .8 .8 .8 .9 .8 .8 .8 .8 .7 .9 .8 .8 .8 .9 .8 .8 .7 .8 .8 .9 .7 .8 .7 .8 .7 .9 .7 .8 .7 .9 .7 .8 .6 .8 .6 .9 .6 .8 .5 .8 .6 .9 .4 .8 .5 .9 .4 .8 .3 .8 .2 .9 .2 .8 .2 .8 0 .9 0 .8-.1 .9-.2 .8-.2 .8-.4 .9-.4 .8-.5 .8-.5 .9-.6 .8-.7 .9-.6 .8-.8 .8-.7 .9-.8 .8-.8 .8-.8 .9-.9 .8-.8 .9-.9 .8-.9 .8-.9 .9-.9" stroke="#2166ac"/><path d="M481.6 88.2l.8 .9 .8 .8 .9 .9 .8 .8 .9 .9 .8 .9 .8 .8 .9 .9 .8 .8 .8 .9 .9 .9 .8 .8 .9 .9 .8 .8 .8 .9 .9 .8 .8 .9 .8 .8 .9 .9 .8 .9 .9 .8 .8 .9 .8 .8 .9 .9 .8 .8 .8 .9 .9 .8 .8 .9 .9 .8 .8 .9 .8 .8 .9 .9 .8 .8 .8 .8 .9 .9 .8 .8 .9 .9 .8 .8 .8 .8 .9 .9 .8 .8 .8 .8 .9 .9 .8 .8 .9 .8 .8 .9 .8 .8 .9 .8 .8 .8 .9 .8 .8 .8 .8 .8 .9 .8 .8 .8 .8 .8 .9 .8 .8 .8 .9 .7 .8 .8 .8 .7 .9 .8 .8 .7 .8 .7 .9 .7 .8 .7 .9 .7 .8 .6 .8 .7 .9 .6 .8 .5 .8 .6 .9 .5 .8 .4 .9 .4 .8 .4 .8 .3 .9 .2 .8 .2 .8 .1 .9 0 .8-.1 .9-.1 .8-.2 .8-.4 .9-.3 .8-.5 .8-.5 .9-.6 .8-.6 .9-.7 .8-.7 .8-.8 .9-.8 .8-.8 .8-.8 .9-.9 .8-.8 .9-.9 .8-.9 .8-.9 .9-1" stroke="#256caf"/><path d="M481.6 87.4l.8 .8 .8 .9 .9 .9 .8 .8 .9 .9 .8 .8 .8 .9 .9 .9 .8 .8 .8 .9 .9 .8 .8 .9 .9 .9 .8 .8 .8 .9 .9 .8 .8 .9 .8 .8 .9 .9 .8 .9 .9 .8 .8 .9 .8 .8 .9 .9 .8 .8 .8 .9 .9 .8 .8 .9 .9 .8 .8 .9 .8 .8 .9 .9 .8 .8 .8 .9 .9 .8 .8 .8 .9 .9 .8 .8 .8 .9 .9 .8 .8 .8 .8 .9 .9 .8 .8 .8 .9 .9 .8 .8 .8 .8 .9 .8 .8 .8 .9 .9 .8 .8 .8 .8 .9 .8 .8 .8 .8 .8 .9 .7 .8 .8 .9 .8 .8 .8 .8 .7 .9 .8 .8 .7 .8 .7 .9 .7 .8 .7 .9 .7 .8 .7 .8 .6 .9 .6 .8 .6 .8 .6 .9 .5 .8 .5 .9 .4 .8 .4 .8 .3 .9 .3 .8 .2 .8 .1 .9 .1 .8-.1 .9-.1 .8-.2 .8-.2 .9-.4 .8-.4 .8-.5 .9-.6 .8-.6 .9-.7 .8-.7 .8-.8 .9-.7 .8-.8 .8-.9 .9-.8 .8-.9 .9-.9 .8-1 .8-.9 .9-.9 .8-1" stroke="#2a71b2"/><path d="M481.6 86.6l.8 .8 .8 .9 .9 .8 .8 .9 .9 .9 .8 .8 .8 .9 .9 .8 .8 .9 .8 .9 .9 .8 .8 .9 .9 .8 .8 .9 .8 .9 .9 .8 .8 .9 .8 .8 .9 .9 .8 .9 .9 .8 .8 .9 .8 .8 .9 .9 .8 .8 .8 .9 .9 .8 .8 .9 .9 .8 .8 .9 .8 .8 .9 .9 .8 .8 .8 .9 .9 .8 .8 .9 .9 .8 .8 .8 .8 .9 .9 .8 .8 .9 .8 .8 .9 .8 .8 .8 .9 .9 .8 .8 .8 .8 .9 .8 .8 .9 .9 .8 .8 .8 .8 .8 .9 .8 .8 .8 .8 .8 .9 .8 .8 .8 .9 .7 .8 .8 .8 .8 .9 .7 .8 .8 .8 .7 .9 .7 .8 .7 .9 .7 .8 .7 .8 .6 .9 .7 .8 .6 .8 .5 .9 .6 .8 .5 .9 .4 .8 .4 .8 .4 .9 .3 .8 .2 .8 .2 .9 .1 .8 0 .9 0 .8-.2 .8-.2 .9-.4 .8-.4 .8-.4 .9-.6 .8-.6 .9-.7 .8-.7 .8-.7 .9-.8 .8-.8 .8-.9 .9-.8 .8-.9 .9-.9 .8-1 .8-.9 .9-1 .8-.9" stroke="#2e77b5"/><path d="M481.6 85.7l.8 .9 .8 .8 .9 .9 .8 .9 .9 .8 .8 .9 .8 .9 .9 .8 .8 .9 .8 .8 .9 .9 .8 .9 .9 .8 .8 .9 .8 .8 .9 .9 .8 .9 .8 .8 .9 .9 .8 .8 .9 .9 .8 .8 .8 .9 .9 .8 .8 .9 .8 .9 .9 .8 .8 .9 .9 .8 .8 .9 .8 .8 .9 .9 .8 .8 .8 .9 .9 .8 .8 .8 .9 .9 .8 .8 .8 .9 .9 .8 .8 .8 .8 .9 .9 .8 .8 .9 .9 .8 .8 .8 .8 .8 .9 .9 .8 .8 .9 .8 .8 .8 .8 .8 .9 .8 .8 .8 .8 .8 .9 .8 .8 .8 .9 .8 .8 .8 .8 .7 .9 .8 .8 .7 .8 .8 .9 .7 .8 .7 .9 .7 .8 .7 .8 .6 .9 .7 .8 .6 .8 .6 .9 .5 .8 .6 .9 .5 .8 .4 .8 .4 .9 .3 .8 .3 .8 .2 .9 .1 .8 .1 .9 0 .8-.1 .8-.2 .9-.3 .8-.4 .8-.5 .9-.5 .8-.6 .9-.6 .8-.7 .8-.8 .9-.7 .8-.9 .8-.8 .9-.9 .8-.9 .9-.9 .8-1 .8-.9 .9-1 .8-1 .9-1" stroke="#327cb8"/><path d="M481.6 84.9l.8 .8 .8 .9 .9 .9 .8 .8 .9 .9 .8 .8 .8 .9 .9 .9 .8 .8 .8 .9 .9 .9 .8 .8 .9 .9 .8 .8 .8 .9 .9 .9 .8 .8 .8 .9 .9 .8 .8 .9 .9 .8 .8 .9 .8 .9 .9 .8 .8 .9 .8 .8 .9 .9 .8 .8 .9 .9 .8 .8 .8 .9 .9 .8 .8 .9 .8 .8 .9 .9 .8 .8 .9 .9 .8 .8 .8 .9 .9 .8 .8 .8 .8 .9 .9 .8 .8 .8 .9 .9 .8 .8 .8 .8 .9 .9 .8 .8 .9 .8 .8 .8 .8 .8 .9 .8 .8 .8 .8 .8 .9 .8 .8 .8 .9 .8 .8 .8 .8 .8 .9 .7 .8 .8 .8 .7 .9 .8 .8 .7 .9 .7 .8 .7 .8 .6 .9 .7 .8 .6 .8 .6 .9 .6 .8 .5 .9 .5 .8 .5 .8 .4 .9 .4 .8 .3 .8 .2 .9 .2 .8 .1 .9 0 .8 0 .8-.2 .9-.2 .8-.4 .8-.4 .9-.5 .8-.6 .9-.6 .8-.7 .8-.7 .9-.8 .8-.8 .8-.9 .9-.8 .8-.9 .9-1 .8-.9 .8-1 .9-1 .8-1 .9-1" stroke="#3682ba"/><path d="M481.6 84l.8 .9 .8 .8 .9 .9 .8 .9 .9 .8 .8 .9 .8 .9 .9 .8 .8 .9 .8 .8 .9 .9 .8 .9 .9 .8 .8 .9 .8 .8 .9 .9 .8 .9 .8 .8 .9 .9 .8 .8 .9 .9 .8 .9 .8 .8 .9 .9 .8 .8 .8 .9 .9 .8 .8 .9 .9 .8 .8 .9 .8 .8 .9 .9 .8 .8 .8 .9 .9 .8 .8 .9 .9 .8 .8 .9 .8 .8 .9 .9 .8 .8 .8 .8 .9 .9 .8 .8 .9 .9 .8 .8 .8 .8 .9 .8 .8 .9 .9 .8 .8 .8 .8 .8 .9 .8 .8 .8 .8 .8 .9 .8 .8 .8 .9 .8 .8 .8 .8 .8 .9 .7 .8 .8 .8 .8 .9 .7 .8 .7 .9 .7 .8 .7 .8 .7 .9 .7 .8 .6 .8 .6 .9 .6 .8 .6 .9 .5 .8 .5 .8 .4 .9 .4 .8 .4 .8 .2 .9 .3 .8 .1 .9 .1 .8 0 .8-.2 .9-.2 .8-.3 .8-.3 .9-.5 .8-.5 .9-.7 .8-.6 .8-.7 .9-.8 .8-.8 .8-.9 .9-.9 .8-.9 .9-.9 .8-1 .8-1 .9-1 .8-1 .9-1 .8-1.1" stroke="#3a88bd"/><path d="M481.6 83.1l.8 .9 .8 .9 .9 .8 .8 .9 .9 .8 .8 .9 .8 .9 .9 .8 .8 .9 .8 .9 .9 .8 .8 .9 .9 .9 .8 .8 .8 .9 .9 .8 .8 .9 .8 .9 .9 .8 .8 .9 .9 .8 .8 .9 .8 .9 .9 .8 .8 .9 .8 .8 .9 .9 .8 .8 .9 .9 .8 .8 .8 .9 .9 .8 .8 .9 .8 .8 .9 .9 .8 .8 .9 .9 .8 .8 .8 .9 .9 .8 .8 .9 .8 .8 .9 .8 .8 .9 .9 .8 .8 .8 .8 .9 .9 .8 .8 .8 .9 .9 .8 .8 .8 .8 .9 .8 .8 .8 .8 .8 .9 .8 .8 .8 .9 .8 .8 .8 .8 .8 .9 .8 .8 .7 .8 .8 .9 .7 .8 .8 .9 .7 .8 .7 .8 .7 .9 .7 .8 .6 .8 .6 .9 .6 .8 .6 .9 .6 .8 .5 .8 .4 .9 .5 .8 .3 .8 .3 .9 .3 .8 .2 .9 .1 .8 0 .8 0 .9-.2 .8-.2 .8-.4 .9-.4 .8-.5 .9-.6 .8-.7 .8-.7 .9-.8 .8-.8 .8-.8 .9-.9 .8-.9 .9-1 .8-.9 .8-1 .9-1 .8-1.1 .9-1 .8-1.1" stroke="#3f8dc0"/><path d="M481.6 82.2l.8 .9 .8 .9 .9 .8 .8 .9 .9 .9 .8 .8 .8 .9 .9 .8 .8 .9 .8 .9 .9 .8 .8 .9 .9 .9 .8 .8 .8 .9 .9 .9 .8 .8 .8 .9 .9 .8 .8 .9 .9 .9 .8 .8 .8 .9 .9 .8 .8 .9 .8 .8 .9 .9 .8 .9 .9 .8 .8 .9 .8 .8 .9 .9 .8 .8 .8 .9 .9 .8 .8 .9 .9 .8 .8 .9 .8 .8 .9 .9 .8 .8 .8 .8 .9 .9 .8 .8 .9 .9 .8 .8 .8 .8 .9 .9 .8 .8 .9 .8 .8 .8 .8 .9 .9 .8 .8 .8 .8 .8 .9 .8 .8 .8 .9 .8 .8 .8 .8 .8 .9 .7 .8 .8 .8 .8 .9 .7 .8 .8 .9 .7 .8 .7 .8 .7 .9 .7 .8 .7 .8 .6 .9 .6 .8 .6 .9 .6 .8 .5 .8 .5 .9 .5 .8 .4 .8 .3 .9 .3 .8 .2 .9 .1 .8 .1 .8 0 .9-.1 .8-.2 .8-.3 .9-.4 .8-.4 .9-.6 .8-.6 .8-.7 .9-.8 .8-.8 .8-.8 .9-.9 .8-.9 .9-1 .8-1 .8-1 .9-1 .8-1 .9-1.1 .8-1.1 .8-1.1" stroke="#4393c3"/><path d="M481.6 81.3l.8 .9 .8 .8 .9 .9 .8 .9 .9 .8 .8 .9 .8 .9 .9 .8 .8 .9 .8 .9 .9 .8 .8 .9 .9 .9 .8 .8 .8 .9 .9 .9 .8 .8 .8 .9 .9 .8 .8 .9 .9 .9 .8 .8 .8 .9 .9 .8 .8 .9 .8 .9 .9 .8 .8 .9 .9 .8 .8 .9 .8 .8 .9 .9 .8 .8 .8 .9 .9 .8 .8 .9 .9 .8 .8 .9 .8 .8 .9 .9 .8 .8 .8 .9 .9 .8 .8 .9 .9 .8 .8 .8 .8 .9 .9 .8 .8 .8 .9 .9 .8 .8 .8 .8 .9 .8 .8 .8 .8 .8 .9 .9 .8 .8 .9 .8 .8 .7 .8 .8 .9 .8 .8 .8 .8 .8 .9 .7 .8 .8 .9 .7 .8 .7 .8 .7 .9 .7 .8 .7 .8 .7 .9 .6 .8 .6 .9 .6 .8 .6 .8 .5 .9 .4 .8 .5 .8 .3 .9 .4 .8 .2 .9 .2 .8 .1 .8 .1 .9-.1 .8-.1 .8-.3 .9-.3 .8-.5 .9-.5 .8-.6 .8-.7 .9-.7 .8-.8 .8-.8 .9-.9 .8-.9 .9-1 .8-1 .8-1 .9-1 .8-1.1 .9-1 .8-1.1 .8-1.1" stroke="#4d99c6"/><path d="M481.6 80.4l.8 .9 .8 .8 .9 .9 .8 .9 .9 .8 .8 .9 .8 .9 .9 .8 .8 .9 .8 .8 .9 .9 .8 .9 .9 .8 .8 .9 .8 .9 .9 .8 .8 .9 .8 .9 .9 .8 .8 .9 .9 .8 .8 .9 .8 .9 .9 .8 .8 .9 .8 .8 .9 .9 .8 .9 .9 .8 .8 .9 .8 .8 .9 .9 .8 .8 .8 .9 .9 .8 .8 .9 .9 .8 .8 .9 .8 .8 .9 .9 .8 .8 .8 .9 .9 .8 .8 .9 .9 .8 .8 .8 .8 .9 .9 .8 .8 .8 .9 .9 .8 .8 .8 .8 .9 .8 .8 .9 .8 .8 .9 .8 .8 .8 .9 .8 .8 .8 .8 .8 .9 .8 .8 .8 .8 .7 .9 .8 .8 .7 .9 .8 .8 .7 .8 .7 .9 .7 .8 .7 .8 .7 .9 .7 .8 .6 .9 .6 .8 .6 .8 .5 .9 .5 .8 .4 .8 .4 .9 .4 .8 .3 .9 .2 .8 .2 .8 .1 .9 0 .8-.1 .8-.2 .9-.3 .8-.4 .9-.5 .8-.6 .8-.6 .9-.7 .8-.8 .8-.8 .9-.9 .8-.9 .9-1 .8-1 .8-1 .9-1 .8-1.1 .9-1.1 .8-1.1 .8-1.1 .9-1.1" stroke="#57a0ca"/><path d="M481.6 79.4l.8 .9 .8 .9 .9 .8 .8 .9 .9 .9 .8 .8 .8 .9 .9 .9 .8 .8 .8 .9 .9 .9 .8 .8 .9 .9 .8 .9 .8 .8 .9 .9 .8 .9 .8 .8 .9 .9 .8 .8 .9 .9 .8 .9 .8 .8 .9 .9 .8 .9 .8 .8 .9 .9 .8 .8 .9 .9 .8 .8 .8 .9 .9 .9 .8 .8 .8 .9 .9 .8 .8 .9 .9 .8 .8 .9 .8 .8 .9 .9 .8 .8 .8 .9 .9 .8 .8 .9 .9 .8 .8 .8 .8 .9 .9 .8 .8 .8 .9 .9 .8 .8 .8 .8 .9 .9 .8 .8 .8 .8 .9 .8 .8 .8 .9 .8 .8 .8 .8 .8 .9 .8 .8 .8 .8 .8 .9 .7 .8 .8 .9 .7 .8 .8 .8 .7 .9 .7 .8 .7 .8 .7 .9 .7 .8 .6 .9 .6 .8 .6 .8 .6 .9 .5 .8 .5 .8 .4 .9 .4 .8 .3 .9 .3 .8 .2 .8 .1 .9 .1 .8 0 .8-.2 .9-.2 .8-.4 .9-.4 .8-.5 .8-.7 .9-.6 .8-.8 .8-.8 .9-.9 .8-.9 .9-1 .8-.9 .8-1.1 .9-1 .8-1.1 .9-1.1 .8-1.1 .8-1.1 .9-1.2 .8-1.2" stroke="#61a6cd"/><path d="M481.6 78.5l.8 .8 .8 .9 .9 .9 .8 .8 .9 .9 .8 .9 .8 .8 .9 .9 .8 .9 .8 .8 .9 .9 .8 .9 .9 .8 .8 .9 .8 .9 .9 .8 .8 .9 .8 .9 .9 .8 .8 .9 .9 .9 .8 .8 .8 .9 .9 .8 .8 .9 .8 .9 .9 .8 .8 .9 .9 .8 .8 .9 .8 .9 .9 .8 .8 .9 .8 .8 .9 .9 .8 .8 .9 .9 .8 .8 .8 .9 .9 .8 .8 .9 .8 .8 .9 .9 .8 .8 .9 .9 .8 .8 .8 .8 .9 .9 .8 .8 .9 .9 .8 .8 .8 .8 .9 .8 .8 .9 .8 .8 .9 .8 .8 .8 .9 .8 .8 .8 .8 .8 .9 .8 .8 .8 .8 .8 .9 .8 .8 .7 .9 .8 .8 .7 .8 .8 .9 .7 .8 .7 .8 .7 .9 .7 .8 .6 .9 .7 .8 .6 .8 .5 .9 .6 .8 .5 .8 .5 .9 .4 .8 .3 .9 .3 .8 .3 .8 .1 .9 .2 .8 0 .8-.1 .9-.2 .8-.3 .9-.4 .8-.4 .8-.6 .9-.7 .8-.7 .8-.8 .9-.9 .8-.9 .9-.9 .8-1 .8-1 .9-1.1 .8-1.1 .9-1.1 .8-1.1 .8-1.2 .9-1.1 .8-1.2" stroke="#6aacd0"/><path d="M481.6 77.5l.8 .8 .8 .9 .9 .9 .8 .9 .9 .8 .8 .9 .8 .9 .9 .8 .8 .9 .8 .9 .9 .8 .8 .9 .9 .9 .8 .8 .8 .9 .9 .9 .8 .8 .8 .9 .9 .9 .8 .8 .9 .9 .8 .8 .8 .9 .9 .9 .8 .8 .8 .9 .9 .9 .8 .8 .9 .9 .8 .8 .8 .9 .9 .9 .8 .8 .8 .9 .9 .8 .8 .9 .9 .8 .8 .9 .8 .8 .9 .9 .8 .8 .8 .9 .9 .8 .8 .9 .9 .8 .8 .9 .8 .8 .9 .8 .8 .9 .9 .8 .8 .9 .8 .8 .9 .8 .8 .8 .8 .9 .9 .8 .8 .8 .9 .8 .8 .8 .8 .8 .9 .8 .8 .8 .8 .8 .9 .8 .8 .7 .9 .8 .8 .8 .8 .7 .9 .7 .8 .8 .8 .7 .9 .6 .8 .7 .9 .7 .8 .6 .8 .6 .9 .5 .8 .6 .8 .5 .9 .4 .8 .4 .9 .3 .8 .3 .8 .2 .9 .2 .8 .1 .8 0 .9-.2 .8-.2 .9-.3 .8-.5 .8-.5 .9-.6 .8-.7 .8-.8 .9-.8 .8-.9 .9-1 .8-1 .8-1 .9-1.1 .8-1 .9-1.2 .8-1.1 .8-1.2 .9-1.1 .8-1.2 .8-1.2" stroke="#74b2d4"/><path d="M481.6 76.5l.8 .8 .8 .9 .9 .9 .8 .8 .9 .9 .8 .9 .8 .8 .9 .9 .8 .9 .8 .9 .9 .8 .8 .9 .9 .9 .8 .8 .8 .9 .9 .9 .8 .8 .8 .9 .9 .9 .8 .8 .9 .9 .8 .8 .8 .9 .9 .9 .8 .8 .8 .9 .9 .9 .8 .8 .9 .9 .8 .8 .8 .9 .9 .9 .8 .8 .8 .9 .9 .8 .8 .9 .9 .8 .8 .9 .8 .9 .9 .8 .8 .9 .8 .8 .9 .9 .8 .8 .9 .8 .8 .9 .8 .8 .9 .9 .8 .8 .9 .9 .8 .8 .8 .8 .9 .9 .8 .8 .8 .8 .9 .8 .8 .8 .9 .9 .8 .8 .8 .8 .9 .8 .8 .8 .8 .8 .9 .8 .8 .7 .9 .8 .8 .8 .8 .7 .9 .8 .8 .7 .8 .7 .9 .7 .8 .7 .9 .6 .8 .7 .8 .6 .9 .6 .8 .5 .8 .5 .9 .5 .8 .4 .9 .4 .8 .3 .8 .3 .9 .2 .8 .1 .8 .1 .9-.1 .8-.1 .9-.3 .8-.4 .8-.5 .9-.6 .8-.6 .8-.8 .9-.8 .8-.9 .9-.9 .8-1 .8-1 .9-1.1 .8-1.1 .9-1.1 .8-1.2 .8-1.1 .9-1.2 .8-1.2 .8-1.3 .9-1.2" stroke="#7eb8d7"/><path d="M481.6 75.4l.8 .9 .8 .9 .9 .8 .8 .9 .9 .9 .8 .8 .8 .9 .9 .9 .8 .8 .8 .9 .9 .9 .8 .9 .9 .8 .8 .9 .8 .9 .9 .8 .8 .9 .8 .9 .9 .8 .8 .9 .9 .9 .8 .8 .8 .9 .9 .9 .8 .8 .8 .9 .9 .8 .8 .9 .9 .9 .8 .8 .8 .9 .9 .8 .8 .9 .8 .9 .9 .8 .8 .9 .9 .8 .8 .9 .8 .8 .9 .9 .8 .9 .8 .8 .9 .9 .8 .8 .9 .9 .8 .8 .8 .8 .9 .9 .8 .8 .9 .9 .8 .8 .8 .8 .9 .9 .8 .8 .8 .8 .9 .9 .8 .8 .9 .8 .8 .8 .8 .8 .9 .8 .8 .8 .8 .8 .9 .8 .8 .8 .9 .8 .8 .7 .8 .8 .9 .7 .8 .8 .8 .7 .9 .7 .8 .7 .9 .7 .8 .6 .8 .7 .9 .6 .8 .5 .8 .6 .9 .5 .8 .4 .9 .5 .8 .3 .8 .3 .9 .2 .8 .2 .8 .1 .9 0 .8-.1 .9-.2 .8-.3 .8-.4 .9-.6 .8-.6 .8-.7 .9-.8 .8-.8 .9-1 .8-.9 .8-1 .9-1.1 .8-1.1 .9-1.1 .8-1.2 .8-1.2 .9-1.2 .8-1.2 .8-1.3 .9-1.2" stroke="#88bfdb"/><path d="M481.6 74.3l.8 .9 .8 .9 .9 .9 .8 .8 .9 .9 .8 .9 .8 .8 .9 .9 .8 .9 .8 .9 .9 .8 .8 .9 .9 .9 .8 .8 .8 .9 .9 .9 .8 .8 .8 .9 .9 .9 .8 .8 .9 .9 .8 .9 .8 .8 .9 .9 .8 .9 .8 .8 .9 .9 .8 .9 .9 .8 .8 .9 .8 .8 .9 .9 .8 .9 .8 .8 .9 .9 .8 .8 .9 .9 .8 .9 .8 .8 .9 .9 .8 .8 .8 .9 .9 .8 .8 .9 .9 .8 .8 .9 .8 .8 .9 .9 .8 .8 .9 .9 .8 .8 .8 .8 .9 .9 .8 .8 .8 .8 .9 .9 .8 .8 .9 .8 .8 .8 .8 .8 .9 .8 .8 .8 .8 .8 .9 .8 .8 .8 .9 .8 .8 .8 .8 .7 .9 .8 .8 .7 .8 .8 .9 .7 .8 .7 .9 .7 .8 .7 .8 .6 .9 .6 .8 .6 .8 .6 .9 .5 .8 .5 .9 .4 .8 .4 .8 .4 .9 .3 .8 .2 .8 .1 .9 .1 .8 0 .9-.2 .8-.2 .8-.4 .9-.5 .8-.5 .8-.7 .9-.8 .8-.8 .9-.9 .8-.9 .8-1.1 .9-1 .8-1.1 .9-1.1 .8-1.2 .8-1.2 .9-1.2 .8-1.3 .8-1.2 .9-1.3 .8-1.3" stroke="#92c5de"/><path d="M481.6 73.2l.8 .9 .8 .9 .9 .9 .8 .8 .9 .9 .8 .9 .8 .9 .9 .8 .8 .9 .8 .9 .9 .8 .8 .9 .9 .9 .8 .8 .8 .9 .9 .9 .8 .9 .8 .8 .9 .9 .8 .9 .9 .8 .8 .9 .8 .9 .9 .8 .8 .9 .8 .9 .9 .8 .8 .9 .9 .9 .8 .8 .8 .9 .9 .8 .8 .9 .8 .9 .9 .8 .8 .9 .9 .8 .8 .9 .8 .9 .9 .8 .8 .9 .8 .8 .9 .9 .8 .8 .9 .9 .8 .8 .8 .9 .9 .8 .8 .9 .9 .8 .8 .8 .8 .9 .9 .8 .8 .9 .8 .8 .9 .8 .8 .9 .9 .8 .8 .8 .8 .8 .9 .8 .8 .8 .8 .8 .9 .8 .8 .8 .9 .8 .8 .8 .8 .8 .9 .7 .8 .8 .8 .7 .9 .7 .8 .8 .9 .7 .8 .6 .8 .7 .9 .7 .8 .6 .8 .6 .9 .5 .8 .5 .9 .5 .8 .4 .8 .4 .9 .3 .8 .3 .8 .2 .9 .1 .8 0 .9 0 .8-.2 .8-.3 .9-.4 .8-.5 .8-.6 .9-.7 .8-.8 .9-.9 .8-1 .8-.9 .9-1.1 .8-1.1 .9-1.1 .8-1.2 .8-1.2 .9-1.2 .8-1.3 .8-1.2 .9-1.3 .8-1.4 .9-1.3" stroke="#9ac9e0"/><path d="M481.6 72.1l.8 .9 .8 .9 .9 .8 .8 .9 .9 .9 .8 .9 .8 .8 .9 .9 .8 .9 .8 .8 .9 .9 .8 .9 .9 .9 .8 .8 .8 .9 .9 .9 .8 .8 .8 .9 .9 .9 .8 .8 .9 .9 .8 .9 .8 .8 .9 .9 .8 .9 .8 .8 .9 .9 .8 .9 .9 .8 .8 .9 .8 .9 .9 .8 .8 .9 .8 .9 .9 .8 .8 .9 .9 .8 .8 .9 .8 .9 .9 .8 .8 .9 .8 .8 .9 .9 .8 .8 .9 .9 .8 .8 .8 .9 .9 .8 .8 .9 .9 .8 .8 .9 .8 .8 .9 .9 .8 .8 .8 .8 .9 .9 .8 .8 .9 .8 .8 .8 .8 .9 .9 .8 .8 .8 .8 .8 .9 .8 .8 .8 .9 .8 .8 .8 .8 .8 .9 .7 .8 .8 .8 .7 .9 .8 .8 .7 .9 .7 .8 .7 .8 .7 .9 .6 .8 .7 .8 .6 .9 .6 .8 .5 .9 .5 .8 .5 .8 .4 .9 .3 .8 .3 .8 .3 .9 .1 .8 .1 .9 .1 .8-.1 .8-.2 .9-.4 .8-.4 .8-.6 .9-.6 .8-.8 .9-.8 .8-1 .8-.9 .9-1.1 .8-1.1 .9-1.1 .8-1.2 .8-1.2 .9-1.2 .8-1.3 .8-1.2 .9-1.4 .8-1.3 .9-1.3" stroke="#a2cde2"/><path d="M481.6 70.9l.8 .9 .8 .9 .9 .9 .8 .8 .9 .9 .8 .9 .8 .9 .9 .8 .8 .9 .8 .9 .9 .9 .8 .8 .9 .9 .8 .9 .8 .8 .9 .9 .8 .9 .8 .9 .9 .8 .8 .9 .9 .9 .8 .8 .8 .9 .9 .9 .8 .8 .8 .9 .9 .9 .8 .8 .9 .9 .8 .9 .8 .8 .9 .9 .8 .9 .8 .8 .9 .9 .8 .9 .9 .8 .8 .9 .8 .8 .9 .9 .8 .8 .8 .9 .9 .9 .8 .8 .9 .9 .8 .8 .8 .9 .9 .8 .8 .9 .9 .8 .8 .9 .8 .8 .9 .9 .8 .8 .8 .8 .9 .9 .8 .8 .9 .8 .8 .9 .8 .8 .9 .8 .8 .8 .8 .8 .9 .8 .8 .8 .9 .8 .8 .8 .8 .8 .9 .8 .8 .7 .8 .8 .9 .7 .8 .8 .9 .7 .8 .7 .8 .7 .9 .7 .8 .6 .8 .7 .9 .6 .8 .5 .9 .6 .8 .5 .8 .4 .9 .4 .8 .3 .8 .3 .9 .3 .8 .1 .9 .1 .8 0 .8-.1 .9-.3 .8-.4 .8-.5 .9-.6 .8-.7 .9-.8 .8-.9 .8-.9 .9-1 .8-1.1 .9-1.1 .8-1.2 .8-1.2 .9-1.2 .8-1.3 .8-1.3 .9-1.3 .8-1.4 .9-1.3 .8-1.4" stroke="#aad1e5"/><path d="M481.6 69.7l.8 .9 .8 .9 .9 .9 .8 .8 .9 .9 .8 .9 .8 .9 .9 .8 .8 .9 .8 .9 .9 .9 .8 .8 .9 .9 .8 .9 .8 .8 .9 .9 .8 .9 .8 .9 .9 .8 .8 .9 .9 .9 .8 .8 .8 .9 .9 .9 .8 .9 .8 .8 .9 .9 .8 .9 .9 .8 .8 .9 .8 .9 .9 .8 .8 .9 .8 .9 .9 .8 .8 .9 .9 .8 .8 .9 .8 .9 .9 .8 .8 .9 .8 .8 .9 .9 .8 .9 .9 .8 .8 .9 .8 .8 .9 .9 .8 .8 .9 .9 .8 .8 .8 .9 .9 .8 .8 .8 .8 .9 .9 .8 .8 .9 .9 .8 .8 .8 .8 .8 .9 .9 .8 .8 .8 .8 .9 .8 .8 .8 .9 .8 .8 .8 .8 .8 .9 .8 .8 .8 .8 .7 .9 .8 .8 .7 .9 .8 .8 .7 .8 .7 .9 .7 .8 .6 .8 .7 .9 .6 .8 .6 .9 .6 .8 .5 .8 .5 .9 .4 .8 .4 .8 .3 .9 .3 .8 .2 .9 .1 .8 .1 .8 0 .9-.2 .8-.3 .8-.4 .9-.5 .8-.7 .9-.7 .8-.9 .8-.9 .9-1 .8-1 .9-1.1 .8-1.2 .8-1.2 .9-1.3 .8-1.2 .8-1.3 .9-1.4 .8-1.3 .9-1.4 .8-1.4 .8-1.4" stroke="#b2d5e7"/><path d="M481.6 68.5l.8 .9 .8 .8 .9 .9 .8 .9 .9 .9 .8 .8 .8 .9 .9 .9 .8 .9 .8 .8 .9 .9 .8 .9 .9 .9 .8 .8 .8 .9 .9 .9 .8 .9 .8 .8 .9 .9 .8 .9 .9 .8 .8 .9 .8 .9 .9 .9 .8 .8 .8 .9 .9 .9 .8 .8 .9 .9 .8 .9 .8 .8 .9 .9 .8 .9 .8 .8 .9 .9 .8 .9 .9 .8 .8 .9 .8 .9 .9 .8 .8 .9 .8 .8 .9 .9 .8 .9 .9 .8 .8 .9 .8 .8 .9 .9 .8 .8 .9 .9 .8 .8 .8 .9 .9 .8 .8 .9 .8 .8 .9 .8 .8 .9 .9 .8 .8 .8 .8 .9 .9 .8 .8 .8 .8 .8 .9 .9 .8 .8 .9 .8 .8 .8 .8 .8 .9 .8 .8 .7 .8 .8 .9 .8 .8 .7 .9 .8 .8 .7 .8 .7 .9 .7 .8 .7 .8 .7 .9 .6 .8 .6 .9 .6 .8 .6 .8 .5 .9 .5 .8 .4 .8 .4 .9 .3 .8 .2 .9 .2 .8 .1 .8 .1 .9-.1 .8-.2 .8-.3 .9-.5 .8-.5 .9-.7 .8-.8 .8-.9 .9-.9 .8-1.1 .9-1.1 .8-1.1 .8-1.2 .9-1.2 .8-1.3 .8-1.3 .9-1.4 .8-1.3 .9-1.4 .8-1.5 .8-1.4" stroke="#b9d9e9"/><path d="M481.6 67.2l.8 .9 .8 .8 .9 .9 .8 .9 .9 .9 .8 .8 .8 .9 .9 .9 .8 .9 .8 .8 .9 .9 .8 .9 .9 .9 .8 .8 .8 .9 .9 .9 .8 .9 .8 .8 .9 .9 .8 .9 .9 .9 .8 .8 .8 .9 .9 .9 .8 .8 .8 .9 .9 .9 .8 .9 .9 .8 .8 .9 .8 .9 .9 .8 .8 .9 .8 .9 .9 .8 .8 .9 .9 .9 .8 .8 .8 .9 .9 .9 .8 .8 .8 .9 .9 .8 .8 .9 .9 .9 .8 .8 .8 .9 .9 .8 .8 .9 .9 .8 .8 .9 .8 .8 .9 .9 .8 .8 .8 .9 .9 .8 .8 .9 .9 .8 .8 .8 .8 .9 .9 .8 .8 .8 .8 .8 .9 .9 .8 .8 .9 .8 .8 .8 .8 .8 .9 .8 .8 .8 .8 .8 .9 .7 .8 .8 .9 .7 .8 .8 .8 .7 .9 .7 .8 .7 .8 .7 .9 .7 .8 .6 .9 .6 .8 .6 .8 .5 .9 .6 .8 .4 .8 .4 .9 .4 .8 .3 .9 .2 .8 .2 .8 .1 .9 .1 .8-.1 .8-.3 .9-.3 .8-.5 .9-.6 .8-.7 .8-.9 .9-.9 .8-1 .9-1 .8-1.2 .8-1.2 .9-1.2 .8-1.3 .8-1.3 .9-1.3 .8-1.4 .9-1.4 .8-1.5 .8-1.4 .9-1.5" stroke="#c1ddec"/><path d="M481.6 65.8l.8 .9 .8 .9 .9 .8 .8 .9 .9 .9 .8 .9 .8 .9 .9 .8 .8 .9 .8 .9 .9 .9 .8 .8 .9 .9 .8 .9 .8 .9 .9 .8 .8 .9 .8 .9 .9 .9 .8 .8 .9 .9 .8 .9 .8 .9 .9 .8 .8 .9 .8 .9 .9 .8 .8 .9 .9 .9 .8 .9 .8 .8 .9 .9 .8 .9 .8 .8 .9 .9 .8 .9 .9 .8 .8 .9 .8 .9 .9 .8 .8 .9 .8 .9 .9 .8 .8 .9 .9 .8 .8 .9 .8 .9 .9 .8 .8 .9 .9 .8 .8 .9 .8 .8 .9 .9 .8 .8 .8 .9 .9 .8 .8 .9 .9 .8 .8 .8 .8 .9 .9 .8 .8 .8 .8 .9 .9 .8 .8 .8 .9 .8 .8 .8 .8 .8 .9 .8 .8 .8 .8 .8 .9 .8 .8 .8 .9 .7 .8 .8 .8 .7 .9 .8 .8 .7 .8 .7 .9 .7 .8 .6 .9 .6 .8 .6 .8 .6 .9 .6 .8 .5 .8 .4 .9 .4 .8 .4 .9 .3 .8 .2 .8 .2 .9 .1 .8 0 .8-.1 .9-.3 .8-.4 .9-.5 .8-.6 .8-.8 .9-.8 .8-1 .9-1 .8-1.1 .8-1.2 .9-1.2 .8-1.3 .8-1.3 .9-1.4 .8-1.3 .9-1.5 .8-1.4 .8-1.5 .9-1.5 .8-1.5" stroke="#c9e1ee"/><path d="M481.6 64.4l.8 .9 .8 .8 .9 .9 .8 .9 .9 .9 .8 .9 .8 .8 .9 .9 .8 .9 .8 .9 .9 .8 .8 .9 .9 .9 .8 .9 .8 .8 .9 .9 .8 .9 .8 .9 .9 .9 .8 .8 .9 .9 .8 .9 .8 .9 .9 .8 .8 .9 .8 .9 .9 .8 .8 .9 .9 .9 .8 .9 .8 .8 .9 .9 .8 .9 .8 .8 .9 .9 .8 .9 .9 .8 .8 .9 .8 .9 .9 .8 .8 .9 .8 .9 .9 .8 .8 .9 .9 .9 .8 .8 .8 .9 .9 .8 .8 .9 .9 .9 .8 .8 .8 .9 .9 .8 .8 .9 .8 .8 .9 .9 .8 .8 .9 .9 .8 .8 .8 .8 .9 .9 .8 .8 .8 .8 .9 .9 .8 .8 .9 .8 .8 .8 .8 .8 .9 .8 .8 .8 .8 .8 .9 .8 .8 .8 .9 .8 .8 .7 .8 .8 .9 .7 .8 .8 .8 .7 .9 .7 .8 .6 .9 .7 .8 .6 .8 .6 .9 .6 .8 .5 .8 .5 .9 .5 .8 .4 .9 .3 .8 .3 .8 .3 .9 .1 .8 .1 .8 0 .9-.1 .8-.3 .9-.4 .8-.6 .8-.7 .9-.7 .8-.9 .9-1 .8-1.1 .8-1.1 .9-1.2 .8-1.3 .8-1.3 .9-1.3 .8-1.4 .9-1.4 .8-1.5 .8-1.5 .9-1.5 .8-1.5 .8-1.6" stroke="#d1e5f0"/><path d="M481.6 62.9l.8 .8 .8 .9 .9 .9 .8 .9 .9 .9 .8 .8 .8 .9 .9 .9 .8 .9 .8 .9 .9 .8 .8 .9 .9 .9 .8 .9 .8 .9 .9 .8 .8 .9 .8 .9 .9 .9 .8 .8 .9 .9 .8 .9 .8 .9 .9 .8 .8 .9 .8 .9 .9 .9 .8 .8 .9 .9 .8 .9 .8 .9 .9 .8 .8 .9 .8 .9 .9 .8 .8 .9 .9 .9 .8 .8 .8 .9 .9 .9 .8 .8 .8 .9 .9 .9 .8 .8 .9 .9 .8 .9 .8 .8 .9 .9 .8 .9 .9 .8 .8 .9 .8 .8 .9 .9 .8 .8 .8 .9 .9 .8 .8 .9 .9 .8 .8 .9 .8 .8 .9 .9 .8 .8 .8 .8 .9 .9 .8 .8 .9 .8 .8 .8 .8 .8 .9 .9 .8 .8 .8 .8 .9 .8 .8 .7 .9 .8 .8 .8 .8 .8 .9 .7 .8 .8 .8 .7 .9 .7 .8 .7 .9 .7 .8 .6 .8 .6 .9 .7 .8 .5 .8 .6 .9 .5 .8 .4 .9 .4 .8 .4 .8 .2 .9 .3 .8 .1 .8 .1 .9 0 .8-.2 .9-.3 .8-.4 .8-.6 .9-.7 .8-.8 .9-.9 .8-1 .8-1.1 .9-1.2 .8-1.2 .8-1.3 .9-1.4 .8-1.3 .9-1.5 .8-1.4 .8-1.5 .9-1.6 .8-1.5 .8-1.6 .9-1.6" stroke="#d6e7f1"/><path d="M481.6 61.3l.8 .8 .8 .9 .9 .9 .8 .9 .9 .9 .8 .8 .8 .9 .9 .9 .8 .9 .8 .9 .9 .8 .8 .9 .9 .9 .8 .9 .8 .9 .9 .8 .8 .9 .8 .9 .9 .9 .8 .8 .9 .9 .8 .9 .8 .9 .9 .9 .8 .8 .8 .9 .9 .9 .8 .9 .9 .8 .8 .9 .8 .9 .9 .9 .8 .8 .8 .9 .9 .9 .8 .8 .9 .9 .8 .9 .8 .9 .9 .8 .8 .9 .8 .9 .9 .8 .8 .9 .9 .9 .8 .8 .8 .9 .9 .8 .8 .9 .9 .9 .8 .8 .8 .9 .9 .8 .8 .9 .8 .9 .9 .8 .8 .9 .9 .8 .8 .9 .8 .8 .9 .8 .8 .9 .8 .8 .9 .9 .8 .8 .9 .8 .8 .8 .8 .9 .9 .8 .8 .8 .8 .8 .9 .8 .8 .8 .9 .8 .8 .8 .8 .7 .9 .8 .8 .8 .8 .7 .9 .7 .8 .7 .9 .7 .8 .7 .8 .7 .9 .6 .8 .6 .8 .6 .9 .5 .8 .5 .9 .5 .8 .4 .8 .3 .9 .3 .8 .2 .8 .2 .9 0 .8 0 .9-.1 .8-.3 .8-.5 .9-.6 .8-.7 .9-.8 .8-1 .8-1 .9-1.1 .8-1.2 .8-1.3 .9-1.3 .8-1.4 .9-1.4 .8-1.5 .8-1.5 .9-1.5 .8-1.6 .8-1.6 .9-1.6 .8-1.6" stroke="#daeaf2"/><path d="M481.6 59.5l.8 .9 .8 .9 .9 .9 .8 .8 .9 .9 .8 .9 .8 .9 .9 .9 .8 .9 .8 .8 .9 .9 .8 .9 .9 .9 .8 .9 .8 .8 .9 .9 .8 .9 .8 .9 .9 .9 .8 .8 .9 .9 .8 .9 .8 .9 .9 .8 .8 .9 .8 .9 .9 .9 .8 .9 .9 .8 .8 .9 .8 .9 .9 .9 .8 .8 .8 .9 .9 .9 .8 .9 .9 .8 .8 .9 .8 .9 .9 .8 .8 .9 .8 .9 .9 .8 .8 .9 .9 .9 .8 .9 .8 .8 .9 .9 .8 .8 .9 .9 .8 .9 .8 .8 .9 .9 .8 .8 .8 .9 .9 .9 .8 .8 .9 .9 .8 .8 .8 .9 .9 .8 .8 .9 .8 .8 .9 .8 .8 .9 .9 .8 .8 .8 .8 .9 .9 .8 .8 .8 .8 .8 .9 .8 .8 .8 .9 .8 .8 .8 .8 .8 .9 .8 .8 .7 .8 .8 .9 .7 .8 .8 .9 .7 .8 .7 .8 .7 .9 .6 .8 .6 .8 .6 .9 .6 .8 .6 .9 .5 .8 .4 .8 .4 .9 .4 .8 .3 .8 .2 .9 .1 .8 .1 .9 0 .8-.1 .8-.3 .9-.5 .8-.6 .9-.7 .8-.9 .8-.9 .9-1.1 .8-1.1 .8-1.3 .9-1.3 .8-1.3 .9-1.4 .8-1.5 .8-1.5 .9-1.5 .8-1.6 .8-1.6 .9-1.6 .8-1.7 .9-1.7" stroke="#dfecf3"/><path d="M481.6 57.6l.8 .9 .8 .9 .9 .9 .8 .9 .9 .8 .8 .9 .8 .9 .9 .9 .8 .9 .8 .9 .9 .8 .8 .9 .9 .9 .8 .9 .8 .9 .9 .8 .8 .9 .8 .9 .9 .9 .8 .9 .9 .8 .8 .9 .8 .9 .9 .9 .8 .9 .8 .8 .9 .9 .8 .9 .9 .9 .8 .9 .8 .8 .9 .9 .8 .9 .8 .9 .9 .8 .8 .9 .9 .9 .8 .9 .8 .8 .9 .9 .8 .9 .8 .8 .9 .9 .8 .9 .9 .9 .8 .8 .8 .9 .9 .9 .8 .8 .9 .9 .8 .9 .8 .8 .9 .9 .8 .8 .8 .9 .9 .9 .8 .8 .9 .9 .8 .8 .8 .9 .9 .8 .8 .9 .8 .8 .9 .9 .8 .8 .9 .8 .8 .9 .8 .8 .9 .8 .8 .9 .8 .8 .9 .8 .8 .8 .9 .8 .8 .8 .8 .8 .9 .8 .8 .8 .8 .7 .9 .8 .8 .7 .9 .8 .8 .7 .8 .7 .9 .7 .8 .6 .8 .7 .9 .6 .8 .6 .9 .5 .8 .5 .8 .5 .9 .4 .8 .4 .8 .3 .9 .2 .8 .2 .9 0 .8 .1 .8-.2 .9-.2 .8-.5 .9-.6 .8-.7 .8-.9 .9-.9 .8-1.1 .8-1.2 .9-1.2 .8-1.4 .9-1.4 .8-1.4 .8-1.5 .9-1.5 .8-1.6 .8-1.6 .9-1.7 .8-1.6 .9-1.7 .8-1.8" stroke="#e4eef4"/><path d="M481.6 55.5l.8 .9 .8 .9 .9 .9 .8 .8 .9 .9 .8 .9 .8 .9 .9 .9 .8 .9 .8 .9 .9 .8 .8 .9 .9 .9 .8 .9 .8 .9 .9 .9 .8 .8 .8 .9 .9 .9 .8 .9 .9 .9 .8 .8 .8 .9 .9 .9 .8 .9 .8 .9 .9 .8 .8 .9 .9 .9 .8 .9 .8 .9 .9 .8 .8 .9 .8 .9 .9 .9 .8 .9 .9 .8 .8 .9 .8 .9 .9 .9 .8 .8 .8 .9 .9 .9 .8 .8 .9 .9 .8 .9 .8 .9 .9 .8 .8 .9 .9 .9 .8 .8 .8 .9 .9 .9 .8 .8 .8 .9 .9 .8 .8 .9 .9 .9 .8 .8 .8 .9 .9 .8 .8 .9 .8 .8 .9 .9 .8 .8 .9 .9 .8 .8 .8 .8 .9 .9 .8 .8 .8 .8 .9 .9 .8 .8 .9 .8 .8 .8 .8 .8 .9 .8 .8 .8 .8 .8 .9 .7 .8 .8 .9 .7 .8 .8 .8 .7 .9 .7 .8 .7 .8 .7 .9 .6 .8 .6 .9 .6 .8 .6 .8 .5 .9 .5 .8 .4 .8 .4 .9 .3 .8 .3 .9 .2 .8 .1 .8 0 .9-.1 .8-.2 .9-.4 .8-.6 .8-.7 .9-.8 .8-1 .8-1.1 .9-1.2 .8-1.2 .9-1.4 .8-1.4 .8-1.5 .9-1.5 .8-1.6 .8-1.6 .9-1.7 .8-1.6 .9-1.8 .8-1.7 .8-1.8" stroke="#e9f0f4"/><path d="M481.6 53.1l.8 .8 .8 .9 .9 .9 .8 .9 .9 .9 .8 .9 .8 .9 .9 .8 .8 .9 .8 .9 .9 .9 .8 .9 .9 .9 .8 .9 .8 .8 .9 .9 .8 .9 .8 .9 .9 .9 .8 .9 .9 .8 .8 .9 .8 .9 .9 .9 .8 .9 .8 .9 .9 .8 .8 .9 .9 .9 .8 .9 .8 .9 .9 .8 .8 .9 .8 .9 .9 .9 .8 .9 .9 .8 .8 .9 .8 .9 .9 .9 .8 .8 .8 .9 .9 .9 .8 .9 .9 .8 .8 .9 .8 .9 .9 .9 .8 .8 .9 .9 .8 .9 .8 .8 .9 .9 .8 .9 .8 .8 .9 .9 .8 .9 .9 .8 .8 .9 .8 .9 .9 .8 .8 .9 .8 .8 .9 .9 .8 .8 .9 .9 .8 .8 .8 .9 .9 .8 .8 .8 .8 .9 .9 .8 .8 .8 .9 .9 .8 .8 .8 .8 .9 .8 .8 .8 .8 .8 .9 .8 .8 .7 .9 .8 .8 .8 .8 .7 .9 .7 .8 .8 .8 .7 .9 .6 .8 .7 .9 .6 .8 .6 .8 .6 .9 .6 .8 .5 .8 .4 .9 .4 .8 .4 .9 .3 .8 .2 .8 .1 .9 .1 .8 0 .9-.2 .8-.3 .8-.5 .9-.7 .8-.8 .8-.9 .9-1.1 .8-1.2 .9-1.2 .8-1.4 .8-1.4 .9-1.5 .8-1.6 .8-1.6 .9-1.6 .8-1.7 .9-1.7 .8-1.8 .8-1.8 .9-1.8 .8-1.9" stroke="#eef2f5"/><path d="M481.6 50l.8 .8 .8 .9 .9 .9 .8 .9 .9 .9 .8 .9 .8 .9 .9 .9 .8 .9 .8 .8 .9 .9 .8 .9 .9 .9 .8 .9 .8 .9 .9 .9 .8 .9 .8 .8 .9 .9 .8 .9 .9 .9 .8 .9 .8 .9 .9 .9 .8 .8 .8 .9 .9 .9 .8 .9 .9 .9 .8 .9 .8 .8 .9 .9 .8 .9 .8 .9 .9 .9 .8 .9 .9 .8 .8 .9 .8 .9 .9 .9 .8 .9 .8 .8 .9 .9 .8 .9 .9 .9 .8 .8 .8 .9 .9 .9 .8 .9 .9 .8 .8 .9 .8 .9 .9 .9 .8 .8 .8 .9 .9 .9 .8 .8 .9 .9 .8 .9 .8 .8 .9 .9 .8 .9 .8 .8 .9 .9 .8 .8 .9 .9 .8 .8 .8 .9 .9 .8 .8 .9 .8 .8 .9 .9 .8 .8 .9 .8 .8 .8 .8 .9 .9 .8 .8 .8 .8 .8 .9 .8 .8 .8 .9 .8 .8 .8 .8 .7 .9 .8 .8 .7 .8 .8 .9 .7 .8 .7 .9 .7 .8 .6 .8 .7 .9 .6 .8 .5 .8 .6 .9 .5 .8 .4 .9 .4 .8 .4 .8 .2 .9 .3 .8 .1 .9 .1 .8-.1 .8-.2 .9-.3 .8-.6 .8-.7 .9-.8 .8-1 .9-1.2 .8-1.2 .8-1.3 .9-1.5 .8-1.5 .8-1.5 .9-1.7 .8-1.6 .9-1.8 .8-1.7 .8-1.8 .9-1.9 .8-1.8 .8-1.9 .9-2" stroke="#f2f5f6"/><path d="M481.6 43.6l.8 .9 .8 .8 .9 .9 .8 .9 .9 .9 .8 .9 .8 .9 .9 .9 .8 .9 .8 .9 .9 .9 .8 .9 .9 .9 .8 .9 .8 .8 .9 .9 .8 .9 .8 .9 .9 .9 .8 .9 .9 .9 .8 .9 .8 .9 .9 .9 .8 .9 .8 .8 .9 .9 .8 .9 .9 .9 .8 .9 .8 .9 .9 .9 .8 .9 .8 .8 .9 .9 .8 .9 .9 .9 .8 .9 .8 .9 .9 .9 .8 .8 .8 .9 .9 .9 .8 .9 .9 .9 .8 .9 .8 .8 .9 .9 .8 .9 .9 .9 .8 .9 .8 .8 .9 .9 .8 .9 .8 .9 .9 .9 .8 .8 .9 .9 .8 .9 .8 .9 .9 .8 .8 .9 .8 .9 .9 .8 .8 .9 .9 .9 .8 .8 .8 .9 .9 .8 .8 .9 .8 .9 .9 .8 .8 .9 .9 .8 .8 .9 .8 .8 .9 .8 .8 .9 .8 .8 .9 .8 .8 .8 .9 .9 .8 .8 .8 .8 .9 .8 .8 .8 .8 .7 .9 .8 .8 .8 .9 .7 .8 .7 .8 .8 .9 .7 .8 .6 .8 .7 .9 .6 .8 .6 .9 .6 .8 .5 .8 .5 .9 .5 .8 .4 .9 .3 .8 .3 .8 .2 .9 .1 .8 .1 .8 0 .9-.3 .8-.4 .9-.6 .8-.8 .8-1 .9-1.1 .8-1.2 .8-1.3 .9-1.5 .8-1.6 .9-1.6 .8-1.7 .8-1.8 .9-1.8 .8-1.9 .8-1.9 .9-2 .8-2 .9-2 .8-2.1 .8-2" stroke="#f7f7f7"/><path d="M481.6 42l.8 .9 .8 .9 .9 .9 .8 .9 .9 .9 .8 .9 .8 .9 .9 .9 .8 .9 .8 .9 .9 .9 .8 .9 .9 .9 .8 .9 .8 .9 .9 .9 .8 .9 .8 .9 .9 .9 .8 .8 .9 .9 .8 .9 .8 .9 .9 .9 .8 .9 .8 .9 .9 .9 .8 .9 .9 .9 .8 .9 .8 .9 .9 .9 .8 .8 .8 .9 .9 .9 .8 .9 .9 .9 .8 .9 .8 .9 .9 .9 .8 .9 .8 .8 .9 .9 .8 .9 .9 .9 .8 .9 .8 .9 .9 .9 .8 .8 .9 .9 .8 .9 .8 .9 .9 .9 .8 .9 .8 .8 .9 .9 .8 .9 .9 .9 .8 .9 .8 .8 .9 .9 .8 .9 .8 .8 .9 .9 .8 .9 .9 .9 .8 .8 .8 .9 .9 .9 .8 .8 .8 .9 .9 .8 .8 .9 .9 .8 .8 .9 .8 .8 .9 .9 .8 .8 .8 .9 .9 .8 .8 .8 .9 .8 .8 .9 .8 .8 .9 .8 .8 .8 .8 .8 .9 .7 .8 .8 .9 .8 .8 .7 .8 .7 .9 .8 .8 .7 .8 .6 .9 .7 .8 .6 .9 .6 .8 .6 .8 .5 .9 .5 .8 .4 .9 .4 .8 .4 .8 .2 .9 .2 .8 .1 .8 .1 .9-.1 .8-.3 .9-.4 .8-.7 .8-.8 .9-.9 .8-1.1 .8-1.2 .9-1.3 .8-1.5 .9-1.5 .8-1.6 .8-1.7 .9-1.7 .8-1.8 .8-1.8 .9-1.9 .8-1.9 .9-2 .8-1.9 .8-2 .9-2.1 .8-2 .8-2.1 .9-2 .8-2.1 .9-2.2 .8-2.1 .8-2.1 .9-2.2 .8-2.1 .8-2.2 .9-2.2 .8-2.2 .9-2.1 .8-2.2 .8-2.3 .9-2.2 .8-2.2 .8-2.2 .9-2.2 .8-2.2 .9-2.3 .8-2.2 .8-2.3 .9-2.2 .8-2.2 .9-2.3 .8-2.2 .8-2.3 .9-2.3" stroke="#f9efe9"/><path d="M481.6 40.5l.8 .9 .8 .9 .9 .9 .8 .9 .9 .9 .8 .9 .8 .9 .9 .9 .8 .9 .8 .9 .9 .9 .8 .9 .9 .9 .8 .9 .8 .9 .9 .9 .8 .9 .8 .9 .9 .9 .8 .9 .9 .9 .8 .9 .8 .9 .9 .9 .8 .9 .8 .9 .9 .9 .8 .9 .9 .9 .8 .8 .8 .9 .9 .9 .8 .9 .8 .9 .9 .9 .8 .9 .9 .9 .8 .9 .8 .9 .9 .9 .8 .9 .8 .9 .9 .8 .8 .9 .9 .9 .8 .9 .8 .9 .9 .9 .8 .9 .9 .9 .8 .9 .8 .8 .9 .9 .8 .9 .8 .9 .9 .9 .8 .9 .9 .8 .8 .9 .8 .9 .9 .9 .8 .9 .8 .8 .9 .9 .8 .9 .9 .8 .8 .9 .8 .9 .9 .9 .8 .8 .8 .9 .9 .8 .8 .9 .9 .9 .8 .8 .8 .9 .9 .8 .8 .9 .8 .8 .9 .8 .8 .9 .9 .8 .8 .8 .8 .9 .9 .8 .8 .8 .8 .8 .9 .8 .8 .7 .9 .8 .8 .8 .8 .7 .9 .7 .8 .8 .8 .7 .9 .6 .8 .7 .9 .6 .8 .6 .8 .6 .9 .5 .8 .5 .9 .4 .8 .4 .8 .3 .9 .2 .8 .2 .8 .1 .9 0 .8-.1 .9-.3 .8-.4 .8-.7 .9-.8 .8-.9 .8-1.1 .9-1.2 .8-1.3 .9-1.4 .8-1.5 .8-1.6 .9-1.6 .8-1.7 .8-1.8 .9-1.7 .8-1.9 .9-1.8 .8-1.9 .8-1.9 .9-2 .8-1.9 .8-2 .9-2 .8-2.1 .9-2 .8-2 .8-2.1 .9-2.1 .8-2.1 .8-2 .9-2.1 .8-2.2 .9-2.1 .8-2.1 .8-2.1 .9-2.2 .8-2.1 .8-2.2 .9-2.1 .8-2.2 .9-2.1 .8-2.2 .8-2.1 .9-2.2 .8-2.2 .9-2.2 .8-2.1 .8-2.2 .9-2.2" stroke="#fbe7db"/><path d="M481.6 39l.8 .9 .8 .9 .9 .9 .8 .9 .9 .9 .8 .9 .8 .9 .9 .9 .8 .9 .8 .9 .9 .9 .8 .9 .9 .9 .8 .9 .8 .9 .9 .9 .8 .9 .8 .9 .9 .9 .8 .9 .9 .9 .8 .9 .8 .9 .9 .9 .8 .9 .8 .9 .9 .9 .8 .9 .9 .9 .8 .9 .8 .9 .9 .9 .8 .9 .8 .9 .9 .9 .8 .9 .9 .9 .8 .9 .8 .9 .9 .9 .8 .9 .8 .9 .9 .9 .8 .9 .9 .8 .8 .9 .8 .9 .9 .9 .8 .9 .9 .9 .8 .9 .8 .9 .9 .9 .8 .9 .8 .8 .9 .9 .8 .9 .9 .9 .8 .9 .8 .9 .9 .8 .8 .9 .8 .9 .9 .9 .8 .9 .9 .8 .8 .9 .8 .9 .9 .9 .8 .8 .8 .9 .9 .9 .8 .8 .9 .9 .8 .8 .8 .9 .9 .9 .8 .8 .8 .9 .9 .8 .8 .8 .9 .9 .8 .8 .8 .8 .9 .8 .8 .9 .8 .8 .9 .8 .8 .8 .9 .7 .8 .8 .8 .8 .9 .7 .8 .7 .8 .8 .9 .7 .8 .6 .9 .7 .8 .6 .8 .6 .9 .5 .8 .6 .9 .4 .8 .4 .8 .4 .9 .3 .8 .2 .8 .2 .9 .1 .8 0 .9-.1 .8-.3 .8-.5 .9-.7 .8-.8 .8-1 .9-1 .8-1.2 .9-1.3 .8-1.4 .8-1.4 .9-1.6 .8-1.6 .8-1.6 .9-1.7 .8-1.7 .9-1.8 .8-1.8 .8-1.8 .9-1.9 .8-1.9 .8-1.9 .9-1.9 .8-2 .9-1.9 .8-2 .8-2 .9-2 .8-2 .8-2 .9-2 .8-2.1 .9-2 .8-2.1 .8-2 .9-2.1 .8-2 .8-2.1 .9-2.1 .8-2.1 .9-2.1 .8-2.1 .8-2 .9-2.1 .8-2.1 .9-2.1 .8-2.2 .8-2.1 .9-2.1" stroke="#fcdecd"/><path d="M481.6 37.5l.8 .9 .8 .9 .9 .9 .8 .9 .9 .9 .8 .9 .8 .9 .9 .9 .8 .9 .8 .9 .9 .9 .8 .9 .9 .9 .8 1 .8 .9 .9 .9 .8 .9 .8 .9 .9 .9 .8 .9 .9 .9 .8 .9 .8 .9 .9 .9 .8 .9 .8 .9 .9 .9 .8 .9 .9 .9 .8 .9 .8 .9 .9 .9 .8 .9 .8 .9 .9 .9 .8 .9 .9 .9 .8 .9 .8 .9 .9 .9 .8 .9 .8 .9 .9 .9 .8 .9 .9 .9 .8 .8 .8 .9 .9 .9 .8 .9 .9 .9 .8 .9 .8 .9 .9 .9 .8 .9 .8 .9 .9 .9 .8 .9 .9 .8 .8 .9 .8 .9 .9 .9 .8 .9 .8 .9 .9 .9 .8 .8 .9 .9 .8 .9 .8 .9 .9 .8 .8 .9 .8 .9 .9 .9 .8 .8 .9 .9 .8 .9 .8 .8 .9 .9 .8 .8 .8 .9 .9 .8 .8 .9 .9 .8 .8 .9 .8 .8 .9 .8 .8 .8 .8 .9 .9 .8 .8 .8 .9 .8 .8 .7 .8 .8 .9 .8 .8 .7 .8 .7 .9 .8 .8 .7 .9 .6 .8 .7 .8 .6 .9 .6 .8 .5 .9 .5 .8 .5 .8 .4 .9 .3 .8 .3 .8 .3 .9 .1 .8 .1 .9 0 .8-.2 .8-.3 .9-.6 .8-.6 .8-.8 .9-1 .8-1 .9-1.2 .8-1.3 .8-1.3 .9-1.4 .8-1.5 .8-1.6 .9-1.6 .8-1.6 .9-1.7 .8-1.7 .8-1.8 .9-1.8 .8-1.8 .8-1.8 .9-1.8 .8-1.9 .9-1.9 .8-1.9 .8-1.9 .9-1.9 .8-1.9 .8-2 .9-1.9 .8-2 .9-2 .8-1.9 .8-2 .9-2 .8-2 .8-2 .9-2 .8-2 .9-2 .8-2 .8-2.1 .9-2 .8-2 .9-2.1 .8-2 .8-2 .9-2.1" stroke="#fbd1bb"/><path d="M481.6 36l.8 .9 .8 .9 .9 .9 .8 .9 .9 .9 .8 .9 .8 .9 .9 .9 .8 .9 .8 .9 .9 .9 .8 .9 .9 1 .8 .9 .8 .9 .9 .9 .8 .9 .8 .9 .9 .9 .8 .9 .9 .9 .8 .9 .8 .9 .9 .9 .8 .9 .8 .9 .9 .9 .8 .9 .9 .9 .8 .9 .8 .9 .9 .9 .8 .9 .8 1 .9 .9 .8 .9 .9 .9 .8 .9 .8 .9 .9 .9 .8 .9 .8 .9 .9 .9 .8 .9 .9 .9 .8 .9 .8 .9 .9 .9 .8 .8 .9 .9 .8 .9 .8 .9 .9 .9 .8 .9 .8 .9 .9 .9 .8 .9 .9 .9 .8 .9 .8 .9 .9 .9 .8 .9 .8 .8 .9 .9 .8 .9 .9 .9 .8 .9 .8 .9 .9 .8 .8 .9 .8 .9 .9 .9 .8 .8 .9 .9 .8 .9 .8 .8 .9 .9 .8 .9 .8 .8 .9 .9 .8 .8 .9 .9 .8 .8 .8 .9 .9 .8 .8 .8 .8 .8 .9 .9 .8 .8 .9 .8 .8 .8 .8 .7 .9 .8 .8 .8 .8 .7 .9 .7 .8 .8 .9 .7 .8 .6 .8 .7 .9 .6 .8 .6 .9 .5 .8 .5 .8 .4 .9 .4 .8 .4 .8 .3 .9 .2 .8 .1 .9 .1 .8-.1 .8-.2 .9-.3 .8-.6 .8-.6 .9-.8 .8-1 .9-1 .8-1.2 .8-1.2 .9-1.3 .8-1.4 .8-1.5 .9-1.5 .8-1.5 .9-1.6 .8-1.7 .8-1.6 .9-1.7 .8-1.7 .8-1.8 .9-1.8 .8-1.7 .9-1.8 .8-1.9 .8-1.8 .9-1.8 .8-1.9 .8-1.9 .9-1.8 .8-1.9 .9-1.9 .8-1.9 .8-1.9 .9-2 .8-1.9 .8-1.9 .9-1.9 .8-2 .9-1.9 .8-2 .8-1.9 .9-2 .8-1.9 .9-2 .8-1.9 .8-2 .9-2" stroke="#f9c2a7"/><path d="M481.6 34.4l.8 .9 .8 1 .9 .9 .8 .9 .9 .9 .8 .9 .8 .9 .9 .9 .8 .9 .8 .9 .9 .9 .8 1 .9 .9 .8 .9 .8 .9 .9 .9 .8 .9 .8 .9 .9 .9 .8 .9 .9 .9 .8 .9 .8 .9 .9 1 .8 .9 .8 .9 .9 .9 .8 .9 .9 .9 .8 .9 .8 .9 .9 .9 .8 .9 .8 .9 .9 .9 .8 .9 .9 .9 .8 .9 .8 .9 .9 .9 .8 .9 .8 1 .9 .9 .8 .9 .9 .9 .8 .9 .8 .9 .9 .9 .8 .9 .9 .9 .8 .9 .8 .9 .9 .9 .8 .9 .8 .9 .9 .8 .8 .9 .9 .9 .8 .9 .8 .9 .9 .9 .8 .9 .8 .9 .9 .9 .8 .9 .9 .9 .8 .9 .8 .8 .9 .9 .8 .9 .8 .9 .9 .9 .8 .8 .9 .9 .8 .9 .8 .9 .9 .8 .8 .9 .8 .9 .9 .8 .8 .9 .9 .8 .8 .9 .8 .8 .9 .9 .8 .8 .8 .8 .9 .8 .8 .9 .9 .8 .8 .8 .8 .8 .9 .8 .8 .7 .8 .8 .9 .7 .8 .8 .9 .7 .8 .6 .8 .7 .9 .7 .8 .6 .9 .5 .8 .6 .8 .5 .9 .4 .8 .4 .8 .3 .9 .3 .8 .2 .9 .1 .8 0 .8 0 .9-.2 .8-.4 .8-.6 .9-.6 .8-.9 .9-.9 .8-1 .8-1.1 .9-1.2 .8-1.3 .8-1.4 .9-1.4 .8-1.5 .9-1.5 .8-1.5 .8-1.6 .9-1.6 .8-1.6 .8-1.7 .9-1.7 .8-1.7 .9-1.7 .8-1.8 .8-1.7 .9-1.8 .8-1.8 .8-1.8 .9-1.8 .8-1.8 .9-1.8 .8-1.8 .8-1.9 .9-1.8 .8-1.9 .8-1.8 .9-1.9 .8-1.8 .9-1.9 .8-1.9 .8-1.8 .9-1.9 .8-1.9 .9-1.9 .8-1.9 .8-1.9 .9-1.9" stroke="#f6b292"/><path d="M481.6 32.9l.8 .9 .8 .9 .9 .9 .8 .9 .9 1 .8 .9 .8 .9 .9 .9 .8 .9 .8 .9 .9 .9 .8 .9 .9 1 .8 .9 .8 .9 .9 .9 .8 .9 .8 .9 .9 .9 .8 .9 .9 1 .8 .9 .8 .9 .9 .9 .8 .9 .8 .9 .9 .9 .8 .9 .9 .9 .8 .9 .8 1 .9 .9 .8 .9 .8 .9 .9 .9 .8 .9 .9 .9 .8 .9 .8 .9 .9 .9 .8 .9 .8 .9 .9 .9 .8 1 .9 .9 .8 .9 .8 .9 .9 .9 .8 .9 .9 .9 .8 .9 .8 .9 .9 .9 .8 .9 .8 .9 .9 .9 .8 .9 .9 .9 .8 .9 .8 .9 .9 .9 .8 .9 .8 .9 .9 .8 .8 .9 .9 .9 .8 .9 .8 .9 .9 .9 .8 .9 .8 .9 .9 .8 .8 .9 .9 .9 .8 .9 .8 .9 .9 .8 .8 .9 .8 .9 .9 .8 .8 .9 .9 .9 .8 .8 .8 .9 .9 .8 .8 .9 .8 .8 .9 .8 .8 .8 .9 .9 .8 .8 .8 .8 .9 .8 .8 .8 .8 .7 .9 .8 .8 .7 .9 .8 .8 .7 .8 .6 .9 .7 .8 .6 .9 .6 .8 .6 .8 .5 .9 .5 .8 .5 .8 .3 .9 .4 .8 .2 .9 .2 .8 .1 .8 0 .9-.1 .8-.2 .8-.4 .9-.6 .8-.7 .9-.8 .8-.9 .8-1 .9-1.1 .8-1.2 .8-1.2 .9-1.3 .8-1.4 .9-1.4 .8-1.5 .8-1.5 .9-1.5 .8-1.5 .8-1.6 .9-1.6 .8-1.7 .9-1.6 .8-1.7 .8-1.7 .9-1.7 .8-1.7 .8-1.7 .9-1.7 .8-1.8 .9-1.7 .8-1.8 .8-1.7 .9-1.8 .8-1.8 .8-1.7 .9-1.8 .8-1.8 .9-1.8 .8-1.8 .8-1.8 .9-1.8 .8-1.8 .9-1.8 .8-1.9 .8-1.8 .9-1.8" stroke="#f2a17f"/><path d="M481.6 31.4l.8 .9 .8 .9 .9 .9 .8 .9 .9 .9 .8 .9 .8 1 .9 .9 .8 .9 .8 .9 .9 .9 .8 .9 .9 1 .8 .9 .8 .9 .9 .9 .8 .9 .8 .9 .9 .9 .8 1 .9 .9 .8 .9 .8 .9 .9 .9 .8 .9 .8 .9 .9 1 .8 .9 .9 .9 .8 .9 .8 .9 .9 .9 .8 .9 .8 .9 .9 1 .8 .9 .9 .9 .8 .9 .8 .9 .9 .9 .8 .9 .8 .9 .9 .9 .8 .9 .9 .9 .8 1 .8 .9 .9 .9 .8 .9 .9 .9 .8 .9 .8 .9 .9 .9 .8 .9 .8 .9 .9 .9 .8 .9 .9 .9 .8 .9 .8 .9 .9 .9 .8 .9 .8 .9 .9 .9 .8 .9 .9 .9 .8 .9 .8 .9 .9 .9 .8 .9 .8 .8 .9 .9 .8 .9 .9 .9 .8 .9 .8 .9 .9 .8 .8 .9 .8 .9 .9 .9 .8 .8 .9 .9 .8 .8 .8 .9 .9 .9 .8 .8 .8 .9 .9 .8 .8 .8 .9 .8 .8 .9 .8 .8 .9 .8 .8 .8 .8 .8 .9 .7 .8 .8 .9 .7 .8 .8 .8 .7 .9 .6 .8 .7 .9 .6 .8 .6 .8 .6 .9 .5 .8 .5 .8 .4 .9 .4 .8 .3 .9 .2 .8 .2 .8 .1 .9 0 .8-.1 .8-.3 .9-.4 .8-.6 .9-.7 .8-.7 .8-.9 .9-1 .8-1.1 .8-1.2 .9-1.2 .8-1.2 .9-1.4 .8-1.3 .8-1.5 .9-1.4 .8-1.5 .8-1.5 .9-1.5 .8-1.6 .9-1.5 .8-1.6 .8-1.6 .9-1.6 .8-1.7 .8-1.6 .9-1.7 .8-1.6 .9-1.7 .8-1.7 .8-1.7 .9-1.7 .8-1.7 .8-1.7 .9-1.7 .8-1.7 .9-1.7 .8-1.7 .8-1.8 .9-1.7 .8-1.7 .9-1.8 .8-1.7 .8-1.8 .9-1.7" stroke="#e98d6f"/><path d="M481.6 29.8l.8 .9 .8 .9 .9 1 .8 .9 .9 .9 .8 .9 .8 .9 .9 1 .8 .9 .8 .9 .9 .9 .8 .9 .9 .9 .8 1 .8 .9 .9 .9 .8 .9 .8 .9 .9 1 .8 .9 .9 .9 .8 .9 .8 .9 .9 .9 .8 1 .8 .9 .9 .9 .8 .9 .9 .9 .8 .9 .8 .9 .9 1 .8 .9 .8 .9 .9 .9 .8 .9 .9 .9 .8 .9 .8 1 .9 .9 .8 .9 .8 .9 .9 .9 .8 .9 .9 .9 .8 .9 .8 1 .9 .9 .8 .9 .9 .9 .8 .9 .8 .9 .9 .9 .8 .9 .8 .9 .9 .9 .8 .9 .9 .9 .8 .9 .8 .9 .9 .9 .8 .9 .8 1 .9 .9 .8 .8 .9 .9 .8 .9 .8 .9 .9 .9 .8 .9 .8 .9 .9 .9 .8 .9 .9 .9 .8 .9 .8 .9 .9 .8 .8 .9 .8 .9 .9 .9 .8 .8 .9 .9 .8 .9 .8 .8 .9 .9 .8 .9 .8 .8 .9 .9 .8 .8 .9 .8 .8 .9 .8 .8 .9 .8 .8 .8 .8 .8 .9 .8 .8 .7 .9 .8 .8 .7 .8 .8 .9 .7 .8 .6 .9 .7 .8 .6 .8 .6 .9 .6 .8 .5 .8 .4 .9 .5 .8 .3 .9 .3 .8 .2 .8 .2 .9 .1 .8 0 .8-.2 .9-.3 .8-.4 .9-.6 .8-.6 .8-.8 .9-.9 .8-1 .8-1 .9-1.1 .8-1.2 .9-1.2 .8-1.3 .8-1.4 .9-1.3 .8-1.4 .8-1.4 .9-1.5 .8-1.5 .9-1.4 .8-1.6 .8-1.5 .9-1.5 .8-1.6 .8-1.5 .9-1.6 .8-1.6 .9-1.6 .8-1.6 .8-1.6 .9-1.7 .8-1.6 .8-1.6 .9-1.7 .8-1.6 .9-1.7 .8-1.6 .8-1.7 .9-1.6 .8-1.7 .9-1.7 .8-1.6 .8-1.7 .9-1.7" stroke="#e17860"/><path d="M481.6 28.3l.8 .9 .8 .9 .9 .9 .8 .9 .9 1 .8 .9 .8 .9 .9 .9 .8 1 .8 .9 .9 .9 .8 .9 .9 .9 .8 1 .8 .9 .9 .9 .8 .9 .8 .9 .9 1 .8 .9 .9 .9 .8 .9 .8 .9 .9 1 .8 .9 .8 .9 .9 .9 .8 .9 .9 1 .8 .9 .8 .9 .9 .9 .8 .9 .8 .9 .9 1 .8 .9 .9 .9 .8 .9 .8 .9 .9 .9 .8 1 .8 .9 .9 .9 .8 .9 .9 .9 .8 .9 .8 .9 .9 1 .8 .9 .9 .9 .8 .9 .8 .9 .9 .9 .8 .9 .8 .9 .9 .9 .8 1 .9 .9 .8 .9 .8 .9 .9 .9 .8 .9 .8 .9 .9 .9 .8 .9 .9 .9 .8 .9 .8 .9 .9 .9 .8 .9 .8 .9 .9 .9 .8 .9 .9 .9 .8 .9 .8 .8 .9 .9 .8 .9 .8 .9 .9 .9 .8 .9 .9 .8 .8 .9 .8 .9 .9 .8 .8 .9 .8 .9 .9 .8 .8 .8 .9 .9 .8 .8 .8 .9 .9 .8 .8 .8 .8 .8 .9 .8 .8 .8 .9 .7 .8 .8 .8 .7 .9 .8 .8 .7 .9 .6 .8 .7 .8 .6 .9 .6 .8 .5 .8 .6 .9 .4 .8 .4 .9 .4 .8 .2 .8 .2 .9 .2 .8 0 .8 0 .9-.2 .8-.3 .9-.4 .8-.6 .8-.6 .9-.8 .8-.9 .8-.9 .9-1 .8-1.1 .9-1.1 .8-1.2 .8-1.3 .9-1.2 .8-1.4 .8-1.3 .9-1.4 .8-1.4 .9-1.4 .8-1.4 .8-1.5 .9-1.4 .8-1.5 .8-1.5 .9-1.5 .8-1.5 .9-1.5 .8-1.6 .8-1.5 .9-1.6 .8-1.5 .8-1.6 .9-1.5 .8-1.6 .9-1.6 .8-1.6 .8-1.6 .9-1.6 .8-1.5 .9-1.6 .8-1.6 .8-1.6 .9-1.6" stroke="#d86450"/><path d="M481.6 26.7l.8 .9 .8 1 .9 .9 .8 .9 .9 .9 .8 .9 .8 1 .9 .9 .8 .9 .8 .9 .9 1 .8 .9 .9 .9 .8 .9 .8 1 .9 .9 .8 .9 .8 .9 .9 1 .8 .9 .9 .9 .8 .9 .8 1 .9 .9 .8 .9 .8 .9 .9 .9 .8 1 .9 .9 .8 .9 .8 .9 .9 .9 .8 1 .8 .9 .9 .9 .8 .9 .9 .9 .8 1 .8 .9 .9 .9 .8 .9 .8 .9 .9 1 .8 .9 .9 .9 .8 .9 .8 .9 .9 .9 .8 1 .9 .9 .8 .9 .8 .9 .9 .9 .8 .9 .8 .9 .9 1 .8 .9 .9 .9 .8 .9 .8 .9 .9 .9 .8 .9 .8 .9 .9 .9 .8 .9 .9 .9 .8 .9 .8 1 .9 .9 .8 .9 .8 .9 .9 .9 .8 .8 .9 .9 .8 .9 .8 .9 .9 .9 .8 .9 .8 .9 .9 .9 .8 .9 .9 .8 .8 .9 .8 .9 .9 .9 .8 .8 .8 .9 .9 .8 .8 .9 .9 .8 .8 .9 .8 .8 .9 .9 .8 .8 .8 .8 .9 .8 .8 .8 .9 .8 .8 .7 .8 .8 .9 .7 .8 .8 .9 .7 .8 .6 .8 .7 .9 .6 .8 .6 .8 .5 .9 .5 .8 .5 .9 .4 .8 .3 .8 .3 .9 .2 .8 .1 .8 0 .9 0 .8-.2 .9-.3 .8-.5 .8-.5 .9-.7 .8-.8 .8-.8 .9-.9 .8-1 .9-1 .8-1.1 .8-1.2 .9-1.2 .8-1.2 .8-1.3 .9-1.3 .8-1.3 .9-1.3 .8-1.4 .8-1.3 .9-1.4 .8-1.4 .8-1.5 .9-1.4 .8-1.4 .9-1.5 .8-1.4 .8-1.5 .9-1.5 .8-1.5 .8-1.5 .9-1.4 .8-1.5 .9-1.6 .8-1.5 .8-1.5 .9-1.5 .8-1.5 .9-1.5 .8-1.6 .8-1.5 .9-1.5" stroke="#ce4f45"/><path d="M481.6 25.1l.8 1 .8 .9 .9 .9 .8 1 .9 .9 .8 .9 .8 .9 .9 1 .8 .9 .8 .9 .9 .9 .8 1 .9 .9 .8 .9 .8 .9 .9 1 .8 .9 .8 .9 .9 1 .8 .9 .9 .9 .8 .9 .8 1 .9 .9 .8 .9 .8 .9 .9 1 .8 .9 .9 .9 .8 .9 .8 1 .9 .9 .8 .9 .8 .9 .9 .9 .8 1 .9 .9 .8 .9 .8 .9 .9 1 .8 .9 .8 .9 .9 .9 .8 .9 .9 1 .8 .9 .8 .9 .9 .9 .8 .9 .9 1 .8 .9 .8 .9 .9 .9 .8 .9 .8 .9 .9 1 .8 .9 .9 .9 .8 .9 .8 .9 .9 .9 .8 .9 .8 1 .9 .9 .8 .9 .9 .9 .8 .9 .8 .9 .9 .9 .8 .9 .8 .9 .9 .9 .8 .9 .9 .9 .8 .9 .8 .9 .9 .9 .8 .9 .8 .9 .9 .9 .8 .9 .9 .8 .8 .9 .8 .9 .9 .9 .8 .9 .8 .8 .9 .9 .8 .8 .9 .9 .8 .9 .8 .8 .9 .8 .8 .9 .8 .8 .9 .8 .8 .8 .9 .8 .8 .8 .8 .8 .9 .7 .8 .7 .9 .8 .8 .7 .8 .6 .9 .7 .8 .6 .8 .6 .9 .5 .8 .5 .9 .4 .8 .4 .8 .3 .9 .3 .8 .2 .8 .1 .9 0 .8-.1 .9-.2 .8-.3 .8-.5 .9-.5 .8-.7 .8-.7 .9-.8 .8-.9 .9-1 .8-1 .8-1 .9-1.1 .8-1.2 .8-1.2 .9-1.2 .8-1.2 .9-1.3 .8-1.2 .8-1.3 .9-1.4 .8-1.3 .8-1.3 .9-1.4 .8-1.4 .9-1.3 .8-1.4 .8-1.4 .9-1.4 .8-1.4 .8-1.4 .9-1.5 .8-1.4 .9-1.4 .8-1.5 .8-1.4 .9-1.4 .8-1.5 .9-1.4 .8-1.5 .8-1.5 .9-1.4" stroke="#c33a3b"/><path d="M481.6 23.6l.8 .9 .8 .9 .9 1 .8 .9 .9 .9 .8 1 .8 .9 .9 .9 .8 1 .8 .9 .9 .9 .8 .9 .9 1 .8 .9 .8 .9 .9 1 .8 .9 .8 .9 .9 .9 .8 1 .9 .9 .8 .9 .8 1 .9 .9 .8 .9 .8 .9 .9 1 .8 .9 .9 .9 .8 1 .8 .9 .9 .9 .8 .9 .8 1 .9 .9 .8 .9 .9 .9 .8 1 .8 .9 .9 .9 .8 .9 .8 1 .9 .9 .8 .9 .9 .9 .8 1 .8 .9 .9 .9 .8 .9 .9 .9 .8 1 .8 .9 .9 .9 .8 .9 .8 .9 .9 1 .8 .9 .9 .9 .8 .9 .8 .9 .9 1 .8 .9 .8 .9 .9 .9 .8 .9 .9 .9 .8 .9 .8 .9 .9 1 .8 .9 .8 .9 .9 .9 .8 .9 .9 .9 .8 .9 .8 .9 .9 .9 .8 .9 .8 .9 .9 .9 .8 .9 .9 .8 .8 .9 .8 .9 .9 .9 .8 .9 .8 .8 .9 .9 .8 .9 .9 .8 .8 .9 .8 .9 .9 .8 .8 .8 .8 .9 .9 .8 .8 .8 .9 .8 .8 .8 .8 .8 .9 .8 .8 .7 .9 .7 .8 .8 .8 .7 .9 .6 .8 .7 .8 .6 .9 .5 .8 .6 .9 .4 .8 .5 .8 .3 .9 .4 .8 .2 .8 .2 .9 .1 .8 0 .9-.1 .8-.3 .8-.3 .9-.4 .8-.6 .8-.6 .9-.7 .8-.8 .9-.9 .8-.9 .8-1 .9-1 .8-1.1 .8-1.1 .9-1.1 .8-1.1 .9-1.2 .8-1.2 .8-1.2 .9-1.3 .8-1.2 .8-1.3 .9-1.3 .8-1.3 .9-1.3 .8-1.3 .8-1.3 .9-1.4 .8-1.3 .8-1.3 .9-1.4 .8-1.3 .9-1.4 .8-1.4 .8-1.3 .9-1.4 .8-1.4 .9-1.4 .8-1.3 .8-1.4 .9-1.4" stroke="#b82531"/><path d="M481.6 22l.8 .9 .8 1 .9 .9 .8 .9 .9 1 .8 .9 .8 .9 .9 1 .8 .9 .8 .9 .9 1 .8 .9 .9 .9 .8 1 .8 .9 .9 .9 .8 1 .8 .9 .9 .9 .8 1 .9 .9 .8 .9 .8 1 .9 .9 .8 .9 .8 1 .9 .9 .8 .9 .9 .9 .8 1 .8 .9 .9 .9 .8 1 .8 .9 .9 .9 .8 .9 .9 1 .8 .9 .8 .9 .9 1 .8 .9 .8 .9 .9 .9 .8 1 .9 .9 .8 .9 .8 .9 .9 1 .8 .9 .9 .9 .8 .9 .8 1 .9 .9 .8 .9 .8 .9 .9 1 .8 .9 .9 .9 .8 .9 .8 .9 .9 1 .8 .9 .8 .9 .9 .9 .8 .9 .9 1 .8 .9 .8 .9 .9 .9 .8 .9 .8 .9 .9 .9 .8 .9 .9 .9 .8 .9 .8 1 .9 .9 .8 .9 .8 .9 .9 .9 .8 .8 .9 .9 .8 .9 .8 .9 .9 .9 .8 .9 .8 .9 .9 .8 .8 .9 .9 .9 .8 .8 .8 .9 .9 .9 .8 .8 .8 .8 .9 .9 .8 .8 .9 .8 .8 .8 .8 .8 .9 .8 .8 .8 .9 .7 .8 .7 .8 .8 .9 .7 .8 .6 .8 .7 .9 .6 .8 .5 .9 .5 .8 .5 .8 .4 .9 .4 .8 .3 .8 .2 .9 .2 .8 0 .9 0 .8-.1 .8-.2 .9-.4 .8-.4 .8-.5 .9-.7 .8-.7 .9-.7 .8-.9 .8-.8 .9-1 .8-1 .8-1 .9-1 .8-1.1 .9-1.1 .8-1.1 .8-1.2 .9-1.1 .8-1.2 .8-1.2 .9-1.2 .8-1.2 .9-1.3 .8-1.2 .8-1.3 .9-1.2 .8-1.3 .8-1.2 .9-1.3 .8-1.3 .9-1.3 .8-1.3 .8-1.3 .9-1.3 .8-1.3 .9-1.3 .8-1.3 .8-1.3 .9-1.3" stroke="#a9152a"/><path d="M481.6 20.4l.8 1 .8 .9 .9 .9 .8 1 .9 .9 .8 1 .8 .9 .9 .9 .8 1 .8 .9 .9 .9 .8 1 .9 .9 .8 .9 .8 1 .9 .9 .8 .9 .8 1 .9 .9 .8 .9 .9 1 .8 .9 .8 1 .9 .9 .8 .9 .8 1 .9 .9 .8 .9 .9 1 .8 .9 .8 .9 .9 1 .8 .9 .8 .9 .9 .9 .8 1 .9 .9 .8 .9 .8 1 .9 .9 .8 .9 .8 1 .9 .9 .8 .9 .9 1 .8 .9 .8 .9 .9 .9 .8 1 .9 .9 .8 .9 .8 1 .9 .9 .8 .9 .8 .9 .9 1 .8 .9 .9 .9 .8 .9 .8 1 .9 .9 .8 .9 .8 .9 .9 .9 .8 1 .9 .9 .8 .9 .8 .9 .9 .9 .8 .9 .8 1 .9 .9 .8 .9 .9 .9 .8 .9 .8 .9 .9 .9 .8 .9 .8 .9 .9 .9 .8 .9 .9 .9 .8 .9 .8 .9 .9 .9 .8 .9 .8 .9 .9 .9 .8 .8 .9 .9 .8 .9 .8 .8 .9 .9 .8 .9 .8 .8 .9 .8 .8 .9 .9 .8 .8 .8 .8 .8 .9 .8 .8 .8 .9 .8 .8 .7 .8 .8 .9 .7 .8 .7 .8 .6 .9 .6 .8 .6 .9 .6 .8 .5 .8 .5 .9 .4 .8 .3 .8 .3 .9 .2 .8 .2 .9 0 .8 0 .8-.1 .9-.3 .8-.3 .8-.5 .9-.5 .8-.6 .9-.7 .8-.7 .8-.8 .9-.9 .8-.8 .8-1 .9-.9 .8-1 .9-1.1 .8-1 .8-1.1 .9-1.1 .8-1.1 .8-1.1 .9-1.1 .8-1.2 .9-1.1 .8-1.2 .8-1.2 .9-1.2 .8-1.2 .8-1.2 .9-1.2 .8-1.2 .9-1.2 .8-1.2 .8-1.2 .9-1.3 .8-1.2 .9-1.2 .8-1.3 .8-1.2 .9-1.3" stroke="#930e26"/><path d="M481.6 18.9l.8 .9 .8 .9 .9 1 .8 .9 .9 1 .8 .9 .8 .9 .9 1 .8 .9 .8 .9 .9 1 .8 .9 .9 1 .8 .9 .8 .9 .9 1 .8 .9 .8 1 .9 .9 .8 .9 .9 1 .8 .9 .8 .9 .9 1 .8 .9 .8 .9 .9 1 .8 .9 .9 1 .8 .9 .8 .9 .9 1 .8 .9 .8 .9 .9 1 .8 .9 .9 .9 .8 1 .8 .9 .9 .9 .8 1 .8 .9 .9 .9 .8 1 .9 .9 .8 .9 .8 1 .9 .9 .8 .9 .9 1 .8 .9 .8 .9 .9 1 .8 .9 .8 .9 .9 .9 .8 1 .9 .9 .8 .9 .8 1 .9 .9 .8 .9 .8 .9 .9 1 .8 .9 .9 .9 .8 .9 .8 .9 .9 1 .8 .9 .8 .9 .9 .9 .8 .9 .9 .9 .8 1 .8 .9 .9 .9 .8 .9 .8 .9 .9 .9 .8 .9 .9 .9 .8 .9 .8 .9 .9 .9 .8 .9 .8 .9 .9 .9 .8 .9 .9 .8 .8 .9 .8 .9 .9 .8 .8 .9 .8 .9 .9 .8 .8 .9 .9 .8 .8 .8 .8 .8 .9 .8 .8 .8 .9 .8 .8 .8 .8 .7 .9 .8 .8 .7 .8 .6 .9 .7 .8 .6 .9 .6 .8 .6 .8 .5 .9 .4 .8 .4 .8 .4 .9 .2 .8 .2 .9 .2 .8 0 .8-.1 .9-.1 .8-.2 .8-.4 .9-.4 .8-.5 .9-.6 .8-.7 .8-.7 .9-.7 .8-.8 .8-.9 .9-.9 .8-.9 .9-1 .8-.9 .8-1 .9-1 .8-1.1 .8-1 .9-1.1 .8-1 .9-1.1 .8-1.1 .8-1.1 .9-1.1 .8-1.2 .8-1.1 .9-1.1 .8-1.2 .9-1.1 .8-1.2 .8-1.1 .9-1.2 .8-1.1 .9-1.2 .8-1.2 .8-1.1 .9-1.2" stroke="#7d0723"/><path d="M481.6 17.3l.8 .9 .8 1 .9 .9 .8 .9 .9 1 .8 .9 .8 1 .9 .9 .8 1 .8 .9 .9 .9 .8 1 .9 .9 .8 1 .8 .9 .9 .9 .8 1 .8 .9 .9 1 .8 .9 .9 .9 .8 1 .8 .9 .9 1 .8 .9 .8 .9 .9 1 .8 .9 .9 1 .8 .9 .8 .9 .9 1 .8 .9 .8 1 .9 .9 .8 .9 .9 1 .8 .9 .8 .9 .9 1 .8 .9 .8 1 .9 .9 .8 .9 .9 1 .8 .9 .8 .9 .9 1 .8 .9 .9 .9 .8 1 .8 .9 .9 .9 .8 1 .8 .9 .9 .9 .8 1 .9 .9 .8 .9 .8 1 .9 .9 .8 .9 .8 .9 .9 1 .8 .9 .9 .9 .8 .9 .8 1 .9 .9 .8 .9 .8 .9 .9 1 .8 .9 .9 .9 .8 .9 .8 .9 .9 .9 .8 1 .8 .9 .9 .9 .8 .9 .9 .9 .8 .9 .8 .9 .9 .9 .8 .9 .8 .9 .9 .9 .8 .9 .9 .8 .8 .9 .8 .9 .9 .9 .8 .8 .8 .9 .9 .9 .8 .8 .9 .9 .8 .8 .8 .8 .9 .8 .8 .8 .9 .8 .8 .8 .8 .8 .9 .7 .8 .8 .8 .7 .9 .6 .8 .7 .9 .6 .8 .6 .8 .5 .9 .5 .8 .5 .8 .4 .9 .3 .8 .3 .9 .1 .8 .1 .8 .1 .9-.1 .8-.2 .8-.2 .9-.3 .8-.5 .9-.5 .8-.5 .8-.6 .9-.7 .8-.8 .8-.7 .9-.8 .8-.9 .9-.8 .8-.9 .8-1 .9-.9 .8-1 .8-.9 .9-1 .8-1 .9-1 .8-1.1 .8-1 .9-1 .8-1.1 .8-1 .9-1.1 .8-1.1 .9-1 .8-1.1 .8-1.1 .9-1.1 .8-1.1 .9-1.1 .8-1.1 .8-1.1 .9-1.1" stroke="#67001f" stroke-width="3.0"/></g>
<rect x="485.50" y="97.90" width="125.30" height="75.90" fill="none" stroke="#262626" stroke-width="1.20"/>
<path d="M513.20,173.80v4.00M546.50,173.80v4.00M579.80,173.80v4.00" stroke="#262626" stroke-width="1.00" fill="none"/>
<path d="M485.50,161.80h-4.00M485.50,129.90h-4.00M485.50,98.00h-4.00" stroke="#262626" stroke-width="1.00" fill="none"/>
<text id="t103" transform="translate(513.20,198.85) scale(1.0745,1)" font-size="24.50" text-anchor="middle" >-200</text>
<text id="t104" transform="translate(579.80,198.85) scale(1.0333,1)" font-size="24.50" text-anchor="middle" >0</text>
<text id="t105" transform="translate(475.60,170.50) scale(1.0437,1)" font-size="24.50" text-anchor="end" >0.5</text>
<text id="t106" transform="translate(475.60,138.60) scale(1.0774,1)" font-size="24.50" text-anchor="end" >1.0</text>
<text id="t107" transform="translate(475.60,106.70) scale(1.0774,1)" font-size="24.50" text-anchor="end" >1.5</text>
<path d="M485.5,173.8L530.04,256.3M610.8,173.8L554.73,256.3" stroke="#555" stroke-width="1.1" fill="none"/>
<rect x="530.04" y="249.61" width="24.69" height="5.35" fill="none" stroke="#555" stroke-width="1.1"/>
<rect x="78.80" y="74.20" width="253.70" height="182.10" fill="none" stroke="#262626" stroke-width="1.30"/>
<rect x="421.80" y="74.30" width="253.20" height="182.00" fill="none" stroke="#262626" stroke-width="1.30"/>
<rect x="78.80" y="329.50" width="253.70" height="182.50" fill="none" stroke="#262626" stroke-width="1.30"/>
<rect x="421.80" y="329.50" width="253.20" height="182.50" fill="none" stroke="#262626" stroke-width="1.30"/>
<rect x="78.80" y="585.30" width="253.70" height="182.20" fill="none" stroke="#262626" stroke-width="1.30"/>
<rect x="421.80" y="585.30" width="253.20" height="182.20" fill="none" stroke="#262626" stroke-width="1.30"/>
</svg></body></html>
